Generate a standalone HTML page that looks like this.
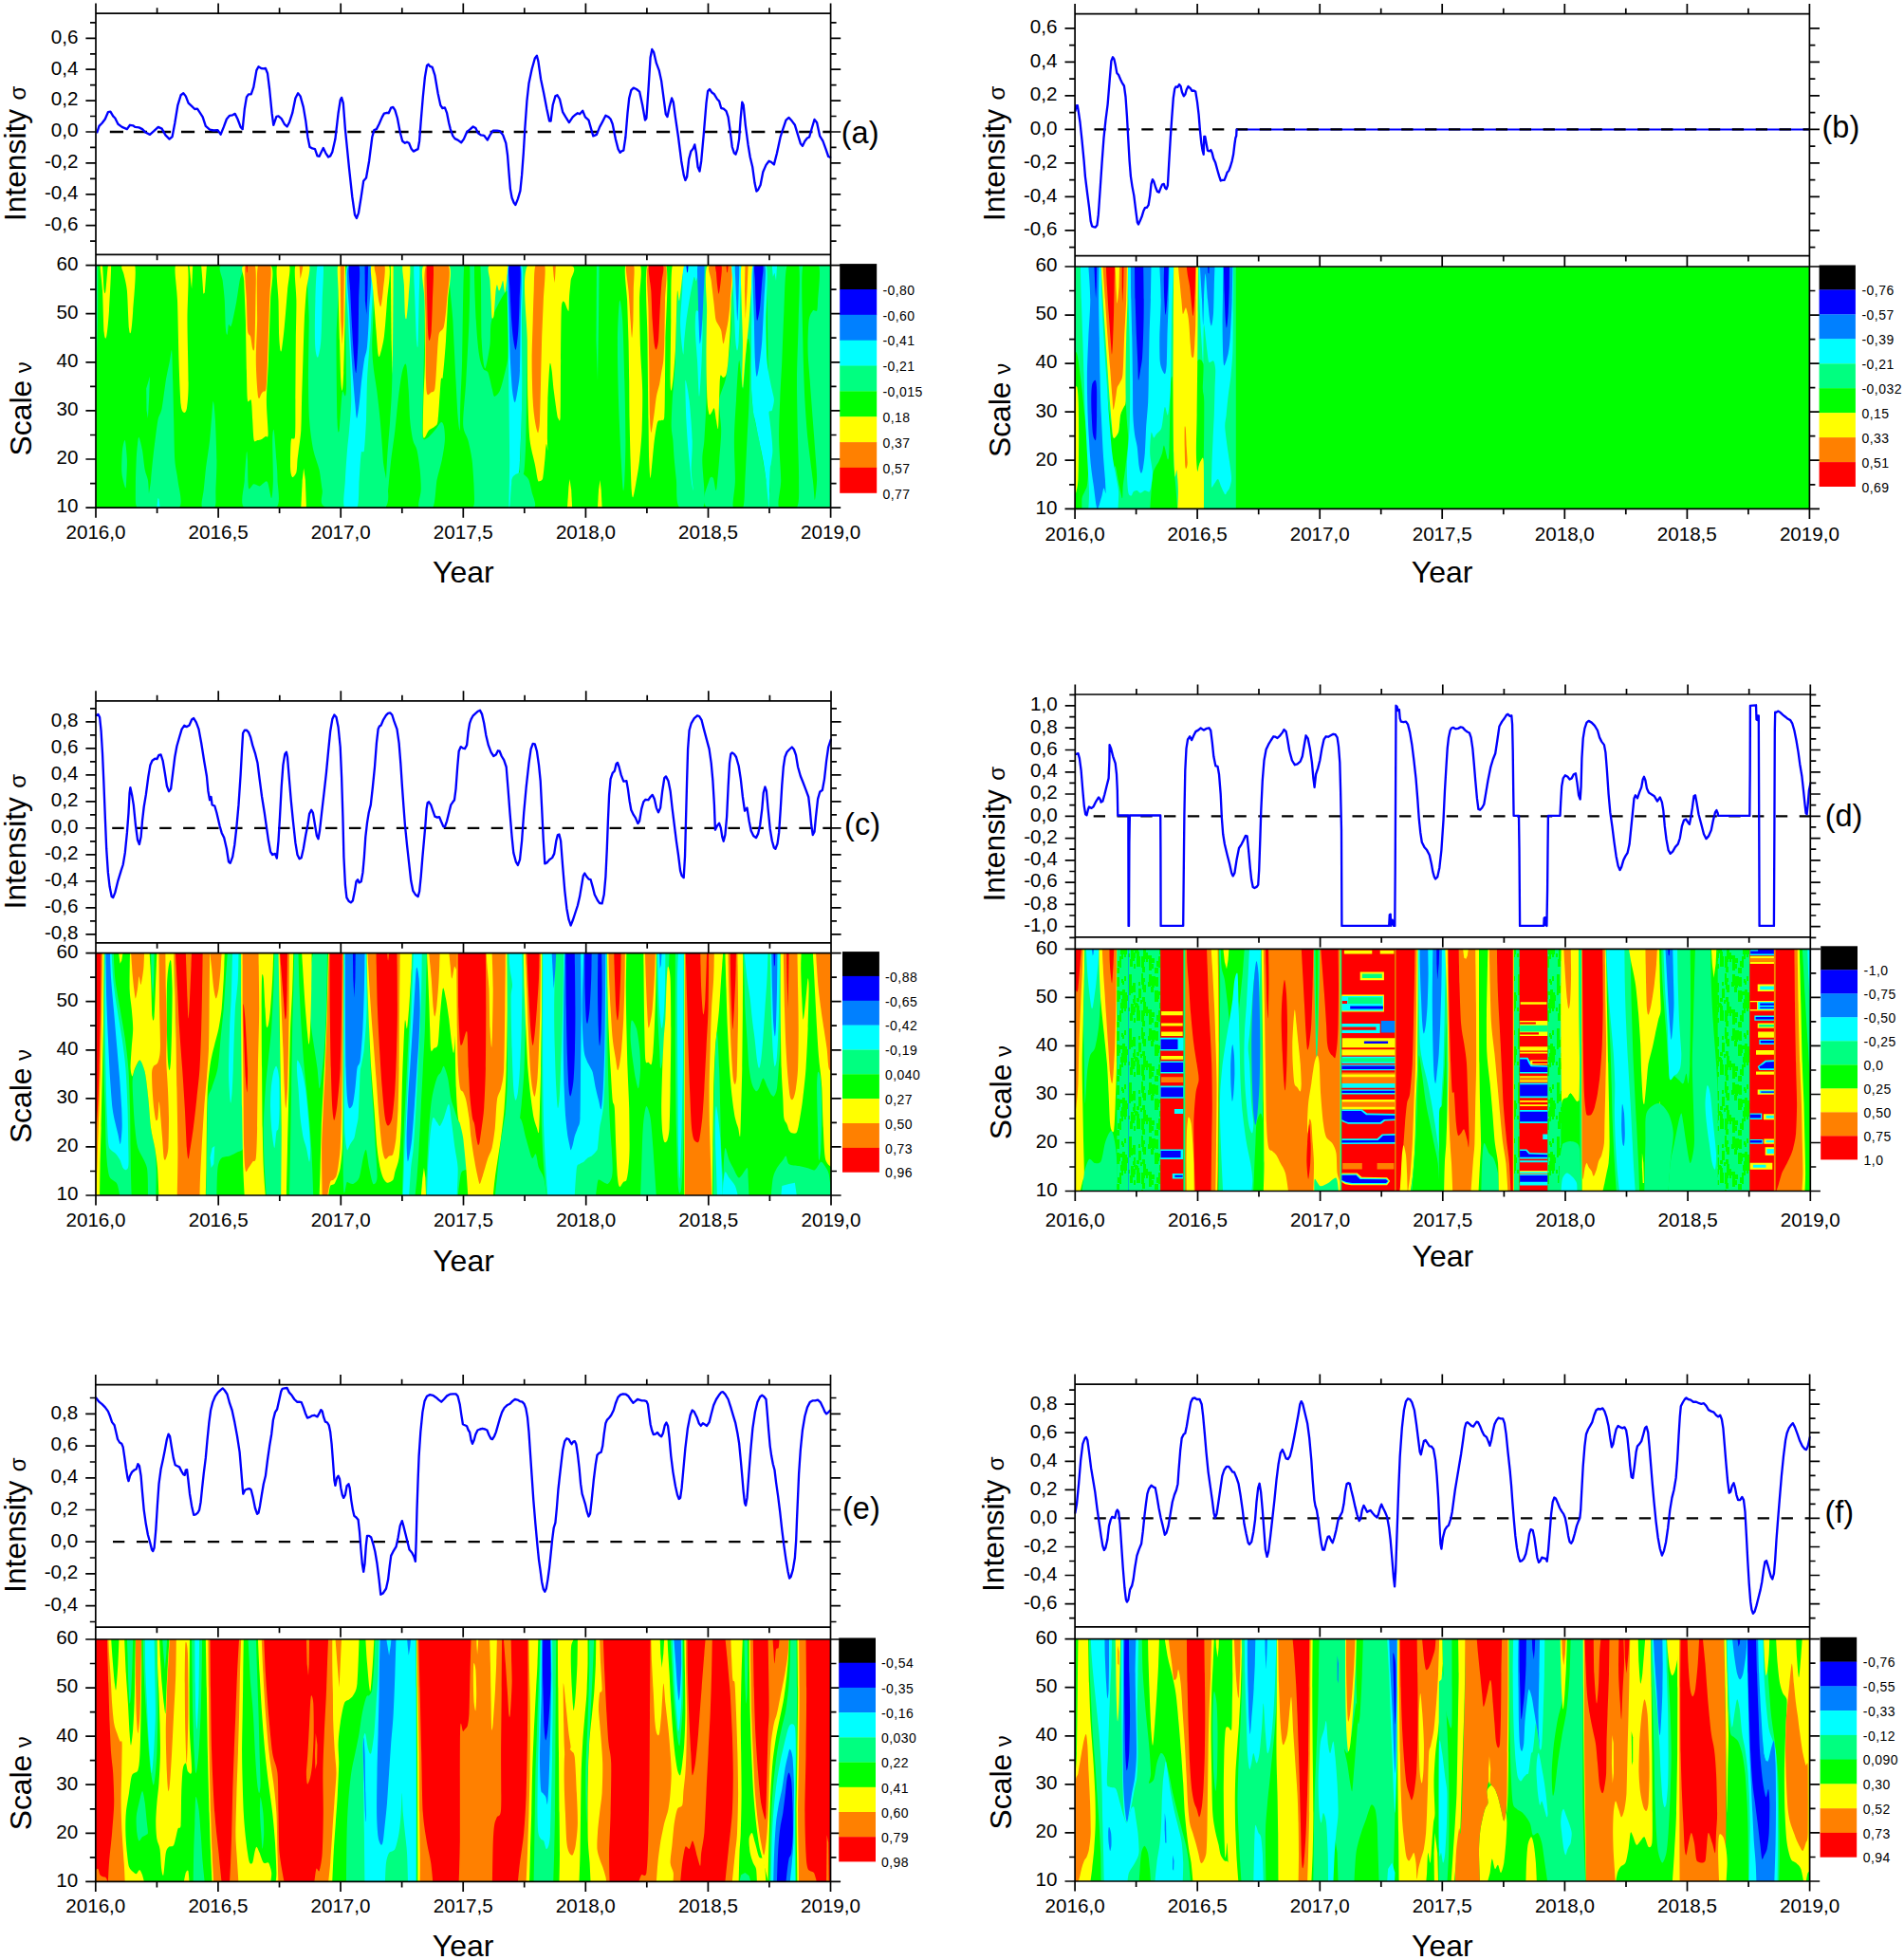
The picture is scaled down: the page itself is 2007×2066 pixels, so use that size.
<!DOCTYPE html>
<html><head><meta charset="utf-8"><title>Wavelet panels</title>
<style>html,body{margin:0;padding:0;background:#fff}svg{display:block}text{font-family:'Liberation Sans', Arial, sans-serif;fill:#000}</style>
</head><body>
<svg width="2007" height="2066" viewBox="0 0 2007 2066">
<rect width="2007" height="2066" fill="#fff"/>
<g id="panel-a">
<clipPath id="cha"><rect x="101" y="279.6" width="774.6" height="255.5"/></clipPath>
<g clip-path="url(#cha)">
<rect x="101" y="279.6" width="774.6" height="255.5" fill="#00FF00"/>
<path d="M100.9 280.3L103.4 280.3L103 338L101.3 401.1L100.9 401.1Z" fill="#00FF80"/>
<path d="M154.2 409.5L158 396.8L157 422.1L155.9 441L154.5 432.6Z" fill="#00FF80"/>
<path d="M181.1 369.5C181.6 372.5 181.9 390.8 182.2 401.1C182.5 411.3 182.9 431.3 183.2 443.1C183.5 454.8 183.7 476.3 184.3 485.1C184.9 493.9 186.8 499.2 187.4 506.1C188.1 513 193.2 530.7 189.1 534.7C185 538.7 162.2 538.7 158 534.7C153.8 530.7 158.5 514.5 159.1 506.1C159.7 497.7 161.2 483.4 162.2 474.6C163.3 465.8 165.3 449.2 166.4 443.1C167.6 436.9 169.5 436.3 170.6 430.5C171.8 424.6 173.7 408.1 174.8 401.1C176 394 178.2 384.5 179 380C179.9 375.6 180.7 366.6 181.1 369.5Z" fill="#00FF80"/>
<path d="M131.8 464.1C132.4 465.5 133.7 479.2 133.9 485.1C134.1 491 133.4 502 133.2 506.1C133 510.2 132.9 514.5 132.4 514.5C131.9 514.5 130.3 508.7 129.7 506.1C129.1 503.4 128.3 500 128.2 495.6C128.1 491.2 128.5 479 129 474.6C129.5 470.2 131.1 462.6 131.8 464.1Z" fill="#00FF80"/>
<path d="M146.5 460.9C147.2 461.8 149.2 469.7 150 474.6C150.9 479.4 151.9 491.2 152.8 495.6C153.6 500 155.3 502.6 155.9 506.1C156.5 509.6 156.7 516.8 157 520.8C157.3 524.8 159.8 532.7 158 534.7C156.3 536.6 146.5 537.2 144.4 534.7C142.3 532.1 143 523.5 142.9 516.6C142.8 509.7 143.4 491.8 143.7 485.1C144 478.3 144.6 471.7 145 468.3C145.4 464.9 145.8 460 146.5 460.9Z" fill="#00FF80"/>
<path d="M165.4 534.7L168.5 534.7L167.5 526.1L166.4 525Z" fill="#00FFFF"/>
<path d="M224.8 423.1C225.4 423.7 226.4 434.4 226.9 443.1C227.4 451.7 228.3 474.8 228.4 485.1C228.5 495.4 227.6 509.7 227.4 516.6C227.1 523.5 228.3 532.1 226.3 534.7C224.3 537.2 214.7 537.2 213.1 534.7C211.4 532.1 214.2 522.1 214.7 516.6C215.3 511.1 216 502.9 216.8 495.6C217.7 488.2 220.2 472 221.1 464.1C221.9 456.1 222.6 444.6 223.2 438.9C223.7 433.1 224.3 422.5 224.8 423.1Z" fill="#00FF80"/>
<path d="M232.6 280.3C235.5 278 252.9 278 255.7 280.3C258.5 282.5 253.4 290.9 252.6 296C251.7 301.2 250.4 311.1 249.4 317C248.4 322.9 246.1 334.2 245.2 338C244.3 341.8 243.7 343.7 243.1 344.3C242.5 344.9 241.5 341.1 241 342.2C240.5 343.4 240 352.1 239.5 352.7C239.1 353.3 238.2 351.4 237.9 346.4C237.5 341.4 237.2 324.1 236.8 317C236.4 310 235.3 301.2 234.7 296C234.1 290.9 229.7 282.5 232.6 280.3Z" fill="#00FF80"/>
<path d="M259.9 476.7C260.4 473.7 260.7 479.8 261 485.1C261.3 490.4 261.1 511 262 514.5C262.9 518 265.7 510.6 267.3 510.3C268.9 510 272.1 512.5 273.6 512.4C275 512.2 276.6 509.8 277.8 509.2C278.9 508.7 280.8 506 282 508.2C283.2 510.4 285.4 525.3 286.2 525C287 524.7 287.7 514.6 287.9 506.1C288 497.6 287.1 471.4 287.2 464.1C287.3 456.7 288.1 450.6 288.7 453.6C289.3 456.5 290.9 477.7 291.4 485.1C292 492.4 292.5 499.2 292.5 506.1C292.5 513 296.4 530.7 291.4 534.7C286.5 538.7 261.9 538.7 257.2 534.7C252.5 530.7 257.4 514.2 257.8 506.1C258.2 498 259.5 479.6 259.9 476.7Z" fill="#00FF80"/>
<path d="M326.1 280.3C330.3 272.2 351.5 269.2 355.5 280.3C359.5 291.3 354.5 336.2 354.5 359C354.5 381.8 355.1 429.8 355.5 443.1C355.9 456.3 356.9 457.7 357.6 453.6C358.3 449.5 359.7 419.8 360.8 413.7C361.8 407.5 364.2 428.1 365 409.5C365.7 390.8 362 298.3 366 280.3C370 262.2 389.6 267.8 393.3 280.3C397 292.8 391.7 350.9 392.3 369.5C392.9 388.2 396.3 403.4 397.5 413.7C398.7 423.9 399.8 433.1 400.7 443.1C401.6 453.1 403.1 472.3 403.8 485.1C404.6 497.9 414.3 527.7 405.9 534.7C397.5 541.6 353.2 537.2 343.9 534.7C334.7 532.1 340.8 522.1 339.7 516.6C338.7 511.1 337.9 501.5 336.6 495.6C335.3 489.7 331.8 481.9 330.3 474.6C328.8 467.2 326.8 453.4 326.1 443.1C325.4 432.8 325.1 415.8 325 401.1C325 386.3 325.5 354.9 325.7 338C325.8 321.1 321.9 288.3 326.1 280.3Z" fill="#00FF80"/>
<path d="M415.4 280.3C420 263.3 441.8 272.2 446.3 280.3C450.8 288.3 447.5 321.1 447.5 338C447.5 354.9 446.6 384.3 446.3 401.1C446 417.8 444.9 449.2 445.4 457.8C445.9 466.3 448.2 462.6 450 462C451.9 461.4 456.4 455.9 458.4 453.6C460.5 451.2 463.4 445.8 464.7 445.2C466.1 444.6 467.3 446.7 467.9 449.4C468.5 452 469.2 459.1 468.9 464.1C468.7 469.1 467 479.2 465.8 485.1C464.6 491 461.9 499.2 460.5 506.1C459.2 513 459 530.7 456.3 534.7C453.7 538.7 443.4 537.2 441.6 534.7C439.9 532.1 443.6 522.1 443.7 516.6C443.9 511.1 443.3 501.5 442.7 495.6C442.1 489.7 440.6 479 439.5 474.6C438.5 470.2 436.4 468.5 435.3 464.1C434.3 459.7 432.8 450.4 432.2 443.1C431.5 435.7 431.3 419.8 430.7 411.6C430.1 403.3 429 386.9 428 384.2C427 381.6 425 387.4 423.8 392.6C422.6 397.9 420.6 413.5 419.6 422.1C418.6 430.6 417.5 444.7 416.4 453.6C415.4 462.4 413.3 476.3 412.2 485.1C411.2 493.9 409.8 509.7 409.1 516.6C408.3 523.5 407.4 532.1 407 534.7C406.5 537.2 405.8 541.6 405.9 534.7C406.1 527.7 407.3 497.9 408 485.1C408.8 472.3 410.4 454.8 411.2 443.1C411.9 431.3 412.7 423.8 413.3 401.1C413.9 378.3 410.8 297.2 415.4 280.3Z" fill="#00FF80"/>
<path d="M474.2 280.3C476.7 272.2 492.1 254.5 495 280.3C497.9 306 496 440.7 495 464.1C494 487.5 489.3 448.7 487.9 447.3C486.4 445.8 485.4 454.7 484.7 453.6C484 452.4 483.2 446.2 482.6 438.9C482 431.5 481.2 415.2 480.5 401.1C479.8 386.9 478.2 354.9 477.4 338C476.5 321.1 471.7 288.3 474.2 280.3Z" fill="#00FF80"/>
<path d="M334.5 280.3C335.7 275.1 340.1 275.1 340.8 280.3C341.5 285.4 340.1 306 339.7 317C339.4 328 338.9 350.8 338.3 359C337.7 367.3 336.2 373.8 335.5 375.8C334.9 377.9 333.9 376.1 333.4 373.7C332.9 371.4 332.1 367 332 359C331.8 351.1 332 328 332.4 317C332.7 306 333.3 285.4 334.5 280.3Z" fill="#00FFFF"/>
<path d="M366 280.3C369.4 272.2 388.1 272.2 391.6 280.3C395.2 288.3 391.6 325.5 391.2 338C390.9 350.5 389.7 360.7 389.1 369.5C388.5 378.4 387.5 390.8 387 401.1C386.6 411.3 386.4 432.8 386 443.1C385.5 453.4 384.6 469.7 383.9 474.6C383.1 479.4 381.4 473.3 380.7 477.7C380 482.1 379.2 498.1 378.6 506.1C378 514.1 378.7 530.7 376.5 534.7C374.3 538.7 364.6 538.7 362.9 534.7C361.1 530.7 363.5 514.5 363.9 506.1C364.3 497.7 365.4 481.9 366 474.6C366.6 467.2 367.5 460.9 368.1 453.6C368.7 446.2 370.1 432.4 370.2 422.1C370.4 411.8 369.6 391.8 369.2 380C368.7 368.3 367.5 352 367.1 338C366.6 324.1 362.6 288.3 366 280.3Z" fill="#00FFFF"/>
<path d="M367.1 280.3C370.1 273.6 387.1 273.6 390.2 280.3C393.3 286.9 389.6 315.6 389.1 327.5C388.7 339.4 387.8 358 387 365.3C386.3 372.7 384.7 374.5 383.9 380C383 385.6 381.4 398.8 380.7 405.3C380 411.7 379.3 421.3 378.6 426.3C378 431.3 376.7 441 376.1 441C375.5 441 374.9 431.8 374.4 426.3C373.9 420.7 372.9 409 372.3 401.1C371.7 393.1 370.8 379.8 370.2 369.5C369.6 359.2 368.6 340 368.1 327.5C367.7 315 364 286.9 367.1 280.3Z" fill="#0080FF"/>
<path d="M368.1 280.3C369.4 276.6 377.2 275.1 378.6 280.3C380 285.4 378.3 306 378.2 317C378 328 377.9 348.4 377.6 359C377.2 369.6 376.1 389.7 375.5 392.6C374.9 395.6 373.9 386.2 373.4 380C372.8 373.9 371.8 358.8 371.3 348.5C370.7 338.2 369.6 316.1 369.2 306.5C368.7 297 366.8 283.9 368.1 280.3Z" fill="#0000FF"/>
<path d="M384.5 280.3L388.1 280.3L387.4 306.5L386.4 331.7L384.9 317Z" fill="#0000FF"/>
<path d="M436.4 280.3C437 275.1 441.3 275.1 442.1 280.3C442.8 285.4 441.8 305.4 441.6 317C441.4 328.6 440.9 357.4 440.6 363.2C440.2 369.1 439.6 365.5 439.1 359C438.7 352.6 437.8 328 437.4 317C437.1 306 435.7 285.4 436.4 280.3Z" fill="#00FFFF"/>
<path d="M105.5 280.3C105.5 276.6 107.4 276.6 108 280.3C108.6 283.9 109.2 302.8 109.7 306.5C110.2 310.2 110.8 310.2 111.4 306.5C112 302.8 113.1 283.9 113.9 280.3C114.7 276.6 116.9 273.6 117.1 280.3C117.2 286.9 115.6 317.1 115 327.5C114.3 338 113 351.6 112.2 354.8C111.5 358.1 110.3 357.4 109.7 350.6C109.1 343.9 108.6 316.4 108 306.5C107.4 296.7 105.5 283.9 105.5 280.3Z" fill="#FFFF00"/>
<path d="M128.6 280.3C130.2 278.9 140.7 273.6 142.3 280.3C143.9 286.9 140.8 317.8 140.2 327.5C139.6 337.2 138.7 346.9 138.1 349.6C137.5 352.2 136.6 352.5 136 346.4C135.4 340.4 134.6 314.5 133.9 306.5C133.1 298.6 131.4 293.4 130.7 289.7C130 286 127 281.6 128.6 280.3Z" fill="#FFFF00"/>
<path d="M184.9 280.3C186.4 275.1 196.2 272.2 197.9 280.3C199.7 288.3 197.4 320.5 197.5 338C197.6 355.5 198.7 392.3 198.6 405.3C198.5 418.2 197.6 426.3 196.9 430.5C196.2 434.6 194.6 435.3 193.7 434.7C192.9 434.1 191.3 433.9 190.6 426.3C189.9 418.6 189 395.3 188.5 380C188 364.7 187.5 331 187 317C186.5 303 183.4 285.4 184.9 280.3Z" fill="#FFFF00"/>
<path d="M199.6 280.3L203.2 280.3L202.1 304.4L201.1 296Z" fill="#FFFF00"/>
<path d="M212.2 280.3L217.9 280.3L215.8 308.6L214.3 309.7L213.1 291.8Z" fill="#FFFF00"/>
<path d="M256.8 280.3C260.8 278 281.8 275.1 285.8 280.3C289.7 285.4 285.5 303 285.1 317C284.7 331 283.6 365.3 283 380C282.4 394.7 281 411.2 280.9 422.1C280.9 432.9 282.8 452.5 282.6 457.8C282.5 463.1 280.8 459.1 279.9 459.9C278.9 460.6 276.8 462.4 275.7 463C274.5 463.6 272.6 463.9 271.5 464.1C270.4 464.2 268.4 467 267.7 464.1C267 461.1 266.6 448.9 266.2 443.1C265.8 437.2 265.5 425 264.7 422.1C264 419.1 261.6 426.5 261 422.1C260.3 417.6 260.2 402.3 259.9 390.5C259.6 378.8 259.2 351.3 258.9 338C258.5 324.8 257.5 304.1 257.2 296C256.9 287.9 252.8 282.5 256.8 280.3Z" fill="#FFFF00"/>
<path d="M258.4 280.3C259.7 275.1 267.4 275.1 268.9 280.3C270.5 285.4 269.5 305.1 269.4 317C269.3 328.9 268.8 358.3 268.3 365.3C267.9 372.4 266.8 368.9 266.2 367.4C265.6 366 264.9 357.5 264.1 354.8C263.4 352.2 261.6 353.8 261 348.5C260.4 343.2 260.3 326.6 259.9 317C259.6 307.5 257.2 285.4 258.4 280.3Z" fill="#FF8000"/>
<path d="M271.9 280.3C273.9 272.2 283.4 275.1 285.1 280.3C286.8 285.4 284.5 303 284.1 317C283.6 331 282.5 367.1 282 380C281.5 393 281.1 404.9 280.5 409.5C279.9 414 278.4 411.9 277.8 412.6C277.1 413.3 276.3 413.7 275.7 414.7C275 415.7 273.7 420.1 273.2 420C272.6 419.8 271.9 419.2 271.5 413.7C271 408.1 269.8 390.6 269.8 380C269.7 369.5 270.8 352 271.1 338C271.3 324.1 269.9 288.3 271.9 280.3Z" fill="#FF8000"/>
<path d="M259.5 280.3L261 280.3L260.5 287.6L259.9 286.6Z" fill="#FF0000"/>
<path d="M292.1 280.3C293.7 275.1 303.6 276.6 305.1 280.3C306.6 283.9 303.7 297.5 303 306.5C302.2 315.5 300.7 335.8 299.8 344.3C299 352.9 297.7 363.9 297.1 367.4C296.5 371 296 371.3 295.6 369.5C295.2 367.8 294.5 362.2 294.2 354.8C293.9 347.5 293.8 327.5 293.5 317C293.2 306.6 290.4 285.4 292.1 280.3Z" fill="#FFFF00"/>
<path d="M311.4 280.3C313.3 275.1 324.5 276.6 326.1 280.3C327.7 283.9 323.7 298.4 322.9 306.5C322.2 314.6 321.3 327.7 320.8 338C320.3 348.3 319.8 368.3 319.4 380C319 391.8 318.4 411.8 318.1 422.1C317.8 432.4 317.8 445.9 317.3 453.6C316.8 461.2 315.1 472.3 314.5 476.7C314 481.1 313.8 482.1 313.5 485.1C313.2 488 313.2 495.2 312.4 497.7C311.7 500.2 309.1 503.5 308.2 502.9C307.4 502.4 306.3 498.9 306.1 493.5C305.9 488 306.1 468.8 306.8 464.1C307.4 459.4 310.3 465.8 311 459.9C311.6 454 311.3 436.2 311.4 422.1C311.5 407.9 311.7 373.7 311.8 359C312 344.3 312.5 328 312.4 317C312.4 306 309.5 285.4 311.4 280.3Z" fill="#FFFF00"/>
<path d="M315.6 280.3L319.4 280.3L318.1 287.6L316.6 293.9Z" fill="#FF8000"/>
<path d="M317.3 534.7L322.9 534.7L321.9 506.1L320.2 493.5L318.7 506.1Z" fill="#FFFF00"/>
<path d="M356.1 280.3C357.2 276.6 362.9 272.2 363.9 280.3C364.9 288.3 363.7 322.3 363.5 338C363.3 353.8 362.6 382.4 362.2 392.6C361.8 402.9 361.2 410.4 360.8 411.6C360.3 412.7 359.7 408.4 359.3 401.1C358.9 393.7 358.4 372.3 358 359C357.6 345.8 356.8 317.5 356.6 306.5C356.3 295.5 355.1 283.9 356.1 280.3Z" fill="#FFFF00"/>
<path d="M358.7 280.3L362.9 280.3L362.2 338L360.8 363.2L359.3 338Z" fill="#FF8000"/>
<path d="M391.6 280.3C394 276.6 407.8 275.1 410.1 280.3C412.4 285.4 408.8 306.6 408 317C407.3 327.5 405.9 346.9 404.9 354.8C403.8 362.8 401.6 371.1 400.7 373.7C399.8 376.4 399.2 377.3 398.6 373.7C398 370.2 397.2 357.9 396.5 348.5C395.7 339.1 394 316.1 393.3 306.5C392.6 297 389.3 283.9 391.6 280.3Z" fill="#FFFF00"/>
<path d="M395 280.3C396.3 278.6 404.3 276.6 405.5 280.3C406.7 283.9 404.4 300.5 403.8 306.5C403.2 312.5 402 322.4 401.3 323.3C400.6 324.2 399.2 317.2 398.6 312.8C397.9 308.4 397 296.4 396.5 291.8C396 287.2 393.7 281.9 395 280.3Z" fill="#FF8000"/>
<path d="M411.8 280.3L414.7 280.3L414.3 338L413.7 395.8L412.6 359Z" fill="#FFFF00"/>
<path d="M424.4 280.3C425.3 277.5 431.3 275.7 432.2 280.3C433.1 284.8 431.2 305.2 430.7 312.8C430.2 320.5 429.1 332.2 428.6 334.9C428.1 337.5 427.3 336.6 426.9 331.7C426.6 326.9 426.2 307.4 425.9 300.2C425.5 293 423.5 283 424.4 280.3Z" fill="#FFFF00"/>
<path d="M446.3 280.3C449.9 275.1 470 275.1 473.6 280.3C477.2 285.4 472.6 306 472.1 317C471.6 328 470.7 347.9 470 359C469.3 370.2 467.6 391 466.8 396.8C466.1 402.7 465.5 394.6 464.7 401.1C464 407.5 462.5 436.3 461.6 443.1C460.7 449.8 459.8 447.9 458.4 449.4C457.1 450.8 453.6 452 452.1 453.6C450.7 455.2 448.8 460.3 447.9 460.9C447.1 461.5 446.1 463.2 445.8 457.8C445.6 452.3 446 432.9 446.3 422.1C446.6 411.2 447.8 394.7 447.9 380C448.1 365.3 447.8 331 447.5 317C447.3 303 442.6 285.4 446.3 280.3Z" fill="#FFFF00"/>
<path d="M449 280.3C452.4 272.2 469.6 275.1 472.7 280.3C475.8 285.4 471.7 308 471.1 317C470.4 326 469.1 339.3 467.9 344.3C466.7 349.3 463.7 347.7 462.6 352.7C461.6 357.7 461.1 372.1 460.5 380C460 388 459.3 404.7 458.4 409.5C457.6 414.2 455.4 412.8 454.2 413.7C453.1 414.5 451.2 417.5 450.5 415.8C449.7 414 449.3 411.9 449 401.1C448.7 390.2 448.6 354.9 448.6 338C448.6 321.1 445.6 288.3 449 280.3Z" fill="#FF8000"/>
<path d="M450 280.3C451 276.6 455.9 275.1 456.8 280.3C457.6 285.4 456.2 307.5 455.9 317C455.6 326.6 455.1 342.6 454.7 348.5C454.2 354.4 453.1 359 452.6 359C452.1 359 451.4 355.9 451.1 348.5C450.7 341.2 450.2 316.1 450 306.5C449.9 297 449.1 283.9 450 280.3Z" fill="#FF0000"/>
<path d="M485 280.3L537.5 280.3L537.5 534.7L485 534.7Z" fill="#00FF80"/>
<path d="M489.2 280.3C490.3 266.3 494.3 272.2 495.1 280.3C495.8 288.3 495 321.1 494.5 338C493.9 354.9 492.2 385.8 491.3 401.1C490.4 416.3 487.9 438.4 488.2 447.3C488.4 456.1 492.1 458.8 493.4 464.1C494.7 469.4 496.7 477.7 497.6 485.1C498.5 492.4 499.6 509.7 499.7 516.6C499.9 523.5 500.7 532.1 498.7 534.7C496.6 537.2 486.9 548.1 485 534.7C483.1 521.3 484.7 460.5 485 438.9C485.3 417.2 486.5 402.2 487.1 380C487.7 357.8 488.1 294.2 489.2 280.3Z" fill="#00FF00"/>
<path d="M500.1 280.3C500.8 272.2 505.4 269.2 506.4 280.3C507.5 291.3 507 343.9 507.7 359C508.4 374.2 510 387.9 511.3 388.4C512.5 389 515.5 370.6 516.5 363.2C517.5 355.9 516.1 343.9 518.6 335.9C521.1 328 532 306.2 534.4 306.5C536.8 306.8 535.7 328.3 535.8 338C536 347.7 535.9 368.2 535.4 375.8C534.9 383.5 533.4 387.6 532.3 392.6C531.1 397.6 528.6 408 527 411.6C525.5 415.1 522.3 418.2 521.1 417.9C520 417.6 519.6 413 518.6 409.5C517.7 405.9 515.7 395.6 514.4 392.6C513.1 389.7 510.5 391.1 509.2 388.4C507.8 385.8 506 380.8 505 373.7C503.9 366.7 502.5 351.1 501.8 338C501.1 324.9 499.5 288.3 500.1 280.3Z" fill="#00FF00"/>
<path d="M550.5 280.3C551.4 263.3 555.7 272.2 556.4 280.3C557.2 288.3 556.2 321.1 556 338C555.9 354.9 555.6 383.4 555.4 401.1C555.1 418.7 554.7 450.8 554.3 464.1C553.9 477.3 553.2 490.3 552.6 495.6C552.1 500.9 550.8 501.6 550.1 501.9C549.5 502.2 548.1 505.9 548 497.7C548 489.5 549.4 456.6 549.7 443.1C550.1 429.5 550.4 423.8 550.5 401.1C550.7 378.3 549.7 297.2 550.5 280.3Z" fill="#00FF80"/>
<path d="M540 504C541.4 498.8 546 498 548 497.7C550 497.4 553 500.7 554.3 501.9C555.7 503.1 556.6 503.7 557.5 506.1C558.4 508.4 559.8 514.7 560.6 518.7C561.4 522.7 566.2 532.4 563.2 534.7C560.1 536.9 541.8 539 538.6 534.7C535.3 530.4 538.7 509.2 540 504Z" fill="#00FF80"/>
<path d="M653.1 317C653.8 314.1 655.5 326.3 656.2 338C657 349.8 657.9 383.4 658.3 401.1C658.8 418.7 659.4 449.4 659.4 464.1C659.4 478.8 658.7 498.7 658.3 506.1C658 513.4 657.3 519.5 656.8 516.6C656.3 513.7 655.4 498.3 654.7 485.1C654.1 471.8 652.5 439.7 652 422.1C651.5 404.4 650.8 373.7 651 359C651.1 344.3 652.3 320 653.1 317Z" fill="#00FF80"/>
<path d="M628.9 280.3L631.6 280.3L631 338L630 401.1L628.5 359Z" fill="#00FF80"/>
<path d="M714 317C715.3 303 716.9 285.4 721.3 280.3C725.8 275.1 742.2 269.2 745.5 280.3C748.8 291.3 745.2 339.2 745.1 359C744.9 378.9 744.8 407.4 744.5 422.1C744.1 436.8 742.9 455.3 742.4 464.1C741.8 472.9 740.4 475.2 740.3 485.1C740.1 495 744.7 527.7 741.3 534.7C737.9 541.6 720.1 538.7 716.1 534.7C712.1 530.7 713.7 513 712.9 506.1C712.2 499.2 711.3 491 710.8 485.1C710.3 479.2 709.8 469.1 709.4 464.1C708.9 459.1 707.8 455.3 707.7 449.4C707.6 443.5 708.2 431.8 708.7 422.1C709.3 412.4 711.2 394.7 711.9 380C712.6 365.3 712.7 331 714 317Z" fill="#00FF80"/>
<path d="M758.1 422.1C758.8 414.1 763.7 407.1 765.5 396.8C767.2 386.6 769.8 364.9 770.7 348.5C771.6 332.2 768.5 289.8 771.8 280.3C775 270.7 791 272.2 793.8 280.3C796.7 288.3 792.4 321.1 792.1 338C791.8 354.9 791.5 387.8 791.7 401.1C792 414.3 792.6 423.7 793.8 432.6C795 441.4 798.2 453.8 800.1 464.1C802 474.4 806 496.2 807.5 506.1C808.9 516 819.3 530.7 810.6 534.7C802 538.7 754.3 538.7 745.5 534.7C736.7 530.7 746.7 510.4 747.6 506.1C748.5 501.8 750.8 502.5 751.8 504C752.8 505.5 754.1 519.2 755 516.6C755.8 513.9 757.4 493.9 758.1 485.1C758.8 476.3 760.2 462.4 760.2 453.6C760.2 444.7 757.4 430 758.1 422.1Z" fill="#00FF80"/>
<path d="M779.1 380C780.1 378.3 782.1 412.4 783.3 409.5C784.5 406.5 786.5 364.6 787.5 359C788.6 353.4 790.4 360.7 790.7 369.5C791 378.4 790.1 408.8 789.6 422.1C789.2 435.3 788.1 452.3 787.5 464.1C786.9 475.8 786 496.2 785.4 506.1C784.8 516 785.1 530.7 783.3 534.7C781.6 538.7 774 538.7 772.8 534.7C771.6 530.7 774.8 516 774.9 506.1C775.1 496.2 773.7 475.8 773.9 464.1C774 452.3 775.2 433.8 776 422.1C776.7 410.3 778.1 381.8 779.1 380Z" fill="#00FF00"/>
<path d="M808.1 280.3L875.8 280.3L875.8 534.7L811.7 534.7Z" fill="#00FF80"/>
<path d="M829.5 280.3C831.7 273.6 840.4 272.2 842.1 280.3C843.8 288.3 842 321.1 841.7 338C841.4 354.9 840.1 383.4 840 401.1C840 418.7 840.8 449.4 841.1 464.1C841.4 478.8 842.3 496.2 842.1 506.1C842 516 843 530.7 840 534.7C837.1 538.7 823.5 538.7 821.1 534.7C818.8 530.7 823.2 516 823.2 506.1C823.2 496.2 821.3 475.8 821.1 464.1C821 452.3 821.7 433.8 822.2 422.1C822.6 410.3 823.7 393.3 824.3 380C824.9 366.8 825.7 341.5 826.4 327.5C827.1 313.6 827.3 286.9 829.5 280.3Z" fill="#00FF00"/>
<path d="M846.3 280.3C848.7 269.2 860.9 275.1 863.2 280.3C865.4 285.4 862.4 310.4 862.1 317C861.8 323.6 861.8 326.1 861.1 327.5C860.3 329 858 326.1 856.8 327.5C855.7 329 853.4 332.1 852.6 338C851.9 343.9 851.4 360.7 851.6 369.5C851.7 378.4 853 390.8 853.7 401.1C854.4 411.3 856 431.3 856.8 443.1C857.7 454.8 859.4 476.3 860 485.1C860.6 493.9 861.2 500.2 861.1 506.1C860.9 512 859.5 527.1 858.9 527.1C858.4 527.1 857.9 514.9 856.8 506.1C855.8 497.3 852.8 475.8 851.6 464.1C850.4 452.3 849.2 436.8 848.4 422.1C847.7 407.4 846.6 378.9 846.3 359C846.1 339.2 844 291.3 846.3 280.3Z" fill="#00FF00"/>
<path d="M515.5 280.3C518.1 278 532.4 278.6 535 280.3C537.6 281.9 534.8 287.8 534.4 291.8C534 295.8 532.9 308 532.3 308.6C531.7 309.2 530.8 296.9 530.2 296C529.6 295.1 528.7 300.8 528.1 302.3C527.5 303.8 526.6 306.8 526 306.5C525.4 306.2 524.4 299.9 523.9 300.2C523.4 300.5 522.8 304.2 522.4 308.6C522 313 521.2 328 520.7 331.7C520.2 335.4 519.1 336.9 518.6 334.9C518.2 332.8 517.9 322.5 517.6 317C517.3 311.6 516.8 301.2 516.5 296C516.2 290.9 512.9 282.5 515.5 280.3Z" fill="#FFFF00"/>
<path d="M535.4 280.3C537.5 269.2 548.5 272.2 550.5 280.3C552.6 288.3 550.1 321.1 550.1 338C550.1 354.9 550.6 386.3 550.5 401.1C550.5 415.8 550.1 431.3 549.7 443.1C549.4 454.8 548.4 477.4 548 485.1C547.6 492.7 547.6 495.6 547 497.7C546.4 499.7 544.8 498.9 543.8 499.8C542.9 500.7 540.8 501.6 540 504C539.3 506.3 538.9 512.3 538.6 516.6C538.2 520.9 537.8 532.1 537.5 534.7C537.2 537.2 536.5 541.6 536.5 534.7C536.4 527.7 537.1 500.8 537.1 485.1C537.1 469.3 536.6 439.7 536.5 422.1C536.3 404.4 536 378.9 535.8 359C535.7 339.2 533.4 291.3 535.4 280.3Z" fill="#00FFFF"/>
<path d="M536.1 280.3C537.8 272.2 547.3 272.2 549.1 280.3C550.8 288.3 548.8 322.6 548.7 338C548.5 353.5 548.4 380.5 548 390.5C547.6 400.5 546.7 404.7 545.9 409.5C545.2 414.2 543.6 423.9 542.8 424.2C541.9 424.5 540.7 417.7 540 411.6C539.4 405.4 538.4 390.3 537.9 380C537.5 369.7 536.9 352 536.7 338C536.4 324.1 534.3 288.3 536.1 280.3Z" fill="#0080FF"/>
<path d="M536.7 280.3C538.2 276.6 546.5 275.1 548 280.3C549.6 285.4 547.8 307.5 547.6 317C547.4 326.6 546.9 341.3 546.3 348.5C545.8 355.7 544.5 367 543.8 368.5C543.1 370 541.9 363.3 541.3 359C540.7 354.8 539.7 345.4 539.2 338C538.7 330.7 537.9 314.6 537.5 306.5C537.2 298.4 535.2 283.9 536.7 280.3Z" fill="#0000FF"/>
<path d="M556 280.3C562.6 269.2 596.3 278 602.6 280.3C609 282.5 601.9 291.4 601.6 296C601.2 300.6 600.4 308.4 600.1 312.8C599.8 317.2 599.9 325.9 599.5 327.5C599.1 329.1 598 325.5 597.4 324.4C596.8 323.2 595.9 320 595.3 319.1C594.7 318.2 593.7 316.9 593.2 318.1C592.7 319.2 592 318.8 591.7 327.5C591.4 336.2 591.2 364.5 591.1 380C590.9 395.6 591.1 430.3 590.7 438.9C590.3 447.4 588.9 441.6 588.4 441C587.8 440.4 587.5 438.8 586.9 434.7C586.2 430.5 584.5 417.7 583.7 411.6C583 405.4 582.2 394.4 581.6 390.5C581.1 386.7 580.1 379.8 579.5 384.2C578.9 388.7 577.8 410.9 577.4 422.1C577.1 433.2 577 456.7 577 464.1C577 471.4 577.6 474 577.4 474.6C577.3 475.2 576.2 466.8 575.8 468.3C575.3 469.7 574.8 480.1 574.3 485.1C573.8 490.1 572.9 500.9 572.2 504C571.4 507.1 569.8 506.8 569 507.1C568.3 507.4 567.7 508.6 566.9 506.1C566.2 503.6 565 495.2 563.8 489.3C562.6 483.4 559.6 473.5 558.5 464.1C557.5 454.7 556.8 436.8 556.4 422.1C556 407.4 555.9 378.9 555.8 359C555.7 339.2 549.4 291.3 556 280.3Z" fill="#FFFF00"/>
<path d="M564.4 280.3C566 276.6 573.1 275.1 574.3 280.3C575.5 285.4 573.3 306 572.8 317C572.4 328 571.5 347.3 571.1 359C570.8 370.8 570.4 389.3 570.1 401.1C569.8 412.8 569.4 435.4 569 443.1C568.7 450.7 567.8 454.2 567.4 455.7C566.9 457.1 566.4 455.3 565.9 453.6C565.4 451.8 564.4 447.5 563.8 443.1C563.2 438.7 562.1 430.9 561.7 422.1C561.2 413.2 560.6 391.8 560.6 380C560.6 368.3 561.4 348.3 561.7 338C562 327.7 562.3 314.6 562.7 306.5C563.1 298.4 562.8 283.9 564.4 280.3Z" fill="#FF8000"/>
<path d="M582.7 280.3L585.8 280.3L584.8 298.1L583.7 291.8Z" fill="#FF8000"/>
<path d="M598 534.7L603.1 534.7L602.2 516.6L600.5 505L599.5 512.4Z" fill="#FFFF00"/>
<path d="M630 534.7L634.6 534.7L633.7 516.6L632.5 506.1L631 516.6Z" fill="#FFFF00"/>
<path d="M659.4 280.3C661.3 275.1 673.1 275.1 675.1 280.3C677.2 285.4 674.1 304.5 674.1 317C674.1 329.5 674.7 356.3 675.1 369.5C675.6 382.8 677 399.8 677.2 411.6C677.4 423.3 677 443.3 676.6 453.6C676.2 463.9 674.9 477.7 674.1 485.1C673.3 492.4 671.9 500.7 670.9 506.1C670 511.5 668.1 522.5 667.4 523.9C666.6 525.4 666.1 522 665.7 516.6C665.3 511.2 664.9 495.4 664.6 485.1C664.3 474.8 663.8 454.8 663.6 443.1C663.4 431.3 663.3 412.8 663.2 401.1C663 389.3 662.8 370.8 662.5 359C662.2 347.3 661.5 328 661.1 317C660.6 306 657.4 285.4 659.4 280.3Z" fill="#FFFF00"/>
<path d="M660 280.3C660.8 276.6 667.1 276.6 668.2 280.3C669.3 283.9 667.9 298.4 667.8 306.5C667.7 314.6 667.6 331.1 667.4 338C667.1 344.9 666.5 355.9 666.1 355.9C665.7 355.9 665.1 344.9 664.6 338C664.1 331.1 663.2 314.6 662.5 306.5C661.9 298.4 659.2 283.9 660 280.3Z" fill="#FF8000"/>
<path d="M682.1 280.3C684.9 269.2 699.7 269.2 702.4 280.3C705.1 291.3 701.6 342.1 701.4 359C701.2 375.9 701.1 389.9 701 401.1C700.8 412.2 700.9 433 700.3 438.9C699.8 444.7 698.2 442.2 697.2 443.1C696.2 443.9 694 442.2 693 445.2C692 448.1 690.6 458.5 689.8 464.1C689.1 469.7 688.3 479.5 687.7 485.1C687.1 490.7 686.1 504 685.6 504C685.1 504 684.5 493.6 684.2 485.1C683.9 476.6 683.8 460.7 683.5 443.1C683.3 425.4 682.7 381.8 682.5 359C682.3 336.2 679.3 291.3 682.1 280.3Z" fill="#FFFF00"/>
<path d="M682.9 280.3C685.5 273.6 699.3 275.1 701.8 280.3C704.3 285.4 701.2 306 701 317C700.8 328 700.6 350.2 700.3 359C700.1 367.9 699.7 375.3 699.3 380C698.8 384.7 697.8 389.1 697.2 392.6C696.6 396.2 695.8 401.7 695.1 405.3C694.3 408.8 692.7 413.7 691.9 417.9C691.2 422 690.4 430.3 689.8 434.7C689.2 439.1 688.2 446.4 687.7 449.4C687.2 452.3 686.6 457.1 686.3 455.7C685.9 454.2 685.3 449.5 685 438.9C684.7 428.3 684.4 395.6 684.2 380C684 364.5 683.7 341.5 683.5 327.5C683.4 313.6 680.3 286.9 682.9 280.3Z" fill="#FF8000"/>
<path d="M684.2 280.3C685.9 276.6 697 278 698.9 280.3C700.7 282.5 698 290.9 697.6 296C697.2 301.2 696.5 311.1 696.1 317C695.8 322.9 695.4 332.1 695.1 338C694.8 343.9 694.5 354.8 694 359C693.6 363.3 692.5 367.9 691.9 368.5C691.3 369.1 690.4 367.5 689.8 363.2C689.2 359 688.2 346 687.7 338C687.2 330.1 686.8 314.6 686.3 306.5C685.8 298.4 682.4 283.9 684.2 280.3Z" fill="#FF0000"/>
<path d="M708.7 280.3C710.6 272.2 719.2 278.6 720.7 280.3C722.2 281.9 719.9 286.7 719.2 291.8C718.6 297 716.8 315 716.1 317C715.4 319.1 714.4 303.6 714 306.5C713.6 309.5 713.2 329.2 712.9 338C712.6 346.8 712.3 361.3 711.9 369.5C711.4 377.8 710.4 391 709.8 396.8C709.2 402.7 708.1 411 707.7 411.6C707.2 412.1 706.7 411.3 706.6 401.1C706.6 390.8 707 354.9 707.3 338C707.6 321.1 706.9 288.3 708.7 280.3Z" fill="#FFFF00"/>
<path d="M721.3 280.3C723.7 276.6 734.3 278 736.1 280.3C737.8 282.5 734.5 294.4 733.9 296C733.4 297.6 732.4 291.2 731.8 291.8C731.3 292.4 730.5 296.7 729.7 300.2C729 303.7 727.5 311.7 726.6 317C725.7 322.3 724.2 332.1 723.4 338C722.7 343.9 721.8 354 721.3 359C720.9 364 720.7 373.7 720.3 373.7C719.9 373.7 718.6 364 718.2 359C717.8 354 717 345.4 717.1 338C717.3 330.7 718.7 314.6 719.2 306.5C719.8 298.4 719 283.9 721.3 280.3Z" fill="#00FFFF"/>
<path d="M733.9 327.5C735 326.1 739.5 330.7 740.3 338C741 345.4 740.1 368.9 739.6 380C739.2 391.2 737.7 417.9 737.1 417.9C736.5 417.9 735.6 389.7 735 380C734.4 370.3 733 355.9 732.9 348.5C732.8 341.2 732.9 329 733.9 327.5Z" fill="#00FFFF"/>
<path d="M735.4 280.3C736.4 276.6 741.5 275.1 742.4 280.3C743.2 285.4 741.7 307.5 741.3 317C740.9 326.6 740.1 342.2 739.6 348.5C739.1 354.9 738.2 363.7 737.7 362.2C737.3 360.7 736.8 345.8 736.5 338C736.2 330.2 735.8 314.6 735.6 306.5C735.5 298.4 734.5 283.9 735.4 280.3Z" fill="#0080FF"/>
<path d="M723.4 280.3L725.5 280.3L724.9 287.6L724.1 286.6Z" fill="#0000FF"/>
<path d="M722.4 401.1C722.8 398.1 725.6 413.2 726.6 422.1C727.6 430.9 729.5 453.8 729.7 464.1C730 474.4 728.6 488.2 728.7 495.6C728.8 502.9 730.8 515.1 730.8 516.6C730.8 518.1 729.4 512 728.7 506.1C728 500.2 726.3 483.4 725.5 474.6C724.8 465.8 723.9 453.4 723.4 443.1C723 432.8 722 404 722.4 401.1Z" fill="#00FFFF"/>
<path d="M745.5 280.3C749.2 273.6 767.6 275.1 771.1 280.3C774.7 285.4 770.9 307.5 770.7 317C770.5 326.6 770.1 339.7 769.7 348.5C769.2 357.4 768.2 373.6 767.6 380C767 386.5 766.2 392.2 765.5 394.7C764.7 397.2 763.2 397.6 762.3 397.9C761.4 398.2 759.7 393.5 759.2 396.8C758.6 400.2 758.4 414.4 758.1 422.1C757.8 429.7 757.5 448.5 757.1 451.5C756.6 454.4 755.5 446 755 443.1C754.4 440.1 753.5 431.6 752.9 430.5C752.2 429.3 750.9 433.8 750.1 434.7C749.4 435.5 748.3 438.5 747.6 436.8C747 435 745.9 430 745.5 422.1C745.1 414.1 744.5 393.3 744.5 380C744.4 366.8 744.9 341.5 745.1 327.5C745.2 313.6 741.9 286.9 745.5 280.3Z" fill="#FFFF00"/>
<path d="M748 280.3C750.9 278 767.3 275.1 770.3 280.3C773.3 285.4 770 308.9 769.7 317C769.3 325.1 768.3 332.7 767.6 338C766.8 343.3 765.1 351.4 764.4 354.8C763.7 358.2 762.9 363.1 762.3 362.2C761.7 361.3 760.9 351.3 760.2 348.5C759.5 345.7 757.9 344 757.1 342.2C756.2 340.5 755 339.5 754.3 335.9C753.7 332.4 752.9 322.6 752.2 317C751.6 311.4 750.3 301.2 749.7 296C749.1 290.9 745.1 282.5 748 280.3Z" fill="#FF8000"/>
<path d="M754.3 280.3C755.1 279.2 759.9 278 760.6 280.3C761.4 282.5 760.2 291.9 759.8 296C759.4 300.1 758.2 309.1 757.7 309.7C757.2 310.3 756.4 303.3 756 300.2C755.6 297.1 755.2 290.4 755 287.6C754.7 284.8 753.5 281.3 754.3 280.3Z" fill="#FF0000"/>
<path d="M765.5 280.3L767.6 280.3L766.9 287.6L766.1 286.6Z" fill="#FF0000"/>
<path d="M771.8 280.3C773 278 780 275.1 781.2 280.3C782.4 285.4 780.5 306 780.2 317C779.8 328 779.1 351.7 778.7 359C778.3 366.4 777.5 369.5 777 369.5C776.5 369.5 775.8 364.9 775.3 359C774.9 353.2 774.3 336.3 773.9 327.5C773.5 318.7 772.7 302.6 772.4 296C772.1 289.4 770.5 282.5 771.8 280.3Z" fill="#00FFFF"/>
<path d="M774.9 280.3C775.4 278 778.6 276.6 779.1 280.3C779.6 283.9 778.9 298.4 778.7 306.5C778.5 314.6 777.8 336.6 777.4 338C777.1 339.5 776.5 322.9 776.2 317C775.9 311.1 775.5 301.2 775.3 296C775.2 290.9 774.4 282.5 774.9 280.3Z" fill="#0080FF"/>
<path d="M781.6 280.3C783.3 275.1 792 276.6 793.4 280.3C794.8 283.9 792.3 298.4 791.7 306.5C791.2 314.6 790.2 330.7 789.6 338C789 345.4 788.1 353.2 787.5 359C786.9 364.9 786 373.3 785.4 380C784.8 386.8 783.8 404.4 783.3 407.4C782.9 410.3 782.3 407.8 782.3 401.1C782.2 394.3 783 370.8 782.9 359C782.8 347.3 781.8 328 781.6 317C781.5 306 780 285.4 781.6 280.3Z" fill="#FFFF00"/>
<path d="M785.4 280.3L788.6 280.3L787.5 306.5L785.8 335.9L785 306.5Z" fill="#FF8000"/>
<path d="M793.4 280.3C795.6 272.2 806.1 272.2 808.1 280.3C810.1 288.3 807.4 324.1 807.5 338C807.5 352 807.9 371.2 808.5 380C809.1 388.9 810.9 396.3 811.7 401.1C812.5 405.8 813.8 410.7 814.4 413.7C815 416.6 816 419.4 815.9 422.1C815.8 424.7 814.5 430.8 813.8 432.6C813 434.3 810.8 431.7 810.6 434.7C810.5 437.6 812.2 448 812.7 453.6C813.3 459.2 814.4 469.6 814.4 474.6C814.4 479.6 813.1 486.3 812.7 489.3C812.3 492.2 812 489.2 811.7 495.6C811.4 501.9 810.9 530.3 810.6 534.7C810.3 539.1 810 531.1 809.6 527.1C809.1 523.1 808.2 512 807.5 506.1C806.7 500.2 805.4 491 804.3 485.1C803.3 479.2 801.3 470 800.1 464.1C798.9 458.2 796.8 447.5 795.9 443.1C795 438.7 794.4 438.4 793.8 432.6C793.2 426.7 792 414.3 791.7 401.1C791.5 387.8 791.9 354.9 792.1 338C792.4 321.1 791.2 288.3 793.4 280.3Z" fill="#00FFFF"/>
<path d="M813.8 280.3L819 280.3L818 296L816.5 287.6L814.8 291.8Z" fill="#00FFFF"/>
<path d="M794.2 280.3C795.9 272.2 804.9 275.1 806.4 280.3C808 285.4 805.8 306 805.4 317C804.9 328 804 349.3 803.3 359C802.5 368.7 800.9 381.1 800.1 386.3C799.3 391.6 798.2 397.7 797.6 396.8C797 396 796.3 388.3 795.9 380C795.5 371.8 795.1 352 794.9 338C794.6 324.1 792.6 288.3 794.2 280.3Z" fill="#0080FF"/>
<path d="M795.5 280.3C796.7 278 803.2 278 804.3 280.3C805.4 282.5 803.7 290 803.3 296C802.8 302 801.9 317.4 801.2 323.3C800.4 329.2 798.7 338.9 798 338C797.4 337.1 796.8 322.9 796.6 317C796.3 311.1 796.1 301.2 795.9 296C795.8 290.9 794.3 282.5 795.5 280.3Z" fill="#0000FF"/>
</g>
<clipPath id="cla"><rect x="100" y="14.2" width="776.6" height="254.1"/></clipPath>
<path d="M115.8 139H875.6" stroke="#000" stroke-width="2.3" stroke-dasharray="14.2 10.85" fill="none"/>
<path d="M102.4 139.4 L104.5 132.9 L107.6 129.7 L110.8 125.5 L113.9 118.2 L116.4 117.6 L119.2 122.4 L121.3 124.5 L124.4 130.8 L128.6 133.9 L133.9 136.1 L137 131.8 L140.2 132.3 L142.3 133.9 L146.5 134.4 L150 136.1 L153.8 139.8 L158 141.9 L162.2 138.2 L166.8 133.9 L170.6 135.6 L174.4 142.4 L178.6 146.6 L181.6 144 L184.3 129.7 L187.4 110.8 L190.6 100.3 L193.3 98.2 L195.8 101.4 L198.6 108.7 L202.1 111.9 L205.3 115 L208 114.6 L211 119.2 L213.7 123.4 L216.8 132.9 L221.1 136.7 L225.3 137.5 L229.5 137.1 L232.6 141.7 L235.8 133.9 L238.9 125.5 L242.1 121.8 L245.2 121.3 L247.7 119.9 L250.5 125.5 L253.6 133.9 L255.7 136.1 L257.8 115 L259.9 102.4 L262 99.3 L264.7 99.3 L267.3 91.9 L270.4 74.1 L272.5 70.3 L275.3 72 L277.8 72.4 L279.9 72 L282 77.2 L284.1 94 L286.6 119.2 L288.3 131.8 L291.4 122.8 L293.5 122.4 L296.7 125.1 L299.8 130.8 L302.6 133.5 L305.1 128.7 L308.2 119.2 L311.4 103.5 L314.1 98.2 L316.6 101.4 L319.8 112.9 L322.3 127.6 L324.4 144.5 L326.5 155 L329.2 156.4 L332 157.1 L334.5 164.4 L336.6 164.8 L338.7 160.2 L340.8 156 L343.3 161.3 L346.1 165.5 L348.2 164.4 L350.3 160.2 L353.4 146.6 L356.6 119.2 L358.7 105.6 L360.1 102.9 L361.8 108.7 L363.9 136.1 L368.1 178.1 L371.3 207.5 L374 226.4 L375.9 230 L378 224.3 L380.7 207.5 L383.2 190.7 L386 187.5 L389.1 169.7 L392.3 144.5 L394.4 137.1 L396.9 136.1 L399.6 130.8 L402.8 123.4 L404.9 119.7 L408 118.8 L409.7 119.2 L412.2 113.6 L414.3 112.9 L416.4 116.1 L418.9 124.5 L421.7 139.2 L424.2 148.7 L426.9 150.8 L429 149.7 L431.1 150.8 L433.7 157.1 L435.8 159.6 L438.5 158.1 L440.6 157.1 L442.1 148.7 L443.7 127.6 L445.8 102.4 L447.9 81.4 L450 69.2 L451.5 67.8 L453.2 69.9 L455.7 70.9 L458.4 79.3 L461.6 98.2 L464.3 110.8 L466.4 114 L468.9 113.4 L471.1 119.2 L473.2 129.7 L474.8 136.1 L477.4 143.4 L479.5 146.1 L482.6 147.6 L486.2 150.3 L488.9 146.6 L492.1 139.2 L495.1 136.7 L498.7 133.5 L501.4 135 L503.9 140.3 L507.1 142.4 L510.2 142.8 L513.8 147.6 L516.5 142.4 L519.7 137.7 L523.9 137.7 L527 138.2 L530.2 142.4 L533.3 150.8 L535 163.4 L536.5 182.3 L537.9 199.1 L539.6 208.5 L541.7 213.8 L543.4 215.9 L545.9 209.6 L548.4 201.2 L550.1 184.4 L551.8 161.3 L553.3 136.1 L555.4 106.6 L557.5 87.7 L560.6 73 L563.8 61.5 L565.9 58.7 L567.4 64.6 L570.1 83.5 L573.2 98.2 L576.4 115 L579.1 127.6 L580.6 127.6 L582.7 110.8 L585.4 101.4 L587.5 100.3 L590 104.5 L593.2 118.2 L596.3 123.4 L599.9 129.1 L603.7 123.4 L606.8 120.7 L608.9 119.2 L611.1 120.3 L614.2 116.7 L616.9 123.4 L620.5 126.6 L623.2 136.1 L625.3 143.4 L628.9 141.9 L632.1 133.9 L635.2 128.1 L638.4 121.8 L641.5 123.4 L643.6 125.5 L645.7 130.8 L648.9 146.6 L651.6 157.1 L653.7 160.8 L655.6 159.2 L657.3 158.7 L659.4 144.5 L661.5 119.2 L663.2 103.5 L665.3 95.1 L667.8 92.6 L670.9 94 L674.1 96.6 L677.2 110.8 L680 126.6 L681.4 124.5 L683.5 94 L685.6 60.4 L687.3 52 L689.2 55.2 L691.9 66.7 L694.7 74.1 L697.2 85.6 L699.7 104.5 L701.8 120.3 L703.5 123 L705.6 112.9 L708.1 103.5 L709.8 107.7 L711.9 123.4 L715 144.5 L718.2 169.7 L720.7 184.4 L722.4 190 L724.1 186.5 L726.2 167.6 L728.3 159.6 L730.4 157.1 L732.3 152.4 L733.9 161.3 L735.6 176 L737.5 180.6 L739.2 169.7 L741.7 142.4 L744.5 108.7 L746.1 96.1 L748 94 L750.1 97.2 L752.9 99.3 L756 104.5 L758.1 106.6 L760.2 114 L762.7 114.6 L765.5 117.1 L767.6 123.4 L769.7 138.2 L771.8 155 L773.9 161.3 L775.5 162.7 L777.4 157.1 L779.1 146.6 L780.8 123.4 L782.3 107.7 L783.7 110.8 L785.8 131.8 L788.6 152.9 L790.7 165.5 L793.2 176 L795.5 192.8 L797.4 201.6 L799.1 200.1 L801.6 194.9 L804.3 181.2 L807.5 173.9 L810.6 169.7 L812.7 170.7 L815.9 173.4 L819 161.3 L822.6 144.5 L825.3 136.1 L828.5 126.6 L831.6 123.9 L834.8 127.6 L837.9 131.8 L841.1 142.4 L843.8 151.2 L845.9 153.9 L848.4 148.7 L851 145.5 L853.1 144.5 L855.8 135 L858.5 126 L861.1 129.3 L864.2 143.4 L867.4 148.7 L870.5 157.1 L873.2 165 L875.3 165.9" stroke="#0000FF" stroke-width="2.35" fill="none" stroke-linejoin="round" stroke-linecap="round" clip-path="url(#cla)"/>
<path d="M101 14.2H875.6V268.3H101ZM101 3.6V545.7M875.6 3.6V545.7M90.4 279.6H886.2M90.4 535.1H886.2M101 14.2v-10.6M101 268.3v10.6M101 535.1v10.6M165.6 14.2v-6M165.6 268.3v6M165.6 535.1v6M230.1 14.2v-10.6M230.1 268.3v10.6M230.1 535.1v10.6M294.6 14.2v-6M294.6 268.3v6M294.6 535.1v6M359.2 14.2v-10.6M359.2 268.3v10.6M359.2 535.1v10.6M423.8 14.2v-6M423.8 268.3v6M423.8 535.1v6M488.3 14.2v-10.6M488.3 268.3v10.6M488.3 535.1v10.6M552.8 14.2v-6M552.8 268.3v6M552.8 535.1v6M617.4 14.2v-10.6M617.4 268.3v10.6M617.4 535.1v10.6M681.9 14.2v-6M681.9 268.3v6M681.9 535.1v6M746.5 14.2v-10.6M746.5 268.3v10.6M746.5 535.1v10.6M811 14.2v-6M811 268.3v6M811 535.1v6M875.6 14.2v-10.6M875.6 268.3v10.6M875.6 535.1v10.6M101 254.1h-6M875.6 254.1h6M101 237.7h-10.6M875.6 237.7h10.6M101 221.2h-6M875.6 221.2h6M101 204.8h-10.6M875.6 204.8h10.6M101 188.3h-6M875.6 188.3h6M101 171.9h-10.6M875.6 171.9h10.6M101 155.4h-6M875.6 155.4h6M101 139h-10.6M875.6 139h10.6M101 122.5h-6M875.6 122.5h6M101 106.1h-10.6M875.6 106.1h10.6M101 89.7h-6M875.6 89.7h6M101 73.2h-10.6M875.6 73.2h10.6M101 56.8h-6M875.6 56.8h6M101 40.3h-10.6M875.6 40.3h10.6M101 23.9h-6M875.6 23.9h6M101 509.6h-6M875.6 509.6h6M101 484h-10.6M875.6 484h10.6M101 458.5h-6M875.6 458.5h6M101 432.9h-10.6M875.6 432.9h10.6M101 407.4h-6M875.6 407.4h6M101 381.8h-10.6M875.6 381.8h10.6M101 356.2h-6M875.6 356.2h6M101 330.7h-10.6M875.6 330.7h10.6M101 305.2h-6M875.6 305.2h6" stroke="#000" stroke-width="1.7" fill="none" stroke-linecap="butt"/>
<g font-size="20.6" text-anchor="end">
<text x="82.4" y="45.6">0,6</text>
<text x="82.4" y="78.5">0,4</text>
<text x="82.4" y="111.4">0,2</text>
<text x="82.4" y="144.3">0,0</text>
<text x="82.4" y="177.2">-0,2</text>
<text x="82.4" y="210.1">-0,4</text>
<text x="82.4" y="243">-0,6</text>
<text x="82.4" y="540.4">10</text>
<text x="82.4" y="489.3">20</text>
<text x="82.4" y="438.2">30</text>
<text x="82.4" y="387.1">40</text>
<text x="82.4" y="336">50</text>
<text x="82.4" y="284.9">60</text>
</g>
<g font-size="20.6" text-anchor="middle">
<text x="101" y="567.8">2016,0</text>
<text x="230.1" y="567.8">2016,5</text>
<text x="359.2" y="567.8">2017,0</text>
<text x="488.3" y="567.8">2017,5</text>
<text x="617.4" y="567.8">2018,0</text>
<text x="746.5" y="567.8">2018,5</text>
<text x="875.6" y="567.8">2019,0</text>
</g>
<text x="488.3" y="613.9" font-size="32" text-anchor="middle">Year</text>
<text transform="translate(26.8 233.2) rotate(-90)" font-size="31.8">Intensity <tspan font-size="24" dx="0.5">σ</tspan></text>
<text transform="translate(33.1 480.4) rotate(-90)" font-size="31.8">Scale <tspan font-size="24" dx="-1.2">ν</tspan></text>
<text x="886.8" y="150.5" font-size="32.5">(a)</text>
<rect x="885.2" y="278.1" width="39" height="27.2" fill="#000000"/>
<rect x="885.2" y="305" width="39" height="27.2" fill="#0000FF"/>
<rect x="885.2" y="331.8" width="39" height="27.2" fill="#0080FF"/>
<rect x="885.2" y="358.7" width="39" height="27.2" fill="#00FFFF"/>
<rect x="885.2" y="385.5" width="39" height="27.2" fill="#00FF80"/>
<rect x="885.2" y="412.4" width="39" height="27.2" fill="#00FF00"/>
<rect x="885.2" y="439.2" width="39" height="27.2" fill="#FFFF00"/>
<rect x="885.2" y="466.1" width="39" height="27.2" fill="#FF8000"/>
<rect x="885.2" y="492.9" width="39" height="26.9" fill="#FF0000"/>
<g font-size="14" letter-spacing="0.45">
<text x="930.4" y="310.7">-0,80</text>
<text x="930.4" y="337.5">-0,60</text>
<text x="930.4" y="364.4">-0,41</text>
<text x="930.4" y="391.2">-0,21</text>
<text x="930.4" y="418.1">-0,015</text>
<text x="930.4" y="444.9">0,18</text>
<text x="930.4" y="471.8">0,37</text>
<text x="930.4" y="498.6">0,57</text>
<text x="930.4" y="525.5">0,77</text>
</g>
</g>
<g id="panel-b">
<clipPath id="chb"><rect x="1133.1" y="281" width="774.3" height="255.3"/></clipPath>
<g clip-path="url(#chb)">
<rect x="1133.1" y="281" width="774.3" height="255.3" fill="#00FF00"/>
<path d="M1132.4 280.4L1302.8 280.4L1302.8 537.3L1132.4 537.3Z" fill="#00FF80"/>
<path d="M1132.4 369.7C1132.4 369.7 1134.5 370.5 1135.1 372.4C1135.8 374.3 1136.4 377.9 1137.1 383.2C1137.9 388.5 1139.7 402.7 1140.5 410.2C1141.4 417.8 1142.5 429.7 1143.2 437.3C1144 444.8 1145.4 456.7 1145.9 464.3C1146.5 471.9 1147.3 484.7 1147.3 491.4C1147.3 498 1146.5 507.9 1145.9 511.6C1145.4 515.4 1144 516.5 1143.2 518.4C1142.5 520.3 1140.9 522.5 1140.5 525.2C1140.1 527.8 1140.5 537.3 1140.5 537.3L1132.4 537.3L1132.4 369.7Z" fill="#00FF00"/>
<path d="M1132.4 408.2C1132.4 408.2 1134.8 406 1135.4 408.2C1136 410.4 1136.5 415.9 1136.7 423.7C1137 431.6 1137.2 453 1137.1 464.3C1137.1 475.7 1136.8 497.3 1136.5 504.9C1136.1 512.5 1135 516.1 1134.4 518.4C1133.9 520.7 1132.4 521.1 1132.4 521.1L1132.4 408.2Z" fill="#FFFF00"/>
<path d="M1162.2 403.5C1162.4 401.6 1165.3 406.4 1166.2 410.2C1167.2 414 1168.2 424.8 1168.9 430.5C1169.7 436.2 1171 446.4 1171.6 450.8C1172.3 455.1 1172.6 461 1173.7 461.6C1174.7 462.2 1178 458.3 1179.1 454.9C1180.1 451.4 1180.3 440.9 1181.1 437.3C1181.8 433.7 1183.7 431.1 1184.5 429.2C1185.2 427.3 1186 421.7 1186.5 423.7C1187 425.8 1187.5 438.4 1187.9 444C1188.2 449.7 1189.4 457.7 1189.2 464.3C1189 470.9 1187.3 484.7 1186.5 491.4C1185.7 498 1184.3 506.9 1183.8 511.6C1183.3 516.4 1183.5 524.2 1183.1 525.2C1182.7 526.1 1181.8 521.2 1181.1 518.4C1180.4 515.6 1179.1 508.7 1178.4 504.9C1177.6 501.1 1176.4 492.3 1175.7 491.4C1174.9 490.4 1173.7 500 1173 498.1C1172.2 496.2 1171 484.5 1170.3 477.8C1169.5 471.2 1168.4 458.4 1167.6 450.8C1166.7 443.2 1164.9 430.4 1164.2 423.7C1163.4 417.1 1161.9 405.4 1162.2 403.5Z" fill="#00FF00"/>
<path d="M1227.1 469.7C1227.9 470.7 1230.4 484.4 1231.1 484.6C1231.9 484.8 1232.1 481.5 1232.5 471.1C1232.9 460.7 1233.5 420.6 1233.8 410.2C1234.2 399.8 1234.8 396.7 1235.2 396.7C1235.6 396.7 1236.3 398.9 1236.5 410.2C1236.8 421.6 1236.6 465.5 1236.8 477.8C1237 490.1 1237.5 493.4 1237.9 498.1C1238.2 502.9 1238.8 506.2 1239.2 511.6C1239.7 517.1 1241.3 537.3 1241.3 537.3L1212.2 537.3C1212.2 537.3 1213.1 523.9 1213.5 518.4C1214 512.9 1214.4 502.7 1215.6 498.1C1216.7 493.6 1220.3 488.8 1221.7 486C1223 483.1 1224.3 480.1 1225 477.8C1225.8 475.6 1226.2 468.8 1227.1 469.7Z" fill="#00FF00"/>
<path d="M1261.6 383.2C1262.6 375.6 1267.4 379.4 1268.3 383.2C1269.2 387 1267.8 404.5 1267.9 410.2C1268 415.9 1269.1 413.1 1269.3 423.7C1269.4 434.4 1269.2 477.2 1268.7 486C1268.2 494.7 1266.3 485.2 1265.6 486C1264.9 486.7 1264.1 489.8 1263.6 491.4C1263.1 492.9 1262.6 496.8 1262.2 496.8C1261.8 496.8 1261 499.7 1260.9 491.4C1260.7 483 1261.1 452.4 1261.1 437.3C1261.2 422.1 1260.5 390.8 1261.6 383.2Z" fill="#00FF00"/>
<path d="M1138.9 280.4L1160.8 280.4C1160.8 280.4 1161.1 305 1161.5 315.6C1161.9 326.2 1162.8 344.8 1163.5 356.1C1164.2 367.5 1165.5 385.3 1166.2 396.7C1167 408.1 1168.1 425.9 1168.9 437.3C1169.8 448.6 1171.4 469.3 1172.3 477.8C1173.2 486.4 1174.7 492.4 1175.7 498.1C1176.6 503.8 1178.7 512.9 1179.1 518.4C1179.4 523.9 1178.4 537.3 1178.4 537.3L1147.3 537.3C1147.3 537.3 1148.1 526.7 1148 518.4C1147.8 510.1 1146.5 489.2 1145.9 477.8C1145.4 466.5 1144.4 448.6 1143.9 437.3C1143.4 425.9 1142.9 408.1 1142.6 396.7C1142.2 385.3 1141.6 367.5 1141.2 356.1C1140.8 344.8 1140.2 326.2 1139.8 315.6C1139.5 305 1138.9 280.4 1138.9 280.4Z" fill="#00FFFF"/>
<path d="M1147.3 280.4L1158.4 280.4C1158.4 280.4 1158 305 1158.1 315.6C1158.2 326.2 1158.6 344.8 1158.8 356.1C1159 367.5 1159.2 385.3 1159.5 396.7C1159.7 408.1 1160.3 425.9 1160.8 437.3C1161.3 448.6 1162.3 468.4 1162.8 477.8C1163.4 487.3 1164.5 499 1164.9 504.9C1165.2 510.8 1165.7 518.4 1165.5 519.8C1165.4 521.1 1164.1 514 1163.5 514.4C1162.9 514.7 1162.1 520 1161.5 522.5C1160.8 524.9 1159.4 529.8 1158.8 531.9C1158.1 534 1156.7 537.3 1156.7 537.3C1156.7 537.3 1156 535.5 1155.4 531.9C1154.8 528.3 1153.5 517.3 1152.7 511.6C1151.9 506 1150.7 498 1150 491.4C1149.3 484.7 1148.4 471.9 1148 464.3C1147.5 456.7 1146.9 446.7 1146.6 437.3C1146.3 427.8 1145.8 408.1 1145.9 396.7C1146 385.3 1146.8 367.5 1147.3 356.1C1147.8 344.8 1149.3 326.2 1149.3 315.6C1149.3 305 1147.3 280.4 1147.3 280.4Z" fill="#0080FF"/>
<path d="M1153.4 280.4L1156.1 280.4L1155.8 302L1155.1 314.9L1154.3 302Z" fill="#0000FF"/>
<path d="M1154.7 400.8C1155.4 401.5 1155.9 405.1 1156.1 410.2C1156.3 415.3 1156.2 430.1 1156.1 437.3C1156 444.5 1155.7 457.9 1155.4 461.6C1155.1 465.3 1154.5 464.2 1154 463.6C1153.6 463.1 1152.5 461.2 1152 457.6C1151.5 453.9 1150.9 443 1150.7 437.3C1150.4 431.6 1150.2 421.5 1150.3 417C1150.4 412.4 1150.7 407.1 1151.3 404.8C1152 402.5 1154.1 400 1154.7 400.8Z" fill="#0000FF"/>
<path d="M1160.8 280.4L1188.9 280.4C1188.9 280.4 1188.8 305 1188.5 315.6C1188.3 326.2 1187.5 344.8 1187.2 356.1C1186.9 367.5 1186.6 387.2 1186.5 396.7C1186.4 406.2 1186.8 419.2 1186.5 423.7C1186.2 428.3 1185.2 427.3 1184.5 429.2C1183.7 431.1 1181.8 433.7 1181.1 437.3C1180.3 440.9 1180.1 451.4 1179.1 454.9C1178 458.3 1174.7 463.1 1173.7 461.6C1172.6 460.1 1172.3 451.2 1171.6 444C1171 436.8 1169.7 420.6 1168.9 410.2C1168.2 399.8 1167 381 1166.2 369.7C1165.5 358.3 1164.1 338.6 1163.5 329.1C1162.9 319.6 1162.3 308.9 1161.9 302C1161.5 295.2 1160.8 280.4 1160.8 280.4Z" fill="#FFFF00"/>
<path d="M1162.4 280.4L1187.9 280.4C1187.9 280.4 1187.6 305 1187.2 315.6C1186.8 326.2 1185.7 345.2 1185.1 356.1C1184.6 367.1 1184.2 387.4 1183.5 394C1182.9 400.6 1181.2 401.5 1180.4 403.5C1179.6 405.5 1178.3 406.3 1177.7 408.2C1177.1 410.1 1176.9 413.7 1176.4 417C1175.8 420.3 1174.2 431.9 1173.7 431.9C1173.1 431.9 1172.8 422.9 1172.3 417C1171.8 411.1 1170.9 398.5 1170.3 389.9C1169.6 381.4 1168.3 366.5 1167.6 356.1C1166.8 345.7 1165.6 326.2 1164.9 315.6C1164.1 305 1162.4 280.4 1162.4 280.4Z" fill="#FF8000"/>
<path d="M1165.9 280.4L1175 280.4C1175 280.4 1174.7 295.2 1174.6 302C1174.5 308.9 1174.2 321.5 1174.1 329.1C1173.9 336.7 1173.5 349.9 1173.2 356.1C1173 362.4 1172.4 373.7 1172 373.7C1171.7 373.7 1171 362.4 1170.5 356.1C1170.1 349.9 1169.2 336.7 1168.6 329.1C1168.1 321.5 1167.3 308.9 1166.9 302C1166.5 295.2 1165.9 280.4 1165.9 280.4Z" fill="#FF0000"/>
<path d="M1175.4 280.4L1180 280.4C1180 280.4 1179.8 296.6 1179.5 302C1179.1 307.5 1178.1 318.7 1177.7 319.6C1177.3 320.6 1177 313.2 1176.8 308.8C1176.5 304.5 1176.1 292.5 1176 288.5C1175.8 284.5 1175.4 280.4 1175.4 280.4Z" fill="#FFFF00"/>
<path d="M1182.7 280.4L1184.5 280.4L1184.1 302L1183.1 319.6L1182.7 302Z" fill="#FF0000"/>
<path d="M1189.2 280.4L1237.2 280.4C1237.2 280.4 1235.6 316.6 1235.2 329.1C1234.8 341.6 1234.7 358.3 1234.5 369.7C1234.3 381 1234.3 400.8 1233.8 410.2C1233.4 419.7 1232 434.6 1231.1 437.3C1230.3 439.9 1228.7 427.3 1227.7 429.2C1226.8 431.1 1225.6 446.8 1224.4 450.8C1223.1 454.8 1220.1 456 1219 457.6C1217.8 459.1 1217 461.8 1216.2 461.6C1215.5 461.4 1214.1 453.9 1213.5 456.2C1213 458.5 1212 472 1212.2 477.8C1212.4 483.7 1214.7 493.4 1214.9 498.1C1215.1 502.9 1214 508.8 1213.5 511.6C1213.1 514.5 1212.5 517.7 1211.5 518.4C1210.6 519.2 1208.1 516.9 1206.8 517.1C1205.5 517.2 1203.2 519.8 1202.1 519.8C1200.9 519.8 1199.7 517.2 1198.7 517.1C1197.6 516.9 1195.5 517.7 1194.6 518.4C1193.8 519.2 1193.3 522.5 1192.6 522.5C1191.8 522.5 1189.9 522.8 1189.2 518.4C1188.5 514.1 1187.7 500.8 1187.9 491.4C1188 481.9 1190.1 462.2 1190.6 450.8C1191 439.4 1191.2 423.5 1191.2 410.2C1191.2 397 1190.8 369.4 1190.6 356.1C1190.3 342.9 1189.7 326.2 1189.5 315.6C1189.3 305 1189.2 280.4 1189.2 280.4Z" fill="#00FFFF"/>
<path d="M1191.9 280.4L1213.5 280.4C1213.5 280.4 1213.2 305 1212.9 315.6C1212.6 326.2 1211.8 344.8 1211.5 356.1C1211.2 367.5 1211 387.2 1210.8 396.7C1210.7 406.2 1210.5 416.2 1210.2 423.7C1209.8 431.3 1208.6 443.2 1208.1 450.8C1207.7 458.4 1207.3 471.8 1206.8 477.8C1206.3 483.9 1205.3 491.1 1204.8 494.1C1204.2 497 1203.3 499.2 1202.7 498.8C1202.2 498.4 1201.3 495.2 1200.7 491.4C1200.1 487.5 1199.3 475.8 1198.7 471.1C1198 466.3 1196.6 462.3 1196 457.6C1195.4 452.8 1194.6 445.8 1194.3 437.3C1194.1 428.8 1194.1 408.1 1193.9 396.7C1193.8 385.3 1193.5 367.5 1193.3 356.1C1193 344.8 1192.5 326.2 1192.3 315.6C1192.1 305 1191.9 280.4 1191.9 280.4Z" fill="#0080FF"/>
<path d="M1196 280.4L1205.2 280.4C1205.2 280.4 1205.7 306.9 1205.7 315.6C1205.7 324.3 1205.7 334.1 1205.4 342.6C1205.2 351.1 1204.6 369.8 1204.1 376.4C1203.6 383 1202.6 386.5 1202.1 389.9C1201.5 393.4 1200.4 401.7 1200 400.8C1199.6 399.8 1199.6 389.4 1199.3 383.2C1199.1 376.9 1198.4 365.6 1198 356.1C1197.6 346.7 1196.9 326.2 1196.6 315.6C1196.4 305 1196 280.4 1196 280.4Z" fill="#0000FF"/>
<path d="M1222.3 280.4L1232.5 280.4C1232.5 280.4 1232.1 305 1231.8 315.6C1231.5 326.2 1230.7 346.7 1230.4 356.1C1230.2 365.6 1230.1 377.9 1229.8 383.2C1229.5 388.5 1228.8 393.1 1228.1 394C1227.5 394.9 1225.8 391.8 1225 389.9C1224.3 388 1223.1 385.2 1222.7 380.5C1222.4 375.7 1222.2 365.2 1222.3 356.1C1222.5 347 1223.7 326.2 1223.7 315.6C1223.7 305 1222.3 280.4 1222.3 280.4Z" fill="#0080FF"/>
<path d="M1227.1 280.4L1231.8 280.4C1231.8 280.4 1231.4 296.2 1231.1 302C1230.8 307.9 1230.2 318.2 1229.8 322.3C1229.4 326.5 1228.8 332.7 1228.4 331.8C1228.1 330.8 1227.6 320.7 1227.3 315.6C1227.1 310.5 1226.8 300.2 1226.8 295.3C1226.8 290.4 1227.1 280.4 1227.1 280.4Z" fill="#0000FF"/>
<path d="M1237.2 280.4L1262.9 280.4C1262.9 280.4 1262.7 314.7 1262.6 329.1C1262.5 343.5 1262.4 368 1262.2 383.2C1262.1 398.3 1261.7 424 1261.6 437.3C1261.4 450.5 1260.8 469.5 1260.9 477.8C1261 486.2 1261.8 494.9 1262.2 496.8C1262.6 498.7 1263.1 492.9 1263.6 491.4C1264.1 489.8 1264.9 486.7 1265.6 486C1266.3 485.2 1268.2 478.8 1268.7 486C1269.2 493.1 1269 537.3 1269 537.3L1241.3 537.3C1241.3 537.3 1241.9 523 1241.9 518.4C1241.9 513.9 1241.5 508.1 1241.3 504.9C1241 501.7 1240.7 495.8 1240.3 495.4C1239.9 495 1239 504.6 1238.6 502.2C1238.1 499.7 1237.5 490.7 1237.2 477.8C1236.9 465 1236.6 429.2 1236.5 410.2C1236.5 391.3 1236.7 360.8 1236.8 342.6C1236.9 324.4 1237.2 280.4 1237.2 280.4Z" fill="#FFFF00"/>
<path d="M1241.9 280.4L1260.9 280.4C1260.9 280.4 1260.7 306.9 1260.6 315.6C1260.5 324.3 1260.4 336 1260.2 342.6C1260 349.2 1259.5 358.3 1259.3 362.9C1259 367.5 1258.6 373.9 1258.2 375.7C1257.7 377.5 1256.6 377.5 1256.1 375.7C1255.7 373.9 1255.2 367.5 1254.8 362.9C1254.4 358.3 1253.8 347 1253.4 342.6C1253.1 338.3 1252.6 334.4 1252.1 331.8C1251.6 329.2 1250.6 324.7 1250.1 324.4C1249.5 324 1248.5 328.2 1248 329.1C1247.6 329.9 1247.1 332.3 1246.7 330.4C1246.3 328.5 1245.8 320.5 1245.3 315.6C1244.8 310.6 1243.8 300.2 1243.3 295.3C1242.8 290.4 1241.9 280.4 1241.9 280.4Z" fill="#FF8000"/>
<path d="M1250.7 280.4L1260.2 280.4C1260.2 280.4 1260 296.2 1259.8 302C1259.6 307.9 1259.2 318 1258.8 322.3C1258.5 326.7 1257.9 333.1 1257.5 333.1C1257.1 333.1 1256.6 326.7 1256.1 322.3C1255.7 318 1254.7 306.4 1254.1 302C1253.5 297.7 1252.6 294.3 1252.1 291.2C1251.6 288.2 1250.7 280.4 1250.7 280.4Z" fill="#FF0000"/>
<path d="M1248.7 450.8C1248.9 448.1 1249.5 449.3 1249.8 452.1C1250.1 455 1250.5 466.2 1250.7 471.1C1251 476 1251.7 484.2 1251.7 487.3C1251.7 490.4 1251.1 492.8 1250.7 493.4C1250.4 494 1249.7 494.5 1249.4 491.4C1249.1 488.2 1248.8 476.8 1248.7 471.1C1248.6 465.4 1248.6 453.4 1248.7 450.8Z" fill="#FF8000"/>
<path d="M1263.6 280.4L1300.1 280.4C1300.1 280.4 1299.9 316.6 1299.8 329.1C1299.7 341.6 1299.8 360.2 1299.4 369.7C1299.1 379.1 1298 390.1 1297.4 396.7C1296.7 403.3 1295.3 411.3 1294.7 417C1294 422.7 1293.1 432.5 1292.7 437.3C1292.2 442 1291 445.1 1291.3 450.8C1291.6 456.5 1293.9 472.2 1294.7 477.8C1295.4 483.5 1296.2 487.6 1296.7 491.4C1297.2 495.1 1298.2 501.7 1298.1 504.9C1298 508.1 1296.7 512.5 1296 514.4C1295.4 516.2 1294 517.5 1293.3 518.4C1292.7 519.4 1292.2 521.9 1291.3 521.1C1290.4 520.4 1288.3 515.3 1287.2 513C1286.2 510.7 1284.9 505.3 1283.9 504.9C1282.8 504.5 1280.8 509.2 1279.8 510.3C1278.9 511.4 1277.4 515.6 1277.1 513C1276.8 510.3 1277.2 498.2 1277.4 491.4C1277.6 484.5 1278.1 471.9 1278.5 464.3C1278.8 456.7 1279.5 444.8 1279.8 437.3C1280.1 429.7 1280.3 416.9 1280.5 410.2C1280.7 403.6 1281.3 394.1 1281.2 389.9C1281 385.8 1280.1 381.6 1279.1 380.5C1278.2 379.3 1275.3 383.3 1274.4 381.8C1273.5 380.3 1273.1 375.1 1272.4 369.7C1271.6 364.2 1269.6 340.7 1269 342.6C1268.4 344.5 1268.7 381.3 1268.3 383.2C1267.9 385.1 1266.9 365.6 1266.3 356.1C1265.7 346.7 1264.6 326.2 1264.3 315.6C1263.9 305 1263.6 280.4 1263.6 280.4Z" fill="#00FFFF"/>
<path d="M1264.9 280.4L1280.5 280.4C1280.5 280.4 1280 295.2 1279.8 302C1279.6 308.9 1279.5 323.3 1279.1 329.1C1278.8 334.9 1277.7 342.3 1277.1 343.3C1276.5 344.2 1275.6 339.7 1275.1 335.9C1274.5 332 1273.7 322.2 1273 315.6C1272.4 308.9 1271.2 288.5 1270.6 288.5C1270 288.5 1269.3 308 1269 315.6C1268.7 323.1 1268.6 342.6 1268.3 342.6C1268 342.6 1267.4 324.3 1267 315.6C1266.5 306.9 1264.9 280.4 1264.9 280.4Z" fill="#0080FF"/>
<path d="M1289.3 280.4L1299.4 280.4C1299.4 280.4 1299.1 305 1298.7 315.6C1298.4 326.2 1297.3 348.2 1296.7 356.1C1296.1 364.1 1295.5 368.3 1294.7 372.4C1293.8 376.4 1291.4 384.6 1290.6 385.2C1289.9 385.8 1289.6 382.4 1289.3 376.4C1289 370.5 1288.6 352.1 1288.6 342.6C1288.6 333.1 1288.9 317.5 1289 308.8C1289.1 300.1 1289.3 280.4 1289.3 280.4Z" fill="#0080FF"/>
<path d="M1289.9 280.4L1296 280.4C1296 280.4 1296 295.2 1295.8 302C1295.6 308.9 1295.1 323 1294.7 329.1C1294.3 335.1 1293.5 344.4 1293.1 345.3C1292.6 346.3 1292 341 1291.7 335.9C1291.4 330.7 1290.9 316.6 1290.6 308.8C1290.4 301 1289.9 280.4 1289.9 280.4Z" fill="#0000FF"/>
<path d="M1273 280.4L1274.7 280.4L1274.4 288.5L1273.5 287.8Z" fill="#0000FF"/>
</g>
<clipPath id="clb"><rect x="1132.1" y="14.7" width="776.3" height="254.9"/></clipPath>
<path d="M1303.5 136.4H1907.4" stroke="#0000FF" stroke-width="2" fill="none"/>
<path d="M1153.5 136.4H1907.4" stroke="#000" stroke-width="2.3" stroke-dasharray="12.3 12.6" fill="none"/>
<path d="M1133.5 116.8 L1134.4 111.4 L1135.8 111.1 L1136.7 116.8 L1138.5 129 L1140.5 147.9 L1142.6 169.6 L1143.9 185.8 L1145.9 202 L1148 218.2 L1149.7 233.1 L1151.1 238.5 L1152.7 239.2 L1154.7 239.6 L1156.5 237.2 L1157.8 226.4 L1159.5 202 L1161.5 172.3 L1163.5 145.2 L1165.5 126.3 L1167.6 110.1 L1169.6 85.7 L1171.4 64.1 L1173 60.3 L1174.3 62.1 L1175.7 68.1 L1177.3 76.9 L1179.1 79 L1181.1 83.7 L1182.7 87.1 L1184.9 90.5 L1186.5 102 L1187.9 122.2 L1189.2 145.2 L1190.6 169.6 L1191.9 185.8 L1193.5 196.6 L1195.3 206.1 L1197.3 222.3 L1198.9 234.5 L1200 236.5 L1201.6 233.1 L1203.8 227.7 L1205.4 222.3 L1207.1 218.9 L1208.8 218.9 L1210.6 216.2 L1212.2 206.1 L1213.5 193.9 L1214.9 189.2 L1216.2 191.2 L1218.3 198 L1220 202 L1221.7 202.7 L1223.3 198.6 L1225 194.6 L1226.8 193.9 L1228.1 198 L1229.5 199.3 L1230.9 195.3 L1232.2 172.3 L1233.8 145.2 L1235.2 124.9 L1236.8 103.3 L1238.2 93.8 L1239.5 91.4 L1241.3 91.8 L1243 89.1 L1244.6 91.1 L1246 97.2 L1247.8 101.3 L1249.4 99.2 L1250.7 94.5 L1252.5 91.1 L1254.8 93.2 L1256.5 95.9 L1258.4 95.5 L1260.2 96.5 L1262 107.4 L1263.6 120.9 L1264.9 137.1 L1266.3 150.6 L1267.6 158.7 L1268.7 162.8 L1269.3 143.9 L1270.3 143.9 L1271.7 152 L1273 158.7 L1274.7 159.4 L1276.4 158.1 L1277.8 161.5 L1279.1 166.9 L1281.2 171.6 L1283.2 179 L1285.2 185.8 L1286.8 190.5 L1288.6 189.9 L1290.6 189.9 L1292.2 185.8 L1293.6 181.7 L1295.4 179.7 L1297.1 175 L1298.7 169.6 L1300.1 162.8 L1301.4 152 L1302.4 145.2 L1303.2 143.2 L1303.5 136.6" stroke="#0000FF" stroke-width="2.35" fill="none" stroke-linejoin="round" stroke-linecap="round" clip-path="url(#clb)"/>
<path d="M1133.1 14.7H1907.4V269.6H1133.1ZM1133.1 4.1V546.9M1907.4 4.1V546.9M1122.5 281H1918M1122.5 536.3H1918M1133.1 14.7v-10.6M1133.1 269.6v10.6M1133.1 536.3v10.6M1197.6 14.7v-6M1197.6 269.6v6M1197.6 536.3v6M1262.1 14.7v-10.6M1262.1 269.6v10.6M1262.1 536.3v10.6M1326.7 14.7v-6M1326.7 269.6v6M1326.7 536.3v6M1391.2 14.7v-10.6M1391.2 269.6v10.6M1391.2 536.3v10.6M1455.7 14.7v-6M1455.7 269.6v6M1455.7 536.3v6M1520.2 14.7v-10.6M1520.2 269.6v10.6M1520.2 536.3v10.6M1584.8 14.7v-6M1584.8 269.6v6M1584.8 536.3v6M1649.3 14.7v-10.6M1649.3 269.6v10.6M1649.3 536.3v10.6M1713.8 14.7v-6M1713.8 269.6v6M1713.8 536.3v6M1778.4 14.7v-10.6M1778.4 269.6v10.6M1778.4 536.3v10.6M1842.9 14.7v-6M1842.9 269.6v6M1842.9 536.3v6M1907.4 14.7v-10.6M1907.4 269.6v10.6M1907.4 536.3v10.6M1133.1 260.6h-6M1907.4 260.6h6M1133.1 242.9h-10.6M1907.4 242.9h10.6M1133.1 225.2h-6M1907.4 225.2h6M1133.1 207.4h-10.6M1907.4 207.4h10.6M1133.1 189.7h-6M1907.4 189.7h6M1133.1 171.9h-10.6M1907.4 171.9h10.6M1133.1 154.2h-6M1907.4 154.2h6M1133.1 136.4h-10.6M1907.4 136.4h10.6M1133.1 118.7h-6M1907.4 118.7h6M1133.1 100.9h-10.6M1907.4 100.9h10.6M1133.1 83.2h-6M1907.4 83.2h6M1133.1 65.4h-10.6M1907.4 65.4h10.6M1133.1 47.7h-6M1907.4 47.7h6M1133.1 29.9h-10.6M1907.4 29.9h10.6M1133.1 510.8h-6M1907.4 510.8h6M1133.1 485.2h-10.6M1907.4 485.2h10.6M1133.1 459.7h-6M1907.4 459.7h6M1133.1 434.2h-10.6M1907.4 434.2h10.6M1133.1 408.6h-6M1907.4 408.6h6M1133.1 383.1h-10.6M1907.4 383.1h10.6M1133.1 357.6h-6M1907.4 357.6h6M1133.1 332.1h-10.6M1907.4 332.1h10.6M1133.1 306.5h-6M1907.4 306.5h6" stroke="#000" stroke-width="1.7" fill="none" stroke-linecap="butt"/>
<g font-size="20.6" text-anchor="end">
<text x="1114.5" y="35.2">0,6</text>
<text x="1114.5" y="70.7">0,4</text>
<text x="1114.5" y="106.2">0,2</text>
<text x="1114.5" y="141.7">0,0</text>
<text x="1114.5" y="177.2">-0,2</text>
<text x="1114.5" y="212.7">-0,4</text>
<text x="1114.5" y="248.2">-0,6</text>
<text x="1114.5" y="541.6">10</text>
<text x="1114.5" y="490.5">20</text>
<text x="1114.5" y="439.5">30</text>
<text x="1114.5" y="388.4">40</text>
<text x="1114.5" y="337.4">50</text>
<text x="1114.5" y="286.3">60</text>
</g>
<g font-size="20.6" text-anchor="middle">
<text x="1133.1" y="569.9">2016,0</text>
<text x="1262.1" y="569.9">2016,5</text>
<text x="1391.2" y="569.9">2017,0</text>
<text x="1520.2" y="569.9">2017,5</text>
<text x="1649.3" y="569.9">2018,0</text>
<text x="1778.3" y="569.9">2018,5</text>
<text x="1907.4" y="569.9">2019,0</text>
</g>
<text x="1520.2" y="614.3" font-size="32" text-anchor="middle">Year</text>
<text transform="translate(1059 233.2) rotate(-90)" font-size="31.8">Intensity <tspan font-size="24" dx="0.5">σ</tspan></text>
<text transform="translate(1065.3 482) rotate(-90)" font-size="31.8">Scale <tspan font-size="24" dx="-1.2">ν</tspan></text>
<text x="1920.5" y="144.8" font-size="32.5">(b)</text>
<rect x="1917.6" y="279.5" width="38.3" height="26.2" fill="#000000"/>
<rect x="1917.6" y="305.4" width="38.3" height="26.2" fill="#0000FF"/>
<rect x="1917.6" y="331.4" width="38.3" height="26.2" fill="#0080FF"/>
<rect x="1917.6" y="357.3" width="38.3" height="26.2" fill="#00FFFF"/>
<rect x="1917.6" y="383.3" width="38.3" height="26.2" fill="#00FF80"/>
<rect x="1917.6" y="409.2" width="38.3" height="26.2" fill="#00FF00"/>
<rect x="1917.6" y="435.2" width="38.3" height="26.2" fill="#FFFF00"/>
<rect x="1917.6" y="461.1" width="38.3" height="26.2" fill="#FF8000"/>
<rect x="1917.6" y="487.1" width="38.3" height="25.9" fill="#FF0000"/>
<g font-size="14" letter-spacing="0.45">
<text x="1962.5" y="311.1">-0,76</text>
<text x="1962.5" y="337.1">-0,57</text>
<text x="1962.5" y="363">-0,39</text>
<text x="1962.5" y="389">-0,21</text>
<text x="1962.5" y="414.9">-0,032</text>
<text x="1962.5" y="440.9">0,15</text>
<text x="1962.5" y="466.8">0,33</text>
<text x="1962.5" y="492.8">0,51</text>
<text x="1962.5" y="518.7">0,69</text>
</g>
</g>
<g id="panel-c">
<clipPath id="chc"><rect x="101" y="1004.6" width="775" height="255.4"/></clipPath>
<g clip-path="url(#chc)">
<rect x="101" y="1004.6" width="775" height="255.4" fill="#00FF00"/>
<path d="M100.9 1003.2L110.1 1003.2C110.1 1003.2 109.6 1045.8 109.3 1063C109 1080.2 108.4 1108.4 108 1126.1C107.6 1143.7 106.9 1174.4 106.6 1189.1C106.2 1203.8 105.7 1220.9 105.5 1231.1C105.3 1241.2 105.1 1261.6 105.1 1261.6L100.9 1261.6L100.9 1003.2Z" fill="#FFFF00"/>
<path d="M100.9 1003.2L108 1003.2C108 1003.2 107.5 1045.8 107.2 1063C106.9 1080.2 106.3 1111.3 105.9 1126.1C105.5 1140.8 104.9 1156.3 104.5 1168.1C104 1179.8 103.3 1201.3 103 1210.1C102.7 1218.9 102.6 1227.6 102.4 1231.1C102.1 1234.6 101.1 1267.2 100.9 1235.3C100.7 1203.4 100.9 1003.2 100.9 1003.2Z" fill="#FF8000"/>
<path d="M100.9 1003.2L106.6 1003.2C106.6 1003.2 106.2 1045.8 105.9 1063C105.6 1080.2 104.9 1111.3 104.5 1126.1C104 1140.8 103.5 1160.1 103 1168.1C102.5 1176 101.2 1205.9 100.9 1182.8C100.6 1159.7 100.9 1003.2 100.9 1003.2Z" fill="#FF0000"/>
<path d="M109.7 1003.2L119.8 1003.2C119.8 1003.2 120.3 1023.1 121.3 1031.5C122.2 1039.9 125 1054.2 126.5 1063C128 1071.8 130.5 1085.7 131.8 1094.5C133 1103.4 134.6 1115.8 135.3 1126.1C136.1 1136.3 136.7 1156.3 137 1168.1C137.3 1179.8 137.5 1199.8 137.6 1210.1C137.8 1220.4 137.9 1234.4 138.1 1241.6C138.2 1248.8 138.7 1261.6 138.7 1261.6L126.5 1261.6C126.5 1261.6 124.8 1250.7 123.4 1247.9C121.9 1245.1 117.4 1243.9 116 1241.6C114.6 1239.2 114.1 1235.5 113.5 1231.1C112.9 1226.7 112.2 1218.9 111.8 1210.1C111.4 1201.3 111.1 1179.8 110.8 1168.1C110.4 1156.3 109.5 1140.8 109.3 1126.1C109.1 1111.3 109.2 1080.2 109.3 1063C109.3 1045.8 109.7 1003.2 109.7 1003.2Z" fill="#00FF80"/>
<path d="M110.8 1003.2L117.7 1003.2C117.7 1003.2 118.4 1023.1 119.2 1031.5C120 1039.9 122 1054.2 123.4 1063C124.7 1071.8 127.3 1085.7 128.6 1094.5C129.9 1103.4 131.6 1115.8 132.4 1126.1C133.2 1136.3 134.1 1156.3 134.5 1168.1C134.9 1179.8 135.2 1201.6 135.3 1210.1C135.5 1218.6 135.7 1225.8 135.3 1229C135 1232.2 133.6 1232.9 132.8 1233.2C132 1233.5 130.5 1232.6 129.7 1231.1C128.8 1229.6 127.5 1224.7 126.5 1222.7C125.5 1220.6 123.6 1217.9 122.3 1216.4C121 1214.9 118.2 1213.7 117.1 1212.2C115.9 1210.7 114.9 1210.6 114.3 1205.9C113.7 1201.2 113.3 1189.7 112.9 1178.6C112.4 1167.4 111.7 1142.2 111.4 1126.1C111.1 1109.9 110.6 1080.2 110.5 1063C110.5 1045.8 110.8 1003.2 110.8 1003.2Z" fill="#00FFFF"/>
<path d="M111.4 1003.2L116 1003.2C116 1003.2 116.5 1023.1 117.1 1031.5C117.6 1039.9 118.9 1052.7 119.8 1063C120.7 1073.3 122.5 1094.7 123.4 1105C124.2 1115.3 125.4 1127.7 126.1 1136.6C126.8 1145.4 127.8 1160.7 128.2 1168.1C128.5 1175.4 128.8 1183.8 128.6 1189.1C128.4 1194.4 127.5 1205 126.9 1205.9C126.3 1206.8 125.2 1198.6 124.4 1195.4C123.6 1192.1 122.1 1186.6 121.3 1182.8C120.4 1178.9 119.3 1174.5 118.5 1168.1C117.8 1161.6 116.7 1146.8 116 1136.6C115.4 1126.3 114.4 1106.3 113.9 1094.5C113.4 1082.8 112.6 1065.3 112.2 1052.5C111.9 1039.7 111.4 1003.2 111.4 1003.2Z" fill="#0080FF"/>
<path d="M125 1003.2L129.7 1003.2L128.2 1012.6L126.5 1015.8Z" fill="#FFFF00"/>
<path d="M140.2 1134.5C141.2 1128.9 145.8 1118.2 147.5 1117.6C149.3 1117.1 151.5 1124.7 152.8 1130.3C154 1135.8 155.5 1149.3 156.3 1157.6C157.2 1165.8 158.1 1181.7 159.1 1189.1C160 1196.4 162.5 1204.2 163.3 1210.1C164.1 1216 164.6 1223.9 164.7 1231.1C164.9 1238.3 164.3 1261.6 164.3 1261.6L155.9 1261.6C155.9 1261.6 156.3 1238.3 154.9 1231.1C153.4 1223.9 147.2 1216 145.4 1210.1C143.7 1204.2 143 1196.4 142.3 1189.1C141.5 1181.7 140.5 1165.2 140.2 1157.6C139.9 1149.9 139.1 1140 140.2 1134.5Z" fill="#00FF80"/>
<path d="M137 1003.2L157.6 1003.2C157.6 1003.2 158.7 1022 159.1 1031.5C159.5 1041.1 160 1065.8 160.5 1071.4C161 1077 162.1 1077 162.6 1071.4C163.2 1065.8 163.9 1041.1 164.3 1031.5C164.7 1022 165.4 1003.2 165.4 1003.2L183.2 1003.2C183.2 1003.2 183.9 1045.8 184.3 1063C184.6 1080.2 185.4 1108.4 185.8 1126.1C186.1 1143.7 186.8 1170.1 187 1189.1C187.3 1208 187.4 1261.6 187.4 1261.6L167.5 1261.6C167.5 1261.6 166.6 1238.3 166 1231.1C165.4 1223.9 164.2 1216 163.3 1210.1C162.3 1204.2 160 1196.4 159.1 1189.1C158.1 1181.7 157.2 1165.8 156.3 1157.6C155.5 1149.3 154 1135.8 152.8 1130.3C151.5 1124.7 149 1118.2 147.5 1117.6C146.1 1117.1 143.4 1123.7 142.3 1126.1C141.2 1128.4 140.2 1134.5 139.5 1134.5C138.9 1134.5 137.8 1130.2 137.6 1126.1C137.5 1121.9 138.3 1110.9 138.7 1105C139.1 1099.2 140.2 1089.9 140.2 1084C140.2 1078.2 139.2 1068.9 138.7 1063C138.2 1057.1 136.8 1050.4 136.6 1042C136.4 1033.6 137 1003.2 137 1003.2Z" fill="#FFFF00"/>
<path d="M159.1 1003.2L162.6 1003.2L162.2 1031.5L161.2 1052.5L159.7 1031.5Z" fill="#00FF80"/>
<path d="M177.4 1021C177.9 1016.9 179.5 1009.7 180.1 1012.6C180.7 1015.5 181.4 1032 181.6 1042C181.7 1052 181.3 1073.4 181.1 1084C180.9 1094.6 180.4 1111.5 180.1 1117.6C179.7 1123.8 179.1 1128.2 178.6 1128.2C178.2 1128.2 177.3 1123.8 176.9 1117.6C176.6 1111.5 176 1094.6 175.9 1084C175.7 1073.4 175.7 1050.8 175.9 1042C176.1 1033.2 176.8 1025.1 177.4 1021Z" fill="#00FF00"/>
<path d="M138.1 1003.2L152.1 1003.2C152.1 1003.2 151.8 1016.2 151.3 1021C150.8 1025.9 149.2 1036.6 148.6 1037.8C147.9 1039 147 1028.8 146.5 1029.4C146 1030 145.5 1038.8 145 1042C144.5 1045.3 143.4 1052.5 142.9 1052.5C142.4 1052.5 141.7 1045.8 141.2 1042C140.7 1038.2 140 1030.7 139.5 1025.2C139.1 1019.8 138.1 1003.2 138.1 1003.2Z" fill="#FF8000"/>
<path d="M167.5 1003.2L174.4 1003.2C174.4 1003.2 174.6 1030.7 174.8 1042C175 1053.3 175.8 1073.4 175.9 1084C175.9 1094.6 175.1 1108.8 175.3 1117.6C175.4 1126.5 176.6 1138.5 176.9 1147.1C177.3 1155.6 177.9 1169.7 178 1178.6C178 1187.4 177.8 1204.1 177.4 1210.1C176.9 1216.1 175.5 1220.2 174.8 1221.6C174.2 1223.1 173.3 1223.7 172.7 1220.6C172.2 1217.5 171.6 1206.9 171.1 1199.6C170.5 1192.2 169 1173.4 168.5 1168.1C168 1162.8 167.8 1160.3 167.5 1161.8C167.2 1163.2 166.9 1175.9 166.4 1178.6C166 1181.2 164.9 1182.1 164.3 1180.7C163.7 1179.2 162.8 1172.8 162.2 1168.1C161.7 1163.4 160.8 1152.4 160.5 1147.1C160.3 1141.8 159.9 1133.5 160.1 1130.3C160.3 1127 160.9 1125.4 161.8 1123.9C162.7 1122.5 165.4 1122.4 166.4 1119.7C167.4 1117.1 168.7 1113 168.9 1105C169.2 1097.1 168.3 1077.3 168.1 1063C167.9 1048.8 167.5 1003.2 167.5 1003.2Z" fill="#FF8000"/>
<path d="M183.2 1003.2L236.8 1003.2C236.8 1003.2 236.2 1023.1 235.8 1031.5C235.3 1039.9 234.4 1055.7 233.7 1063C232.9 1070.4 231.5 1078.7 230.5 1084C229.5 1089.3 227.3 1096.7 226.3 1100.8C225.3 1105 223.9 1109.9 223.2 1113.4C222.4 1117 221.6 1121.3 221.1 1126.1C220.5 1130.8 219.4 1138.2 218.9 1147.1C218.5 1155.9 218.1 1177.3 217.9 1189.1C217.7 1200.8 217.6 1220.9 217.5 1231.1C217.3 1241.2 216.8 1261.6 216.8 1261.6L186.8 1261.6C186.8 1261.6 185.8 1162.2 185.3 1126.1C184.8 1089.9 183.2 1003.2 183.2 1003.2Z" fill="#FFFF00"/>
<path d="M183.2 1003.2L221.1 1003.2C221.1 1003.2 220.8 1048.8 220.6 1063C220.5 1077.3 220.4 1094.7 220 1105C219.6 1115.3 218.6 1127.7 217.9 1136.6C217.2 1145.4 215.9 1157.8 215.2 1168.1C214.4 1178.4 213.2 1199.8 212.6 1210.1C212.1 1220.4 211.3 1234.4 211 1241.6C210.7 1248.8 210.5 1261.6 210.5 1261.6L186.8 1261.6C186.8 1261.6 187.5 1226.1 187.4 1210.1C187.4 1194.1 186.7 1164.7 186.4 1147.1C186.1 1129.4 185.6 1098.7 185.3 1084C185 1069.3 184.6 1053.3 184.3 1042C184 1030.7 183.2 1003.2 183.2 1003.2Z" fill="#FF8000"/>
<path d="M221.1 1003.2L233.7 1003.2C233.7 1003.2 233 1015.6 232.6 1021C232.2 1026.4 231.2 1037.6 230.5 1042C229.8 1046.4 228.5 1052.5 227.8 1052.5C227 1052.5 225.9 1046.4 225.3 1042C224.6 1037.6 223.7 1026.4 223.2 1021C222.6 1015.6 221.1 1003.2 221.1 1003.2Z" fill="#FF8000"/>
<path d="M184.9 1003.2L195.8 1003.2C195.8 1003.2 197.1 1042.7 197.5 1052.5C197.9 1062.4 198.2 1073.5 198.6 1073.5C198.9 1073.5 199.5 1062.4 200 1052.5C200.5 1042.7 202.1 1003.2 202.1 1003.2L213.7 1003.2C213.7 1003.2 213.3 1030.7 213.1 1042C212.9 1053.3 212.6 1072.3 212.2 1084C211.9 1095.8 211.2 1115.8 210.5 1126.1C209.9 1136.3 208.3 1148.7 207.4 1157.6C206.5 1166.4 204.9 1181.1 203.8 1189.1C202.8 1197 200.8 1209.7 200 1214.3C199.3 1218.8 198.8 1222.2 198.4 1221.6C197.9 1221.1 197.4 1217.6 196.9 1210.1C196.4 1202.6 195.5 1179.8 194.8 1168.1C194.1 1156.3 192.9 1137.8 192.1 1126.1C191.3 1114.3 189.8 1095.8 189.1 1084C188.4 1072.3 187.6 1053.3 187 1042C186.4 1030.7 184.9 1003.2 184.9 1003.2Z" fill="#FF0000"/>
<path d="M240 1003.2L255.1 1003.2C255.1 1003.2 255.5 1045.8 255.7 1063C255.9 1080.2 256.2 1108.4 256.3 1126.1C256.5 1143.7 256.8 1177.3 256.8 1189.1C256.8 1200.8 257.2 1206.6 256.3 1210.1C255.5 1213.6 252.5 1213.1 250.5 1214.3C248.5 1215.5 244.4 1217.6 242.1 1218.5C239.7 1219.4 235.4 1218.8 233.7 1220.6C231.9 1222.4 230.2 1225.4 229.5 1231.1C228.7 1236.8 228.4 1261.6 228.4 1261.6L217.3 1261.6C217.3 1261.6 217.7 1241.2 217.9 1231.1C218.1 1220.9 218.3 1199.4 218.5 1189.1C218.7 1178.8 218.7 1163.4 219.4 1157.6C220 1151.7 221.7 1151.5 223.2 1147.1C224.6 1142.6 228.1 1133.4 229.5 1126.1C230.8 1118.7 231.7 1103.4 232.6 1094.5C233.5 1085.7 235 1071.8 235.8 1063C236.5 1054.2 237.3 1039.9 237.9 1031.5C238.4 1023.1 240 1003.2 240 1003.2Z" fill="#00FF80"/>
<path d="M245.2 1003.2L251.5 1003.2C251.5 1003.2 251.2 1025.2 250.9 1031.5C250.6 1037.8 249.8 1043.9 249.4 1048.3C249 1052.7 248.3 1056.6 247.9 1063C247.6 1069.5 247 1085.7 246.7 1094.5C246.4 1103.4 246.1 1118.1 245.8 1126.1C245.5 1134 245 1146.1 244.6 1151.3C244.2 1156.4 243.5 1163.4 243.1 1162.8C242.7 1162.2 241.9 1152.2 241.6 1147.1C241.3 1141.9 240.9 1134.9 241 1126.1C241.1 1117.2 241.7 1094.3 242.1 1084C242.4 1073.7 243.4 1061.3 243.7 1052.5C244.1 1043.7 244.4 1027.9 244.6 1021C244.8 1014.1 245.2 1003.2 245.2 1003.2Z" fill="#00FFFF"/>
<path d="M223.6 1210.1L226.3 1208L225.3 1226.9L222.7 1231.1L221.5 1220.6Z" fill="#00FFFF"/>
<path d="M254.2 1003.2L288.3 1003.2C288.3 1003.2 287.7 1023.1 287.2 1031.5C286.8 1039.9 285.7 1056.3 285.1 1063C284.5 1069.8 283.6 1077.2 283 1079.8C282.4 1082.5 281.4 1084.3 280.9 1081.9C280.4 1079.6 279.9 1070.1 279.5 1063C279 1056 278.2 1036.2 277.8 1031.5C277.3 1026.8 276.4 1025 276.1 1029.4C275.8 1033.8 275.7 1049.5 275.7 1063C275.7 1076.6 275.9 1108.4 276.1 1126.1C276.2 1143.7 276.5 1174.4 276.7 1189.1C277 1203.8 277.3 1220.9 277.8 1231.1C278.2 1241.2 279.9 1261.6 279.9 1261.6L257.8 1261.6C257.8 1261.6 256.7 1244.2 256.3 1231.1C256 1218 255.4 1188.7 255.1 1168.1C254.8 1147.5 254.4 1107.1 254.2 1084C254.1 1060.9 254.2 1003.2 254.2 1003.2Z" fill="#FFFF00"/>
<path d="M255.7 1003.2L272.5 1003.2C272.5 1003.2 273.2 1045.8 273.2 1063C273.1 1080.2 272.2 1108.4 271.9 1126.1C271.6 1143.7 271.3 1175.8 271.1 1189.1C270.8 1202.3 270.5 1215.6 269.8 1220.6C269.1 1225.6 267.3 1223.3 266.2 1224.8C265.1 1226.3 263 1229.8 262 1231.1C261 1232.4 259.5 1237.2 258.9 1234.2C258.2 1231.3 257.5 1225.2 257.2 1210.1C256.8 1194.9 256.6 1146.6 256.3 1126.1C256.1 1105.5 255.8 1080.2 255.7 1063C255.6 1045.8 255.7 1003.2 255.7 1003.2Z" fill="#FF8000"/>
<path d="M256.3 1058.8C256.5 1055.9 257.8 1064.1 258.4 1073.5C259.1 1082.9 260.7 1115.2 261 1126.1C261.3 1136.9 260.8 1149.8 260.5 1151.3C260.3 1152.7 259.3 1144.5 258.9 1136.6C258.4 1128.6 257.5 1105.4 257.2 1094.5C256.8 1083.7 256.2 1061.8 256.3 1058.8Z" fill="#FF0000"/>
<path d="M289.3 1003.2L294.6 1003.2C294.6 1003.2 294 1045.8 294.2 1063C294.3 1080.2 295.3 1108.4 295.6 1126.1C296 1143.7 296.5 1174.4 296.7 1189.1C296.9 1203.8 297.1 1220.9 297.1 1231.1C297.1 1241.2 296.7 1261.6 296.7 1261.6L280.9 1261.6C280.9 1261.6 279.3 1241.2 278.8 1231.1C278.4 1220.9 277.6 1200.8 277.8 1189.1C277.9 1177.3 279.1 1157.4 279.9 1147.1C280.6 1136.8 282.1 1124.4 283 1115.5C283.9 1106.7 285.4 1094.3 286.2 1084C286.9 1073.7 287.8 1053.3 288.3 1042C288.7 1030.7 289.3 1003.2 289.3 1003.2Z" fill="#00FF80"/>
<path d="M291.4 1123.9C292.3 1124.8 293.7 1130.4 294.2 1136.6C294.6 1142.7 294.7 1160.7 294.6 1168.1C294.5 1175.4 294 1185.5 293.5 1189.1C293.1 1192.6 292 1190.3 291.4 1193.3C290.8 1196.2 290 1210.1 289.3 1210.1C288.7 1210.1 287.2 1199.2 286.6 1193.3C286 1187.4 285.2 1174.5 285.1 1168.1C285 1161.6 285.3 1152.4 285.8 1147.1C286.2 1141.8 287.5 1133.5 288.3 1130.3C289.1 1127 290.6 1123.1 291.4 1123.9Z" fill="#00FFFF"/>
<path d="M293.5 1003.2L309.3 1003.2C309.3 1003.2 308.7 1030.7 308.2 1042C307.8 1053.3 306.6 1072.3 306.1 1084C305.7 1095.8 305.4 1114.3 305.1 1126.1C304.8 1137.8 304.3 1156.3 304 1168.1C303.7 1179.8 303.3 1197 303 1210.1C302.7 1223.2 301.9 1261.6 301.9 1261.6L296.3 1261.6C296.3 1261.6 296.8 1208 296.7 1189.1C296.6 1170.1 295.9 1143.7 295.6 1126.1C295.3 1108.4 294.9 1080.2 294.6 1063C294.3 1045.8 293.5 1003.2 293.5 1003.2Z" fill="#FFFF00"/>
<path d="M294.6 1003.2L305.1 1003.2C305.1 1003.2 304.8 1048.8 304.7 1063C304.5 1077.3 304.3 1093.3 304 1105C303.8 1116.8 303.4 1138.2 303 1147.1C302.6 1155.9 301.7 1168.1 301.3 1168.1C300.9 1168.1 300.2 1155.9 299.8 1147.1C299.4 1138.2 298.8 1116.8 298.4 1105C297.9 1093.3 297.1 1073.3 296.7 1063C296.3 1052.7 295.9 1039.9 295.6 1031.5C295.3 1023.1 294.6 1003.2 294.6 1003.2Z" fill="#FF8000"/>
<path d="M295 1003.2L303 1003.2C303 1003.2 302.7 1032.8 302.6 1042C302.4 1051.3 302.2 1064.9 301.9 1069.3C301.6 1073.7 300.9 1075.9 300.5 1073.5C300 1071.2 299.3 1059.3 298.8 1052.5C298.3 1045.8 297.2 1032.1 296.7 1025.2C296.2 1018.3 295 1003.2 295 1003.2Z" fill="#FF0000"/>
<path d="M310.3 1003.2L314.5 1003.2C314.5 1003.2 315.1 1030.7 315.6 1042C316 1053.3 317 1072.3 317.7 1084C318.4 1095.8 319.8 1114.3 320.8 1126.1C321.9 1137.8 324 1156.3 325 1168.1C326.1 1179.8 327.6 1201.3 328.2 1210.1C328.8 1218.9 328.9 1223.9 329.2 1231.1C329.5 1238.3 330.3 1261.6 330.3 1261.6L305.1 1261.6C305.1 1261.6 305.8 1226.1 306.1 1210.1C306.4 1194.1 306.9 1164.7 307.2 1147.1C307.5 1129.4 307.9 1098.7 308.2 1084C308.5 1069.3 309 1053.3 309.3 1042C309.6 1030.7 310.3 1003.2 310.3 1003.2Z" fill="#00FF80"/>
<path d="M330.3 1003.2L345 1003.2C345 1003.2 344.4 1048.8 343.9 1063C343.5 1077.3 342.6 1094.7 341.8 1105C341.1 1115.3 339.4 1130.7 338.7 1136.6C338 1142.4 337.2 1148.5 336.6 1147.1C336 1145.6 335.2 1131.9 334.5 1126.1C333.8 1120.2 332.2 1110.9 331.3 1105C330.5 1099.2 328.9 1089.9 328.2 1084C327.5 1078.2 326.5 1068.9 326.1 1063C325.7 1057.1 324.9 1047.9 325 1042C325.2 1036.1 326.4 1026.4 327.1 1021C327.9 1015.6 330.3 1003.2 330.3 1003.2Z" fill="#00FF80"/>
<path d="M318.1 1003.2L328.6 1003.2C328.6 1003.2 328.4 1030.7 328.2 1042C328 1053.3 327.5 1075.8 327.1 1084C326.8 1092.3 326.1 1100.3 325.7 1100.8C325.2 1101.4 324.5 1093.5 324 1088.2C323.5 1082.9 322.5 1071 321.9 1063C321.3 1055.1 320.3 1039.9 319.8 1031.5C319.3 1023.1 318.1 1003.2 318.1 1003.2Z" fill="#FFFF00"/>
<path d="M313.5 1117.6C314.1 1117.1 316.5 1121.9 317.7 1126.1C318.9 1130.2 320.9 1139.7 321.9 1147.1C322.9 1154.4 324.3 1169.7 325 1178.6C325.8 1187.4 327 1203.6 327.1 1210.1C327.3 1216.6 326.7 1224.8 326.1 1224.8C325.5 1224.8 323.8 1213.6 322.9 1210.1C322.1 1206.6 320.7 1204 319.8 1199.6C318.9 1195.2 317.4 1185.9 316.6 1178.6C315.9 1171.2 315 1153.8 314.5 1147.1C314 1140.3 313.2 1134.4 313.1 1130.3C312.9 1126.1 312.8 1118.2 313.5 1117.6Z" fill="#00FFFF"/>
<path d="M346.1 1003.2L362.9 1003.2C362.9 1003.2 362.4 1060.9 362.2 1084C362.1 1107.1 362 1150.4 361.8 1168.1C361.6 1185.7 361.2 1201.3 360.8 1210.1C360.3 1218.9 359.4 1226.7 358.7 1231.1C357.9 1235.5 356.4 1239.2 355.5 1241.6C354.6 1243.9 353.4 1246.7 352.4 1247.9C351.3 1249.1 349 1248.1 348.2 1250C347.3 1251.9 346.1 1261.6 346.1 1261.6L336.6 1261.6C336.6 1261.6 337.4 1241.2 337.6 1231.1C337.9 1220.9 338.3 1200.8 338.7 1189.1C339.1 1177.3 340.2 1158.8 340.8 1147.1C341.4 1135.3 342.4 1116.8 342.9 1105C343.4 1093.3 344.1 1077.3 344.6 1063C345 1048.8 346.1 1003.2 346.1 1003.2Z" fill="#FFFF00"/>
<path d="M346.7 1003.2L361.8 1003.2C361.8 1003.2 361.6 1060.9 361.4 1084C361.2 1107.1 360.5 1150.4 360.1 1168.1C359.7 1185.7 359.2 1201.6 358.7 1210.1C358.2 1218.6 357.1 1224.9 356.6 1229C356 1233.1 355.2 1237.4 354.5 1239.5C353.7 1241.6 352.2 1242.8 351.3 1243.7C350.4 1244.6 349 1243.3 348.2 1245.8C347.3 1248.3 345 1261.6 345 1261.6L339.7 1261.6C339.7 1261.6 339 1223.2 339.1 1210.1C339.3 1197 340.3 1179.8 340.8 1168.1C341.3 1156.3 342.3 1140.8 342.9 1126.1C343.5 1111.3 344.5 1080.2 345 1063C345.5 1045.8 346.7 1003.2 346.7 1003.2Z" fill="#FF8000"/>
<path d="M347.5 1003.2L360.8 1003.2C360.8 1003.2 360.4 1045.8 360.1 1063C359.8 1080.2 359.3 1111.9 358.7 1126.1C358 1140.2 356.4 1156.2 355.5 1163.9C354.6 1171.5 353.1 1180.1 352.4 1180.7C351.6 1181.3 350.8 1175.7 350.3 1168.1C349.8 1160.4 349.1 1140.8 348.8 1126.1C348.4 1111.3 347.9 1080.2 347.7 1063C347.6 1045.8 347.5 1003.2 347.5 1003.2Z" fill="#FF0000"/>
<path d="M362.2 1003.2L387.4 1003.2C387.4 1003.2 388.3 1047.3 388.7 1063C389.1 1078.8 389.5 1100.8 390.2 1115.5C390.8 1130.3 392.5 1154.8 393.3 1168.1C394.1 1181.3 395.3 1199.8 395.8 1210.1C396.4 1220.4 397.9 1236.3 397.5 1241.6C397.2 1246.9 394.5 1249.4 393.3 1247.9C392.1 1246.4 390.1 1236.1 389.1 1231.1C388.1 1226.1 386.8 1213.7 386 1212.2C385.1 1210.7 383.8 1216.5 382.8 1220.6C381.8 1224.7 380.1 1237.8 378.6 1241.6C377.1 1245.4 374.1 1247.3 372.3 1247.9C370.5 1248.5 367.5 1246.7 366 1245.8C364.5 1244.9 362.3 1275.6 361.8 1241.6C361.3 1207.6 362.2 1003.2 362.2 1003.2Z" fill="#00FF80"/>
<path d="M362.9 1003.2L386 1003.2C386 1003.2 386.9 1048.8 386.6 1063C386.3 1077.3 384.6 1096.8 383.9 1105C383.1 1113.3 381.7 1118.3 381.1 1121.8C380.5 1125.4 380 1125.3 379.7 1130.3C379.3 1135.3 378.9 1150.8 378.6 1157.6C378.3 1164.3 378 1174.2 377.6 1178.6C377.1 1183 376.1 1186.1 375.5 1189.1C374.9 1192 374.2 1197.2 373.4 1199.6C372.5 1201.9 370.2 1204.1 369.2 1205.9C368.1 1207.6 366.7 1213.1 366 1212.2C365.3 1211.3 364.3 1205.8 363.9 1199.6C363.5 1193.4 363 1195.6 362.9 1168.1C362.7 1140.6 362.9 1003.2 362.9 1003.2Z" fill="#00FFFF"/>
<path d="M363.9 1003.2L384.5 1003.2C384.5 1003.2 384.2 1030.7 383.9 1042C383.6 1053.3 383 1073.4 382.4 1084C381.8 1094.6 380.5 1111.8 379.7 1117.6C378.8 1123.5 377.2 1121.9 376.5 1126.1C375.8 1130.2 375.1 1141.8 374.4 1147.1C373.8 1152.4 372.8 1160.9 371.9 1163.9C371 1166.8 368.9 1168.9 368.1 1168.1C367.3 1167.2 366.5 1163.4 366 1157.6C365.5 1151.7 364.8 1139.3 364.5 1126.1C364.2 1112.8 364 1080.2 363.9 1063C363.8 1045.8 363.9 1003.2 363.9 1003.2Z" fill="#0080FF"/>
<path d="M371.9 1003.2L374.8 1003.2L374.4 1031.5L373.4 1051.5L372.3 1031.5Z" fill="#0000FF"/>
<path d="M386.6 1003.2L435.3 1003.2C435.3 1003.2 433.8 1023.1 433.2 1031.5C432.6 1039.9 431.7 1055.7 431.1 1063C430.5 1070.4 429.6 1082.3 429 1084C428.4 1085.8 427.5 1072.7 426.9 1075.6C426.4 1078.6 425.7 1095 425.3 1105C424.8 1115 424.1 1135.3 423.8 1147.1C423.4 1158.8 423.2 1178.8 422.7 1189.1C422.3 1199.4 421.5 1214.1 420.6 1220.6C419.7 1227.1 417.3 1232.1 416.4 1235.3C415.5 1238.5 415.5 1242.1 414.3 1243.7C413.2 1245.3 409.5 1247.1 408 1246.8C406.6 1246.6 404.9 1243.8 403.8 1241.6C402.8 1239.4 401.6 1235.5 400.7 1231.1C399.8 1226.7 398.4 1218.9 397.5 1210.1C396.6 1201.3 395.3 1179.8 394.4 1168.1C393.5 1156.3 392 1137.8 391.2 1126.1C390.5 1114.3 389.6 1095.8 389.1 1084C388.6 1072.3 387.8 1053.3 387.4 1042C387.1 1030.7 386.6 1003.2 386.6 1003.2Z" fill="#FFFF00"/>
<path d="M387.4 1003.2L421.7 1003.2C421.7 1003.2 421.2 1045.8 421.1 1063C420.9 1080.2 420.8 1111.3 420.6 1126.1C420.4 1140.8 420 1157.8 419.6 1168.1C419.1 1178.4 418.2 1192.8 417.5 1199.6C416.7 1206.3 415.4 1213.7 414.3 1216.4C413.3 1219 411.3 1217.8 410.1 1218.5C408.9 1219.2 407 1222.8 405.9 1221.6C404.9 1220.5 403.7 1216.1 402.8 1210.1C401.9 1204.1 400.5 1188.9 399.6 1178.6C398.7 1168.3 397.4 1148.3 396.5 1136.6C395.6 1124.8 394.2 1106.3 393.3 1094.5C392.4 1082.8 391 1065.3 390.2 1052.5C389.3 1039.7 387.4 1003.2 387.4 1003.2Z" fill="#FF8000"/>
<path d="M396.5 1003.2L408 1003.2C408 1003.2 408.8 1012.6 409.1 1012.6C409.4 1012.6 410.1 1003.2 410.1 1003.2L418.5 1003.2C418.5 1003.2 419 1048.8 418.9 1063C418.9 1077.3 418.5 1093.3 418.1 1105C417.8 1116.8 417.1 1136.8 416.4 1147.1C415.8 1157.4 414.3 1173 413.3 1178.6C412.2 1184.1 410.1 1186.6 409.1 1186.6C408 1186.6 406.8 1184.1 405.9 1178.6C405 1173 403.6 1157.4 402.8 1147.1C401.9 1136.8 400.7 1116.8 400 1105C399.4 1093.3 398.4 1077.3 397.9 1063C397.4 1048.8 396.5 1003.2 396.5 1003.2Z" fill="#FF0000"/>
<path d="M434.3 1003.2L450 1003.2C450 1003.2 449.3 1030.7 449 1042C448.7 1053.3 448.4 1072.3 447.9 1084C447.5 1095.8 446.4 1114.3 445.8 1126.1C445.3 1137.8 444.3 1156.3 443.7 1168.1C443.2 1179.8 442.2 1199.8 441.6 1210.1C441.1 1220.4 440.1 1234.4 439.5 1241.6C438.9 1248.8 437.4 1261.6 437.4 1261.6L423.8 1261.6C423.8 1261.6 424.5 1241.2 424.8 1231.1C425.1 1220.9 425.4 1200.8 425.9 1189.1C426.3 1177.3 427.4 1158.8 428 1147.1C428.6 1135.3 429.5 1116.8 430.1 1105C430.7 1093.3 431.6 1077.3 432.2 1063C432.8 1048.8 434.3 1003.2 434.3 1003.2Z" fill="#00FF80"/>
<path d="M435.8 1003.2L444.8 1003.2C444.8 1003.2 444.5 1030.7 444.2 1042C443.9 1053.3 443.2 1072.3 442.7 1084C442.2 1095.8 441.2 1114.3 440.6 1126.1C440 1137.8 439.2 1156.3 438.5 1168.1C437.8 1179.8 436.5 1201.3 435.8 1210.1C435 1218.9 433.9 1223.9 433.2 1231.1C432.6 1238.3 431.1 1261.6 431.1 1261.6L424.8 1261.6C424.8 1261.6 426 1223.2 426.5 1210.1C427 1197 428 1181.3 428.6 1168.1C429.3 1154.8 430.5 1128.8 431.1 1115.5C431.8 1102.3 432.7 1085.3 433.2 1073.5C433.8 1061.8 434.6 1041.4 434.9 1031.5C435.3 1021.7 435.8 1003.2 435.8 1003.2Z" fill="#00FFFF"/>
<path d="M439.1 1020C439.7 1018.5 441.1 1025.5 441.6 1031.5C442.1 1037.5 442.7 1054.2 442.7 1063C442.7 1071.8 442.1 1085.7 441.6 1094.5C441.2 1103.4 440.2 1116.3 439.5 1126.1C438.9 1135.8 437.8 1153.6 437 1163.9C436.3 1174.2 435.1 1191.6 434.3 1199.6C433.5 1207.5 431.8 1217.4 431.1 1220.6C430.5 1223.8 429.8 1225.6 429.5 1222.7C429.1 1219.7 428.5 1208.7 428.6 1199.6C428.7 1190.5 429.6 1167.9 430.1 1157.6C430.6 1147.3 431.5 1136.3 432.2 1126.1C432.9 1115.8 434.2 1095.8 434.9 1084C435.7 1072.3 436.8 1051 437.4 1042C438 1033 438.5 1021.4 439.1 1020Z" fill="#0080FF"/>
<path d="M450 1003.2L482.6 1003.2C482.6 1003.2 481.8 1051.7 481.6 1063C481.3 1074.3 480.9 1077.6 480.5 1084C480.1 1090.5 479 1106.9 478.4 1109.2C477.8 1111.6 477 1105.8 476.3 1100.8C475.6 1095.8 474 1080.3 473.2 1073.5C472.3 1066.8 470.9 1056.9 470 1052.5C469.1 1048.1 467.7 1039.1 466.8 1042C466 1045 464.4 1065.3 463.7 1073.5C463 1081.8 462.5 1096.4 461.6 1100.8C460.7 1105.3 458.4 1104.2 457.4 1105C456.4 1105.9 454.8 1110.1 454.2 1107.1C453.7 1104.2 453.5 1091.7 453.2 1084C452.9 1076.4 452.6 1063.8 452.1 1052.5C451.7 1041.2 450 1003.2 450 1003.2Z" fill="#FFFF00"/>
<path d="M452.1 1003.2L463.7 1003.2C463.7 1003.2 463.1 1023.7 462.6 1031.5C462.2 1039.3 461.1 1053.2 460.5 1058.8C460 1064.4 459 1070.8 458.4 1071.4C457.9 1072 457.3 1068.6 456.8 1063C456.2 1057.4 455.3 1039.9 454.7 1031.5C454 1023.1 452.1 1003.2 452.1 1003.2Z" fill="#FF8000"/>
<path d="M473.2 1003.2L481.6 1003.2C481.6 1003.2 481.5 1018.8 481.1 1021C480.8 1023.2 479.7 1017.4 479 1018.9C478.4 1020.4 476.9 1031.5 476.3 1031.5C475.7 1031.5 475.3 1022.9 474.8 1018.9C474.4 1014.9 473.2 1003.2 473.2 1003.2Z" fill="#FF8000"/>
<path d="M467.9 1123.9C468.9 1124.8 471.1 1131.8 472.1 1136.6C473.1 1141.3 474.4 1153.2 475.3 1157.6C476.1 1162 477.2 1164.5 478.4 1168.1C479.6 1171.6 482 1179.8 483.7 1182.8C485.3 1185.7 488.4 1187.6 490 1189.1C491.5 1190.5 494.3 1187.4 495 1193.3C495.7 1199.2 495.7 1225.5 495 1231.1C494.3 1236.7 491.3 1232.3 490 1233.2C488.7 1234.1 486.8 1233.4 485.8 1237.4C484.7 1241.4 482.6 1261.6 482.6 1261.6L447.9 1261.6C447.9 1261.6 449.5 1241.2 450 1231.1C450.6 1220.9 451.4 1199.4 452.1 1189.1C452.9 1178.8 454.1 1164.9 455.3 1157.6C456.5 1150.2 459.2 1140.4 460.5 1136.6C461.9 1132.7 463.7 1132 464.7 1130.3C465.8 1128.5 466.9 1123.1 467.9 1123.9Z" fill="#00FF80"/>
<path d="M473.2 1163.9C474.3 1164.7 475.4 1178.4 476.3 1184.9C477.2 1191.3 478.6 1203.6 479.5 1210.1C480.3 1216.6 482.3 1223.9 482.6 1231.1C482.9 1238.3 481.6 1261.6 481.6 1261.6L450 1261.6C450 1261.6 450.7 1239.8 451.1 1231.1C451.5 1222.4 452.5 1206.9 453.2 1199.6C453.9 1192.2 455.3 1180.9 456.3 1178.6C457.4 1176.2 459.5 1181.6 460.5 1182.8C461.6 1183.9 462.7 1187.6 463.7 1187C464.7 1186.4 466.6 1181.8 467.9 1178.6C469.2 1175.3 472 1163 473.2 1163.9Z" fill="#00FFFF"/>
<path d="M443.7 1261.6L449 1261.6L448.4 1241.6L446.9 1231.1L445.4 1241.6Z" fill="#FFFF00"/>
<path d="M479.7 1084C479.9 1063.9 481.8 1003.2 481.8 1003.2L535.4 1003.2C535.4 1003.2 535.2 1045.8 535 1063C534.8 1080.2 534.2 1111.3 533.7 1126.1C533.3 1140.8 532.4 1157.8 531.6 1168.1C530.8 1178.4 529 1192.2 528.1 1199.6C527.1 1206.9 525.8 1214.7 524.9 1220.6C524 1226.5 522.5 1235.9 521.8 1241.6C521 1247.3 519.7 1261.6 519.7 1261.6L493.4 1261.6C493.4 1261.6 492 1239.8 491.3 1231.1C490.6 1222.4 489 1206.1 488.2 1199.6C487.3 1193.1 485.7 1187.8 485 1184.9C484.3 1181.9 483.5 1183.9 482.9 1178.6C482.3 1173.3 481.2 1160.3 480.8 1147.1C480.4 1133.8 479.6 1104.2 479.7 1084Z" fill="#FFFF00"/>
<path d="M481.2 1003.2L532.9 1003.2C532.9 1003.2 532.5 1045.8 532.3 1063C532 1080.2 531.8 1114.3 531.2 1126.1C530.6 1137.8 529.1 1142.4 528.1 1147.1C527 1151.8 524.7 1153.8 523.9 1159.7C523 1165.5 522.5 1182 521.8 1189.1C521 1196.1 519.6 1205.7 518.6 1210.1C517.6 1214.5 515.4 1217.6 514.4 1220.6C513.4 1223.5 512.1 1228.2 511.3 1231.1C510.4 1234 508.9 1239.2 508.1 1241.6C507.3 1243.9 506.3 1248.5 505.6 1247.9C504.9 1247.3 503.7 1241.2 502.9 1237.4C502 1233.6 500.6 1225.9 499.7 1220.6C498.8 1215.3 497.3 1205.5 496.6 1199.6C495.8 1193.7 495.2 1184.2 494.5 1178.6C493.7 1173 492.2 1163.5 491.3 1159.7C490.4 1155.8 489 1153 488.2 1151.3C487.3 1149.5 485.7 1150.6 485 1147.1C484.3 1143.5 483.3 1134.9 482.9 1126.1C482.5 1117.2 482.1 1101.2 481.8 1084C481.6 1066.8 481.2 1003.2 481.2 1003.2Z" fill="#FF8000"/>
<path d="M482.9 1003.2L511.9 1003.2C511.9 1003.2 512.3 1045.8 512.3 1063C512.3 1080.2 512.2 1111.3 511.9 1126.1C511.6 1140.8 510.8 1159.2 510.2 1168.1C509.6 1176.9 508.3 1184.1 507.7 1189.1C507 1194.1 506.1 1201.3 505.6 1203.8C505.1 1206.3 504.4 1207.5 503.9 1206.9C503.4 1206.3 502.8 1202.7 502.2 1199.6C501.7 1196.5 500.7 1187.8 500.1 1184.9C499.5 1181.9 498.7 1182.4 498 1178.6C497.4 1174.7 496.1 1164.9 495.5 1157.6C494.9 1150.2 494.3 1135.8 493.8 1126.1C493.4 1116.3 493 1092.6 492.4 1088.2C491.7 1083.8 489.9 1092.8 489.2 1094.5C488.5 1096.3 487.7 1100.3 487.1 1100.8C486.5 1101.4 485.5 1104 485 1098.7C484.5 1093.4 483.6 1076.4 483.3 1063C483 1049.6 482.9 1003.2 482.9 1003.2Z" fill="#FF0000"/>
<path d="M512.7 1003.2L518.6 1003.2C518.6 1003.2 519.6 1030.7 519.7 1042C519.7 1053.3 519.2 1075.4 519 1084C518.8 1092.7 518.5 1104 518.2 1104C517.8 1104 516.9 1092.7 516.5 1084C516.1 1075.4 515.9 1051.4 515.5 1042C515 1032.6 513.7 1022.2 513.4 1016.8C513 1011.4 512.7 1003.2 512.7 1003.2Z" fill="#FFFF00"/>
<path d="M534.4 1003.2L555.4 1003.2C555.4 1003.2 554.7 1045.8 554.3 1063C553.9 1080.2 553.3 1111.9 552.6 1126.1C552 1140.2 550.5 1155 549.7 1163.9C548.9 1172.7 547.6 1181.1 547 1189.1C546.4 1197 545.9 1210.4 545.5 1220.6C545.1 1230.7 544.2 1261.6 544.2 1261.6L521.8 1261.6C521.8 1261.6 523.1 1248.8 523.9 1241.6C524.6 1234.4 526.1 1217.4 527 1210.1C527.9 1202.7 529.3 1195 530.2 1189.1C531.1 1183.2 532.6 1176.9 533.3 1168.1C534 1159.2 534.9 1149.1 535 1126.1C535.1 1103 534.4 1003.2 534.4 1003.2Z" fill="#00FF80"/>
<path d="M530.2 1210.1C531.1 1204.2 532.9 1193.5 535.4 1189.1C537.9 1184.7 545.4 1177.1 548 1178.6C550.7 1180 552.6 1193.7 554.3 1199.6C556.1 1205.5 559.2 1218.2 560.6 1220.6C562.1 1222.9 563.8 1214.9 564.8 1216.4C565.9 1217.9 566.8 1227.6 568 1231.1C569.2 1234.6 572.1 1237.3 573.2 1241.6C574.4 1245.9 576.4 1261.6 576.4 1261.6L528.1 1261.6C528.1 1261.6 528.4 1238.3 528.7 1231.1C529 1223.9 529.2 1216 530.2 1210.1Z" fill="#00FF80"/>
<path d="M536.5 1003.2L550.1 1003.2C550.1 1003.2 550.6 1020.2 550.5 1031.5C550.5 1042.8 550.1 1070.8 549.7 1084C549.4 1097.3 548.6 1116.6 548 1126.1C547.5 1135.5 546.6 1146.6 545.9 1151.3C545.3 1156 544.1 1160.3 543.4 1159.7C542.8 1159.1 541.8 1154.7 541.3 1147.1C540.8 1139.4 540 1118.3 539.6 1105C539.2 1091.8 538.5 1061.9 538.6 1052.5C538.6 1043.1 540.2 1042.2 540 1037.8C539.9 1033.4 538 1025.9 537.5 1021C537 1016.2 536.5 1003.2 536.5 1003.2Z" fill="#00FFFF"/>
<path d="M551.8 1003.2L571.6 1003.2C571.6 1003.2 571.3 1045.8 571.1 1063C570.9 1080.2 570.4 1111.3 570.1 1126.1C569.8 1140.8 569.3 1158.7 569 1168.1C568.7 1177.5 568.4 1190.3 568 1193.3C567.5 1196.2 566.6 1191.1 565.9 1189.1C565.1 1187 563.6 1183 562.7 1178.6C561.8 1174.2 560.5 1164.9 559.6 1157.6C558.7 1150.2 557.2 1136.3 556.4 1126.1C555.7 1115.8 554.9 1095.8 554.3 1084C553.8 1072.3 553 1053.3 552.6 1042C552.3 1030.7 551.8 1003.2 551.8 1003.2Z" fill="#FFFF00"/>
<path d="M553.9 1003.2L570.1 1003.2C570.1 1003.2 569.7 1048.8 569.5 1063C569.2 1077.3 568.4 1094.7 568 1105C567.6 1115.3 567.1 1129.5 566.5 1136.6C565.9 1143.6 564.5 1154 563.8 1155.5C563 1156.9 561.7 1151.2 561.1 1147.1C560.4 1142.9 559.5 1134.9 558.9 1126.1C558.4 1117.2 557.3 1095.8 556.8 1084C556.3 1072.3 555.8 1053.3 555.4 1042C555 1030.7 553.9 1003.2 553.9 1003.2Z" fill="#FF8000"/>
<path d="M555.4 1003.2L568.6 1003.2C568.6 1003.2 568.4 1023.1 568 1031.5C567.6 1039.9 566.5 1055.1 565.9 1063C565.3 1071 564.4 1082.8 563.8 1088.2C563.2 1093.7 562.3 1101.9 561.7 1101.9C561.1 1101.9 560.2 1095.1 559.6 1088.2C559 1081.3 558 1061.9 557.5 1052.5C557 1043.1 556.3 1027.9 556 1021C555.7 1014.1 555.4 1003.2 555.4 1003.2Z" fill="#FF0000"/>
<path d="M571.6 1003.2L641.5 1003.2C641.5 1003.2 641 1048.8 640.9 1063C640.7 1077.3 640.4 1093.3 640.5 1105C640.6 1116.8 641.2 1136.8 641.5 1147.1C641.8 1157.4 642.1 1169.7 642.6 1178.6C643 1187.4 644.2 1202.7 644.7 1210.1C645.1 1217.4 645.7 1226.7 645.7 1231.1C645.7 1235.5 645.4 1239.2 644.7 1241.6C643.9 1243.9 642.2 1247.6 640.5 1247.9C638.7 1248.2 633.5 1244 632.1 1243.7C630.6 1243.4 630.5 1243.3 630 1245.8C629.4 1248.3 627.9 1261.6 627.9 1261.6L576.4 1261.6C576.4 1261.6 574 1241.2 573.2 1231.1C572.5 1220.9 571.5 1203.8 571.1 1189.1C570.8 1174.4 570.7 1143.7 570.7 1126.1C570.7 1108.4 571 1080.2 571.1 1063C571.3 1045.8 571.6 1003.2 571.6 1003.2Z" fill="#00FF80"/>
<path d="M572.2 1003.2L639.4 1003.2C639.4 1003.2 639 1045.8 638.8 1063C638.6 1080.2 638.3 1111.9 637.9 1126.1C637.6 1140.2 636.8 1156.5 636.3 1163.9C635.7 1171.2 634.7 1175 634.2 1178.6C633.6 1182.1 632.6 1184.7 632.1 1189.1C631.5 1193.5 630.5 1206.6 630 1210.1C629.4 1213.6 628.7 1213.1 627.9 1214.3C627 1215.5 624.8 1217.6 623.7 1218.5C622.5 1219.4 620.6 1219.7 619.5 1220.6C618.3 1221.5 616.4 1223.9 615.3 1224.8C614.1 1225.7 612.1 1226 611.1 1226.9C610 1227.8 608.6 1226.2 607.9 1231.1C607.2 1235.9 605.8 1261.6 605.8 1261.6L577.4 1261.6C577.4 1261.6 575.9 1241.2 575.3 1231.1C574.7 1220.9 573.7 1203.8 573.2 1189.1C572.8 1174.4 572.3 1152.1 572.2 1126.1C572 1100 572.2 1003.2 572.2 1003.2Z" fill="#00FFFF"/>
<path d="M585.4 1003.2L594.2 1003.2C594.2 1003.2 593.6 1045.8 593.2 1063C592.8 1080.2 591.6 1112.8 591.1 1126.1C590.6 1139.3 590.1 1151.7 589.6 1157.6C589.2 1163.4 588.4 1169.5 587.9 1168.1C587.5 1166.6 586.7 1155.9 586.3 1147.1C585.8 1138.2 585.1 1116.8 584.8 1105C584.5 1093.3 584.1 1077.3 584.2 1063C584.2 1048.8 585.4 1003.2 585.4 1003.2Z" fill="#00FF80"/>
<path d="M595.3 1003.2L612.1 1003.2C612.1 1003.2 612.7 1045.8 612.7 1063C612.7 1080.2 612.3 1109.9 612.1 1126.1C611.9 1142.2 611.9 1169.7 611.5 1178.6C611 1187.4 609.7 1186.4 608.9 1189.1C608.2 1191.7 606.5 1195 605.8 1197.5C605.1 1200 604.3 1204.9 603.7 1206.9C603.1 1209 602.1 1212.3 601.6 1212.2C601.1 1212 600.6 1207.9 600.1 1205.9C599.7 1203.8 599 1201.3 598.4 1197.5C597.9 1193.7 596.9 1185.6 596.3 1178.6C595.8 1171.5 595 1157.4 594.7 1147.1C594.3 1136.8 593.9 1118.3 593.8 1105C593.8 1091.8 594 1066.8 594.2 1052.5C594.4 1038.3 595.3 1003.2 595.3 1003.2Z" fill="#0080FF"/>
<path d="M596.3 1003.2L605.8 1003.2C605.8 1003.2 606.4 1048.8 606.4 1063C606.5 1077.3 606.2 1094.7 606 1105C605.8 1115.3 605.2 1130.1 604.7 1136.6C604.3 1143 603.2 1148.6 602.6 1151.3C602.1 1153.9 601.4 1156.1 601 1155.5C600.5 1154.9 599.9 1152.6 599.5 1147.1C599.1 1141.5 598.4 1127.3 598 1115.5C597.6 1103.8 597 1078.8 596.8 1063C596.5 1047.3 596.3 1003.2 596.3 1003.2Z" fill="#0000FF"/>
<path d="M615.3 1003.2L638.4 1003.2C638.4 1003.2 638.1 1048.8 637.9 1063C637.8 1077.3 637.6 1093.3 637.3 1105C637 1116.8 636.3 1138.1 635.8 1147.1C635.3 1156 634.4 1167.4 633.7 1169.1C633.1 1170.9 631.8 1162.8 631 1159.7C630.2 1156.6 628.7 1151.2 627.9 1147.1C627 1142.9 625.6 1133.5 624.7 1130.3C623.8 1127 622.4 1125.7 621.6 1123.9C620.7 1122.2 619.3 1120.3 618.4 1117.6C617.5 1115 615.9 1112.7 615.3 1105C614.6 1097.4 613.6 1077.3 613.6 1063C613.6 1048.8 615.3 1003.2 615.3 1003.2Z" fill="#0080FF"/>
<path d="M616.3 1003.2L623.7 1003.2C623.7 1003.2 623.5 1023.1 623.2 1031.5C622.9 1039.9 622.1 1056.5 621.6 1063C621 1069.6 620 1076.7 619.5 1078.2C618.9 1079.6 618.2 1078.6 617.8 1073.5C617.4 1068.5 616.7 1051.9 616.5 1042C616.3 1032.2 616.3 1003.2 616.3 1003.2Z" fill="#0000FF"/>
<path d="M630.4 1003.2L634.2 1003.2C634.2 1003.2 634.6 1030.7 634.6 1042C634.5 1053.3 634.1 1075.6 633.7 1084C633.4 1092.5 632.5 1102.5 632.1 1102.5C631.6 1102.5 631.1 1092.5 630.8 1084C630.5 1075.6 630 1053.3 630 1042C629.9 1030.7 630.4 1003.2 630.4 1003.2Z" fill="#0000FF"/>
<path d="M581.6 1003.2L586.3 1003.2L585.4 1021L583.7 1042L582.5 1021Z" fill="#0080FF"/>
<path d="M640 1003.2L660.4 1003.2C660.4 1003.2 659.8 1030.7 659.8 1042C659.8 1053.3 660.2 1072.3 660.4 1084C660.7 1095.8 661.1 1114.3 661.5 1126.1C661.9 1137.8 662.9 1156.3 663.2 1168.1C663.4 1179.8 663.7 1201.3 663.6 1210.1C663.5 1218.9 663 1226.4 662.5 1231.1C662.1 1235.8 661.2 1241.6 660.4 1243.7C659.7 1245.8 658.3 1244.8 657.3 1245.8C656.2 1246.8 653.9 1251.6 653.1 1251.1C652.2 1250.5 651.5 1247.3 651 1241.6C650.4 1235.9 649.7 1220.4 649.3 1210.1C648.8 1199.8 648.3 1175.1 647.8 1168.1C647.3 1161 646.3 1165.5 645.7 1159.7C645.1 1153.8 644.2 1136.6 643.6 1126.1C643 1115.5 642 1095.8 641.5 1084C641.1 1072.3 640.7 1053.3 640.5 1042C640.3 1030.7 640 1003.2 640 1003.2Z" fill="#FFFF00"/>
<path d="M641.5 1003.2L658.9 1003.2C658.9 1003.2 658.6 1032.2 658.3 1042C658.1 1051.9 657.7 1064.7 657.3 1073.5C656.8 1082.4 655.8 1098.3 655.2 1105C654.6 1111.8 653.7 1118.6 653.1 1121.8C652.5 1125.1 651.6 1129 651 1128.2C650.4 1127.3 649.6 1120.3 648.9 1115.5C648.1 1110.8 646.4 1101.9 645.7 1094.5C645 1087.2 644.1 1071.8 643.6 1063C643.1 1054.2 642.4 1039.9 642.1 1031.5C641.8 1023.1 641.5 1003.2 641.5 1003.2Z" fill="#FF8000"/>
<path d="M647.2 1003.2L654.7 1003.2C654.7 1003.2 654.4 1023.1 654.1 1031.5C653.8 1039.9 653.1 1056.8 652.6 1063C652.2 1069.2 651.4 1075.6 651 1075.6C650.5 1075.6 649.7 1069.2 649.3 1063C648.9 1056.8 648.3 1039.9 648 1031.5C647.7 1023.1 647.2 1003.2 647.2 1003.2Z" fill="#FF0000"/>
<path d="M678.3 1003.2L691.9 1003.2C691.9 1003.2 691.6 1030.7 691.3 1042C691 1053.3 690.2 1074.6 689.8 1084C689.4 1093.4 688.8 1103.9 688.4 1109.2C687.9 1114.5 687.4 1120.4 686.7 1121.8C686 1123.3 684.4 1120.3 683.5 1119.7C682.6 1119.2 681 1122.6 680.4 1117.6C679.8 1112.6 679.6 1094.6 679.3 1084C679.1 1073.4 678.8 1053.3 678.7 1042C678.6 1030.7 678.3 1003.2 678.3 1003.2Z" fill="#FFFF00"/>
<path d="M680 1003.2L690.9 1003.2C690.9 1003.2 690.3 1023.1 689.8 1031.5C689.4 1039.9 688.3 1056.7 687.7 1063C687.1 1069.3 686.2 1073.9 685.6 1076.7C685 1079.5 684 1084.9 683.5 1083C683 1081.1 682.4 1070.2 682.1 1063C681.7 1055.8 681.1 1039.9 680.8 1031.5C680.5 1023.1 680 1003.2 680 1003.2Z" fill="#FF8000"/>
<path d="M665.7 1075.6C666.6 1074.2 669.7 1079.9 670.9 1084C672.1 1088.2 673.5 1099.2 674.1 1105C674.7 1110.9 675.3 1120.2 675.1 1126.1C675 1131.9 673.8 1145.6 673 1147.1C672.3 1148.5 670.8 1141 669.9 1136.6C669 1132.1 667.5 1121.4 666.7 1115.5C666 1109.7 664.8 1100.1 664.6 1094.5C664.5 1088.9 664.8 1077.1 665.7 1075.6Z" fill="#00FF80"/>
<path d="M681.4 1166C682.4 1166 684.7 1172.4 685.6 1178.6C686.6 1184.7 687.8 1202.7 688.4 1210.1C688.9 1217.4 689.3 1223.9 689.8 1231.1C690.3 1238.3 691.9 1261.6 691.9 1261.6L675.1 1261.6C675.1 1261.6 675.9 1239.8 676.2 1231.1C676.5 1222.4 676.9 1206.9 677.2 1199.6C677.6 1192.2 678.1 1183.3 678.7 1178.6C679.3 1173.9 680.5 1166 681.4 1166Z" fill="#00FF80"/>
<path d="M691.9 1003.2L705.6 1003.2C705.6 1003.2 705 1023.1 704.5 1031.5C704.1 1039.9 703 1054.2 702.4 1063C701.8 1071.8 700.9 1086.9 700.3 1094.5C699.7 1102.2 698.8 1113.2 698.2 1117.6C697.6 1122.1 696.6 1127.8 696.1 1126.1C695.7 1124.3 695.5 1113.9 695.1 1105C694.6 1096.2 693.4 1077.3 693 1063C692.5 1048.8 691.9 1003.2 691.9 1003.2Z" fill="#00FF80"/>
<path d="M693 1003.2L701.4 1003.2C701.4 1003.2 701.2 1032.8 701 1042C700.7 1051.3 700.2 1063.4 699.7 1069.3C699.2 1075.2 698.2 1084 697.6 1084C697 1084 696 1075.2 695.5 1069.3C695 1063.4 694.4 1051.3 694 1042C693.7 1032.8 693 1003.2 693 1003.2Z" fill="#00FFFF"/>
<path d="M695.1 1003.2L697.6 1003.2L696.8 1016.8L695.7 1021Z" fill="#0080FF"/>
<path d="M703.9 1018.9C704.5 1017.4 706.2 1022.4 706.6 1031.5C707.1 1040.6 707.3 1067.9 707.3 1084C707.3 1100.2 706.9 1132.4 706.6 1147.1C706.4 1161.8 706 1181.4 705.6 1189.1C705.1 1196.7 704.2 1199.6 703.5 1201.7C702.8 1203.7 701.1 1205 700.3 1203.8C699.6 1202.6 698.7 1198.3 698.2 1193.3C697.8 1188.3 697.2 1177.5 697.2 1168.1C697.2 1158.7 697.9 1136.3 698.2 1126.1C698.6 1115.8 699.3 1101.9 699.7 1094.5C700.1 1087.2 701 1080.9 701.4 1073.5C701.8 1066.2 702.1 1049.7 702.4 1042C702.8 1034.4 703.3 1020.4 703.9 1018.9Z" fill="#FFFF00"/>
<path d="M711.9 1003.2L722 1003.2C722 1003.2 721.8 1097.1 721.6 1126.1C721.3 1155 720.8 1192.4 720.3 1210.1C719.8 1227.7 718.9 1246.2 718.2 1252.1C717.5 1258 715.8 1260.9 715 1252.1C714.3 1243.3 713.4 1209.7 712.9 1189.1C712.5 1168.5 712 1131.1 711.9 1105C711.7 1079 711.9 1003.2 711.9 1003.2Z" fill="#00FF80"/>
<path d="M715 1003.2L720.7 1003.2C720.7 1003.2 720.4 1045.8 720.3 1063C720.2 1080.2 720.1 1108.4 719.9 1126.1C719.6 1143.7 719 1174.4 718.6 1189.1C718.2 1203.8 717.5 1223.7 717.1 1231.1C716.8 1238.4 716.4 1244.5 716.1 1241.6C715.8 1238.7 715.3 1223.3 715 1210.1C714.8 1196.8 714.6 1164.7 714.4 1147.1C714.3 1129.4 714.1 1100.2 714 1084C713.9 1067.9 713.8 1042.8 714 1031.5C714.1 1020.2 715 1003.2 715 1003.2Z" fill="#00FFFF"/>
<path d="M721.3 1003.2L762.3 1003.2C762.3 1003.2 760.8 1023.1 760.2 1031.5C759.6 1039.9 758.7 1055.7 758.1 1063C757.5 1070.4 756.6 1078.2 756 1084C755.4 1089.9 754.4 1096.2 753.9 1105C753.4 1113.9 752.6 1132.4 752.2 1147.1C751.9 1161.8 751.6 1194.1 751.4 1210.1C751.2 1226.1 750.8 1261.6 750.8 1261.6L721.3 1261.6L721.3 1003.2Z" fill="#FFFF00"/>
<path d="M722 1003.2L752.9 1003.2C752.9 1003.2 752.6 1023.1 752.2 1031.5C751.8 1039.9 750.6 1052.7 750.1 1063C749.6 1073.3 749 1093.3 748.7 1105C748.3 1116.8 747.7 1135.3 747.6 1147.1C747.5 1158.8 747.8 1177.3 748 1189.1C748.3 1200.8 749 1220.9 749.3 1231.1C749.6 1241.2 750.1 1261.6 750.1 1261.6L722 1261.6L722 1003.2Z" fill="#FF8000"/>
<path d="M722.8 1003.2L738.2 1003.2C738.2 1003.2 738.8 1032.8 739.2 1042C739.6 1051.3 740.7 1067.9 741.3 1069.3C741.9 1070.8 742.9 1061.8 743.4 1052.5C743.9 1043.3 745.1 1003.2 745.1 1003.2L747.2 1003.2C747.2 1003.2 746.9 1048.8 746.6 1063C746.2 1077.3 745 1093.3 744.5 1105C743.9 1116.8 742.9 1136.8 742.4 1147.1C741.8 1157.4 741 1170.9 740.3 1178.6C739.5 1186.2 738 1198.2 737.1 1201.7C736.2 1205.2 734.8 1204.1 733.9 1203.8C733.1 1203.5 731.5 1202.2 730.8 1199.6C730.1 1196.9 729.2 1192.2 728.7 1184.9C728.2 1177.5 727.5 1158.2 727 1147.1C726.6 1135.9 726 1118.3 725.5 1105C725.1 1091.8 724.5 1066.8 724.1 1052.5C723.7 1038.3 722.8 1003.2 722.8 1003.2Z" fill="#FF0000"/>
<path d="M756 1088.2C756.5 1091.2 757.7 1114.9 758.1 1126.1C758.6 1137.2 758.9 1156.3 759.2 1168.1C759.5 1179.8 759.8 1199.8 760.2 1210.1C760.7 1220.4 761.7 1234.4 762.3 1241.6C762.9 1248.8 764.4 1261.6 764.4 1261.6L751.8 1261.6C751.8 1261.6 751.7 1226.1 751.8 1210.1C752 1194.1 752.5 1161.8 752.9 1147.1C753.2 1132.4 753.9 1113.3 754.3 1105C754.8 1096.8 755.5 1085.3 756 1088.2Z" fill="#00FF80"/>
<path d="M755 1166C755.4 1166 756.5 1173.9 757.1 1178.6C757.6 1183.3 758.7 1192.2 759.2 1199.6C759.7 1206.9 760.2 1222.4 760.6 1231.1C761 1239.8 761.9 1261.6 761.9 1261.6L756 1261.6C756 1261.6 755.3 1239.8 755 1231.1C754.7 1222.4 754.1 1206.9 753.9 1199.6C753.8 1192.2 753.8 1183.3 753.9 1178.6C754.1 1173.9 754.5 1166 755 1166Z" fill="#00FFFF"/>
<path d="M764.4 1003.2L783.3 1003.2C783.3 1003.2 783 1045.8 782.9 1063C782.8 1080.2 782.5 1111.3 782.3 1126.1C782 1140.8 781.5 1158.1 781.2 1168.1C780.9 1178.1 780.6 1194.5 780.2 1197.5C779.7 1200.4 778.8 1191.7 778.1 1189.1C777.3 1186.4 775.8 1183 774.9 1178.6C774 1174.2 772.6 1164.9 771.8 1157.6C770.9 1150.2 769.7 1136.3 769 1126.1C768.4 1115.8 767.4 1095.8 766.9 1084C766.4 1072.3 765.8 1053.3 765.5 1042C765.1 1030.7 764.4 1003.2 764.4 1003.2Z" fill="#FFFF00"/>
<path d="M767.6 1003.2L777.4 1003.2C777.4 1003.2 778.1 1048.8 778.1 1063C778.1 1077.3 777.6 1095 777.4 1105C777.2 1115 776.9 1129.2 776.6 1134.5C776.2 1139.7 775.4 1142.6 774.9 1142.9C774.4 1143.2 773.4 1141.8 772.8 1136.6C772.2 1131.3 771.2 1115.3 770.7 1105C770.2 1094.7 769.4 1073.3 769 1063C768.7 1052.7 768.2 1039.9 768 1031.5C767.8 1023.1 767.6 1003.2 767.6 1003.2Z" fill="#FF8000"/>
<path d="M769.7 1003.2L776 1003.2C776 1003.2 775.6 1023.1 775.3 1031.5C775 1039.9 774.3 1055.5 773.9 1063C773.5 1070.5 772.8 1085.1 772.4 1085.1C772 1085.1 771.5 1070.5 771.1 1063C770.8 1055.5 770.3 1039.9 770.1 1031.5C769.9 1023.1 769.7 1003.2 769.7 1003.2Z" fill="#FF0000"/>
<path d="M783.3 1003.2L823.7 1003.2C823.7 1003.2 823.4 1048.8 823.2 1063C823 1077.3 822.5 1096.2 822.2 1105C821.8 1113.9 821.2 1120.2 820.7 1126.1C820.3 1131.9 819.7 1142.9 819 1147.1C818.4 1151.2 816.8 1154.6 815.9 1155.5C815 1156.3 813.8 1154.8 812.7 1153.4C811.7 1151.9 809.7 1147.3 808.5 1145C807.4 1142.6 805.5 1136.3 804.3 1136.6C803.2 1136.8 801.2 1145.1 800.1 1147.1C799.1 1149 798 1150.8 797 1150.2C795.9 1149.6 793.8 1146.2 792.8 1142.9C791.7 1139.5 790.4 1132.8 789.6 1126.1C788.9 1119.3 788.1 1103.4 787.5 1094.5C786.9 1085.7 785.9 1071.8 785.4 1063C785 1054.2 784.7 1039.9 784.4 1031.5C784.1 1023.1 783.3 1003.2 783.3 1003.2Z" fill="#00FF80"/>
<path d="M784.4 1003.2L809.6 1003.2C809.6 1003.2 809 1023.1 808.5 1031.5C808.1 1039.9 807 1054.2 806.4 1063C805.8 1071.8 804.9 1086.9 804.3 1094.5C803.7 1102.2 802.8 1113.2 802.2 1117.6C801.6 1122.1 800.7 1126.1 800.1 1126.1C799.5 1126.1 798.7 1122.1 798 1117.6C797.4 1113.2 796.2 1100.7 795.5 1094.5C794.8 1088.4 793.4 1079.4 792.8 1073.5C792.1 1067.6 791.4 1058.4 790.7 1052.5C789.9 1046.6 788.4 1038.4 787.5 1031.5C786.6 1024.6 784.4 1003.2 784.4 1003.2Z" fill="#00FFFF"/>
<path d="M811.7 1003.2L822.2 1003.2C822.2 1003.2 821.4 1050.2 821.1 1063C820.8 1075.8 820.4 1086.9 820.1 1094.5C819.7 1102.2 819.1 1113.5 818.6 1117.6C818.1 1121.8 817 1125.1 816.5 1123.9C816 1122.8 815.3 1116.3 814.8 1109.2C814.4 1102.2 813.5 1084.4 813.2 1073.5C812.8 1062.6 812.5 1041.4 812.3 1031.5C812.1 1021.7 811.7 1003.2 811.7 1003.2Z" fill="#00FFFF"/>
<path d="M813.2 1003.2L819.5 1003.2C819.5 1003.2 819.2 1031.3 819 1042C818.8 1052.8 818.3 1072.8 818 1079.8C817.7 1086.9 817.3 1092.4 816.9 1092.4C816.6 1092.4 815.7 1086.9 815.3 1079.8C814.8 1072.8 814.3 1052.8 814 1042C813.7 1031.3 813.2 1003.2 813.2 1003.2Z" fill="#0080FF"/>
<path d="M815.3 1003.2L817.4 1003.2L816.9 1016.8L815.9 1018.9Z" fill="#0000FF"/>
<path d="M764.4 1210.1C765.2 1208.9 767.4 1219.7 768.6 1222.7C769.8 1225.6 771.3 1228.4 772.8 1231.1C774.3 1233.7 777.1 1241.6 779.1 1241.6C781.2 1241.6 786.2 1231.1 787.5 1231.1C788.8 1231.1 788.3 1237.3 788.6 1241.6C788.9 1245.9 789.6 1261.6 789.6 1261.6L762.3 1261.6C762.3 1261.6 762.4 1238.3 762.7 1231.1C763 1223.9 763.6 1211.3 764.4 1210.1Z" fill="#00FF80"/>
<path d="M764.4 1235.3C765.3 1234.4 767.1 1239.5 768.6 1241.6C770.1 1243.7 773.6 1247.2 774.9 1250C776.2 1252.8 778.1 1261.6 778.1 1261.6L761.9 1261.6C761.9 1261.6 762 1251.6 762.3 1247.9C762.7 1244.2 763.5 1236.2 764.4 1235.3Z" fill="#00FFFF"/>
<path d="M819 1231.1C820.5 1228.4 824 1224.5 825.3 1222.7C826.7 1220.9 827.6 1217.9 828.5 1218.5C829.4 1219.1 829.7 1225.4 831.6 1226.9C833.6 1228.4 839.5 1228.4 842.1 1229C844.8 1229.6 848.2 1230.5 850.5 1231.1C852.9 1231.7 856.9 1234.1 858.9 1233.2C861 1232.3 863.8 1225.4 865.3 1224.8C866.7 1224.2 868.3 1227.2 869.5 1229C870.6 1230.8 872.6 1232.8 873.7 1237.4C874.7 1242 876.8 1261.6 876.8 1261.6L812.7 1261.6C812.7 1261.6 813.9 1245.9 814.8 1241.6C815.7 1237.3 817.6 1233.7 819 1231.1Z" fill="#00FF80"/>
<path d="M824.3 1250L831.6 1247.9L837.9 1246.8L840 1261.6L823.2 1261.6Z" fill="#00FFFF"/>
<path d="M862.1 1130.3C862.6 1128.8 864.2 1131.3 864.8 1136.6C865.4 1141.8 866.2 1157.8 866.3 1168.1C866.4 1178.4 865.7 1202.4 865.3 1210.1C864.8 1217.7 863.6 1225.6 863.2 1222.7C862.7 1219.7 862.4 1199.7 862.1 1189.1C861.8 1178.5 861.1 1155.3 861.1 1147.1C861.1 1138.8 861.6 1131.7 862.1 1130.3Z" fill="#00FF80"/>
<path d="M822.8 1003.2L844.7 1003.2C844.7 1003.2 844.2 1014.1 844.2 1021C844.3 1027.9 844.9 1045 845.3 1052.5C845.6 1060 846.2 1074.6 846.8 1074.6C847.4 1074.6 848.8 1058.6 849.5 1052.5C850.2 1046.5 851.2 1033 851.6 1031.5C852 1030 852.6 1034.7 852.6 1042C852.6 1049.4 852 1072.3 851.6 1084C851.2 1095.8 850.2 1115.8 849.5 1126.1C848.8 1136.3 847.2 1150.2 846.3 1157.6C845.5 1164.9 844.1 1173.6 843.2 1178.6C842.3 1183.6 841.2 1191.1 840 1193.3C838.9 1195.5 836 1194.6 834.8 1194.3C833.6 1194 832.4 1192.5 831.6 1191.2C830.9 1189.9 830.3 1186.6 829.5 1184.9C828.8 1183.1 827 1182.4 826.4 1178.6C825.8 1174.7 825.7 1164.9 825.3 1157.6C825 1150.2 824 1139.3 823.7 1126.1C823.3 1112.8 822.9 1080.2 822.8 1063C822.7 1045.8 822.8 1003.2 822.8 1003.2Z" fill="#FFFF00"/>
<path d="M825.8 1003.2L840.5 1003.2C840.5 1003.2 840.9 1030.7 841.1 1042C841.3 1053.3 841.7 1072.3 841.7 1084C841.7 1095.8 841.5 1117.2 841.1 1126.1C840.7 1134.9 839.6 1142.8 839 1147.1C838.4 1151.3 837.5 1154.8 836.9 1156.5C836.3 1158.2 835.4 1159.4 834.8 1159.2C834.2 1159.1 833.3 1158.6 832.7 1155.5C832.1 1152.3 831.2 1143.6 830.6 1136.6C830 1129.5 829 1115.3 828.5 1105C828 1094.7 827.4 1077.3 827 1063C826.6 1048.8 825.8 1003.2 825.8 1003.2Z" fill="#FF8000"/>
<path d="M829.1 1003.2L831.6 1003.2L831.2 1031.5L830.6 1063L829.5 1031.5Z" fill="#FF0000"/>
<path d="M856.8 1003.2L877.9 1003.2L877.9 1231.1C877.9 1231.1 873.8 1228.7 872.6 1226.9C871.4 1225.1 870.1 1223.8 869.5 1218.5C868.8 1213.2 868.2 1199.1 867.8 1189.1C867.3 1179.1 866.7 1155.3 866.3 1147.1C865.9 1138.8 865.3 1134.7 864.8 1130.3C864.4 1125.8 863.7 1122 863.2 1115.5C862.6 1109.1 861.6 1094.3 861.1 1084C860.5 1073.7 859.5 1053.3 858.9 1042C858.4 1030.7 856.8 1003.2 856.8 1003.2Z" fill="#FFFF00"/>
<path d="M860 1003.2L877.9 1003.2L877.9 1130.3C877.9 1130.3 874.5 1129.6 873.7 1126.1C872.8 1122.5 872.3 1110.9 871.6 1105C870.8 1099.2 869.3 1089.9 868.4 1084C867.5 1078.2 866 1068.9 865.3 1063C864.5 1057.1 863.3 1047.9 862.7 1042C862.1 1036.1 861.4 1026.4 861.1 1021C860.7 1015.6 860 1003.2 860 1003.2Z" fill="#FF8000"/>
</g>
<clipPath id="clc"><rect x="100" y="738.8" width="777" height="255"/></clipPath>
<path d="M118.2 872.9H876" stroke="#000" stroke-width="2.3" stroke-dasharray="12.5 12.47" fill="none"/>
<path d="M101.7 753.9 L103.4 752.9 L105.1 756 L106.6 770.7 L108 793.8 L109.3 823.2 L110.8 861.1 L112.2 894.7 L113.9 919.9 L115.6 934.6 L117.7 945.1 L119.2 946.1 L121.3 940.9 L124.4 928.3 L127.6 917.8 L129.7 911.5 L131.8 898.9 L133.9 877.9 L135.5 856.8 L136.6 835.8 L137.4 830.2 L139.1 837.9 L140.8 848.4 L142.9 869.5 L145 885.2 L146.9 890 L148.6 882.1 L150 865.3 L151.7 850.5 L153.8 837.9 L156.3 819 L158.4 806.4 L160.5 801.8 L163.3 799.7 L165.4 800.1 L167.5 795.9 L169.6 795.5 L171.7 802.2 L173.8 814.8 L175.9 828.5 L178 834.2 L180.1 831.6 L182.2 814.8 L184.3 798 L186.4 786.5 L189.1 777 L191.6 768.6 L194.2 764.8 L196.9 766.1 L199.6 764.4 L202.1 758.5 L204.2 757.1 L206.8 761.3 L209.5 768.6 L212.2 783.3 L215.2 802.2 L217.9 818 L219.4 833.7 L221.1 843.2 L222.5 840 L223.6 848.4 L226.3 849.5 L228.4 856.8 L231.6 870.5 L233.7 877.9 L236.2 883.1 L238.9 894.7 L241 908.3 L242.7 909.8 L245.2 903.1 L247.3 890.5 L249.4 871.6 L251.5 848.4 L253.6 816.9 L255.1 789.6 L256.1 772.8 L257.8 769.7 L259.9 769.7 L262 771.8 L264.1 777 L266.2 785.4 L268.9 793.8 L271.5 804.3 L273.6 821.1 L276.1 840 L278.8 856.8 L280.9 871.6 L283 886.3 L285.1 897.8 L287.2 901 L290 899.9 L291.8 904.7 L293.5 886.3 L295 861.1 L296.7 829.5 L298.4 806.4 L300.3 794.9 L301.9 792.8 L303 798 L304.7 819 L306.8 844.2 L308.9 865.3 L311.4 888.4 L313.5 901 L315.6 905.2 L317.7 904.1 L319.8 894.7 L322.3 880 L324.4 869.5 L326.1 857.9 L328.2 853.7 L329.9 856.8 L332 869.5 L333.9 881 L335.5 884.2 L337 875.8 L339.1 856.8 L341.8 833.7 L343.9 814.8 L346.1 791.7 L348.2 770.7 L350.3 758.1 L352.4 753.5 L354.5 756 L356.6 766.5 L358.7 787.5 L360.1 819 L361.4 861.1 L362.4 903.1 L363.9 932.5 L365.4 946.1 L367.5 949.7 L369.8 951.4 L371.9 949.3 L374 938.8 L375.5 929.3 L377.1 927.2 L378.6 930.4 L380.7 929.3 L382.4 919.9 L383.9 903.1 L385.3 882.1 L387 867.4 L388.7 856.8 L390.8 848.4 L392.9 829.5 L395 808.5 L396.9 783.3 L398.6 768.6 L400 765.5 L401.7 764.4 L403.8 759.2 L407 753.9 L409.1 751.8 L411.2 751.4 L413.3 753.5 L415.4 760.2 L418.5 768.6 L420.6 783.3 L422.3 804.3 L423.8 827.4 L425.3 848.4 L426.9 869.5 L429 890.5 L431.1 909.4 L433.2 928.3 L435.3 938.8 L437.9 943 L440.6 945.1 L442.1 939.8 L443.7 924.1 L445.4 903.1 L446.9 886.3 L448.4 869.5 L449.6 852.6 L450.7 846.3 L452.1 845.3 L454.2 848.4 L456.3 854.7 L458.4 860.6 L461 861.7 L463.1 861.1 L465.2 866.3 L467.3 871.1 L468.9 871.6 L471.1 865.3 L473.2 856.8 L475.3 848.4 L477.4 845.3 L479 843.2 L480.5 831.6 L482.2 808.5 L483.7 791.7 L485.8 787.1 L487.9 788.6 L490 789.2 L492.1 785.4 L493.7 770.7 L495.1 762.3 L496.6 758.1 L498.7 754.3 L501.4 751.8 L503.9 749.7 L506 748.7 L508.1 752.9 L510.2 762.3 L512.3 774.9 L514.8 785.4 L517.6 792.8 L520.3 797 L522.8 795.5 L524.9 791.3 L526.6 791.7 L528.7 797 L531.2 801.2 L533.7 808.5 L535.4 829.5 L537.5 856.8 L539.6 882.1 L541.3 898.9 L543.8 908.3 L545.9 911.9 L548 906.2 L550.1 886.3 L552.2 856.8 L554.7 829.5 L557.5 804.3 L559.6 789.6 L561.7 783.9 L563.8 784.4 L565.9 791.7 L568 806.4 L569.7 823.2 L571.1 850.5 L572.8 886.3 L574.3 910.4 L576.4 909.4 L579.1 906.2 L582.1 904.1 L584.2 899.9 L586.3 886.3 L587.9 880 L589.4 879.5 L591.1 886.3 L593.2 913.6 L595.3 938.8 L597.4 957.7 L599.5 969.2 L601.6 975.5 L603.7 970.3 L605.8 964 L608.9 954.5 L611.1 945.1 L613.2 932.5 L614.8 923 L616.3 920.5 L618.4 924.1 L620.5 926.6 L622.6 927.2 L624.7 934.6 L626.8 943 L630 949.3 L632.1 952 L634.6 952.4 L636.7 943 L638.4 924.1 L639.8 894.7 L640.9 865.3 L642.1 837.9 L643.6 821.1 L645.7 814.8 L647.8 812.7 L649.5 805.4 L651 803.9 L652.6 808.5 L654.7 816.9 L657.3 823.7 L660.4 823.2 L661.9 831.6 L663.6 844.2 L665.3 853.7 L667.8 858.9 L669.9 862.1 L672.4 868 L674.1 865.3 L676.2 852.6 L678.3 845.3 L680.4 842.8 L683.5 843.2 L685.6 840 L687.7 837.9 L689.8 842.1 L691.9 851.6 L694 856.4 L696.1 851.6 L698.2 833.7 L700.3 820.1 L702 818.4 L704.5 823.2 L706.6 833.7 L708.7 852.6 L710.8 869.5 L712.9 886.3 L715 901 L717.1 917.8 L718.6 923 L720.7 925.1 L722 903.1 L723 865.3 L724.1 823.2 L725.1 789.6 L726.6 769.7 L728.7 762.3 L731.8 757.1 L735 754.3 L737.1 755 L739.6 759.2 L741.7 767.6 L744.5 778.1 L747.6 789.6 L749.7 804.3 L751.4 823.2 L752.9 848.4 L753.9 874.7 L756 870.5 L758.1 867.8 L759.8 872.6 L761.3 882.1 L762.7 886.7 L764.4 880 L766.1 861.1 L767.6 829.5 L769 804.3 L770.3 794.9 L771.8 793.4 L773.9 794.9 L776 798 L778.7 807.5 L780.8 821.1 L782.9 840 L785 854.7 L787.5 851.6 L789.6 865.3 L791.7 875.8 L794.2 881 L797 883.1 L799.1 878.9 L801.2 869.5 L803.3 852.6 L804.7 835.8 L806.4 829.5 L807.9 833.7 L809.6 852.6 L811.7 873.7 L813.8 886.3 L815.9 893.6 L817.4 894.7 L819.5 889.4 L821.1 877.9 L822.8 852.6 L824.3 827.4 L825.8 808.5 L827.4 798 L829.5 792.8 L832.1 790 L834.8 787.5 L836.9 790 L839 795.9 L841.1 808.5 L843.8 818 L846.3 824.3 L849.5 832.7 L852.2 840 L853.7 852.6 L855.2 869.5 L856.8 880 L858.5 876.8 L860 861.1 L862.1 842.1 L864.2 834.8 L866.9 832.7 L869 821.1 L871.1 802.2 L873.2 787.5 L875.8 779.5" stroke="#0000FF" stroke-width="2.35" fill="none" stroke-linejoin="round" stroke-linecap="round" clip-path="url(#clc)"/>
<path d="M101 738.8H876V993.8H101ZM101 728.2V1270.6M876 728.2V1270.6M90.4 1004.6H886.6M90.4 1260H886.6M101 738.8v-10.6M101 993.8v10.6M101 1260v10.6M165.6 738.8v-6M165.6 993.8v6M165.6 1260v6M230.2 738.8v-10.6M230.2 993.8v10.6M230.2 1260v10.6M294.8 738.8v-6M294.8 993.8v6M294.8 1260v6M359.3 738.8v-10.6M359.3 993.8v10.6M359.3 1260v10.6M423.9 738.8v-6M423.9 993.8v6M423.9 1260v6M488.5 738.8v-10.6M488.5 993.8v10.6M488.5 1260v10.6M553.1 738.8v-6M553.1 993.8v6M553.1 1260v6M617.7 738.8v-10.6M617.7 993.8v10.6M617.7 1260v10.6M682.2 738.8v-6M682.2 993.8v6M682.2 1260v6M746.8 738.8v-10.6M746.8 993.8v10.6M746.8 1260v10.6M811.4 738.8v-6M811.4 993.8v6M811.4 1260v6M876 738.8v-10.6M876 993.8v10.6M876 1260v10.6M101 984.9h-10.6M876 984.9h10.6M101 970.9h-6M876 970.9h6M101 956.9h-10.6M876 956.9h10.6M101 942.9h-6M876 942.9h6M101 928.9h-10.6M876 928.9h10.6M101 914.9h-6M876 914.9h6M101 900.9h-10.6M876 900.9h10.6M101 886.9h-6M876 886.9h6M101 872.9h-10.6M876 872.9h10.6M101 858.9h-6M876 858.9h6M101 844.9h-10.6M876 844.9h10.6M101 830.9h-6M876 830.9h6M101 816.9h-10.6M876 816.9h10.6M101 802.9h-6M876 802.9h6M101 788.9h-10.6M876 788.9h10.6M101 774.9h-6M876 774.9h6M101 760.9h-10.6M876 760.9h10.6M101 746.9h-6M876 746.9h6M101 1234.5h-6M876 1234.5h6M101 1208.9h-10.6M876 1208.9h10.6M101 1183.4h-6M876 1183.4h6M101 1157.8h-10.6M876 1157.8h10.6M101 1132.3h-6M876 1132.3h6M101 1106.8h-10.6M876 1106.8h10.6M101 1081.2h-6M876 1081.2h6M101 1055.7h-10.6M876 1055.7h10.6M101 1030.1h-6M876 1030.1h6" stroke="#000" stroke-width="1.7" fill="none" stroke-linecap="butt"/>
<g font-size="20.6" text-anchor="end">
<text x="82.4" y="766.2">0,8</text>
<text x="82.4" y="794.2">0,6</text>
<text x="82.4" y="822.2">0,4</text>
<text x="82.4" y="850.2">0,2</text>
<text x="82.4" y="878.2">0,0</text>
<text x="82.4" y="906.2">-0,2</text>
<text x="82.4" y="934.2">-0,4</text>
<text x="82.4" y="962.2">-0,6</text>
<text x="82.4" y="990.2">-0,8</text>
<text x="82.4" y="1265.3">10</text>
<text x="82.4" y="1214.2">20</text>
<text x="82.4" y="1163.1">30</text>
<text x="82.4" y="1112.1">40</text>
<text x="82.4" y="1061">50</text>
<text x="82.4" y="1009.9">60</text>
</g>
<g font-size="20.6" text-anchor="middle">
<text x="101" y="1292.8">2016,0</text>
<text x="230.2" y="1292.8">2016,5</text>
<text x="359.3" y="1292.8">2017,0</text>
<text x="488.5" y="1292.8">2017,5</text>
<text x="617.7" y="1292.8">2018,0</text>
<text x="746.8" y="1292.8">2018,5</text>
<text x="876" y="1292.8">2019,0</text>
</g>
<text x="488.5" y="1340.1" font-size="32" text-anchor="middle">Year</text>
<text transform="translate(26.8 958.4) rotate(-90)" font-size="31.8">Intensity <tspan font-size="24" dx="0.5">σ</tspan></text>
<text transform="translate(32.9 1205.1) rotate(-90)" font-size="31.8">Scale <tspan font-size="24" dx="-1.2">ν</tspan></text>
<text x="890.1" y="879.6" font-size="32.5">(c)</text>
<rect x="888" y="1003.1" width="38.9" height="26.1" fill="#000000"/>
<rect x="888" y="1028.9" width="38.9" height="26.1" fill="#0000FF"/>
<rect x="888" y="1054.8" width="38.9" height="26.1" fill="#0080FF"/>
<rect x="888" y="1080.6" width="38.9" height="26.1" fill="#00FFFF"/>
<rect x="888" y="1106.5" width="38.9" height="26.1" fill="#00FF80"/>
<rect x="888" y="1132.3" width="38.9" height="26.1" fill="#00FF00"/>
<rect x="888" y="1158.2" width="38.9" height="26.1" fill="#FFFF00"/>
<rect x="888" y="1184" width="38.9" height="26.1" fill="#FF8000"/>
<rect x="888" y="1209.9" width="38.9" height="25.8" fill="#FF0000"/>
<g font-size="14" letter-spacing="0.45">
<text x="933" y="1034.6">-0,88</text>
<text x="933" y="1060.5">-0,65</text>
<text x="933" y="1086.3">-0,42</text>
<text x="933" y="1112.2">-0,19</text>
<text x="933" y="1138">0,040</text>
<text x="933" y="1163.9">0,27</text>
<text x="933" y="1189.7">0,50</text>
<text x="933" y="1215.6">0,73</text>
<text x="933" y="1241.4">0,96</text>
</g>
</g>
<g id="panel-d">
<defs><pattern id="nzd" width="41" height="57" patternUnits="userSpaceOnUse"><rect width="41" height="57" fill="#00FF80"/><rect x="25" y="41" width="3" height="5" fill="#00FF00"/><rect x="34" y="6" width="2" height="4" fill="#00FF00"/><rect x="3" y="32" width="3" height="10" fill="#00FF00"/><rect x="5" y="27" width="2" height="4" fill="#00FF00"/><rect x="15" y="5" width="3" height="4" fill="#00FF00"/><rect x="3" y="36" width="4" height="8" fill="#00FF00"/><rect x="37" y="3" width="2" height="5" fill="#00FF00"/><rect x="25" y="3" width="4" height="10" fill="#00FF00"/><rect x="35" y="8" width="2" height="4" fill="#00FF00"/><rect x="9" y="34" width="3" height="8" fill="#00FF00"/><rect x="19" y="35" width="2" height="10" fill="#00FF00"/><rect x="37" y="36" width="2" height="4" fill="#00FF00"/><rect x="6" y="35" width="2" height="6" fill="#00FF00"/><rect x="3" y="39" width="2" height="10" fill="#00FF00"/><rect x="34" y="27" width="2" height="8" fill="#00FF00"/><rect x="37" y="29" width="3" height="8" fill="#00FF00"/><rect x="15" y="50" width="3" height="6" fill="#00FF00"/><rect x="15" y="5" width="2" height="12" fill="#00FF00"/><rect x="33" y="31" width="4" height="6" fill="#00FF00"/><rect x="28" y="18" width="3" height="12" fill="#00FF00"/><rect x="7" y="32" width="4" height="4" fill="#00FF00"/><rect x="21" y="9" width="3" height="5" fill="#00FF00"/><rect x="2" y="42" width="3" height="8" fill="#00FF00"/><rect x="36" y="20" width="2" height="10" fill="#00FF00"/><rect x="22" y="38" width="3" height="12" fill="#00FF00"/><rect x="29" y="4" width="3" height="10" fill="#00FF00"/><rect x="30" y="44" width="2" height="6" fill="#00FF00"/><rect x="19" y="41" width="2" height="4" fill="#00FF00"/><rect x="28" y="18" width="4" height="12" fill="#00FF00"/><rect x="22" y="1" width="3" height="12" fill="#00FF00"/><rect x="10" y="39" width="3" height="6" fill="#00FF00"/><rect x="3" y="13" width="2" height="8" fill="#00FF00"/><rect x="15" y="25" width="3" height="5" fill="#00FF00"/><rect x="5" y="10" width="3" height="8" fill="#00FF00"/><rect x="35" y="17" width="3" height="8" fill="#00FF00"/><rect x="35" y="17" width="2" height="8" fill="#00FF00"/><rect x="24" y="14" width="3" height="6" fill="#00FF00"/><rect x="11" y="9" width="2" height="4" fill="#00FF00"/><rect x="14" y="0" width="2" height="12" fill="#00FF00"/><rect x="11" y="16" width="3" height="10" fill="#00FF00"/><rect x="9" y="26" width="3" height="4" fill="#00FF00"/><rect x="36" y="20" width="4" height="6" fill="#00FF00"/><rect x="32" y="39" width="2" height="12" fill="#00FF00"/><rect x="35" y="25" width="2" height="8" fill="#00FF00"/><rect x="25" y="6" width="3" height="8" fill="#00FF00"/><rect x="25" y="3" width="3" height="12" fill="#00FF00"/><rect x="13" y="28" width="2" height="4" fill="#00FF00"/><rect x="21" y="38" width="2" height="4" fill="#00FF00"/><rect x="0" y="36" width="2" height="4" fill="#00FF00"/><rect x="6" y="23" width="2" height="10" fill="#00FF00"/><rect x="4" y="13" width="4" height="4" fill="#00FF00"/><rect x="9" y="40" width="4" height="8" fill="#00FF00"/><rect x="38" y="23" width="3" height="6" fill="#00FF00"/><rect x="7" y="31" width="3" height="4" fill="#00FF00"/><rect x="30" y="19" width="3" height="8" fill="#00FF00"/><rect x="6" y="47" width="2" height="5" fill="#00FF00"/><rect x="16" y="30" width="3" height="12" fill="#00FF00"/><rect x="1" y="13" width="2" height="10" fill="#00FF00"/><rect x="9" y="44" width="4" height="6" fill="#00FF00"/><rect x="33" y="19" width="4" height="4" fill="#00FF00"/><rect x="16" y="33" width="2" height="12" fill="#00FF00"/><rect x="22" y="49" width="3" height="5" fill="#00FF00"/><rect x="34" y="32" width="2" height="10" fill="#00FF00"/><rect x="14" y="39" width="3" height="12" fill="#00FF00"/><rect x="25" y="47" width="2" height="5" fill="#00FF00"/><rect x="33" y="31" width="2" height="5" fill="#00FF00"/><rect x="1" y="1" width="3" height="12" fill="#00FF00"/><rect x="16" y="12" width="3" height="8" fill="#00FF00"/><rect x="28" y="51" width="4" height="6" fill="#00FF00"/><rect x="5" y="14" width="3" height="6" fill="#00FF00"/></pattern></defs>
<clipPath id="chd"><rect x="1133.3" y="1000.4" width="775" height="255.1"/></clipPath>
<g clip-path="url(#chd)">
<rect x="1133.3" y="1000.4" width="775" height="255.1" fill="#00FF00"/>
<path d="M1142.8 1236.6C1143.8 1231.7 1146.4 1223.4 1148 1221.9C1149.6 1220.4 1152.5 1225.8 1154.3 1226.1C1156.1 1226.4 1159.1 1226.9 1160.6 1224C1162.1 1221.1 1163.6 1209.2 1164.8 1205.1C1166 1201 1168 1196.3 1169 1194.6C1170 1192.8 1171.3 1191 1172.2 1192.5C1173.1 1193.9 1174.6 1200.4 1175.3 1205.1C1176.1 1209.8 1177.1 1218.9 1177.4 1226.1C1177.7 1233.3 1177.4 1256.6 1177.4 1256.6L1140.7 1256.6C1140.7 1256.6 1141.7 1241.4 1142.8 1236.6Z" fill="#00FF80"/>
<path d="M1133.3 998.2L1143.4 998.2C1143.4 998.2 1143 1025.7 1142.8 1037C1142.5 1048.3 1142 1067.3 1141.7 1079C1141.4 1090.8 1140.7 1109.3 1140.7 1121.1C1140.6 1132.8 1141.1 1151.3 1141.3 1163.1C1141.5 1174.8 1141.9 1194.8 1142.1 1205.1C1142.3 1215.4 1143 1230.7 1142.8 1236.6C1142.6 1242.5 1141.2 1244.3 1140.7 1247.1C1140.1 1249.9 1138.6 1256.6 1138.6 1256.6L1133.3 1256.6L1133.3 998.2Z" fill="#FFFF00"/>
<path d="M1133.3 998.2L1141.7 998.2C1141.7 998.2 1141 1018.1 1140.7 1026.5C1140.3 1034.9 1139.6 1047.7 1139.2 1058C1138.7 1068.3 1137.9 1088.3 1137.5 1100C1137.1 1111.8 1136.8 1133.5 1136.5 1142.1C1136.1 1150.6 1135.4 1158.6 1135 1161C1134.5 1163.3 1133.5 1181.7 1133.3 1158.9C1133.1 1136.1 1133.3 998.2 1133.3 998.2Z" fill="#FF8000"/>
<path d="M1133.3 998.2L1140 998.2C1140 998.2 1139.1 1010 1138.6 1016C1138.1 1022 1137 1037.1 1136.5 1041.2C1136 1045.3 1135.4 1046 1135 1045.4C1134.5 1044.8 1133.5 1043.6 1133.3 1037C1133.1 1030.4 1133.3 998.2 1133.3 998.2Z" fill="#FF0000"/>
<path d="M1143.4 998.2L1161.7 998.2C1161.7 998.2 1161.1 1025.7 1160.6 1037C1160.2 1048.3 1159.4 1069.6 1158.5 1079C1157.6 1088.4 1155.6 1099.5 1154.3 1104.2C1153 1108.9 1150.2 1108.8 1149.1 1112.6C1147.9 1116.5 1146.6 1124.5 1145.9 1131.6C1145.2 1138.6 1144.2 1164.5 1143.8 1163.1C1143.4 1161.6 1143 1132.8 1142.8 1121.1C1142.5 1109.3 1142.1 1090.8 1142.1 1079C1142.1 1067.3 1142.6 1048.3 1142.8 1037C1142.9 1025.7 1143.4 998.2 1143.4 998.2Z" fill="#00FF80"/>
<path d="M1144.9 998.2L1158.5 998.2C1158.5 998.2 1157.9 1010.6 1157.5 1016C1157 1021.4 1156.1 1030.8 1155.4 1037C1154.6 1043.2 1152.9 1056.6 1152.2 1060.1C1151.5 1063.7 1151.1 1064 1150.5 1062.2C1150 1060.5 1149 1052.5 1148.4 1047.5C1147.8 1042.5 1146.7 1031.5 1146.3 1026.5C1145.9 1021.5 1145.7 1015.8 1145.5 1011.8C1145.3 1007.8 1144.9 998.2 1144.9 998.2Z" fill="#00FFFF"/>
<path d="M1150.5 998.2L1153.3 998.2L1152.6 1005.5L1151.8 1007.6Z" fill="#0080FF"/>
<path d="M1158.5 998.2L1177.8 998.2C1177.8 998.2 1177.5 1040.8 1177.4 1058C1177.3 1075.2 1177.2 1106.3 1177 1121.1C1176.8 1135.8 1176.1 1153.4 1175.7 1163.1C1175.4 1172.8 1174.8 1186.3 1174.3 1190.4C1173.8 1194.5 1172.8 1193.4 1172.2 1192.5C1171.6 1191.6 1170.6 1189.7 1170.1 1184.1C1169.6 1178.5 1169 1161.4 1168.6 1152.6C1168.2 1143.7 1167.6 1129.9 1166.9 1121.1C1166.2 1112.2 1164.6 1098.4 1163.8 1089.5C1162.9 1080.7 1161.3 1066.8 1160.6 1058C1159.9 1049.2 1159.2 1034.9 1158.9 1026.5C1158.6 1018.1 1158.5 998.2 1158.5 998.2Z" fill="#FFFF00"/>
<path d="M1161.7 998.2L1177 998.2C1177 998.2 1176.6 1043.8 1176.4 1058C1176.1 1072.3 1175.7 1089.7 1175.3 1100C1174.9 1110.3 1174.1 1125.7 1173.6 1131.6C1173.2 1137.4 1172.7 1142.1 1172.2 1142.1C1171.7 1142.1 1170.7 1137.4 1170.1 1131.6C1169.5 1125.7 1168.6 1108.9 1168 1100C1167.4 1091.2 1166.4 1076.2 1165.9 1068.5C1165.4 1060.9 1164.8 1051.3 1164.4 1045.4C1164 1039.5 1163.5 1033.1 1163.1 1026.5C1162.8 1019.9 1161.7 998.2 1161.7 998.2Z" fill="#FF8000"/>
<path d="M1169.4 998.2L1174.3 998.2C1174.3 998.2 1173.9 1010.7 1173.6 1016C1173.3 1021.3 1172.6 1034.5 1172.2 1036C1171.8 1037.4 1171.1 1029.9 1170.7 1026.5C1170.3 1023.1 1169.8 1015.8 1169.6 1011.8C1169.5 1007.8 1169.4 998.2 1169.4 998.2Z" fill="#FF0000"/>
<path d="M1177.4 998.2L1223.2 998.2L1223.2 1256.6L1177.4 1256.6Z" fill="url(#nzd)"/>
<path d="M1189.2 998.2L1189.8 998.2L1189.8 1256.6L1189.2 1256.6Z" fill="#0080FF"/>
<path d="M1223.2 998.2L1247.6 998.2L1247.6 1256.6L1223.2 1256.6Z" fill="#FF0000"/>
<path d="M1224.1 1066L1246.7 1066L1246.7 1070.2L1224.1 1070.2Z" fill="#FFFF00"/>
<path d="M1224.1 1078.6L1246.7 1078.6L1246.7 1081.6L1224.1 1081.6Z" fill="#FFFF00"/>
<path d="M1224.1 1087.4L1246.7 1087.4L1246.7 1092.1L1224.1 1092.1Z" fill="#FFFF00"/>
<path d="M1223.2 1093.7L1247.8 1093.7L1247.8 1107.4L1223.2 1107.4Z" fill="#00FFFF"/>
<path d="M1223.6 1095.4L1241.5 1095.4L1241.5 1105.9L1223.6 1105.9Z" fill="#0000FF"/>
<path d="M1224.1 1113.1L1247.2 1113.1L1247.2 1116.8L1224.1 1116.8Z" fill="#FFFF00"/>
<path d="M1223.2 1118.5L1247.8 1118.5L1247.8 1131.6L1223.2 1131.6Z" fill="#00FFFF"/>
<path d="M1223.6 1120L1247.2 1120L1247.2 1130.1L1223.6 1130.1Z" fill="#0000FF"/>
<path d="M1224.1 1135.3L1247.2 1135.3L1247.2 1141L1224.1 1141Z" fill="#FF8000"/>
<path d="M1223.2 1144.6L1247.8 1144.6L1247.8 1157.8L1223.2 1157.8Z" fill="#00FFFF"/>
<path d="M1223.6 1146.3L1247.2 1146.3L1247.2 1156.3L1223.6 1156.3Z" fill="#0000FF"/>
<path d="M1237.9 1168.9L1247.2 1168.9L1247.2 1174L1237.9 1174Z" fill="#00FFFF"/>
<path d="M1223.2 1211.4L1247.2 1211.4L1247.2 1221.9L1223.2 1221.9Z" fill="#00FFFF"/>
<path d="M1223.6 1213.1L1244.6 1213.1L1244.6 1220.2L1223.6 1220.2Z" fill="#0000FF"/>
<path d="M1235.8 1237L1247.2 1237L1247.2 1242.5L1235.8 1242.5Z" fill="#00FFFF"/>
<path d="M1238.3 1238.7L1246.7 1238.7L1246.7 1240.8L1238.3 1240.8Z" fill="#0000FF"/>
<path d="M1247.6 998.2L1249.7 998.2L1249.7 1256.6L1247.6 1256.6Z" fill="#00FF80"/>
<path d="M1249.3 998.2L1284.6 998.2C1284.6 998.2 1285 1055.9 1285 1079C1285 1102.1 1284.7 1142.5 1284.6 1163.1C1284.4 1183.7 1284.3 1213 1284.1 1226.1C1284 1239.2 1283.5 1256.6 1283.5 1256.6L1249.3 1256.6L1249.3 998.2Z" fill="#FF8000"/>
<path d="M1250.9 998.2L1272 998.2C1272 998.2 1272.7 1018.1 1273 1026.5C1273.3 1034.9 1273.7 1049.2 1274.1 1058C1274.4 1066.8 1275.3 1080.7 1275.7 1089.5C1276.2 1098.4 1276.9 1110.8 1277.2 1121.1C1277.5 1131.3 1277.8 1151.3 1277.8 1163.1C1277.8 1174.8 1277.4 1192 1277.2 1205.1C1277 1218.2 1276.6 1256.6 1276.6 1256.6L1259.8 1256.6C1259.8 1256.6 1259.1 1236.2 1258.9 1226.1C1258.7 1215.9 1258.1 1194.4 1258.3 1184.1C1258.5 1173.8 1259.7 1159 1260.4 1152.6C1261.1 1146.1 1263.4 1142.3 1263.6 1137.9C1263.7 1133.4 1262.2 1126.3 1261.5 1121.1C1260.7 1115.8 1259.2 1107.4 1258.3 1100C1257.4 1092.7 1255.9 1077.4 1255.2 1068.5C1254.4 1059.7 1253.6 1044.4 1253.1 1037C1252.5 1029.7 1251.7 1021.4 1251.4 1016C1251.1 1010.6 1250.9 998.2 1250.9 998.2Z" fill="#FF0000"/>
<path d="M1276.6 998.2L1283.5 998.2C1283.5 998.2 1284 1022.8 1284.1 1037C1284.3 1051.3 1284.6 1082.4 1284.6 1100C1284.6 1117.7 1284.3 1145.4 1284.1 1163.1C1284 1180.7 1283.7 1213 1283.5 1226.1C1283.3 1239.2 1282.9 1256.6 1282.9 1256.6L1281.4 1256.6C1281.4 1256.6 1281.9 1221.1 1282 1205.1C1282.2 1189.1 1282.6 1156.8 1282.5 1142.1C1282.4 1127.4 1281.8 1111.8 1281.4 1100C1281.1 1088.3 1280.4 1068.3 1279.9 1058C1279.5 1047.7 1278.7 1034.9 1278.3 1026.5C1277.8 1018.1 1276.6 998.2 1276.6 998.2Z" fill="#FFFF00"/>
<path d="M1252.6 1177.8C1253.3 1176.3 1254.9 1180.3 1255.6 1184.1C1256.2 1187.9 1256.9 1199.2 1257.3 1205.1C1257.6 1211 1258.1 1218.9 1258.3 1226.1C1258.5 1233.3 1258.9 1256.6 1258.9 1256.6L1250.9 1256.6C1250.9 1256.6 1250.5 1234.8 1250.5 1226.1C1250.5 1217.4 1250.7 1201.3 1250.9 1194.6C1251.2 1187.8 1252 1179.2 1252.6 1177.8Z" fill="#FFFF00"/>
<path d="M1285 998.2L1329.7 998.2C1329.7 998.2 1330.2 1040.8 1330.4 1058C1330.5 1075.2 1330.7 1103.4 1330.8 1121.1C1330.9 1138.7 1331.1 1169.4 1331.2 1184.1C1331.3 1198.8 1331.9 1215.9 1331.8 1226.1C1331.8 1236.2 1330.8 1256.6 1330.8 1256.6L1284.6 1256.6C1284.6 1256.6 1284.8 1206 1285 1184.1C1285.1 1162.2 1285.4 1120.6 1285.6 1100C1285.8 1079.5 1286.3 1051.3 1286.2 1037C1286.2 1022.8 1285 998.2 1285 998.2Z" fill="#00FF80"/>
<path d="M1286.7 998.2L1311.9 998.2C1311.9 998.2 1310.5 1018.1 1309.8 1026.5C1309 1034.9 1307.5 1050.1 1306.6 1058C1305.7 1066 1304.4 1077.4 1303.5 1083.2C1302.6 1089.1 1301.2 1099.2 1300.3 1100C1299.4 1100.9 1298.1 1095.4 1297.2 1089.5C1296.3 1083.7 1294.9 1066 1294 1058C1293.1 1050.1 1291.7 1038.1 1290.9 1032.8C1290 1027.5 1288.3 1025.1 1287.7 1020.2C1287.1 1015.4 1286.7 998.2 1286.7 998.2Z" fill="#00FF00"/>
<path d="M1289.2 998.2L1295.5 998.2L1294.6 1011.8L1293 1021.3L1290.9 1013.9Z" fill="#FFFF00"/>
<path d="M1324.5 1184.1C1325.2 1179.7 1327.7 1173.6 1328.7 1173.6C1329.6 1173.6 1330.8 1176.7 1331.2 1184.1C1331.6 1191.4 1331.8 1215.9 1331.8 1226.1C1331.8 1236.2 1331.2 1256.6 1331.2 1256.6L1321.3 1256.6C1321.3 1256.6 1322.1 1233.3 1322.4 1226.1C1322.7 1218.9 1323.1 1211 1323.4 1205.1C1323.7 1199.2 1323.7 1188.5 1324.5 1184.1Z" fill="#00FF00"/>
<path d="M1301.4 1032.8C1302.1 1029 1303.9 1023 1304.5 1026.5C1305.1 1030 1305.3 1047.7 1305.6 1058C1305.9 1068.3 1306.3 1088.3 1306.6 1100C1306.9 1111.8 1307.2 1131.8 1307.7 1142.1C1308.1 1152.4 1308.9 1164.7 1309.8 1173.6C1310.7 1182.4 1312.8 1197.7 1314 1205.1C1315.2 1212.4 1317.3 1220.8 1318.2 1226.1C1319.1 1231.4 1320.1 1238.6 1320.3 1242.9C1320.4 1247.2 1319.2 1256.6 1319.2 1256.6L1289.2 1256.6C1289.2 1256.6 1288.1 1236.2 1287.7 1226.1C1287.3 1215.9 1286.4 1194.4 1286.2 1184.1C1286 1173.8 1285.9 1160.8 1286.2 1152.6C1286.5 1144.3 1287.6 1132.6 1288.3 1125.3C1289.1 1117.9 1290.8 1107.1 1291.9 1100C1293 1093 1295.1 1081.3 1296.1 1074.8C1297.1 1068.4 1298.5 1059.7 1299.3 1053.8C1300 1047.9 1300.6 1036.6 1301.4 1032.8Z" fill="#00FFFF"/>
<path d="M1317.1 998.2L1329.1 998.2C1329.1 998.2 1328.6 1018.1 1328.3 1026.5C1327.9 1034.9 1327 1056.6 1326.6 1058C1326.2 1059.5 1325.9 1042.6 1325.5 1037C1325.2 1031.4 1324.6 1018.1 1324.1 1018.1C1323.5 1018.1 1322 1030.5 1321.3 1037C1320.7 1043.5 1319.8 1057 1319.2 1064.3C1318.6 1071.7 1317.6 1083.9 1317.1 1089.5C1316.6 1095.1 1315.7 1099.8 1315.7 1104.2C1315.7 1108.7 1316.6 1112.8 1317.1 1121.1C1317.6 1129.3 1318.6 1154.2 1319.2 1163.1C1319.8 1171.9 1321.2 1179.7 1321.3 1184.1C1321.4 1188.5 1320.6 1194.6 1319.9 1194.6C1319.1 1194.6 1317 1190 1316.1 1184.1C1315.1 1178.2 1313.6 1161.4 1312.9 1152.6C1312.3 1143.7 1311.6 1129.9 1311.5 1121.1C1311.3 1112.2 1311.5 1098.4 1311.9 1089.5C1312.2 1080.7 1313.4 1066.8 1314 1058C1314.5 1049.2 1315.2 1034.9 1315.7 1026.5C1316.1 1018.1 1317.1 998.2 1317.1 998.2Z" fill="#00FFFF"/>
<path d="M1299.3 1101.1C1299.7 1101.7 1300.7 1108.4 1300.9 1112.6C1301.2 1116.9 1301.5 1126 1301.4 1131.6C1301.3 1137.1 1300.7 1148.4 1300.3 1152.6C1300 1156.7 1299.2 1161.8 1298.8 1161C1298.5 1160.1 1297.8 1151.3 1297.6 1146.3C1297.4 1141.3 1297.1 1130.5 1297.2 1125.3C1297.2 1120 1297.7 1111.8 1298 1108.4C1298.3 1105.1 1298.9 1100.5 1299.3 1101.1Z" fill="#0080FF"/>
<path d="M1324.5 1012.9C1325.1 1012.9 1326.1 1020.2 1326.6 1026.5C1327 1032.8 1327.4 1047.7 1327.6 1058C1327.9 1068.3 1328.3 1088.3 1328.3 1100C1328.3 1111.8 1328 1131.8 1327.6 1142.1C1327.2 1152.4 1326.1 1167.5 1325.5 1173.6C1324.9 1179.7 1324 1185.8 1323.4 1185.8C1322.8 1185.8 1321.8 1179.7 1321.3 1173.6C1320.8 1167.5 1320.2 1152.4 1319.9 1142.1C1319.6 1131.8 1319.2 1111.8 1319.2 1100C1319.3 1088.3 1319.8 1068.3 1320.3 1058C1320.7 1047.7 1321.8 1032.8 1322.4 1026.5C1323 1020.2 1323.9 1012.9 1324.5 1012.9Z" fill="#0080FF"/>
<path d="M1329.7 998.2L1413.8 998.2L1413.8 1256.6L1331.8 1256.6C1331.8 1256.6 1332.5 1239.2 1332.5 1226.1C1332.5 1213 1332.1 1183.7 1331.8 1163.1C1331.6 1142.5 1331.1 1102.1 1330.8 1079C1330.5 1055.9 1329.7 998.2 1329.7 998.2Z" fill="#FFFF00"/>
<path d="M1331.8 998.2L1412.7 998.2L1412.7 1256.6L1358.1 1256.6C1358.1 1256.6 1356.1 1240.9 1354.9 1236.6C1353.8 1232.3 1351 1228.7 1349.7 1226.1C1348.4 1223.4 1346.7 1219.5 1345.5 1217.7C1344.3 1215.9 1342.5 1214.7 1341.3 1213.5C1340.1 1212.3 1338 1213.4 1337.1 1209.3C1336.2 1205.2 1335.4 1196.4 1335 1184.1C1334.5 1171.7 1334.2 1138.7 1333.9 1121.1C1333.6 1103.4 1333.2 1075.2 1332.9 1058C1332.6 1040.8 1331.8 998.2 1331.8 998.2Z" fill="#FF8000"/>
<path d="M1364.8 1064.3C1365.3 1064.3 1366 1074 1366.5 1079C1367 1084 1368 1094.2 1368.6 1100C1369.2 1105.9 1370.3 1115.2 1370.7 1121.1C1371.1 1126.9 1371.7 1137.9 1371.7 1142.1C1371.7 1146.2 1371.3 1149.9 1370.7 1150.5C1370.1 1151.1 1368.4 1147.4 1367.5 1146.3C1366.7 1145.1 1365.1 1145.6 1364.4 1142.1C1363.7 1138.5 1363 1126.9 1362.7 1121.1C1362.4 1115.2 1362.2 1105.9 1362.3 1100C1362.4 1094.2 1363 1084 1363.3 1079C1363.7 1074 1364.4 1064.3 1364.8 1064.3Z" fill="#FFFF00"/>
<path d="M1388.6 1112.6C1389.3 1112.6 1390.2 1115.5 1390.7 1121.1C1391.2 1126.6 1391.5 1143.7 1392.1 1152.6C1392.7 1161.4 1394 1177.6 1394.9 1184.1C1395.7 1190.5 1396.7 1195.8 1398 1198.8C1399.3 1201.7 1402.8 1202.7 1404.3 1205.1C1405.8 1207.4 1407.8 1211.2 1408.5 1215.6C1409.2 1220 1409 1232.2 1409.6 1236.6C1410.2 1241 1412.3 1244.3 1412.7 1247.1C1413.2 1249.9 1412.7 1256.6 1412.7 1256.6L1384.4 1256.6C1384.4 1256.6 1385.1 1233.3 1385 1226.1C1384.9 1218.9 1384.1 1211 1383.7 1205.1C1383.3 1199.2 1382.8 1187.6 1382.3 1184.1C1381.8 1180.5 1380.7 1178.4 1380.2 1179.9C1379.7 1181.3 1379 1194 1378.7 1194.6C1378.4 1195.2 1378 1188.5 1378.1 1184.1C1378.1 1179.7 1378.5 1168.9 1379.1 1163.1C1379.7 1157.2 1381.4 1147.9 1382.3 1142.1C1383.1 1136.2 1384.5 1125.2 1385.4 1121.1C1386.3 1116.9 1387.8 1112.6 1388.6 1112.6Z" fill="#FFFF00"/>
<path d="M1385 998.2L1391.3 998.2C1391.3 998.2 1390.9 1025.7 1390.7 1037C1390.4 1048.3 1389.9 1069 1389.6 1079C1389.3 1089 1388.8 1103.7 1388.6 1108.4C1388.3 1113.2 1387.8 1116.8 1387.5 1112.6C1387.2 1108.5 1386.7 1089.6 1386.5 1079C1386.2 1068.4 1385.6 1048.3 1385.4 1037C1385.2 1025.7 1385 998.2 1385 998.2Z" fill="#00FF80"/>
<path d="M1386.5 998.2L1389.6 998.2L1389 1058L1388.1 1095.8L1387.1 1058Z" fill="#00FF00"/>
<path d="M1385.8 1242.9C1386.7 1242 1389.7 1249.7 1391.7 1250.3C1393.7 1250.8 1397.8 1248.3 1400.1 1247.1C1402.5 1245.9 1407 1240.5 1408.5 1241.8C1410 1243.2 1411 1256.6 1411 1256.6L1385.4 1256.6C1385.4 1256.6 1384.9 1243.8 1385.8 1242.9Z" fill="#00FF80"/>
<path d="M1371.7 998.2L1384.4 998.2C1384.4 998.2 1384 1025.7 1383.7 1037C1383.4 1048.3 1382.8 1070.2 1382.3 1079C1381.8 1087.9 1380.7 1096.2 1380.2 1100C1379.6 1103.9 1378.6 1107.8 1378.1 1106.3C1377.6 1104.9 1377 1096.3 1376.6 1089.5C1376.1 1082.8 1375.4 1066.8 1374.9 1058C1374.4 1049.2 1373.7 1034.9 1373.2 1026.5C1372.8 1018.1 1371.7 998.2 1371.7 998.2Z" fill="#FF0000"/>
<path d="M1392.1 998.2L1410.6 998.2C1410.6 998.2 1411 1025.7 1411 1037C1411 1048.3 1410.8 1070.2 1410.6 1079C1410.4 1087.9 1410 1095 1409.6 1100C1409.1 1105 1408.2 1113 1407.5 1114.7C1406.7 1116.5 1405.2 1113.5 1404.3 1112.6C1403.4 1111.8 1401.9 1110.2 1401.2 1108.4C1400.4 1106.7 1399.5 1104.2 1399.1 1100C1398.6 1095.9 1398.4 1086.4 1398 1079C1397.6 1071.7 1396.5 1055.8 1395.9 1047.5C1395.3 1039.3 1394.3 1027.1 1393.8 1020.2C1393.3 1013.3 1392.1 998.2 1392.1 998.2Z" fill="#FF0000"/>
<path d="M1353.9 1032.8C1354.5 1031.9 1355.6 1041.1 1356 1047.5C1356.4 1054 1357 1068.7 1357 1079C1357.1 1089.3 1356.7 1111.3 1356.4 1121.1C1356.1 1130.8 1355.4 1145.4 1354.9 1148.4C1354.5 1151.3 1353.9 1147.4 1353.5 1142.1C1353 1136.8 1352.2 1119.4 1351.8 1110.5C1351.4 1101.7 1350.8 1087 1350.7 1079C1350.7 1071.1 1350.9 1060.3 1351.4 1053.8C1351.8 1047.4 1353.2 1033.7 1353.9 1032.8Z" fill="#FF0000"/>
<path d="M1333.9 998.2L1337.1 998.2C1337.1 998.2 1337.6 1026.6 1337.5 1037C1337.4 1047.5 1337 1069.8 1336.7 1072.7C1336.4 1075.7 1335.7 1064.5 1335.4 1058C1335.1 1051.6 1334.8 1034.9 1334.6 1026.5C1334.4 1018.1 1333.9 998.2 1333.9 998.2Z" fill="#FF0000"/>
<path d="M1380.2 1185.1C1380.7 1185.1 1381.5 1199.3 1381.6 1205.1C1381.8 1210.8 1381.6 1220.8 1381.2 1226.1C1380.8 1231.4 1379.6 1242.9 1379.1 1242.9C1378.6 1242.9 1377.6 1231.4 1377.4 1226.1C1377.3 1220.8 1377.7 1210.8 1378.1 1205.1C1378.4 1199.3 1379.7 1185.1 1380.2 1185.1Z" fill="#FF0000"/>
<path d="M1412.7 998.2L1414.6 998.2L1414.6 1256.6L1412.7 1256.6Z" fill="#00FF80"/>
<path d="M1414.2 998.2L1470.7 998.2L1470.7 1256.6L1414.2 1256.6Z" fill="#FF0000"/>
<path d="M1416.9 1001.7L1446.3 1001.7L1446.3 1005.5L1416.9 1005.5Z" fill="#FFFF00"/>
<path d="M1454.7 1001.7L1469.4 1001.7L1469.4 1005.5L1454.7 1005.5Z" fill="#FFFF00"/>
<path d="M1433.7 1024.4L1458.9 1024.4L1458.9 1033.2L1433.7 1033.2Z" fill="#FFFF00"/>
<path d="M1435.8 1026.5L1456.8 1026.5L1456.8 1031.1L1435.8 1031.1Z" fill="#00FF80"/>
<path d="M1414.4 1048.6L1458.9 1048.6L1458.9 1066.4L1414.4 1066.4Z" fill="#FFFF00"/>
<path d="M1414.4 1050L1457.9 1050L1457.9 1065.4L1414.4 1065.4Z" fill="#00FFFF"/>
<path d="M1421.1 1051.3L1456.8 1051.3L1456.8 1058L1421.1 1058Z" fill="#00FF80"/>
<path d="M1423.2 1060.5L1457.9 1060.5L1457.9 1063.5L1423.2 1063.5Z" fill="#0000FF"/>
<path d="M1414.8 1054.9L1420.1 1054.9L1420.1 1058L1414.8 1058Z" fill="#FF0000"/>
<path d="M1414.4 1079L1454.7 1079L1454.7 1089.1L1414.4 1089.1Z" fill="#00FFFF"/>
<path d="M1414.4 1082.4L1450.5 1082.4L1450.5 1085.8L1414.4 1085.8Z" fill="#FF0000"/>
<path d="M1455.8 1075.9L1470.7 1075.9L1470.7 1088.5L1455.8 1088.5Z" fill="#0080FF"/>
<path d="M1414.8 1094.2L1470.7 1094.2L1470.7 1104.2L1414.8 1104.2Z" fill="#FFFF00"/>
<path d="M1437.9 1097.5L1463.1 1097.5L1463.1 1100L1437.9 1100Z" fill="#0000FF"/>
<path d="M1414.4 1106.3L1470.7 1106.3L1470.7 1112.6L1414.4 1112.6Z" fill="#FFFF00"/>
<path d="M1414.4 1113.7L1470.7 1113.7L1470.7 1121.1L1414.4 1121.1Z" fill="#00FFFF"/>
<path d="M1414.4 1115.2L1470.7 1115.2L1470.7 1119.4L1414.4 1119.4Z" fill="#00FF80"/>
<path d="M1414.4 1122.3L1470.7 1122.3L1470.7 1128.2L1414.4 1128.2Z" fill="#00FFFF"/>
<path d="M1414.4 1123.6L1470.7 1123.6L1470.7 1126.9L1414.4 1126.9Z" fill="#0000FF"/>
<path d="M1414.4 1130.5L1470.7 1130.5L1470.7 1142.1L1414.4 1142.1Z" fill="#FF8000"/>
<path d="M1414.4 1132.6L1470.7 1132.6L1470.7 1135.3L1414.4 1135.3Z" fill="#FFFF00"/>
<path d="M1414.4 1142.1L1470.7 1142.1L1470.7 1146.7L1414.4 1146.7Z" fill="#00FFFF"/>
<path d="M1414.4 1148.6L1470.7 1148.6L1470.7 1153.4L1414.4 1153.4Z" fill="#00FFFF"/>
<path d="M1414.4 1149.8L1470.7 1149.8L1470.7 1152.1L1414.4 1152.1Z" fill="#0000FF"/>
<path d="M1414.4 1158.9L1470.7 1158.9L1470.7 1169.4L1414.4 1169.4Z" fill="#FFFF00"/>
<path d="M1414.4 1161.4L1470.7 1161.4L1470.7 1166.8L1414.4 1166.8Z" fill="#FF8000"/>
<path d="M1414.4 1169.4L1435.8 1169.4L1441.1 1173.6L1470.7 1174L1470.7 1181.1L1460 1181.6L1455.8 1184.7L1421.1 1184.7L1414.4 1182Z" fill="#00FFFF"/>
<path d="M1414.4 1171.1L1434.8 1171.1L1440 1175.3L1470.7 1175.7L1470.7 1179.5L1458.9 1179.9L1454.7 1183L1421.1 1183L1418 1182L1414.4 1179.9Z" fill="#0000FF"/>
<path d="M1414.4 1200.3L1451.6 1200.3L1456.8 1195.4L1470.7 1195L1470.7 1205.7L1414.4 1206.1Z" fill="#00FFFF"/>
<path d="M1414.4 1201.9L1452.6 1201.9L1457.9 1197.1L1470.7 1196.7L1470.7 1204L1414.4 1204.5Z" fill="#0000FF"/>
<path d="M1415.2 1226.1L1435.8 1226.1L1435.8 1232.4L1415.2 1232.4Z" fill="#FF8000"/>
<path d="M1451.6 1226.1L1469.4 1226.1L1469.4 1232.4L1451.6 1232.4Z" fill="#FF8000"/>
<path d="M1414.4 1236.6L1430.6 1236.6L1435.4 1240.8L1462.1 1241.2L1465.2 1245L1462.1 1249.2L1424.3 1249.2L1418 1248.2L1414.4 1246.1Z" fill="#FFFF00"/>
<path d="M1414.4 1237.6L1429.9 1237.6L1434.4 1241.8L1461.5 1242.3L1464 1245L1461.5 1248.2L1424.9 1248.2L1418.6 1247.1L1414.4 1245Z" fill="#00FFFF"/>
<path d="M1414.4 1238.7L1429.5 1238.7L1433.7 1242.9L1461 1243.3L1463.1 1245L1461 1247.1L1425.3 1247.1L1419 1246.1L1414.4 1243.9Z" fill="#0000FF"/>
<path d="M1470.7 998.2L1495.7 998.2C1495.7 998.2 1495.3 1040.8 1495.1 1058C1494.9 1075.2 1494.6 1106.3 1494.2 1121.1C1493.9 1135.8 1492.9 1151.3 1492.5 1163.1C1492.2 1174.8 1491.9 1194.8 1491.5 1205.1C1491.1 1215.4 1490.1 1229.4 1489.4 1236.6C1488.7 1243.8 1486.7 1256.6 1486.7 1256.6L1470.7 1256.6L1470.7 998.2Z" fill="#FFFF00"/>
<path d="M1470.7 998.2L1493.6 998.2C1493.6 998.2 1493.2 1040.8 1493 1058C1492.8 1075.2 1492.5 1106.3 1492.1 1121.1C1491.8 1135.8 1490.9 1151.3 1490.4 1163.1C1490 1174.8 1489.3 1194.8 1488.8 1205.1C1488.2 1215.4 1487.3 1229.4 1486.7 1236.6C1486 1243.8 1484.1 1256.6 1484.1 1256.6L1470.7 1256.6L1470.7 998.2Z" fill="#FF8000"/>
<path d="M1471.5 998.2L1491.5 998.2C1491.5 998.2 1491.1 1025.7 1490.9 1037C1490.7 1048.3 1490.3 1067.3 1490 1079C1489.7 1090.8 1489.3 1110.8 1488.8 1121.1C1488.2 1131.3 1487 1146.7 1486.2 1152.6C1485.4 1158.4 1483.8 1158.7 1483.1 1163.1C1482.4 1167.5 1481.5 1178.2 1481 1184.1C1480.5 1190 1480 1199.2 1479.5 1205.1C1479.1 1211 1478.4 1219.3 1477.8 1226.1C1477.3 1232.9 1476.6 1249.6 1475.7 1253.8C1474.9 1258.1 1471.5 1256.6 1471.5 1256.6L1471.5 998.2Z" fill="#FF0000"/>
<path d="M1479.5 1207.2C1480.1 1207.2 1481.5 1213.6 1482 1217.7C1482.5 1221.8 1482.9 1231.2 1483.1 1236.6C1483.3 1242 1483.7 1256.6 1483.7 1256.6L1475.7 1256.6C1475.7 1256.6 1476.5 1242 1476.8 1236.6C1477.1 1231.2 1477.5 1221.8 1477.8 1217.7C1478.2 1213.6 1478.9 1207.2 1479.5 1207.2Z" fill="#FFFF00"/>
<path d="M1494.6 998.2L1530.4 998.2L1530.4 1256.6L1487.3 1256.6C1487.3 1256.6 1489.7 1236.2 1490.4 1226.1C1491.2 1215.9 1492 1198.8 1492.5 1184.1C1493.1 1169.4 1493.9 1147.1 1494.2 1121.1C1494.5 1095 1494.6 998.2 1494.6 998.2Z" fill="#00FF80"/>
<path d="M1495.7 1112.6C1496.3 1111.2 1497.8 1124.5 1498.8 1131.6C1499.9 1138.6 1501.9 1155.7 1503.1 1163.1C1504.2 1170.4 1506.1 1178.2 1507.3 1184.1C1508.4 1190 1510.3 1199.2 1511.5 1205.1C1512.6 1211 1514.8 1218.9 1515.7 1226.1C1516.5 1233.3 1517.8 1256.6 1517.8 1256.6L1488.3 1256.6C1488.3 1256.6 1490.8 1227.2 1491.5 1215.6C1492.2 1204 1493.2 1183.9 1493.6 1173.6C1494 1163.3 1494.4 1150.6 1494.6 1142.1C1494.9 1133.5 1495.1 1114.1 1495.7 1112.6Z" fill="#00FF00"/>
<path d="M1495.1 998.2L1524.1 998.2C1524.1 998.2 1523.4 1040.8 1523 1058C1522.7 1075.2 1522 1106.3 1521.5 1121.1C1521 1135.8 1519.4 1151.3 1519.4 1163.1C1519.5 1174.8 1521.5 1196.3 1522 1205.1C1522.5 1213.9 1523 1221.7 1523 1226.1C1523 1230.5 1522.5 1236.6 1522 1236.6C1521.4 1236.6 1519.7 1230.5 1518.8 1226.1C1517.9 1221.7 1516.5 1211 1515.7 1205.1C1514.8 1199.2 1513.5 1190.5 1512.5 1184.1C1511.5 1177.6 1509.5 1165.3 1508.3 1158.9C1507.1 1152.4 1505.3 1143.2 1504.1 1137.9C1502.9 1132.6 1500.9 1126.3 1499.9 1121.1C1498.9 1115.8 1497.3 1108.9 1496.7 1100C1496.2 1091.2 1495.9 1072.3 1495.7 1058C1495.5 1043.8 1495.1 998.2 1495.1 998.2Z" fill="#00FFFF"/>
<path d="M1496.7 998.2L1505.2 998.2C1505.2 998.2 1505.6 1018.1 1505.6 1026.5C1505.5 1034.9 1505.1 1050.7 1504.7 1058C1504.4 1065.4 1503.6 1074.6 1503.1 1079C1502.5 1083.4 1501.5 1089.5 1500.9 1089.5C1500.4 1089.5 1499.7 1084.9 1499.3 1079C1498.8 1073.2 1498.2 1056.3 1497.8 1047.5C1497.4 1038.7 1496.9 1022.9 1496.7 1016C1496.6 1009.1 1496.7 998.2 1496.7 998.2Z" fill="#0080FF"/>
<path d="M1510.4 998.2L1519.9 998.2C1519.9 998.2 1519.7 1025.7 1519.4 1037C1519.2 1048.3 1518.6 1068.7 1518.2 1079C1517.8 1089.3 1517.2 1103.2 1516.7 1110.5C1516.2 1117.9 1515.1 1127.1 1514.6 1131.6C1514.1 1136 1513.6 1142.1 1513.1 1142.1C1512.7 1142.1 1511.8 1137.4 1511.5 1131.6C1511.1 1125.7 1510.6 1110.3 1510.4 1100C1510.2 1089.7 1509.8 1068.3 1509.8 1058C1509.7 1047.7 1509.9 1034.9 1510 1026.5C1510.1 1018.1 1510.4 998.2 1510.4 998.2Z" fill="#0080FF"/>
<path d="M1514.2 998.2L1517.3 998.2L1516.7 1016L1515.2 1032.8L1514.4 1016Z" fill="#0000FF"/>
<path d="M1517 1175.7C1517.4 1162.6 1519.3 1170.7 1520.2 1163.1C1521 1155.4 1522.3 1132.8 1522.9 1121.1C1523.5 1109.3 1524.1 1076.1 1524.4 1079C1524.6 1082 1524.8 1124.4 1525 1142.1C1525.1 1159.7 1525.6 1193.3 1525.4 1205.1C1525.2 1216.8 1523.7 1218.9 1523.3 1226.1C1522.9 1233.3 1522.3 1256.6 1522.3 1256.6L1517 1256.6C1517 1256.6 1516.6 1188.8 1517 1175.7Z" fill="#00FF00"/>
<path d="M1523.3 998.2L1559 998.2C1559 998.2 1559 1040.8 1559 1058C1559.1 1075.2 1559.3 1106.3 1559.4 1121.1C1559.6 1135.8 1559.8 1151.3 1560.1 1163.1C1560.3 1174.8 1561.1 1196.3 1561.1 1205.1C1561.1 1213.9 1560.4 1218.9 1560.1 1226.1C1559.7 1233.3 1558.6 1256.6 1558.6 1256.6L1522.3 1256.6C1522.3 1256.6 1522.6 1233.3 1522.9 1226.1C1523.2 1218.9 1523.9 1213.9 1524.4 1205.1C1524.8 1196.3 1525.5 1174.8 1525.8 1163.1C1526.1 1151.3 1526.5 1135.8 1526.5 1121.1C1526.4 1106.3 1525.8 1075.2 1525.4 1058C1525 1040.8 1523.3 998.2 1523.3 998.2Z" fill="#FFFF00"/>
<path d="M1525.8 998.2L1555.2 998.2C1555.2 998.2 1555.7 1040.8 1555.9 1058C1556 1075.2 1556.2 1106.3 1556.1 1121.1C1556 1135.8 1555.5 1151.3 1555.2 1163.1C1555 1174.8 1554.7 1196.3 1554.4 1205.1C1554 1213.9 1553.2 1218.9 1552.7 1226.1C1552.2 1233.3 1550.6 1256.6 1550.6 1256.6L1531.3 1256.6C1531.3 1256.6 1530.4 1233.3 1530 1226.1C1529.6 1218.9 1529 1213.9 1528.6 1205.1C1528.1 1196.3 1527.2 1174.8 1527.1 1163.1C1526.9 1151.3 1527.6 1135.8 1527.5 1121.1C1527.4 1106.3 1526.7 1075.2 1526.5 1058C1526.2 1040.8 1525.8 998.2 1525.8 998.2Z" fill="#FF8000"/>
<path d="M1541.8 998.2L1548.1 998.2L1546.8 1007.6L1545.4 1010.8L1543.3 1009.7Z" fill="#FFFF00"/>
<path d="M1526.5 998.2L1537.6 998.2C1537.6 998.2 1538.1 1025.7 1538.4 1037C1538.8 1048.3 1539.4 1070.2 1540.1 1079C1540.8 1087.9 1542.4 1094.2 1543.3 1100C1544.1 1105.9 1545.4 1112.2 1546 1121.1C1546.6 1129.9 1547.1 1152.8 1547.5 1163.1C1547.8 1173.4 1548.4 1188.1 1548.5 1194.6C1548.6 1201.1 1548.4 1208.4 1548.1 1209.3C1547.8 1210.2 1547.1 1203.5 1546.4 1200.9C1545.7 1198.2 1544.1 1191.3 1543.3 1190.4C1542.4 1189.5 1541 1193.7 1540.1 1194.6C1539.2 1195.5 1537.7 1198.2 1537 1196.7C1536.2 1195.2 1535.4 1190.3 1534.9 1184.1C1534.3 1177.9 1533.3 1157.3 1532.8 1152.6C1532.2 1147.9 1531.2 1154.9 1530.7 1150.5C1530.2 1146.1 1529.6 1131.1 1529.2 1121.1C1528.8 1111.1 1528.2 1090.8 1527.9 1079C1527.6 1067.3 1527.3 1048.3 1527.1 1037C1526.9 1025.7 1526.5 998.2 1526.5 998.2Z" fill="#FF0000"/>
<path d="M1564.3 1205.1C1565.3 1203.6 1568.1 1213.2 1569.5 1215.6C1571 1217.9 1573.4 1218.9 1574.8 1221.9C1576.1 1224.8 1578.2 1231.7 1579 1236.6C1579.7 1241.4 1580 1256.6 1580 1256.6L1561.5 1256.6C1561.5 1256.6 1561.8 1233.3 1562.2 1226.1C1562.6 1218.9 1563.2 1206.6 1564.3 1205.1Z" fill="#00FF80"/>
<path d="M1568.5 998.2L1595.8 998.2L1595.8 1256.6L1580 1256.6C1580 1256.6 1579.6 1233.3 1579 1226.1C1578.4 1218.9 1576.6 1212.4 1575.8 1205.1C1575 1197.7 1574 1182.4 1573.3 1173.6C1572.6 1164.7 1571.4 1150.9 1570.6 1142.1C1569.7 1133.2 1567.9 1120.8 1567.4 1110.5C1566.9 1100.3 1566.9 1080.3 1567 1068.5C1567.1 1056.8 1567.6 1036.4 1567.8 1026.5C1568 1016.7 1568.5 998.2 1568.5 998.2Z" fill="#FFFF00"/>
<path d="M1569.9 998.2L1595.2 998.2L1595.2 1256.6L1589.5 1256.6C1589.5 1256.6 1588.1 1233.3 1587.4 1226.1C1586.6 1218.9 1585.1 1212.4 1584.2 1205.1C1583.3 1197.7 1581.9 1182.4 1581.1 1173.6C1580.3 1164.7 1579.1 1150.9 1578.3 1142.1C1577.6 1133.2 1576.3 1119.4 1575.4 1110.5C1574.5 1101.7 1572.7 1089.3 1572 1079C1571.4 1068.7 1570.9 1048.3 1570.6 1037C1570.3 1025.7 1569.9 998.2 1569.9 998.2Z" fill="#FF8000"/>
<path d="M1577.9 998.2L1594.7 998.2L1594.7 1256.6L1592.6 1256.6C1592.6 1256.6 1591.5 1233.3 1590.9 1226.1C1590.4 1218.9 1589.1 1211 1588.4 1205.1C1587.8 1199.2 1586.9 1190 1586.3 1184.1C1585.8 1178.2 1585.1 1170.4 1584.6 1163.1C1584.2 1155.7 1583.6 1140.4 1583.2 1131.6C1582.8 1122.7 1582.1 1108.9 1581.7 1100C1581.3 1091.2 1580.5 1077.4 1580 1068.5C1579.6 1059.7 1578.8 1046.9 1578.6 1037C1578.3 1027.2 1577.9 998.2 1577.9 998.2Z" fill="#FF0000"/>
<path d="M1596 998.2L1601.9 998.2L1601.9 1256.6L1596 1256.6Z" fill="url(#nzd)"/>
<path d="M1601.7 998.2L1631.5 998.2L1631.5 1256.6L1601.7 1256.6Z" fill="#FF0000"/>
<path d="M1602.7 1056.3L1630.4 1056.3L1630.4 1058.7L1602.7 1058.7Z" fill="#FFFF00"/>
<path d="M1602.1 1075.9L1631.5 1075.9L1631.5 1092.1L1602.1 1092.1Z" fill="#FFFF00"/>
<path d="M1602.1 1080.7L1631.5 1080.7L1631.5 1087.4L1602.1 1087.4Z" fill="#00FF80"/>
<path d="M1602.1 1077.4L1618.9 1077.4L1618.9 1079.5L1602.1 1079.5Z" fill="#FF0000"/>
<path d="M1602.1 1088.3L1622 1088.3L1622 1090.6L1602.1 1090.6Z" fill="#FF0000"/>
<path d="M1602.1 1103.2L1631.5 1103.2L1631.5 1107.6L1602.1 1107.6Z" fill="#FFFF00"/>
<path d="M1602.1 1108.7L1631.5 1108.7L1631.5 1110.5L1602.1 1110.5Z" fill="#FFFF00"/>
<path d="M1602.1 1114.7L1610.5 1114.7L1613.2 1119.4L1615.3 1122.5L1631.5 1123.2L1631.5 1131.6L1602.1 1131.6Z" fill="#00FFFF"/>
<path d="M1602.1 1116.4L1609.4 1116.4L1611.5 1121.1L1613.6 1124.2L1631.5 1124.8L1631.5 1129.9L1602.1 1129.9Z" fill="#0000FF"/>
<path d="M1613.2 1117.5L1631.5 1117.5L1631.5 1122.3L1613.2 1122.3Z" fill="#FFFF00"/>
<path d="M1615.3 1118.7L1631.5 1118.7L1631.5 1121.1L1615.3 1121.1Z" fill="#FF0000"/>
<path d="M1602.1 1134.3L1631.5 1134.3L1631.5 1140.4L1602.1 1140.4Z" fill="#FFFF00"/>
<path d="M1602.1 1135.8L1631.5 1135.8L1631.5 1138.7L1602.1 1138.7Z" fill="#FF8000"/>
<path d="M1602.1 1141.6L1631.5 1141.6L1631.5 1157.2L1602.1 1157.2Z" fill="#00FFFF"/>
<path d="M1602.1 1143.3L1631.5 1143.3L1631.5 1155.5L1602.1 1155.5Z" fill="#0000FF"/>
<path d="M1602.1 1160.1L1631.5 1160.1L1631.5 1166L1602.1 1166Z" fill="#FFFF00"/>
<path d="M1602.1 1161.8L1631.5 1161.8L1631.5 1164.3L1602.1 1164.3Z" fill="#FF0000"/>
<path d="M1602.1 1170L1631.5 1170L1631.5 1183.9L1602.1 1183.9Z" fill="#00FFFF"/>
<path d="M1602.1 1171.7L1631.5 1171.7L1631.5 1182.2L1602.1 1182.2Z" fill="#0000FF"/>
<path d="M1626.2 1195.6L1631.5 1195.6L1631.5 1200.9L1626.2 1200.9Z" fill="#00FFFF"/>
<path d="M1602.1 1211.4L1609.4 1211.4L1612.6 1215L1631.5 1215.6L1631.5 1221.5L1602.1 1221.5Z" fill="#00FFFF"/>
<path d="M1602.1 1213.1L1608.4 1213.1L1611.5 1216.6L1631.5 1217.3L1631.5 1219.8L1602.1 1219.8Z" fill="#0000FF"/>
<path d="M1602.1 1223.2L1631.5 1223.2L1631.5 1225.3L1602.1 1225.3Z" fill="#00FFFF"/>
<path d="M1602.1 1234.1L1631.5 1234.1L1631.5 1237L1602.1 1237Z" fill="#FFFF00"/>
<path d="M1602.1 1234.9L1631.5 1234.9L1631.5 1236.4L1602.1 1236.4Z" fill="#00FFFF"/>
<path d="M1602.1 1237.6L1631.5 1237.6L1631.5 1249.6L1602.1 1249.6Z" fill="#00FFFF"/>
<path d="M1602.1 1239.1L1631.5 1239.1L1631.5 1245.8L1602.1 1245.8Z" fill="#0000FF"/>
<path d="M1631.5 998.2L1646.2 998.2L1646.2 1256.6L1631.5 1256.6Z" fill="url(#nzd)"/>
<path d="M1645.6 998.2L1664.1 998.2C1664.1 998.2 1664.3 1040.8 1664.5 1058C1664.6 1075.2 1665.1 1106.3 1665.1 1121.1C1665.1 1135.8 1664.9 1157.5 1664.5 1163.1C1664 1168.7 1662.8 1161.6 1662 1161C1661.2 1160.4 1659.7 1160 1658.8 1158.9C1657.9 1157.7 1656.5 1152.9 1655.7 1152.6C1654.8 1152.3 1653.2 1155.3 1652.5 1156.8C1651.8 1158.2 1651.1 1161.3 1650.4 1163.1C1649.7 1164.8 1648.3 1169.4 1647.7 1169.4C1647.1 1169.4 1646.5 1169.8 1646.2 1163.1C1645.9 1156.3 1645.7 1135.8 1645.6 1121.1C1645.4 1106.3 1645.2 1075.2 1645.2 1058C1645.2 1040.8 1645.6 998.2 1645.6 998.2Z" fill="#FFFF00"/>
<path d="M1648.3 998.2L1655.7 998.2C1655.7 998.2 1656.1 1018.7 1656.1 1026.5C1656 1034.3 1655.6 1048.7 1655.2 1053.8C1654.9 1059 1654 1063.3 1653.6 1063.3C1653.1 1063.3 1652.4 1059 1651.9 1053.8C1651.3 1048.7 1650.3 1034.3 1649.8 1026.5C1649.3 1018.7 1648.3 998.2 1648.3 998.2Z" fill="#FF8000"/>
<path d="M1646.2 1163.1C1647.2 1155.7 1651.2 1158.2 1652.5 1156.8C1653.8 1155.3 1654.3 1152 1655.7 1152.6C1657 1153.2 1660.6 1159.5 1662 1161C1663.3 1162.4 1664.7 1156.9 1665.3 1163.1C1665.9 1169.2 1667.5 1199.5 1666.2 1205.1C1664.8 1210.7 1658.2 1203 1655.7 1203C1653.2 1203 1649.7 1204.2 1648.3 1205.1C1646.9 1206 1645.9 1215.2 1645.6 1209.3C1645.3 1203.4 1645.2 1170.4 1646.2 1163.1Z" fill="#00FF00"/>
<path d="M1648.3 1205.1C1649.6 1204.2 1653.4 1202.7 1655.7 1203C1657.9 1203.3 1662.6 1203.9 1664.1 1207.2C1665.5 1210.4 1665.4 1219.2 1665.7 1226.1C1666 1233 1666.2 1256.6 1666.2 1256.6L1643.1 1256.6C1643.1 1256.6 1643.7 1232.7 1644.1 1226.1C1644.5 1219.5 1645.6 1212.2 1646.2 1209.3C1646.8 1206.3 1647 1206 1648.3 1205.1Z" fill="#00FF80"/>
<path d="M1646.8 1242.9C1647.7 1240.1 1649.9 1236.9 1651.5 1236.6C1653 1236.3 1656.3 1239.3 1657.8 1240.8C1659.2 1242.3 1661.3 1244.9 1662 1247.1C1662.6 1249.3 1662.4 1256.6 1662.4 1256.6L1645.6 1256.6C1645.6 1256.6 1646 1245.7 1646.8 1242.9Z" fill="#00FFFF"/>
<path d="M1664.1 998.2L1667.4 998.2L1667.4 1256.6L1665.7 1256.6C1665.7 1256.6 1665.5 1187.9 1665.3 1163.1C1665.2 1138.2 1664.9 1102.1 1664.7 1079C1664.5 1055.9 1664.1 998.2 1664.1 998.2Z" fill="#00FF80"/>
<path d="M1667.2 998.2L1693.1 998.2C1693.1 998.2 1693.6 1040.8 1693.9 1058C1694.2 1075.2 1694.9 1106.3 1695.2 1121.1C1695.4 1135.8 1695.8 1151.3 1696 1163.1C1696.2 1174.8 1696.7 1196.3 1696.6 1205.1C1696.6 1213.9 1696 1221.7 1695.6 1226.1C1695.1 1230.5 1694.1 1233.7 1693.5 1236.6C1692.9 1239.5 1692 1244.3 1691.4 1247.1C1690.8 1249.9 1689.3 1256.6 1689.3 1256.6L1667.8 1256.6C1667.8 1256.6 1667.3 1199.2 1667.2 1163.1C1667.1 1126.9 1667.2 998.2 1667.2 998.2Z" fill="#FFFF00"/>
<path d="M1667.4 998.2L1691.8 998.2C1691.8 998.2 1692.2 1043.8 1692.4 1058C1692.6 1072.3 1693.1 1088.3 1693.1 1100C1693.1 1111.8 1692.7 1130.3 1692.4 1142.1C1692.2 1153.8 1691.6 1175.3 1691.4 1184.1C1691.2 1192.9 1691.4 1200.4 1690.9 1205.1C1690.5 1209.8 1689 1215 1688.2 1217.7C1687.4 1220.3 1685.8 1221.9 1685.1 1224C1684.3 1226.1 1683.7 1230.2 1683 1232.4C1682.2 1234.6 1680.6 1239.5 1679.8 1239.7C1679.1 1240 1678.4 1235.8 1677.7 1234.5C1677 1233.2 1675.3 1231.5 1674.6 1230.3C1673.8 1229.1 1673.1 1225.8 1672.5 1226.1C1671.9 1226.4 1670.9 1230 1670.4 1232.4C1669.8 1234.7 1669 1243.8 1668.7 1242.9C1668.3 1242 1668 1243.2 1667.8 1226.1C1667.7 1209 1667.5 1153 1667.4 1121.1C1667.4 1089.1 1667.4 998.2 1667.4 998.2Z" fill="#FF8000"/>
<path d="M1667.8 998.2L1689.3 998.2C1689.3 998.2 1689.7 1043.8 1689.7 1058C1689.6 1072.3 1689.3 1089.7 1688.8 1100C1688.4 1110.3 1687.4 1124.2 1686.7 1131.6C1686.1 1138.9 1684.8 1147.6 1684 1152.6C1683.2 1157.6 1681.7 1164.2 1680.9 1167.3C1680 1170.4 1678.6 1173.4 1677.7 1174.6C1676.8 1175.8 1675.4 1175.8 1674.6 1175.7C1673.8 1175.5 1672.7 1176.8 1672 1173.6C1671.4 1170.3 1670.4 1162.9 1669.9 1152.6C1669.5 1142.3 1669 1121.7 1668.7 1100C1668.4 1078.4 1667.8 998.2 1667.8 998.2Z" fill="#FF0000"/>
<path d="M1692.4 998.2L1718.7 998.2C1718.7 998.2 1719.3 1040.8 1719.7 1058C1720.2 1075.2 1721.1 1103.4 1721.8 1121.1C1722.6 1138.7 1724.2 1169.4 1725 1184.1C1725.7 1198.8 1726.6 1215.9 1727.1 1226.1C1727.5 1236.2 1728.1 1256.6 1728.1 1256.6L1704 1256.6C1704 1256.6 1702.5 1236.2 1701.9 1226.1C1701.3 1215.9 1700.2 1195.8 1699.8 1184.1C1699.3 1172.3 1699.1 1153.8 1698.7 1142.1C1698.4 1130.3 1697.8 1111.8 1697.3 1100C1696.8 1088.3 1695.8 1072.3 1695.2 1058C1694.5 1043.8 1692.4 998.2 1692.4 998.2Z" fill="#00FF80"/>
<path d="M1693.5 998.2L1712.4 998.2C1712.4 998.2 1712.6 1025.7 1712.8 1037C1713 1048.3 1713.6 1067.3 1714.1 1079C1714.5 1090.8 1715.5 1109.3 1716.2 1121.1C1716.8 1132.8 1718 1151.3 1718.7 1163.1C1719.3 1174.8 1720.3 1194.8 1720.8 1205.1C1721.3 1215.4 1722 1229.4 1722.5 1236.6C1722.9 1243.8 1723.9 1256.6 1723.9 1256.6L1707.1 1256.6C1707.1 1256.6 1705.6 1243.8 1705 1236.6C1704.4 1229.4 1703.4 1213.9 1702.9 1205.1C1702.5 1196.3 1702 1182.4 1701.9 1173.6C1701.8 1164.7 1702.4 1150.9 1702.3 1142.1C1702.1 1133.2 1701.4 1119.4 1700.8 1110.5C1700.2 1101.7 1698.8 1087.9 1698.1 1079C1697.4 1070.2 1696.2 1056.3 1695.6 1047.5C1695 1038.7 1694.2 1022.9 1693.9 1016C1693.6 1009.1 1693.5 998.2 1693.5 998.2Z" fill="#00FFFF"/>
<path d="M1709.9 1164.1C1710.2 1162.1 1711.5 1169.3 1712 1173.6C1712.4 1177.8 1712.8 1189.9 1712.8 1194.6C1712.8 1199.3 1712.3 1205.7 1712 1207.2C1711.6 1208.7 1710.7 1207.7 1710.3 1205.1C1709.9 1202.4 1709.3 1194 1709.2 1188.3C1709.2 1182.5 1709.5 1166.2 1709.9 1164.1Z" fill="#0080FF"/>
<path d="M1716.6 998.2L1749.1 998.2C1749.1 998.2 1749.6 1027.8 1749.8 1037C1750 1046.3 1750.8 1059 1750.6 1064.3C1750.4 1069.6 1748.9 1071.3 1748.1 1074.8C1747.3 1078.4 1745.8 1085.4 1744.9 1089.5C1744.1 1093.7 1742.8 1099.8 1741.8 1104.2C1740.8 1108.7 1738.5 1115.8 1737.6 1121.1C1736.7 1126.3 1736.1 1136.2 1735.5 1142.1C1734.9 1147.9 1733.9 1160.7 1733.4 1163.1C1732.9 1165.4 1732.1 1163.3 1731.7 1158.9C1731.3 1154.5 1730.6 1139.8 1730.2 1131.6C1729.9 1123.3 1729.6 1108.9 1729.2 1100C1728.7 1091.2 1727.8 1077.4 1727.1 1068.5C1726.3 1059.7 1725 1044.4 1723.9 1037C1722.9 1029.7 1720.8 1021.4 1719.7 1016C1718.7 1010.6 1716.6 998.2 1716.6 998.2Z" fill="#FFFF00"/>
<path d="M1734.4 998.2L1747 998.2C1747 998.2 1746.4 1010.6 1746 1016C1745.6 1021.4 1744.6 1031.1 1743.9 1037C1743.2 1042.9 1741.6 1053.5 1740.7 1058C1739.9 1062.6 1738.3 1069 1737.6 1069.6C1736.9 1070.2 1736.3 1066.8 1735.9 1062.2C1735.6 1057.7 1735.3 1046 1735.1 1037C1734.9 1028 1734.4 998.2 1734.4 998.2Z" fill="#FF8000"/>
<path d="M1749.1 1161C1749.3 1159.5 1750.3 1167.4 1750.6 1173.6C1750.9 1179.7 1751.2 1196.8 1751.2 1205.1C1751.2 1213.3 1750.8 1232.4 1750.6 1232.4C1750.4 1232.4 1750 1211.8 1749.8 1205.1C1749.6 1198.3 1749.2 1190.3 1749.1 1184.1C1749.1 1177.9 1748.9 1162.4 1749.1 1161Z" fill="#FFFF00"/>
<path d="M1730.9 1215.6L1732.3 1226.1L1733 1247.1L1731.7 1247.1L1730.9 1230.3Z" fill="#FFFF00"/>
<path d="M1787 998.2L1803.1 998.2C1803.1 998.2 1803.4 1025.7 1803.8 1037C1804.1 1048.3 1805.1 1067.3 1805.9 1079C1806.6 1090.8 1808.3 1109.3 1809 1121.1C1809.8 1132.8 1810.7 1151.3 1811.1 1163.1C1811.6 1174.8 1812.2 1192 1812.2 1205.1C1812.2 1218.2 1811.1 1256.6 1811.1 1256.6L1758.6 1256.6C1758.6 1256.6 1759.8 1233.3 1760.7 1226.1C1761.6 1218.9 1763.7 1211 1764.9 1205.1C1766.1 1199.2 1768.1 1188.5 1769.1 1184.1C1770.1 1179.7 1771.5 1173.6 1772.3 1173.6C1773 1173.6 1773.6 1179.7 1774.4 1184.1C1775.1 1188.5 1776.5 1199.2 1777.5 1205.1C1778.5 1211 1780.5 1226.1 1781.7 1226.1C1782.9 1226.1 1785.5 1213.9 1785.9 1205.1C1786.3 1196.3 1785.2 1174.8 1784.9 1163.1C1784.6 1151.3 1783.8 1132.8 1783.8 1121.1C1783.8 1109.3 1784.6 1090.8 1784.9 1079C1785.2 1067.3 1785.6 1048.3 1785.9 1037C1786.2 1025.7 1787 998.2 1787 998.2Z" fill="#00FF80"/>
<path d="M1735.5 1173.6C1737.4 1167.7 1744.9 1163.1 1748.1 1163.1C1751.3 1163.1 1756.4 1169.2 1758.6 1173.6C1760.8 1178 1763.6 1187.2 1763.8 1194.6C1764.1 1201.9 1761.4 1217.4 1760.7 1226.1C1760 1234.8 1758.6 1256.6 1758.6 1256.6L1733.4 1256.6C1733.4 1256.6 1734.1 1216.7 1734.4 1205.1C1734.7 1193.5 1733.6 1179.5 1735.5 1173.6Z" fill="#00FF80"/>
<path d="M1751.2 998.2L1781.7 998.2C1781.7 998.2 1782.2 1040.8 1782.1 1058C1782.1 1075.2 1781.6 1109.3 1781.3 1121.1C1780.9 1132.8 1780.1 1140.6 1779.6 1142.1C1779.1 1143.5 1778.2 1131.6 1777.5 1131.6C1776.8 1131.6 1775.5 1141.2 1774.4 1142.1C1773.2 1142.9 1770.6 1139 1769.1 1137.9C1767.6 1136.7 1765 1133.7 1763.8 1133.7C1762.7 1133.7 1761.4 1139.6 1760.7 1137.9C1760 1136.1 1759.2 1127.8 1758.6 1121.1C1758 1114.3 1757.1 1098.4 1756.5 1089.5C1755.8 1080.7 1754.6 1066.8 1754 1058C1753.3 1049.2 1752.3 1034.9 1751.9 1026.5C1751.5 1018.1 1751.2 998.2 1751.2 998.2Z" fill="#00FF80"/>
<path d="M1753.3 998.2L1768.1 998.2C1768.1 998.2 1768.4 1025.7 1768.7 1037C1769 1048.3 1769.7 1068.7 1770.2 1079C1770.7 1089.3 1772.1 1104.1 1772.3 1110.5C1772.4 1117 1771.8 1122.3 1771.2 1125.3C1770.6 1128.2 1768.9 1130.4 1768.1 1131.6C1767.2 1132.7 1765.8 1132.8 1764.9 1133.7C1764 1134.5 1762.5 1137.6 1761.7 1137.9C1761 1138.2 1760.1 1139.3 1759.6 1135.8C1759.2 1132.2 1758.9 1120.6 1758.6 1112.6C1758.3 1104.7 1758 1088.2 1757.5 1079C1757.1 1069.9 1755.9 1056.3 1755.4 1047.5C1754.9 1038.7 1754.3 1022.9 1754 1016C1753.7 1009.1 1753.3 998.2 1753.3 998.2Z" fill="#00FFFF"/>
<path d="M1755.4 998.2L1763.2 998.2C1763.2 998.2 1763.7 1018.1 1763.8 1026.5C1764 1034.9 1764.6 1050.1 1764.5 1058C1764.4 1066 1763.6 1077.9 1763.2 1083.2C1762.8 1088.5 1762.2 1095.8 1761.7 1095.8C1761.3 1095.8 1760.7 1088.5 1760.3 1083.2C1759.8 1077.9 1759.1 1066 1758.6 1058C1758.1 1050.1 1757.4 1034.9 1756.9 1026.5C1756.5 1018.1 1755.4 998.2 1755.4 998.2Z" fill="#0080FF"/>
<path d="M1758.2 998.2L1760.3 998.2L1759.6 1007.6L1758.6 1006.6Z" fill="#0000FF"/>
<path d="M1799.6 1144.2C1800.3 1142.7 1801.8 1147 1802.7 1152.6C1803.6 1158.2 1805 1175.3 1805.9 1184.1C1806.7 1192.9 1808.7 1208.8 1809 1215.6C1809.3 1222.4 1808.6 1230.9 1808 1232.4C1807.4 1233.9 1805.7 1229.9 1804.8 1226.1C1803.9 1222.3 1802.5 1211 1801.7 1205.1C1800.8 1199.2 1799.5 1190 1798.9 1184.1C1798.3 1178.2 1797.4 1168.7 1797.5 1163.1C1797.6 1157.5 1798.8 1145.6 1799.6 1144.2Z" fill="#00FFFF"/>
<path d="M1803.8 998.2L1809.4 998.2L1808.6 1016L1806.5 1030.7L1804.8 1016Z" fill="#FFFF00"/>
<path d="M1810.7 998.2L1844.7 998.2L1844.7 1256.6L1810.7 1256.6Z" fill="url(#nzd)"/>
<path d="M1844.3 998.2L1870.4 998.2L1870.4 1256.6L1844.3 1256.6Z" fill="#FF0000"/>
<path d="M1844.7 998.2L1870.4 998.2L1870.4 1007.2L1844.7 1007.2Z" fill="#00FFFF"/>
<path d="M1845.2 998.2L1869.9 998.2L1869.9 1005.5L1845.2 1005.5Z" fill="#0000FF"/>
<path d="M1845.2 1000.9L1853.1 1000.9L1853.1 1002.6L1845.2 1002.6Z" fill="#00FFFF"/>
<path d="M1844.7 1008L1870.4 1008L1870.4 1016L1844.7 1016Z" fill="#FFFF00"/>
<path d="M1844.7 1010.1L1870.4 1010.1L1870.4 1013.9L1844.7 1013.9Z" fill="#FF8000"/>
<path d="M1852.7 1037.6L1870.4 1037.6L1870.4 1045L1852.7 1045Z" fill="#FFFF00"/>
<path d="M1855.2 1039.5L1870.4 1039.5L1870.4 1043.3L1855.2 1043.3Z" fill="#00FFFF"/>
<path d="M1844.7 1054.9L1870.4 1054.9L1870.4 1065.4L1844.7 1065.4Z" fill="#FFFF00"/>
<path d="M1853.1 1055.9L1870.4 1055.9L1870.4 1064.3L1853.1 1064.3Z" fill="#00FFFF"/>
<path d="M1855.2 1057.6L1870.4 1057.6L1870.4 1059.7L1855.2 1059.7Z" fill="#0000FF"/>
<path d="M1855.2 1061.4L1870.4 1061.4L1870.4 1063.1L1855.2 1063.1Z" fill="#0000FF"/>
<path d="M1844.7 1056.3L1852.1 1056.3L1852.1 1063.9L1844.7 1063.9Z" fill="#FF0000"/>
<path d="M1849.4 1070.6L1870.4 1070.6L1870.4 1075.7L1849.4 1075.7Z" fill="#00FFFF"/>
<path d="M1850.6 1071.9L1870.4 1071.9L1870.4 1074.4L1850.6 1074.4Z" fill="#0000FF"/>
<path d="M1852.7 1078.6L1870.4 1078.6L1870.4 1083.7L1852.7 1083.7Z" fill="#FFFF00"/>
<path d="M1854.2 1079.9L1870.4 1079.9L1870.4 1082.4L1854.2 1082.4Z" fill="#00FF80"/>
<path d="M1853.1 1087.4L1870.4 1087.4L1870.4 1093.7L1853.1 1093.7Z" fill="#FFFF00"/>
<path d="M1854.4 1095.8L1870.4 1095.8L1870.4 1100.9L1854.4 1100.9Z" fill="#00FFFF"/>
<path d="M1855.7 1097.1L1870.4 1097.1L1870.4 1099.6L1855.7 1099.6Z" fill="#0000FF"/>
<path d="M1851 1107L1870.4 1107L1870.4 1111.8L1851 1111.8Z" fill="#FFFF00"/>
<path d="M1860.7 1117.7L1870.4 1117.3L1870.4 1128L1854.4 1128L1852.7 1124.2L1857.3 1120.6Z" fill="#00FFFF"/>
<path d="M1861.5 1119.4L1870.4 1118.9L1870.4 1126.3L1855.2 1126.3L1854.2 1124.2L1858.4 1122.1Z" fill="#0000FF"/>
<path d="M1851 1129.5L1870.4 1129.5L1870.4 1132.8L1851 1132.8Z" fill="#FFFF00"/>
<path d="M1852.7 1148.4L1870.4 1148.4L1870.4 1153.8L1852.7 1153.8Z" fill="#FFFF00"/>
<path d="M1854.8 1149.6L1870.4 1149.6L1870.4 1152.6L1854.8 1152.6Z" fill="#00FFFF"/>
<path d="M1856.3 1150.5L1870.4 1150.5L1870.4 1151.7L1856.3 1151.7Z" fill="#0000FF"/>
<path d="M1844.7 1173.6L1857.3 1173.6L1857.3 1179.9L1844.7 1179.9Z" fill="#00FFFF"/>
<path d="M1844.7 1174.8L1856.1 1174.8L1856.1 1178.6L1844.7 1178.6Z" fill="#0000FF"/>
<path d="M1859 1174.2L1870.4 1174.2L1870.4 1180.3L1859 1180.3Z" fill="#FFFF00"/>
<path d="M1861.5 1175.7L1870.4 1175.7L1870.4 1178.8L1861.5 1178.8Z" fill="#00FFFF"/>
<path d="M1844.7 1200.9L1858.4 1200.9L1858.4 1205.7L1844.7 1205.7Z" fill="#00FFFF"/>
<path d="M1844.7 1202.1L1857.3 1202.1L1857.3 1204.5L1844.7 1204.5Z" fill="#0000FF"/>
<path d="M1859.4 1200.5L1870.4 1200.5L1870.4 1205.7L1859.4 1205.7Z" fill="#FFFF00"/>
<path d="M1861.5 1201.9L1870.4 1201.9L1870.4 1204.2L1861.5 1204.2Z" fill="#00FFFF"/>
<path d="M1860.7 1209.3L1870.4 1209.3L1870.4 1217.7L1860.7 1217.7Z" fill="#FFFF00"/>
<path d="M1862.4 1211L1870.4 1211L1870.4 1216L1862.4 1216Z" fill="#00FFFF"/>
<path d="M1844.7 1225.7L1868.3 1225.7L1868.3 1232.8L1844.7 1232.8Z" fill="#FFFF00"/>
<path d="M1847.9 1227.8L1861.5 1227.8L1861.5 1230.7L1847.9 1230.7Z" fill="#00FFFF"/>
<path d="M1869.9 998.2L1871.6 998.2L1871.6 1256.6L1869.9 1256.6Z" fill="#FF8000"/>
<path d="M1871.6 998.2L1896.8 998.2C1896.8 998.2 1897.9 1040.8 1898.3 1058C1898.7 1075.2 1899.3 1106.3 1899.8 1121.1C1900.2 1135.8 1901.1 1151.3 1901.5 1163.1C1901.8 1174.8 1902.3 1194.8 1902.5 1205.1C1902.7 1215.4 1903.1 1229.4 1903.1 1236.6C1903.1 1243.8 1902.5 1256.6 1902.5 1256.6L1871.6 1256.6L1871.6 998.2Z" fill="#FFFF00"/>
<path d="M1871.6 998.2L1894.7 998.2C1894.7 998.2 1895.2 1040.8 1895.6 1058C1895.9 1075.2 1896.8 1106.3 1897.3 1121.1C1897.7 1135.8 1898.6 1151.3 1898.9 1163.1C1899.3 1174.8 1899.6 1194.8 1899.8 1205.1C1900 1215.4 1900.5 1229.4 1900.4 1236.6C1900.3 1243.8 1899.4 1256.6 1899.4 1256.6L1871.6 1256.6L1871.6 998.2Z" fill="#FF8000"/>
<path d="M1871.6 998.2L1891.4 998.2C1891.4 998.2 1891.8 1040.8 1892 1058C1892.2 1075.2 1892.8 1106.3 1893.1 1121.1C1893.3 1135.8 1894.1 1152.8 1894.1 1163.1C1894.1 1173.4 1893.6 1187.8 1893.1 1194.6C1892.5 1201.3 1890.9 1207.6 1889.9 1211.4C1888.9 1215.2 1886.9 1219.2 1885.7 1221.9C1884.5 1224.5 1882.5 1228.2 1881.5 1230.3C1880.5 1232.4 1879.2 1234.2 1878.3 1236.6C1877.5 1238.9 1875.9 1244.7 1875.2 1247.1C1874.5 1249.5 1873.6 1252.5 1873.1 1253.8C1872.6 1255.1 1871.6 1256.6 1871.6 1256.6L1871.6 998.2Z" fill="#FF0000"/>
<path d="M1899.8 998.2L1910.9 998.2L1910.9 1142.1C1910.9 1142.1 1908.5 1137.4 1907.8 1131.6C1907 1125.7 1906.4 1111.8 1905.7 1100C1904.9 1088.3 1903.3 1061.8 1902.5 1047.5C1901.7 1033.3 1899.8 998.2 1899.8 998.2Z" fill="#00FF80"/>
<path d="M1905.2 998.2L1910.9 998.2L1910.9 1058L1907.8 1053.8L1906.1 1026.5Z" fill="#00FFFF"/>
</g>
<clipPath id="cld"><rect x="1132.3" y="732" width="777" height="255.8"/></clipPath>
<path d="M1152.7 860.3H1908.3" stroke="#000" stroke-width="2.3" stroke-dasharray="12.3 12.5" fill="none"/>
<path d="M1134.4 794.8 L1136.5 794.2 L1137.9 799.4 L1139.6 812 L1141.3 833 L1142.8 849.8 L1144.2 858.3 L1145.5 859.3 L1147 853 L1148 850.5 L1150.5 851.9 L1152.6 850.3 L1155.4 844.6 L1158.1 840.4 L1159.6 842.5 L1160.6 845.6 L1162.3 844.6 L1164.4 837.2 L1166.5 828.8 L1168.6 820.4 L1169.4 801.5 L1169.6 785.1 L1171.1 788.9 L1173.2 797.3 L1175.7 804.7 L1177 816.2 L1177.8 833 L1178.3 859.5 L1189.4 859.5 L1189.4 887.7 L1189.6 975.9 L1190 975.9 L1190.4 887.7 L1190.9 859.5 L1223.2 859.5 L1223.4 896.1 L1223.6 975.9 L1247.2 975.9 L1248 896.1 L1248.4 859.5 L1249.3 812 L1250.5 788.9 L1252 779.5 L1254.1 776.3 L1256.2 780.1 L1258.3 775.3 L1260.4 771.1 L1263.1 769.6 L1265.7 767.5 L1268.8 769.6 L1272 767.9 L1274.5 767.3 L1276.2 770 L1277.8 782.6 L1279.3 797.3 L1281.4 807.4 L1283.5 807.8 L1285 816.2 L1286.7 837.2 L1287.9 862.5 L1289.2 879.3 L1290.9 889.8 L1293.4 900.3 L1296.1 910.8 L1298.2 920.2 L1299.7 923.4 L1301.4 920.2 L1303.5 906.6 L1306 894 L1308.7 889.8 L1310.8 885.6 L1312.9 880.9 L1314.6 881.4 L1316.1 896.1 L1317.8 915 L1319.2 927.6 L1320.7 934.9 L1322.4 936 L1324.5 934.9 L1326.2 932.8 L1327.2 917.1 L1328.3 885.6 L1329.3 854.1 L1330.8 822.5 L1332.5 801.5 L1334.6 790 L1337.1 784.7 L1339.6 780.5 L1342.3 776.3 L1344.4 776.7 L1346.5 778 L1349.3 775.3 L1351.8 772.1 L1353.5 769 L1355.6 771.1 L1357 778.4 L1359.1 791 L1361.9 801.5 L1364.8 806.2 L1367.5 805.3 L1370.7 802.6 L1372.8 797.3 L1374.9 784.7 L1376.6 775.3 L1378.7 778.4 L1380.8 788.9 L1382.9 803.6 L1384.4 820.4 L1385.6 829.9 L1387.1 816.2 L1389.2 809.9 L1391.3 801.5 L1393.4 788.9 L1395.5 779.5 L1397.6 776.3 L1400.1 776.7 L1402.6 775.3 L1405.4 773.8 L1407.5 774.2 L1409.6 777.4 L1411 786.8 L1412.3 803.6 L1413.1 833 L1414 875.1 L1414.4 975.9 L1464.2 975.9 L1464.8 964.3 L1465.7 963.7 L1466.1 975.9 L1467.8 969.6 L1469 975.9 L1470.3 975.9 L1470.7 917.1 L1471.1 833 L1471.5 743.8 L1472.6 744.8 L1473.6 749 L1474.9 748 L1475.7 757.4 L1476.8 760.6 L1479.5 761.2 L1482 760.6 L1484.1 763.7 L1486.2 772.1 L1488.3 784.7 L1490.4 801.5 L1492.5 820.4 L1494.2 841.4 L1495.7 862.5 L1497.2 877.2 L1498.8 887.7 L1501.4 892.9 L1504.1 896.1 L1506.8 901.3 L1508.9 910.8 L1510.4 919.2 L1511.9 924.4 L1513.1 926.5 L1515.2 924.4 L1517.3 915 L1519.4 896.1 L1521.5 864.6 L1523 833 L1524.5 807.8 L1525.7 788.9 L1527 777.4 L1528.6 770 L1530 767.5 L1531.7 766.9 L1534.2 768.3 L1537 767.9 L1539.7 766.4 L1541.8 766.9 L1544.3 769.6 L1546.8 771.5 L1548.9 772.5 L1550.6 777.4 L1552.3 788.9 L1553.8 805.7 L1555.2 822.5 L1556.9 841.4 L1558.4 853 L1560.1 853.6 L1562.2 851.5 L1564.3 847.7 L1566.4 835.1 L1568.5 822.5 L1571.2 808.9 L1573.7 800.5 L1576.2 794.2 L1578.3 780.5 L1580.4 765.8 L1583.2 760.6 L1585.9 757 L1588 753.6 L1589.5 752.8 L1591.6 754.9 L1593.3 754.3 L1594.1 763.7 L1594.7 791 L1595.2 833 L1595.6 859.9 L1601 859.9 L1601.5 896.1 L1602.1 975.9 L1627.3 975.9 L1627.7 967.5 L1628.8 967.1 L1629.2 974.8 L1630.4 975.9 L1631.1 938.1 L1631.5 896.1 L1631.9 859.9 L1644.5 859.9 L1645.2 845.6 L1646.2 828.8 L1647.7 820.4 L1649.8 817.3 L1652.5 818.8 L1654.6 821.5 L1656.7 820.4 L1658.8 816.2 L1660.9 815.2 L1662.4 824.6 L1664.1 838.3 L1665.7 842.5 L1666.6 828.8 L1667.4 799.4 L1668.7 778.4 L1670.4 767.9 L1672.5 761.6 L1674.6 759.9 L1677.7 761.6 L1680.9 764.8 L1684 770 L1686.1 777.4 L1688.2 781.6 L1690.9 785.1 L1692.4 793.1 L1693.9 812 L1695.6 837.2 L1697.3 856.2 L1699.4 870.9 L1701.5 887.7 L1703.6 902.4 L1705.7 912.9 L1707.5 917.1 L1709.2 913.9 L1711.3 906.6 L1713.4 902.4 L1715.5 899.2 L1717.6 889.8 L1719.1 875.1 L1720.8 858.3 L1722.5 841.4 L1723.9 838.3 L1726 841.4 L1728.1 835.1 L1730.2 829.9 L1731.7 821.5 L1733 818.8 L1734.4 822.5 L1735.9 830.9 L1738 835.6 L1740.7 837.2 L1743.9 839.3 L1747 844.6 L1749.8 840.4 L1751.9 845.6 L1753.3 854.1 L1754.8 870.9 L1756.5 884.5 L1758.6 896.1 L1760.7 899.8 L1763.2 897.7 L1765.9 892.9 L1768.7 889.8 L1770.8 883.5 L1772.9 870.9 L1775 864.6 L1777.1 863.5 L1779.2 866.7 L1780.9 868.8 L1782.1 862.5 L1783.8 851.9 L1785.5 839.3 L1787 838.3 L1788.4 845.6 L1790.5 858.3 L1793.3 868.8 L1796 879.3 L1798.5 884.1 L1801 881.4 L1803.8 875.1 L1805.9 864.6 L1808 856.2 L1809.4 854.1 L1810.7 857.2 L1811.1 859.9 L1844.3 859.9 L1844.7 812 L1844.9 743.8 L1851 743.3 L1851.5 758.5 L1852.5 759.1 L1852.9 754.3 L1853.8 754.3 L1854.2 859.9 L1854.6 975.9 L1869.9 975.9 L1870.4 875.1 L1870.8 770 L1871.2 750.7 L1872.5 750.7 L1874.1 749.6 L1876.7 751.1 L1879.4 753.6 L1882.1 755.7 L1884.6 757.8 L1887.2 759.1 L1889.3 762.7 L1891.4 770 L1893.5 780.5 L1895.6 793.1 L1897.3 805.7 L1899.4 818.3 L1901 833 L1902.5 847.7 L1903.6 857.2 L1904.6 858.3 L1905.7 847.7 L1906.9 833 L1908.6 825.1" stroke="#0000FF" stroke-width="2.35" fill="none" stroke-linejoin="round" stroke-linecap="round" clip-path="url(#cld)"/>
<path d="M1133.3 732H1908.3V987.8H1133.3ZM1133.3 721.4V1266.1M1908.3 721.4V1266.1M1122.7 1000.4H1918.9M1122.7 1255.5H1918.9M1133.3 732v-10.6M1133.3 987.8v10.6M1133.3 1255.5v10.6M1197.9 732v-6M1197.9 987.8v6M1197.9 1255.5v6M1262.5 732v-10.6M1262.5 987.8v10.6M1262.5 1255.5v10.6M1327 732v-6M1327 987.8v6M1327 1255.5v6M1391.6 732v-10.6M1391.6 987.8v10.6M1391.6 1255.5v10.6M1456.2 732v-6M1456.2 987.8v6M1456.2 1255.5v6M1520.8 732v-10.6M1520.8 987.8v10.6M1520.8 1255.5v10.6M1585.4 732v-6M1585.4 987.8v6M1585.4 1255.5v6M1650 732v-10.6M1650 987.8v10.6M1650 1255.5v10.6M1714.5 732v-6M1714.5 987.8v6M1714.5 1255.5v6M1779.1 732v-10.6M1779.1 987.8v10.6M1779.1 1255.5v10.6M1843.7 732v-6M1843.7 987.8v6M1843.7 1255.5v6M1908.3 732v-10.6M1908.3 987.8v10.6M1908.3 1255.5v10.6M1133.3 988.3h-6M1908.3 988.3h6M1133.3 976.6h-10.6M1908.3 976.6h10.6M1133.3 965h-6M1908.3 965h6M1133.3 953.4h-10.6M1908.3 953.4h10.6M1133.3 941.7h-6M1908.3 941.7h6M1133.3 930.1h-10.6M1908.3 930.1h10.6M1133.3 918.5h-6M1908.3 918.5h6M1133.3 906.8h-10.6M1908.3 906.8h10.6M1133.3 895.2h-6M1908.3 895.2h6M1133.3 883.6h-10.6M1908.3 883.6h10.6M1133.3 871.9h-6M1908.3 871.9h6M1133.3 860.3h-10.6M1908.3 860.3h10.6M1133.3 848.7h-6M1908.3 848.7h6M1133.3 837h-10.6M1908.3 837h10.6M1133.3 825.4h-6M1908.3 825.4h6M1133.3 813.8h-10.6M1908.3 813.8h10.6M1133.3 802.1h-6M1908.3 802.1h6M1133.3 790.5h-10.6M1908.3 790.5h10.6M1133.3 778.9h-6M1908.3 778.9h6M1133.3 767.2h-10.6M1908.3 767.2h10.6M1133.3 755.6h-6M1908.3 755.6h6M1133.3 743.9h-10.6M1908.3 743.9h10.6M1133.3 732.3h-6M1908.3 732.3h6M1133.3 1230h-6M1908.3 1230h6M1133.3 1204.5h-10.6M1908.3 1204.5h10.6M1133.3 1179h-6M1908.3 1179h6M1133.3 1153.5h-10.6M1908.3 1153.5h10.6M1133.3 1128h-6M1908.3 1128h6M1133.3 1102.4h-10.6M1908.3 1102.4h10.6M1133.3 1076.9h-6M1908.3 1076.9h6M1133.3 1051.4h-10.6M1908.3 1051.4h10.6M1133.3 1025.9h-6M1908.3 1025.9h6" stroke="#000" stroke-width="1.7" fill="none" stroke-linecap="butt"/>
<g font-size="20.6" text-anchor="end">
<text x="1114.7" y="749.2">1,0</text>
<text x="1114.7" y="772.5">0,8</text>
<text x="1114.7" y="795.8">0,6</text>
<text x="1114.7" y="819.1">0,4</text>
<text x="1114.7" y="842.3">0,2</text>
<text x="1114.7" y="865.6">0,0</text>
<text x="1114.7" y="888.9">-0,2</text>
<text x="1114.7" y="912.1">-0,4</text>
<text x="1114.7" y="935.4">-0,6</text>
<text x="1114.7" y="958.7">-0,8</text>
<text x="1114.7" y="981.9">-1,0</text>
<text x="1114.7" y="1260.8">10</text>
<text x="1114.7" y="1209.8">20</text>
<text x="1114.7" y="1158.8">30</text>
<text x="1114.7" y="1107.7">40</text>
<text x="1114.7" y="1056.7">50</text>
<text x="1114.7" y="1005.7">60</text>
</g>
<g font-size="20.6" text-anchor="middle">
<text x="1133.3" y="1293.3">2016,0</text>
<text x="1262.5" y="1293.3">2016,5</text>
<text x="1391.6" y="1293.3">2017,0</text>
<text x="1520.8" y="1293.3">2017,5</text>
<text x="1650" y="1293.3">2018,0</text>
<text x="1779.1" y="1293.3">2018,5</text>
<text x="1908.3" y="1293.3">2019,0</text>
</g>
<text x="1520.8" y="1334.6" font-size="32" text-anchor="middle">Year</text>
<text transform="translate(1059 950.5) rotate(-90)" font-size="31.8">Intensity <tspan font-size="24" dx="0.5">σ</tspan></text>
<text transform="translate(1065.9 1201.2) rotate(-90)" font-size="31.8">Scale <tspan font-size="24" dx="-1.2">ν</tspan></text>
<text x="1923.7" y="871.4" font-size="32.5">(d)</text>
<rect x="1919.2" y="997.3" width="38.8" height="25.3" fill="#000000"/>
<rect x="1919.2" y="1022.3" width="38.8" height="25.3" fill="#0000FF"/>
<rect x="1919.2" y="1047.3" width="38.8" height="25.3" fill="#0080FF"/>
<rect x="1919.2" y="1072.3" width="38.8" height="25.3" fill="#00FFFF"/>
<rect x="1919.2" y="1097.3" width="38.8" height="25.3" fill="#00FF80"/>
<rect x="1919.2" y="1122.4" width="38.8" height="25.3" fill="#00FF00"/>
<rect x="1919.2" y="1147.4" width="38.8" height="25.3" fill="#FFFF00"/>
<rect x="1919.2" y="1172.4" width="38.8" height="25.3" fill="#FF8000"/>
<rect x="1919.2" y="1197.4" width="38.8" height="25" fill="#FF0000"/>
<g font-size="14" letter-spacing="0.45">
<text x="1964.6" y="1028">-1,0</text>
<text x="1964.6" y="1053">-0,75</text>
<text x="1964.6" y="1078">-0,50</text>
<text x="1964.6" y="1103">-0,25</text>
<text x="1964.6" y="1128.1">0,0</text>
<text x="1964.6" y="1153.1">0,25</text>
<text x="1964.6" y="1178.1">0,50</text>
<text x="1964.6" y="1203.1">0,75</text>
<text x="1964.6" y="1228.1">1,0</text>
</g>
</g>
<g id="panel-e">
<clipPath id="che"><rect x="100.8" y="1728" width="774.7" height="255.4"/></clipPath>
<g clip-path="url(#che)">
<rect x="100.8" y="1728" width="774.7" height="255.4" fill="#FF0000"/>
<path d="M100.9 1972C101.2 1969.9 102.8 1969.3 103.4 1969.9C104.1 1970.5 104.8 1975 105.5 1976.2C106.2 1977.4 107.8 1977.9 108.7 1978.3C109.5 1978.7 111.1 1978.5 111.8 1979.4C112.5 1980.2 113.9 1984.6 113.9 1984.6L100.9 1984.6C100.9 1984.6 100.5 1974.1 100.9 1972Z" fill="#FF8000"/>
<path d="M112.9 1726.2L221.5 1726.2C221.5 1726.2 221.9 1768 222.1 1785C222.3 1802.1 222.6 1830.4 223.2 1848.1C223.7 1865.7 225.3 1896.4 226.3 1911.1C227.3 1925.8 229.5 1942.8 230.5 1953.1C231.5 1963.4 233.7 1984.6 233.7 1984.6L113.9 1984.6C113.9 1984.6 114.4 1970.9 115 1963.6C115.5 1956.2 117.4 1940.9 118.1 1932.1C118.8 1923.3 120.1 1909.4 120.2 1900.6C120.4 1891.7 119.6 1876.4 119.2 1869.1C118.7 1861.7 117.6 1855.4 117.1 1848.1C116.6 1840.7 116 1826.8 115.6 1816.5C115.2 1806.2 114.7 1787.2 114.3 1774.5C113.9 1761.9 112.9 1726.2 112.9 1726.2Z" fill="#FF8000"/>
<path d="M114.3 1726.2L219.4 1726.2C219.4 1726.2 219.8 1768 220 1785C220.2 1802.1 220.3 1830.4 220.6 1848.1C220.9 1865.7 221.7 1896.4 222.1 1911.1C222.5 1925.8 223.1 1942.8 223.6 1953.1C224 1963.4 225.3 1984.6 225.3 1984.6L131.8 1984.6C131.8 1984.6 131.2 1970.9 130.7 1963.6C130.3 1956.2 129.1 1940.9 128.6 1932.1C128.2 1923.3 127.6 1909.4 127.6 1900.6C127.5 1891.7 128 1877.9 128.2 1869.1C128.3 1860.2 128.8 1842.3 128.6 1837.5C128.4 1832.8 127.2 1836.9 126.5 1835.4C125.8 1834 124.2 1829.7 123.4 1827C122.5 1824.4 120.9 1820.9 120.2 1816.5C119.5 1812.1 118.6 1802.9 118.1 1795.5C117.6 1788.2 116.9 1771.4 116.4 1764C116 1756.7 115.3 1748.3 115 1743C114.7 1737.7 114.3 1726.2 114.3 1726.2Z" fill="#FFFF00"/>
<path d="M142.9 1726.2L149.2 1726.2C149.2 1726.2 148.8 1752.8 148.6 1764C148.3 1775.2 148 1797.2 147.5 1806C147.1 1814.9 145.9 1827 145.4 1827C144.9 1827 144.1 1814.9 143.7 1806C143.4 1797.2 143 1775.2 142.9 1764C142.8 1752.8 142.9 1726.2 142.9 1726.2Z" fill="#FF8000"/>
<path d="M179 1726.2L185.8 1726.2C185.8 1726.2 185.7 1752.8 185.3 1764C185 1775.2 183.8 1794.3 183.2 1806C182.6 1817.8 181.7 1837.8 181.1 1848.1C180.5 1858.3 179.6 1874 179 1879.6C178.5 1885.2 177.8 1889.4 177.4 1888C176.9 1886.5 176.2 1877.6 175.9 1869.1C175.5 1860.5 174.8 1838.8 174.8 1827C174.8 1815.3 175.5 1795.3 175.9 1785C176.2 1774.7 176.9 1761.7 177.4 1753.5C177.8 1745.3 179 1726.2 179 1726.2Z" fill="#FF8000"/>
<path d="M195.4 1732.5C195.9 1728.1 197.5 1732.7 197.9 1743C198.4 1753.3 198.5 1789.9 198.4 1806C198.2 1822.2 197.3 1855.6 196.9 1858.6C196.5 1861.5 195.7 1838.8 195.4 1827C195.1 1815.3 194.8 1787.8 194.8 1774.5C194.8 1761.3 195 1736.9 195.4 1732.5Z" fill="#FF8000"/>
<path d="M117.1 1726.2L125.5 1726.2C125.5 1726.2 124.9 1745.9 124.4 1753.5C124 1761.2 122.8 1778.2 122.3 1780.8C121.8 1783.5 121.2 1777.1 120.6 1772.4C120.1 1767.7 119 1753.7 118.5 1747.2C118 1740.7 117.1 1726.2 117.1 1726.2Z" fill="#00FF00"/>
<path d="M131.1 1726.2L142.9 1726.2C142.9 1726.2 142.4 1754.3 142.3 1764C142.1 1773.7 141.9 1787.3 141.6 1795.5C141.3 1803.8 140.7 1816.7 140.2 1822.8C139.7 1829 138.6 1839.1 138.1 1839.6C137.6 1840.2 137 1833.2 136.6 1827C136.2 1820.9 135.4 1804.4 134.9 1795.5C134.4 1786.7 133.3 1773.7 132.8 1764C132.3 1754.3 131.1 1726.2 131.1 1726.2Z" fill="#00FF00"/>
<path d="M133.9 1726.2L140.2 1726.2C140.2 1726.2 139.8 1745.3 139.5 1753.5C139.2 1761.7 138.5 1779.1 138.1 1785C137.7 1790.9 137 1797 136.6 1795.5C136.2 1794.1 135.6 1781.9 135.3 1774.5C135 1767.2 134.7 1749.8 134.5 1743C134.3 1736.2 133.9 1726.2 133.9 1726.2Z" fill="#00FF80"/>
<path d="M149.2 1726.2L165.4 1726.2C165.4 1726.2 165.7 1745.3 166 1753.5C166.3 1761.7 167.1 1776.2 167.5 1785C167.8 1793.8 168.3 1807.7 168.5 1816.5C168.7 1825.4 169.1 1839.2 168.9 1848.1C168.8 1856.9 168 1872.2 167.5 1879.6C167 1886.9 165.8 1894.7 165.4 1900.6C164.9 1906.5 164.3 1916.3 164.3 1921.6C164.3 1926.9 164.8 1934.6 165.4 1938.4C166 1942.2 167.9 1944.5 168.5 1948.9C169.2 1953.3 169.7 1966.1 170.2 1969.9C170.7 1973.7 171.7 1978.6 172.3 1976.2C173 1973.8 174 1957.2 174.8 1953.1C175.6 1949 176.8 1948 178 1946.8C179.2 1945.6 181.9 1947.3 183.2 1944.7C184.6 1942 186.4 1930.8 187.4 1927.9C188.5 1924.9 190.1 1929 190.6 1923.7C191.1 1918.4 190.9 1898.3 191.2 1890.1C191.5 1881.8 192 1869.3 192.7 1864.9C193.3 1860.4 195.1 1858.3 195.8 1858.6C196.6 1858.8 197.1 1865.8 197.9 1867C198.8 1868.1 201.8 1872.5 202.1 1867C202.4 1861.4 200.4 1838.5 200 1827C199.7 1815.6 199.6 1799.1 199.6 1785C199.6 1770.9 200 1726.2 200 1726.2L216.8 1726.2C216.8 1726.2 217.6 1768 217.9 1785C218.2 1802.1 218.6 1830.4 218.9 1848.1C219.3 1865.7 220.2 1896.4 220.6 1911.1C221.1 1925.8 221.7 1942.8 222.1 1953.1C222.5 1963.4 223.6 1984.6 223.6 1984.6L199.6 1984.6C199.6 1984.6 198.9 1973.5 198.4 1972C197.8 1970.5 196.5 1972.3 195.8 1974.1C195.2 1975.9 193.7 1984.6 193.7 1984.6L152.1 1984.6C152.1 1984.6 150.7 1978.1 150 1976.2C149.3 1974.3 148 1971.1 147.1 1970.9C146.2 1970.8 144.7 1974.9 143.7 1975.2C142.8 1975.4 141.3 1974.1 140.2 1973.1C139.1 1972 136.8 1970.6 136 1967.8C135.1 1965 134.4 1958.1 133.9 1953.1C133.4 1948.1 132.5 1938 132.4 1932.1C132.2 1926.2 132.3 1917 132.8 1911.1C133.3 1905.2 135.1 1895.7 136 1890.1C136.8 1884.5 137.8 1874.5 139.1 1871.2C140.4 1867.8 144.2 1869.1 145.4 1865.9C146.6 1862.7 147.1 1856.4 147.5 1848.1C148 1839.7 148.3 1817.8 148.6 1806C148.8 1794.3 149.1 1775.2 149.2 1764C149.3 1752.8 149.2 1726.2 149.2 1726.2Z" fill="#00FF00"/>
<path d="M168.1 1726.2L178.6 1726.2C178.6 1726.2 177.4 1745.3 176.9 1753.5C176.5 1761.7 175.6 1777.7 175.3 1785C174.9 1792.4 174.8 1804.6 174.4 1806C174.1 1807.5 173.3 1799.9 172.7 1795.5C172.2 1791.1 171.2 1781.3 170.6 1774.5C170.1 1767.8 169.3 1754 168.9 1747.2C168.6 1740.4 168.1 1726.2 168.1 1726.2Z" fill="#00FF00"/>
<path d="M150.7 1726.2L165.4 1726.2C165.4 1726.2 165.9 1752.8 166 1764C166.2 1775.2 166.5 1794.3 166.4 1806C166.3 1817.8 165.7 1839.2 165.4 1848.1C165 1856.9 164.4 1864.4 163.9 1869.1C163.4 1873.8 162.5 1881.7 161.8 1881.7C161.1 1881.7 159.8 1873.8 159.1 1869.1C158.4 1864.4 157.6 1855.4 157 1848.1C156.4 1840.7 155.5 1825.4 154.9 1816.5C154.3 1807.7 153.3 1793.8 152.8 1785C152.3 1776.2 151.6 1761.7 151.3 1753.5C151 1745.3 150.7 1726.2 150.7 1726.2Z" fill="#00FF80"/>
<path d="M152.8 1726.2L162.6 1726.2C162.6 1726.2 163.1 1752.8 163.3 1764C163.5 1775.2 164 1795.7 163.9 1806C163.8 1816.3 163 1830.2 162.6 1837.5C162.3 1844.9 161.6 1854.1 161.2 1858.6C160.8 1863 160.1 1869.9 159.7 1869.1C159.3 1868.2 158.5 1858.1 158 1852.3C157.6 1846.4 156.8 1835 156.3 1827C155.9 1819.1 155.3 1804.4 154.9 1795.5C154.5 1786.7 153.7 1773.7 153.4 1764C153.1 1754.3 152.8 1726.2 152.8 1726.2Z" fill="#00FFFF"/>
<path d="M150 1888C150.9 1888 152.1 1895.9 152.8 1900.6C153.4 1905.3 154.4 1917.2 154.9 1921.6C155.3 1926 156.1 1930.3 155.9 1932.1C155.8 1933.8 154.6 1933.6 153.8 1934.2C153 1934.8 151.1 1935.4 150 1936.3C149 1937.2 147.3 1941.1 146.5 1940.5C145.7 1939.9 144.8 1935.6 144.4 1932.1C144 1928.6 143.4 1919.7 143.7 1915.3C144 1910.9 145.6 1904.4 146.5 1900.6C147.4 1896.7 149.2 1888 150 1888Z" fill="#00FF80"/>
<path d="M202.1 1726.2L213.1 1726.2C213.1 1726.2 212.9 1752.8 212.6 1764C212.4 1775.2 211.9 1795.7 211.6 1806C211.2 1816.3 210.6 1830.2 210.1 1837.5C209.7 1844.9 209 1854.1 208.4 1858.6C207.9 1863 206.9 1870.5 206.3 1869.1C205.8 1867.6 205.1 1856.9 204.7 1848.1C204.2 1839.2 203.5 1817.8 203.2 1806C202.9 1794.3 202.7 1775.2 202.6 1764C202.4 1752.8 202.1 1726.2 202.1 1726.2Z" fill="#00FF80"/>
<path d="M205.3 1726.2L210.1 1726.2C210.1 1726.2 210 1745.3 209.9 1753.5C209.8 1761.7 209.7 1777.1 209.5 1785C209.3 1793 208.7 1804.9 208.4 1810.2C208.2 1815.5 207.7 1823.4 207.4 1822.8C207.1 1822.3 206.6 1812.8 206.3 1806C206.1 1799.3 205.9 1785.7 205.7 1774.5C205.6 1763.3 205.3 1726.2 205.3 1726.2Z" fill="#00FFFF"/>
<path d="M206.3 1894.3C206.9 1892.2 208.8 1901.6 209.5 1906.9C210.2 1912.2 211 1924.1 211.6 1932.1C212.2 1940 213.1 1956.2 213.7 1963.6C214.3 1970.9 215.8 1984.6 215.8 1984.6L203.8 1984.6C203.8 1984.6 204 1961.9 204.2 1953.1C204.4 1944.3 205 1929.8 205.3 1921.6C205.6 1913.3 205.8 1896.3 206.3 1894.3Z" fill="#00FF80"/>
<path d="M171.1 1726.2L176.1 1726.2L175.3 1743L173.8 1759.8L172.3 1743Z" fill="#00FF80"/>
<path d="M252.1 1726.2L278.2 1726.2C278.2 1726.2 279.2 1752.8 279.9 1764C280.6 1775.2 282 1794.3 283 1806C284.1 1817.8 285.9 1839.2 287.2 1848.1C288.6 1856.9 291.6 1860.2 292.5 1869.1C293.4 1877.9 293.2 1899.3 293.5 1911.1C293.8 1922.8 293.7 1942.8 294.6 1953.1C295.5 1963.4 299.8 1984.6 299.8 1984.6L242.1 1984.6C242.1 1984.6 242.8 1970.9 243.1 1963.6C243.4 1956.2 243.9 1942.4 244.2 1932.1C244.5 1921.8 244.9 1901.8 245.2 1890.1C245.6 1878.3 246.2 1859.8 246.7 1848.1C247.1 1836.3 247.9 1817.8 248.4 1806C248.8 1794.3 249.5 1775.2 250 1764C250.6 1752.8 252.1 1726.2 252.1 1726.2Z" fill="#FF8000"/>
<path d="M254.2 1726.2L275.7 1726.2C275.7 1726.2 276.8 1752.8 277.4 1764C277.9 1775.2 279 1794.3 279.9 1806C280.8 1817.8 282.5 1837.8 283.7 1848.1C284.8 1858.3 287.2 1870.7 288.3 1879.6C289.4 1888.4 290.8 1900.8 291.4 1911.1C292 1921.4 292.2 1942.8 292.5 1953.1C292.8 1963.4 293.5 1984.6 293.5 1984.6L251.5 1984.6C251.5 1984.6 249.9 1960.4 249.4 1953.1C249 1945.7 248.4 1940.9 248.4 1932.1C248.4 1923.3 249.1 1901.8 249.4 1890.1C249.8 1878.3 250.5 1859.8 250.9 1848.1C251.3 1836.3 251.8 1817.8 252.1 1806C252.4 1794.3 252.7 1775.2 253 1764C253.3 1752.8 254.2 1726.2 254.2 1726.2Z" fill="#FFFF00"/>
<path d="M256.8 1726.2L271.9 1726.2C271.9 1726.2 273 1752.8 273.6 1764C274.2 1775.2 275.3 1794.3 276.1 1806C276.9 1817.8 278.5 1837.8 279.5 1848.1C280.4 1858.3 281.9 1870.7 283 1879.6C284.1 1888.4 286.3 1902.3 287.2 1911.1C288.2 1919.9 289.4 1933.8 290 1942.6C290.5 1951.4 291.4 1968.2 291.4 1974.1C291.5 1980 290.4 1984.6 290.4 1984.6L285.1 1984.6C285.1 1984.6 286.5 1977 286.2 1974.1C285.9 1971.2 284.2 1965.1 283 1963.6C281.8 1962.1 279.1 1965.1 277.8 1963.6C276.4 1962.1 274.6 1955.4 273.6 1953.1C272.5 1950.7 271.2 1946.8 270.4 1946.8C269.7 1946.8 268.9 1950.7 268.3 1953.1C267.7 1955.4 267 1962.1 266.2 1963.6C265.5 1965.1 263.8 1965.1 263.1 1963.6C262.3 1962.1 261.6 1957.5 261 1953.1C260.3 1948.7 259 1938 258.4 1932.1C257.9 1926.2 257.1 1918.4 256.8 1911.1C256.4 1903.7 255.9 1888.4 255.7 1879.6C255.5 1870.7 255.1 1858.3 255.1 1848.1C255.1 1837.8 255.5 1817.8 255.7 1806C255.9 1794.3 256.2 1775.2 256.3 1764C256.5 1752.8 256.8 1726.2 256.8 1726.2Z" fill="#00FF00"/>
<path d="M261.4 1726.2L269.8 1726.2C269.8 1726.2 270.7 1752.8 271.1 1764C271.4 1775.2 272.2 1794.3 272.5 1806C272.9 1817.8 273.3 1837.8 273.6 1848.1C273.9 1858.3 274.7 1873.7 274.6 1879.6C274.6 1885.4 273.7 1890.1 273.2 1890.1C272.7 1890.1 271.6 1885.4 271.1 1879.6C270.5 1873.7 269.5 1858.3 268.9 1848.1C268.4 1837.8 267.5 1816.3 266.8 1806C266.2 1795.7 264.7 1782.8 264.1 1774.5C263.5 1766.3 263 1754 262.6 1747.2C262.3 1740.4 261.4 1726.2 261.4 1726.2Z" fill="#00FF80"/>
<path d="M274.6 1894.3C275.1 1894.3 276.9 1905.8 277.4 1911.1C277.9 1916.4 278.3 1926.8 278.2 1932.1C278.1 1937.4 277.1 1948.9 276.7 1948.9C276.3 1948.9 275.6 1937.4 275.3 1932.1C274.9 1926.8 274.1 1916.4 274 1911.1C273.9 1905.8 274.2 1894.3 274.6 1894.3Z" fill="#00FF80"/>
<path d="M322.9 1726.2L326.1 1726.2L325.7 1753.5L325 1766.1L323.6 1753.5Z" fill="#FF8000"/>
<path d="M328.2 1787.1C328.6 1787.1 329.9 1789.9 330.3 1795.5C330.6 1801.1 330.9 1818.2 330.7 1827C330.6 1835.9 329.7 1852.1 329.2 1858.6C328.7 1865 327.9 1870.2 327.1 1873.3C326.4 1876.3 324.6 1881.2 324 1880.6C323.4 1880 322.9 1873.6 322.9 1869.1C323 1864.5 324 1855.4 324.4 1848.1C324.9 1840.7 325.7 1823.9 326.1 1816.5C326.5 1809.2 326.8 1799.6 327.1 1795.5C327.4 1791.4 327.8 1787.1 328.2 1787.1Z" fill="#FF8000"/>
<path d="M332.8 1827L334.5 1839.6L334.1 1858.6L332.4 1864.9L332 1848.1Z" fill="#FF8000"/>
<path d="M346.1 1726.2L441.2 1726.2C441.2 1726.2 442.3 1768 442.7 1785C443.1 1802.1 443.7 1830.4 444.2 1848.1C444.6 1865.7 445 1897.8 445.8 1911.1C446.7 1924.3 448.9 1935.2 450 1942.6C451.2 1949.9 453.4 1957.7 454.2 1963.6C455.1 1969.5 456.3 1984.6 456.3 1984.6L331.3 1984.6C331.3 1984.6 332.7 1971.7 333.4 1969.9C334.2 1968.1 335.7 1974.4 336.6 1972C337.5 1969.6 339.2 1961.6 339.7 1953.1C340.3 1944.6 340.7 1922.8 340.8 1911.1C340.9 1899.3 340.2 1880.8 340.4 1869.1C340.5 1857.3 341.3 1838.8 341.8 1827C342.3 1815.3 343.5 1795.3 343.9 1785C344.4 1774.7 344.7 1761.7 345 1753.5C345.3 1745.3 346.1 1726.2 346.1 1726.2Z" fill="#FF8000"/>
<path d="M350.3 1726.2L439.5 1726.2C439.5 1726.2 440.3 1768 440.6 1785C440.9 1802.1 441.4 1830.4 441.6 1848.1C441.8 1865.7 441.9 1896.4 442.1 1911.1C442.2 1925.8 442.6 1942.8 442.7 1953.1C442.8 1963.4 442.7 1984.6 442.7 1984.6L346.1 1984.6C346.1 1984.6 347.6 1970.9 348.2 1963.6C348.7 1956.2 349.7 1940.9 350.3 1932.1C350.8 1923.3 351.8 1909.4 352.4 1900.6C352.9 1891.7 354.4 1876.4 354.5 1869.1C354.5 1861.7 353.4 1855.4 353 1848.1C352.5 1840.7 351.6 1825.4 351.3 1816.5C351 1807.7 351 1793.8 350.9 1785C350.7 1776.2 350.3 1761.7 350.3 1753.5C350.2 1745.3 350.3 1726.2 350.3 1726.2Z" fill="#FFFF00"/>
<path d="M353.4 1726.2L360.1 1726.2L359.3 1743L357.6 1778.7L355.5 1753.5Z" fill="#FF8000"/>
<path d="M350.3 1984.6C350.3 1984.6 351.2 1961.9 351.7 1953.1C352.2 1944.3 353.2 1930.4 353.8 1921.6C354.4 1912.8 355.5 1898.9 355.9 1890.1C356.4 1881.2 357.1 1865.9 357.2 1858.6C357.3 1851.2 356.3 1843.4 356.6 1837.5C356.8 1831.7 357.8 1822.4 358.7 1816.5C359.5 1810.7 361.5 1799.1 362.9 1795.5C364.2 1792 366.8 1792.5 368.1 1791.3C369.4 1790.2 371.1 1789.5 372.3 1787.1C373.5 1784.8 375.6 1783.1 376.5 1774.5C377.4 1766 378.6 1726.2 378.6 1726.2L385.3 1726.2C385.3 1726.2 386.3 1745.6 387 1753.5C387.7 1761.5 389.3 1782.9 390.2 1782.9C391 1782.9 392.3 1761.5 392.9 1753.5C393.5 1745.6 394.4 1726.2 394.4 1726.2L439.1 1726.2C439.1 1726.2 439.8 1811.9 440 1848.1C440.2 1884.2 440.6 1984.6 440.6 1984.6L350.3 1984.6Z" fill="#00FF00"/>
<path d="M365 1984.6C365 1984.6 365.3 1943.8 365.6 1932.1C365.9 1920.3 366.4 1909.4 367.1 1900.6C367.7 1891.7 369.2 1876.4 370.2 1869.1C371.2 1861.7 373.2 1853.9 374.4 1848.1C375.6 1842.2 377.6 1832.9 378.6 1827C379.6 1821.2 380.7 1811.3 381.8 1806C382.8 1800.7 384.9 1791.9 386 1789.2C387 1786.6 388.2 1788.3 389.1 1787.1C390 1785.9 391.5 1785.5 392.3 1780.8C393 1776.1 393.9 1761.2 394.4 1753.5C394.8 1745.9 395.4 1726.2 395.4 1726.2L438.7 1726.2C438.7 1726.2 439 1811.9 439.1 1848.1C439.2 1884.2 439.5 1984.6 439.5 1984.6L365 1984.6Z" fill="#00FF80"/>
<path d="M384.5 1984.6C384.5 1984.6 384 1945.3 383.9 1932.1C383.7 1918.8 383.4 1900.4 383.2 1890.1C383.1 1879.8 382.9 1865.9 382.8 1858.6C382.7 1851.2 382.1 1842 382.4 1837.5C382.7 1833.1 384.1 1826.2 384.9 1827C385.7 1827.9 387.2 1840.9 388.1 1843.8C388.9 1846.8 390.3 1850.4 391.2 1848.1C392.1 1845.7 393.6 1834.4 394.4 1827C395.1 1819.7 395.9 1804.4 396.5 1795.5C397.1 1786.7 398.1 1773.7 398.6 1764C399 1754.3 399.6 1726.2 399.6 1726.2L438.3 1726.2C438.3 1726.2 438.6 1811.9 438.7 1848.1C438.8 1884.2 438.7 1984.6 438.7 1984.6L430.1 1984.6C430.1 1984.6 429.5 1960.4 429 1953.1C428.6 1945.7 427.5 1938 426.9 1932.1C426.3 1926.2 425.3 1917 424.8 1911.1C424.4 1905.2 424.1 1890.1 423.8 1890.1C423.5 1890.1 423.2 1905.2 422.7 1911.1C422.3 1917 421.5 1926.8 420.6 1932.1C419.7 1937.4 417.9 1945.9 416.4 1948.9C415 1951.8 411.4 1951 410.1 1953.1C408.8 1955.2 407.6 1959.2 407 1963.6C406.4 1968 405.9 1984.6 405.9 1984.6L384.5 1984.6Z" fill="#00FFFF"/>
<path d="M400.7 1726.2L417.5 1726.2C417.5 1726.2 416.8 1752.8 416.4 1764C416 1775.2 415.3 1795.7 414.7 1806C414.2 1816.3 412.9 1828.7 412.2 1837.5C411.6 1846.4 410.7 1860.2 410.1 1869.1C409.5 1877.9 408.6 1893.2 408 1900.6C407.4 1907.9 406.5 1916 405.9 1921.6C405.3 1927.2 404.4 1937.3 403.8 1940.5C403.2 1943.7 402.5 1945.3 401.7 1944.7C401 1944.1 399.2 1941 398.6 1936.3C397.9 1931.6 397.2 1920.5 397.1 1911.1C397 1901.7 397.3 1880.8 397.5 1869.1C397.7 1857.3 398.3 1838.8 398.6 1827C398.9 1815.3 399.4 1795.3 399.6 1785C399.8 1774.7 399.9 1761.7 400 1753.5C400.2 1745.3 400.7 1726.2 400.7 1726.2Z" fill="#0080FF"/>
<path d="M383.2 1831.2C383.5 1831.2 384.2 1839.8 384.5 1848.1C384.8 1856.3 385.1 1880.1 385.3 1890.1C385.5 1900.1 386 1916.5 386 1919.5C385.9 1922.4 385.2 1916.7 384.9 1911.1C384.6 1905.5 384.2 1888.4 383.9 1879.6C383.6 1870.7 382.9 1854.8 382.8 1848.1C382.7 1841.3 383 1831.2 383.2 1831.2Z" fill="#0080FF"/>
<path d="M407 1726.2L412.6 1726.2L411.8 1734.6L410.1 1745.1L408.4 1734.6Z" fill="#00FFFF"/>
<path d="M429 1726.2L433.2 1726.2L432.2 1736.7L430.7 1745.1L429.7 1734.6Z" fill="#0080FF"/>
<path d="M488.9 1824.9C489.5 1822.6 491.2 1821.8 492.1 1820.7C492.9 1819.7 494.1 1818.2 495 1817.6C495.9 1817 497.9 1793.2 498.4 1816.5C498.8 1839.9 498.4 1984.6 498.4 1984.6L483.7 1984.6C483.7 1984.6 484.4 1963.4 484.7 1953.1C485 1942.8 485.5 1922.8 485.8 1911.1C486.1 1899.3 486.5 1879.4 486.8 1869.1C487.1 1858.8 487.6 1843.7 487.9 1837.5C488.2 1831.4 488.3 1827.3 488.9 1824.9Z" fill="#FF8000"/>
<path d="M496.6 1726.2L529.1 1726.2C529.1 1726.2 528.8 1768 528.7 1785C528.6 1802.1 528.2 1831 528.1 1848.1C528 1865.1 528.7 1897.5 528.1 1906.9C527.5 1916.3 524.8 1912.9 523.9 1915.3C522.9 1917.6 521.7 1919.9 521.1 1923.7C520.5 1927.5 520 1934.1 519.7 1942.6C519.4 1951.1 519 1984.6 519 1984.6L485 1984.6C485 1984.6 484.6 1849.4 485 1827C485.4 1804.7 487.1 1825.8 488.2 1824.9C489.2 1824.1 491.5 1823.4 492.4 1820.7C493.2 1818.1 494 1814 494.5 1806C494.9 1798.1 495.2 1775.2 495.5 1764C495.8 1752.8 496.6 1726.2 496.6 1726.2Z" fill="#FF8000"/>
<path d="M530.8 1726.2L538.6 1726.2C538.6 1726.2 539.1 1746.7 539.2 1753.5C539.3 1760.3 539.8 1767.2 539.6 1774.5C539.4 1781.9 538.4 1801.3 537.9 1806C537.5 1810.7 536.9 1811.1 536.5 1808.1C536.1 1805.2 535.5 1792.7 535 1785C534.5 1777.4 533.5 1761.7 532.9 1753.5C532.3 1745.3 530.8 1726.2 530.8 1726.2Z" fill="#FF8000"/>
<path d="M502.2 1726.2L504.3 1726.2L503.9 1734.6L503.1 1744.1L502.4 1734.6Z" fill="#FFFF00"/>
<path d="M499.3 1753.5C499.6 1751.5 501 1755.4 501.4 1759.8C501.8 1764.2 502.2 1779 502.2 1785C502.2 1791.1 501.7 1801.4 501.4 1802.9C501 1804.4 500.1 1799.5 499.7 1795.5C499.4 1791.6 498.9 1780.4 498.9 1774.5C498.8 1768.6 498.9 1755.6 499.3 1753.5Z" fill="#FFFF00"/>
<path d="M516.1 1726.2L523.9 1726.2C523.9 1726.2 523.5 1745.3 523.2 1753.5C522.9 1761.7 522.3 1776.2 521.8 1785C521.3 1793.8 520.2 1811.2 519.7 1816.5C519.2 1821.8 518.5 1825.8 518.2 1822.8C517.9 1819.9 517.7 1805.2 517.6 1795.5C517.4 1785.8 517.1 1763.2 516.9 1753.5C516.7 1743.8 516.1 1726.2 516.1 1726.2Z" fill="#FFFF00"/>
<path d="M556.4 1726.2L635.8 1726.2C635.8 1726.2 636.8 1752.8 637.3 1764C637.8 1775.2 638.8 1795.7 639.4 1806C640 1816.3 640.8 1830.2 641.5 1837.5C642.2 1844.9 643.9 1848.3 644.2 1858.6C644.5 1868.8 643.9 1897.8 643.6 1911.1C643.3 1924.3 642.3 1942.8 642.1 1953.1C642 1963.4 642.6 1984.6 642.6 1984.6L545.9 1984.6C545.9 1984.6 547.1 1970.9 548 1963.6C548.9 1956.2 551.3 1942.4 552.2 1932.1C553.2 1921.8 554.2 1904.8 554.7 1890.1C555.3 1875.4 555.8 1843.2 556 1827C556.2 1810.9 556.4 1788.6 556.4 1774.5C556.5 1760.4 556.4 1726.2 556.4 1726.2Z" fill="#FF8000"/>
<path d="M557.5 1726.2L632.1 1726.2C632.1 1726.2 632.8 1745.9 633.1 1753.5C633.5 1761.2 634.7 1776.4 634.6 1780.8C634.4 1785.2 632.6 1782.1 632.1 1785C631.6 1788 630.9 1795.9 631 1801.8C631.2 1807.7 632.5 1819.1 633.1 1827C633.7 1835 635 1849.7 635.2 1858.6C635.4 1867.4 635 1882.7 634.6 1890.1C634.1 1897.4 632.7 1905.2 632.1 1911.1C631.4 1917 630.3 1926.8 630 1932.1C629.6 1937.4 629.2 1945.1 629.5 1948.9C629.8 1952.7 631.3 1956.7 632.1 1959.4C632.9 1962 634.3 1965.2 635.2 1967.8C636.1 1970.4 637.8 1975.9 638.4 1978.3C638.9 1980.7 639.4 1984.6 639.4 1984.6L554.7 1984.6C554.7 1984.6 555.6 1963.4 556 1953.1C556.4 1942.8 557.1 1922.8 557.5 1911.1C557.8 1899.3 558.3 1883.8 558.5 1869.1C558.7 1854.4 559 1820.7 558.9 1806C558.9 1791.3 558.3 1775.2 558.1 1764C557.9 1752.8 557.5 1726.2 557.5 1726.2Z" fill="#FFFF00"/>
<path d="M595.3 1848.1C596 1843.1 598.5 1844.1 599.5 1843.8C600.5 1843.6 601.8 1844.8 602.6 1845.9C603.5 1847.1 605.1 1846.1 605.8 1852.3C606.5 1858.4 607.5 1880.4 607.9 1890.1C608.3 1899.8 609.1 1913.9 608.9 1921.6C608.8 1929.2 607.6 1940 606.8 1944.7C606.1 1949.4 604.6 1954 603.7 1955.2C602.8 1956.4 601 1954.9 600.1 1953.1C599.2 1951.3 598 1948.5 597.4 1942.6C596.8 1936.7 596.3 1919.9 595.9 1911.1C595.5 1902.3 594.8 1888.4 594.7 1879.6C594.6 1870.7 594.6 1853.1 595.3 1848.1Z" fill="#FF8000"/>
<path d="M593.8 1774.5C594.1 1771.6 595.6 1788.2 596.3 1795.5C597.1 1802.9 598.8 1820.6 599.5 1827C600.2 1833.5 601.7 1839.1 601.6 1841.7C601.4 1844.4 599.3 1845.1 598.4 1845.9C597.6 1846.8 595.9 1852.2 595.3 1848.1C594.7 1843.9 594.4 1826.8 594.2 1816.5C594 1806.2 593.5 1777.5 593.8 1774.5Z" fill="#FF8000"/>
<path d="M567.4 1726.2L587.9 1726.2C587.9 1726.2 588.2 1768 588.4 1785C588.5 1802.1 588.8 1830.4 589 1848.1C589.2 1865.7 589.5 1896.4 589.6 1911.1C589.8 1925.8 590 1942.8 590 1953.1C590 1963.4 589.6 1984.6 589.6 1984.6L558.1 1984.6C558.1 1984.6 558.7 1963.4 558.9 1953.1C559.2 1942.8 559.9 1922.8 560.2 1911.1C560.5 1899.3 560.7 1880.8 561.1 1869.1C561.4 1857.3 562.2 1838.8 562.7 1827C563.3 1815.3 564.3 1795.3 564.8 1785C565.4 1774.7 566.2 1761.7 566.5 1753.5C566.9 1745.3 567.4 1726.2 567.4 1726.2Z" fill="#00FF00"/>
<path d="M619.5 1726.2L628.3 1726.2C628.3 1726.2 628.2 1745.3 627.9 1753.5C627.6 1761.7 626.8 1777.1 626.2 1785C625.6 1793 624.4 1802.9 623.7 1810.2C622.9 1817.6 621.7 1829.3 621.1 1837.5C620.6 1845.8 620.1 1858.8 619.9 1869.1C619.6 1879.4 619.5 1900.8 619.5 1911.1C619.5 1921.4 619.6 1935.2 619.9 1942.6C620.2 1949.9 621.2 1957.7 621.6 1963.6C621.9 1969.5 622.6 1984.6 622.6 1984.6L610.6 1984.6C610.6 1984.6 611.3 1963.4 611.5 1953.1C611.7 1942.8 611.9 1922.8 612.1 1911.1C612.3 1899.3 612.4 1879.4 612.7 1869.1C613 1858.8 613.7 1845.8 614.2 1837.5C614.7 1829.3 615.7 1817.6 616.3 1810.2C616.9 1802.9 618 1793 618.4 1785C618.8 1777.1 619.3 1761.7 619.5 1753.5C619.6 1745.3 619.5 1726.2 619.5 1726.2Z" fill="#00FF00"/>
<path d="M602.2 1734.6C602.8 1730.8 605.8 1726.2 605.8 1726.2L608.9 1726.2C608.9 1726.2 608.8 1745.3 608.5 1753.5C608.2 1761.7 607.4 1778.1 606.8 1785C606.3 1791.9 605.3 1802.9 604.7 1802.9C604.2 1802.9 603.5 1791.9 603.1 1785C602.7 1778.1 601.9 1760.6 601.8 1753.5C601.7 1746.5 601.7 1738.4 602.2 1734.6Z" fill="#00FF00"/>
<path d="M569 1726.2L586.3 1726.2C586.3 1726.2 586 1768 585.8 1785C585.7 1802.1 585.5 1830.4 585.4 1848.1C585.3 1865.7 585.2 1896.4 585 1911.1C584.8 1925.8 584.4 1942.8 584.2 1953.1C583.9 1963.4 583.3 1984.6 583.3 1984.6L562.7 1984.6C562.7 1984.6 563 1963.4 563.2 1953.1C563.3 1942.8 563.6 1922.8 563.8 1911.1C564 1899.3 564.1 1880.8 564.4 1869.1C564.7 1857.3 565.5 1838.8 565.9 1827C566.3 1815.3 567 1795.3 567.4 1785C567.7 1774.7 568.4 1761.7 568.6 1753.5C568.8 1745.3 569 1726.2 569 1726.2Z" fill="#00FF80"/>
<path d="M621.1 1726.2L626.2 1726.2C626.2 1726.2 625.3 1751.4 624.7 1764C624.1 1776.7 622.7 1801.8 622 1816.5C621.2 1831.2 620 1854.4 619.5 1869.1C619 1883.8 618.7 1921.6 618.4 1921.6C618.1 1921.6 617.2 1883.8 617.4 1869.1C617.5 1854.4 618.9 1831.2 619.5 1816.5C620 1801.8 620.9 1776.7 621.1 1764C621.4 1751.4 621.1 1726.2 621.1 1726.2Z" fill="#00FF80"/>
<path d="M570.1 1726.2L582.1 1726.2C582.1 1726.2 582.7 1768 582.7 1785C582.7 1802.1 582.3 1833.3 582.1 1848.1C581.9 1862.8 581.5 1878.3 581.2 1890.1C580.9 1901.8 580.3 1924.4 580 1932.1C579.6 1939.7 579.1 1942.3 578.5 1944.7C577.9 1947 576.5 1949.5 575.8 1948.9C575 1948.3 574 1942 573.2 1940.5C572.4 1939 570.9 1939.6 570.1 1938.4C569.3 1937.2 567.9 1935.9 567.4 1932.1C566.9 1928.3 566.6 1919.9 566.5 1911.1C566.5 1902.3 566.7 1880.8 566.9 1869.1C567.1 1857.3 567.7 1838.8 568 1827C568.3 1815.3 568.7 1799.1 569 1785C569.3 1770.9 570.1 1726.2 570.1 1726.2Z" fill="#00FFFF"/>
<path d="M571.1 1726.2L580.6 1726.2C580.6 1726.2 581.2 1752.8 581.2 1764C581.2 1775.2 580.8 1794.3 580.6 1806C580.4 1817.8 579.8 1837.8 579.5 1848.1C579.2 1858.3 578.8 1872.1 578.5 1879.6C578.1 1887.1 577.5 1899.6 577 1901.6C576.6 1903.7 576 1895.9 575.3 1894.3C574.7 1892.7 572.9 1891.2 572.2 1890.1C571.4 1888.9 570.5 1890.3 570.1 1885.9C569.6 1881.5 569.1 1866.8 569 1858.6C568.9 1850.3 569.2 1837.3 569.5 1827C569.7 1816.7 570.5 1799.1 570.7 1785C570.9 1770.9 571.1 1726.2 571.1 1726.2Z" fill="#0080FF"/>
<path d="M572.2 1726.2L580 1726.2C580 1726.2 580.6 1754.3 580.6 1764C580.5 1773.7 580 1787.3 579.5 1795.5C579.1 1803.8 578 1817.4 577.4 1822.8C576.8 1828.3 575.9 1834.4 575.3 1834.4C574.8 1834.4 574 1828.3 573.7 1822.8C573.3 1817.4 573.1 1803.8 572.8 1795.5C572.6 1787.3 572.1 1773.7 572 1764C571.9 1754.3 572.2 1726.2 572.2 1726.2Z" fill="#0000FF"/>
<path d="M685.6 1726.2L724.5 1726.2C724.5 1726.2 724.7 1752.8 724.9 1764C725.2 1775.2 725.7 1794.3 726.2 1806C726.6 1817.8 727.8 1838.9 728.3 1848.1C728.8 1857.2 729.1 1869.7 729.7 1871.2C730.4 1872.6 732 1864.7 732.9 1858.6C733.8 1852.4 735.2 1837.3 736.1 1827C736.9 1816.7 738.3 1796.8 739.2 1785C740.1 1773.3 741.7 1751.2 742.4 1743C743 1734.8 743.8 1726.2 743.8 1726.2L750.8 1726.2C750.8 1726.2 750.4 1752.8 750.1 1764C749.8 1775.2 749.2 1794.3 748.7 1806C748.2 1817.8 747.1 1836.3 746.6 1848.1C746 1859.8 745 1878.3 744.5 1890.1C743.9 1901.8 743.1 1923.3 742.4 1932.1C741.6 1940.9 739.8 1948.2 739.2 1953.1C738.6 1957.9 738.7 1966.2 738.2 1966.7C737.6 1967.3 735.9 1960.4 735 1957.3C734.1 1954.2 732.6 1947 731.8 1944.7C731.1 1942.3 730.5 1939.9 729.7 1940.5C729 1941.1 727.6 1948 726.6 1948.9C725.6 1949.8 723.4 1944.7 722.4 1946.8C721.4 1948.8 720 1958.3 719.2 1963.6C718.5 1968.9 717.1 1984.6 717.1 1984.6L673 1984.6C673 1984.6 675 1977.7 676.2 1976.2C677.4 1974.7 680.4 1980.3 681.4 1974.1C682.5 1967.9 683.1 1946.8 683.5 1932.1C684 1917.4 684.4 1886.7 684.6 1869.1C684.8 1851.4 684.9 1826 685 1806C685.1 1786 685.6 1726.2 685.6 1726.2Z" fill="#FF8000"/>
<path d="M686.3 1726.2L722.8 1726.2C722.8 1726.2 723.1 1752.8 723.2 1764C723.4 1775.2 724 1794.3 724.1 1806C724.1 1817.8 723.7 1839.2 723.4 1848.1C723.2 1856.9 722.8 1863.2 722.4 1869.1C722 1874.9 720.7 1885.4 720.3 1890.1C719.9 1894.8 720.1 1900.3 719.2 1902.7C718.4 1905 715.2 1904.2 714 1906.9C712.8 1909.5 711.6 1916.6 710.8 1921.6C710.1 1926.6 709.3 1936.7 708.7 1942.6C708.2 1948.5 706.5 1959.2 706.6 1963.6C706.8 1968 709.4 1971.2 709.8 1974.1C710.2 1977 709.4 1984.6 709.4 1984.6L691.9 1984.6C691.9 1984.6 692.8 1969.5 693.4 1963.6C694 1957.7 695.2 1948.5 696.1 1942.6C697.1 1936.7 699.2 1926.6 700.3 1921.6C701.5 1916.6 703.7 1911.3 704.5 1906.9C705.4 1902.5 706.2 1895.4 706.6 1890.1C707.1 1884.8 707.7 1874.9 707.7 1869.1C707.7 1863.2 707.1 1854.5 706.6 1848.1C706.2 1841.6 705.3 1830.2 704.5 1822.8C703.8 1815.5 702.1 1802.3 701.4 1795.5C700.7 1788.8 699.9 1773.1 699.3 1774.5C698.7 1776 697.8 1798.7 697.2 1806C696.6 1813.4 695.7 1824 695.1 1827C694.4 1830.1 693.2 1829.6 692.6 1828.1C691.9 1826.6 691 1822.6 690.5 1816.5C689.9 1810.5 689.3 1793.8 688.8 1785C688.3 1776.2 687.5 1761.7 687.1 1753.5C686.7 1745.3 686.3 1726.2 686.3 1726.2Z" fill="#FFFF00"/>
<path d="M695.7 1726.2L700.3 1726.2L699.3 1743L697.6 1757.7L696.3 1743Z" fill="#00FF00"/>
<path d="M703.5 1726.2L721.3 1726.2C721.3 1726.2 721.8 1752.8 722 1764C722.1 1775.2 722.5 1795.7 722.4 1806C722.3 1816.3 721.8 1830.2 721.3 1837.5C720.9 1844.9 719.8 1853.8 719.2 1858.6C718.7 1863.3 717.8 1870 717.1 1871.2C716.5 1872.3 715.1 1869.6 714.4 1867C713.7 1864.3 712.6 1857.8 711.9 1852.3C711.2 1846.7 710 1835 709.4 1827C708.7 1819.1 707.8 1804.4 707.3 1795.5C706.7 1786.7 706 1771.4 705.6 1764C705.2 1756.7 704.6 1748.3 704.3 1743C704 1737.7 703.5 1726.2 703.5 1726.2Z" fill="#00FF00"/>
<path d="M706.6 1726.2L719.9 1726.2C719.9 1726.2 720.3 1754.3 720.3 1764C720.3 1773.7 720.1 1788.2 719.9 1795.5C719.6 1802.9 719.1 1810.4 718.6 1816.5C718.1 1822.7 717.1 1837.3 716.5 1839.6C715.9 1842 715.1 1837.5 714.4 1833.3C713.8 1829.2 712.5 1817 711.9 1810.2C711.2 1803.5 710.3 1793 709.8 1785C709.3 1777.1 708.6 1761.7 708.1 1753.5C707.7 1745.3 706.6 1726.2 706.6 1726.2Z" fill="#00FF80"/>
<path d="M708.7 1726.2L718.6 1726.2C718.6 1726.2 719.1 1754.3 719 1764C719 1773.7 718.5 1788.2 718.2 1795.5C717.8 1802.9 717 1812.4 716.5 1816.5C716.1 1820.7 715.5 1825.8 715 1824.9C714.6 1824.1 714.1 1815.8 713.6 1810.2C713.1 1804.6 712 1793 711.5 1785C710.9 1777.1 710.2 1761.7 709.8 1753.5C709.4 1745.3 708.7 1726.2 708.7 1726.2Z" fill="#00FFFF"/>
<path d="M710.2 1726.2L717.8 1726.2C717.8 1726.2 718.3 1746.2 718.2 1753.5C718.1 1760.9 717.5 1773.3 717.1 1778.7C716.8 1784.2 716.1 1792.4 715.7 1792.4C715.2 1792.4 714.5 1784.2 714 1778.7C713.5 1773.3 712.8 1760.9 712.3 1753.5C711.8 1746.2 710.2 1726.2 710.2 1726.2Z" fill="#0080FF"/>
<path d="M764.4 1726.2L849.5 1726.2C849.5 1726.2 850.1 1768 850.1 1785C850.1 1802.1 849.7 1830.4 849.5 1848.1C849.3 1865.7 848.4 1896.4 848.4 1911.1C848.4 1925.8 849.1 1944.9 849.5 1953.1C849.9 1961.3 850.4 1967 851.6 1969.9C852.8 1972.8 856.6 1972 857.9 1974.1C859.2 1976.2 861.1 1984.6 861.1 1984.6L764.4 1984.6C764.4 1984.6 766.5 1963.4 767.6 1953.1C768.6 1942.8 771 1922.8 771.8 1911.1C772.5 1899.3 772.8 1880.8 772.8 1869.1C772.8 1857.3 772.2 1838.8 771.8 1827C771.3 1815.3 770.4 1796.2 769.7 1785C768.9 1773.8 767.2 1755.4 766.5 1747.2C765.8 1739 764.4 1726.2 764.4 1726.2Z" fill="#FF8000"/>
<path d="M793.8 1726.2L809.6 1726.2C809.6 1726.2 810.1 1752.8 810.2 1764C810.4 1775.2 810.7 1797.2 810.6 1806C810.5 1814.9 809.9 1818.2 809.6 1827C809.3 1835.9 808.8 1857.3 808.5 1869.1C808.2 1880.8 807.8 1904.3 807.5 1911.1C807.2 1917.8 807.2 1918.8 806.4 1917.4C805.7 1915.9 803.3 1907.3 802.2 1900.6C801.2 1893.8 799.9 1879.4 799.1 1869.1C798.3 1858.8 796.9 1838.8 796.3 1827C795.8 1815.3 795.2 1799.1 794.9 1785C794.5 1770.9 793.8 1726.2 793.8 1726.2Z" fill="#FF0000"/>
<path d="M814.4 1726.2L821.6 1726.2C821.6 1726.2 821.2 1734.9 820.7 1736.7C820.2 1738.5 818.6 1736.5 818 1738.8C817.4 1741.2 816.9 1753.5 816.5 1753.5C816.1 1753.5 815.5 1742.6 815.3 1738.8C815 1735 814.4 1726.2 814.4 1726.2Z" fill="#FF0000"/>
<path d="M770.3 1726.2L790.7 1726.2C790.7 1726.2 791.1 1752.8 791.3 1764C791.5 1775.2 791.8 1794.3 792.1 1806C792.5 1817.8 793.3 1836.3 793.8 1848.1C794.4 1859.8 795.2 1879.8 795.9 1890.1C796.7 1900.4 798.2 1914.2 799.1 1921.6C800 1928.9 801.3 1937.9 802.2 1942.6C803.1 1947.3 804.5 1956.7 805.4 1955.2C806.3 1953.7 807.9 1939.7 808.5 1932.1C809.2 1924.4 809.9 1909.4 810.2 1900.6C810.6 1891.7 810.7 1877.9 811.1 1869.1C811.4 1860.2 812.1 1844.9 812.7 1837.5C813.4 1830.2 815 1820.9 815.9 1816.5C816.8 1812.1 818 1810.4 819 1806C820.1 1801.6 822.1 1790.9 823.2 1785C824.4 1779.1 826.4 1769.9 827.4 1764C828.5 1758.1 830 1748.3 830.6 1743C831.2 1737.7 831.6 1726.2 831.6 1726.2L842.1 1726.2C842.1 1726.2 842.6 1768 842.6 1785C842.6 1802.1 842.3 1830.4 842.1 1848.1C841.9 1865.7 841.2 1896.4 841.1 1911.1C841 1925.8 841.6 1942.8 841.7 1953.1C841.9 1963.4 842.1 1984.6 842.1 1984.6L771.8 1984.6C771.8 1984.6 774.2 1960.4 774.9 1953.1C775.7 1945.7 776.6 1940.9 777 1932.1C777.5 1923.3 778 1901.8 778.1 1890.1C778.1 1878.3 777.7 1859.8 777.4 1848.1C777.1 1836.3 776.4 1816.3 776 1806C775.6 1795.7 775 1779.5 774.5 1774.5C774 1769.5 772.9 1774.1 772.4 1770.3C771.9 1766.5 771.4 1753.4 771.1 1747.2C770.8 1741 770.3 1726.2 770.3 1726.2Z" fill="#FFFF00"/>
<path d="M782.9 1726.2L789.6 1726.2C789.6 1726.2 789.9 1752.8 790 1764C790.2 1775.2 790.4 1794.3 790.7 1806C791 1817.8 791.6 1836.3 792.1 1848.1C792.6 1859.8 793.6 1879.8 794.2 1890.1C794.9 1900.4 796.2 1913.9 797 1921.6C797.8 1929.2 799.3 1940 800.1 1944.7C800.9 1949.4 801.8 1951.7 802.6 1955.2C803.5 1958.7 805.4 1965.8 806.4 1969.9C807.5 1974 810.2 1984.6 810.2 1984.6L778.7 1984.6C778.7 1984.6 779.2 1960.4 779.5 1953.1C779.8 1945.7 780.5 1940.9 780.8 1932.1C781.1 1923.3 781.6 1901.8 781.6 1890.1C781.7 1878.3 781.3 1859.8 781.2 1848.1C781.1 1836.3 780.7 1817.8 780.8 1806C780.9 1794.3 781.3 1775.2 781.6 1764C781.9 1752.8 782.9 1726.2 782.9 1726.2Z" fill="#00FF00"/>
<path d="M792.8 1932.1C793.7 1932.7 794.9 1939.1 795.9 1942.6C797 1946.1 798.9 1954.9 800.1 1957.3C801.3 1959.6 803.4 1957.6 804.3 1959.4C805.2 1961.2 806 1966.4 806.4 1969.9C806.9 1973.4 807.5 1984.6 807.5 1984.6L798 1984.6C798 1984.6 797.6 1972.8 797 1969.9C796.4 1967 794.7 1965.9 793.8 1963.6C792.9 1961.2 791.3 1956.6 790.7 1953.1C790.1 1949.6 789.3 1941.3 789.6 1938.4C789.9 1935.4 791.9 1931.5 792.8 1932.1Z" fill="#FFFF00"/>
<path d="M784.4 1726.2L787.9 1726.2C787.9 1726.2 788.2 1745.3 788.2 1753.5C788.1 1761.7 787.8 1779.1 787.5 1785C787.3 1790.9 786.8 1797 786.5 1795.5C786.2 1794.1 785.7 1781.3 785.4 1774.5C785.2 1767.8 784.9 1754 784.8 1747.2C784.6 1740.4 784.4 1726.2 784.4 1726.2Z" fill="#00FF80"/>
<path d="M781.2 1976.2L785.4 1974.1L789.6 1977.3L791.7 1984.6L779.1 1984.6Z" fill="#00FF80"/>
<path d="M831.6 1726.2L840.5 1726.2C840.5 1726.2 841.1 1768 841.1 1785C841.1 1802.1 840.7 1830.4 840.5 1848.1C840.3 1865.7 839.7 1896.4 839.6 1911.1C839.6 1925.8 839.9 1942.8 840 1953.1C840.2 1963.4 840.5 1984.6 840.5 1984.6L809.6 1984.6C809.6 1984.6 810 1961.9 810.2 1953.1C810.4 1944.3 810.8 1930.4 811.1 1921.6C811.3 1912.8 811.8 1898.9 812.3 1890.1C812.8 1881.2 813.6 1866.8 814.4 1858.6C815.2 1850.3 816.9 1838 818 1831.2C819.1 1824.5 821 1816.1 822.2 1810.2C823.4 1804.4 825.4 1795.7 826.4 1789.2C827.4 1782.8 828.9 1770.5 829.5 1764C830.2 1757.5 830.9 1748.3 831.2 1743C831.5 1737.7 831.6 1726.2 831.6 1726.2Z" fill="#00FF00"/>
<path d="M833.3 1726.2L839.6 1726.2C839.6 1726.2 840 1768 840 1785C840 1802.1 839.8 1830.4 839.6 1848.1C839.4 1865.7 838.9 1896.4 838.8 1911.1C838.7 1925.8 838.9 1942.8 839 1953.1C839.1 1963.4 839.2 1984.6 839.2 1984.6L811.1 1984.6C811.1 1984.6 811.6 1952.9 811.9 1942.6C812.2 1932.3 812.7 1919.9 813.2 1911.1C813.6 1902.3 814.4 1888.4 815.3 1879.6C816.1 1870.7 817.9 1856 819 1848.1C820.2 1840.1 822.3 1829.3 823.7 1822.8C825 1816.4 827.4 1808.6 828.5 1801.8C829.6 1795.1 831 1782.2 831.6 1774.5C832.3 1766.9 832.7 1754 832.9 1747.2C833.1 1740.4 833.3 1726.2 833.3 1726.2Z" fill="#00FF80"/>
<path d="M833.7 1817.6C834.8 1817.3 837.2 1816.5 837.9 1820.7C838.6 1825 838.8 1835.4 838.8 1848.1C838.8 1860.7 838.1 1896.4 837.9 1911.1C837.8 1925.8 837.9 1942.8 837.9 1953.1C838 1963.4 838.4 1984.6 838.4 1984.6L812.7 1984.6C812.7 1984.6 813.2 1952.9 813.6 1942.6C813.9 1932.3 814.5 1919.9 815.3 1911.1C816 1902.3 817.6 1886.9 818.6 1879.6C819.6 1872.2 821.1 1864.1 822.2 1858.6C823.3 1853 825.2 1844.6 826.4 1839.6C827.6 1834.6 829.6 1825.9 830.6 1822.8C831.6 1819.8 832.7 1817.9 833.7 1817.6Z" fill="#00FFFF"/>
<path d="M832.7 1843.8C833.4 1844.1 834.8 1847.3 835.4 1852.3C836 1857.3 836.7 1871.3 836.9 1879.6C837.1 1887.8 836.8 1902.3 836.7 1911.1C836.6 1919.9 836.5 1935.2 836.3 1942.6C836 1949.9 835.3 1957.7 834.8 1963.6C834.3 1969.5 832.7 1984.6 832.7 1984.6L815.3 1984.6C815.3 1984.6 815.7 1961.9 816.1 1953.1C816.5 1944.3 817.3 1928.9 818 1921.6C818.7 1914.2 820.3 1905.6 821.1 1900.6C822 1895.6 823.4 1890.9 824.3 1885.9C825.2 1880.9 826.6 1869.9 827.4 1864.9C828.3 1859.9 829.9 1853.1 830.6 1850.2C831.3 1847.2 832 1843.6 832.7 1843.8Z" fill="#0080FF"/>
<path d="M831.6 1868.6C832.3 1868.9 833.6 1873 834.2 1877.5C834.7 1881.9 835.2 1892.9 835.4 1900.6C835.7 1908.2 836 1924.7 835.8 1932.1C835.7 1939.4 834.7 1949.3 834.2 1953.1C833.6 1956.9 832.2 1957 831.6 1959.4C831.1 1961.7 830.4 1966.4 830 1969.9C829.5 1973.4 828.5 1984.6 828.5 1984.6L819 1984.6C819 1984.6 819.6 1961 820.1 1953.1C820.5 1945.2 821.4 1933.8 822.2 1927.9C822.9 1922 824.5 1916.4 825.3 1911.1C826.1 1905.8 827.3 1895.1 827.9 1890.1C828.4 1885.1 829 1878.4 829.5 1875.4C830.1 1872.4 831 1868.3 831.6 1868.6Z" fill="#0000FF"/>
<path d="M871.6 1934.2L873.2 1942.6L873.7 1984.6L871.1 1984.6Z" fill="#FF8000"/>
</g>
<clipPath id="cle"><rect x="99.8" y="1459.7" width="776.7" height="255.5"/></clipPath>
<path d="M119 1625.2H875.5" stroke="#000" stroke-width="2.3" stroke-dasharray="12.3 12.67" fill="none"/>
<path d="M101.3 1473.5 L104.5 1477.7 L107.6 1480.2 L110.8 1483.4 L113.9 1487.6 L116 1492.8 L118.1 1499.1 L120.6 1502.3 L122.3 1509.6 L124 1517 L126.1 1520.5 L128.2 1521.8 L129.7 1525.4 L131.1 1534.8 L132.8 1547.4 L134.5 1557.9 L135.5 1561.1 L137 1555.8 L139.1 1551.6 L141.6 1549.5 L143.7 1548.5 L145.4 1543.2 L146.9 1545.3 L148.6 1555.8 L150 1572.6 L151.7 1591.6 L153.8 1606.3 L155.9 1617.8 L158 1625.2 L160.1 1633.6 L161.2 1635 L162.6 1631.5 L164.3 1612.6 L166 1585.3 L167.5 1564.2 L169.6 1548.5 L171.7 1539 L173.8 1528.5 L175.9 1517 L177.6 1511.7 L179 1513.8 L180.7 1524.3 L182.8 1536.9 L184.7 1544.3 L186.8 1545.3 L189.1 1546.4 L191.2 1550.6 L193.3 1554.2 L194.8 1554.8 L195.8 1549.5 L197.1 1549.1 L198.4 1560 L200 1574.7 L202.1 1587.4 L204.2 1596.8 L206.3 1596.4 L208.4 1594.7 L210.1 1591.6 L211.6 1583.2 L213.1 1568.4 L214.7 1553.7 L216.8 1536.9 L218.5 1518 L220.4 1499.1 L222.1 1486.5 L224.2 1478.1 L226.9 1471.8 L229.9 1467.6 L232.6 1465.1 L234.7 1463.4 L236.8 1465.5 L239.5 1469.7 L242.1 1479.2 L244.6 1486.5 L247.3 1499.1 L250 1513.8 L252.6 1530.6 L254.2 1549.5 L255.7 1568.4 L256.3 1574.7 L258.4 1570.5 L261 1569.5 L263.1 1569.1 L264.7 1570.5 L266.8 1578.9 L268.9 1589.5 L271.1 1595.8 L272.5 1594.7 L274 1587.4 L275.7 1576.8 L277.8 1564.2 L279.9 1555.8 L282 1539 L284.1 1524.3 L286.2 1511.7 L287.9 1497 L290 1488.6 L292.1 1485.5 L294.2 1476 L296.3 1466.6 L297.7 1463.8 L299.8 1463.4 L302.6 1463 L304.7 1467.6 L307.6 1470.8 L310.3 1475 L313.1 1477.7 L315.6 1477.7 L317.7 1478.1 L319.8 1483.4 L321.9 1489.7 L324 1494.5 L326.1 1493.9 L328.6 1492.4 L331.3 1491.8 L334.5 1493.4 L336.6 1489.7 L338.3 1486.1 L339.7 1487.6 L341.2 1493.9 L342.9 1498.7 L345 1499.5 L346.7 1502.3 L348.2 1509.6 L349.6 1522.2 L350.9 1539 L352.4 1560 L353.4 1565.9 L355.1 1557.9 L356.6 1555.8 L358 1559 L359.3 1568.4 L360.8 1575.8 L362.2 1578.9 L363.9 1575.8 L365.6 1566.3 L367.5 1564.2 L368.7 1568.4 L370.2 1581.1 L371.9 1591.6 L373.4 1597.9 L375.5 1599.5 L377.6 1602.1 L379 1614.7 L380.3 1631.5 L381.8 1648.3 L383.2 1656.7 L384.5 1648.3 L385.8 1629.4 L387 1618.9 L389.1 1618.9 L391.2 1620.5 L393.3 1627.3 L395.4 1635.7 L397.5 1648.3 L399.6 1665.1 L401.3 1680.8 L403.8 1679.4 L407 1674.5 L409.1 1665.1 L410.8 1650.4 L412.2 1639.9 L414.3 1635.7 L417.5 1630.4 L419.6 1621 L421.7 1608.4 L423.8 1603.1 L425.3 1608.4 L427.4 1616.8 L429.5 1625.2 L431.6 1633.6 L434.3 1636.7 L436.4 1640.9 L437.9 1645.8 L438.7 1623.1 L439.5 1591.6 L440.6 1560 L441.6 1534.8 L443.3 1509.6 L445.4 1488.6 L447.5 1477.1 L450 1471.8 L453.2 1470.1 L456.3 1470.8 L459.5 1472.9 L462.6 1475.6 L465.2 1477.7 L467.9 1475 L471.1 1471.4 L474.2 1469.7 L477.4 1469.3 L480.5 1469.3 L482.6 1471.8 L484.7 1480.2 L486.2 1490.7 L487.9 1501.2 L490 1502.3 L492.1 1503.3 L493.7 1507.5 L495.1 1509.6 L496.6 1518 L498 1521.8 L499.7 1518 L501.4 1511.7 L503.5 1507.5 L506 1506.5 L508.5 1505.8 L511.3 1506.5 L513.4 1507.5 L515.5 1512.8 L517.6 1516.6 L519 1517 L521.1 1513.8 L522.8 1509.6 L524.9 1502.3 L527 1494.9 L529.1 1488.6 L531.6 1484 L534.4 1481.3 L537.5 1479.8 L540 1477.1 L542.8 1475 L545.5 1475.6 L548 1477.1 L550.5 1477.7 L552.6 1479.8 L554.3 1484.4 L556 1493.9 L557.5 1509.6 L558.9 1530.6 L560.6 1555.8 L562.3 1581.1 L564.4 1606.3 L566.5 1629.4 L568 1644.1 L569.5 1654.6 L571.1 1667.2 L572.8 1675.2 L574.3 1677.7 L575.8 1674.5 L577.4 1665.1 L579.1 1652.5 L580.6 1637.8 L582.1 1623.1 L583.7 1610.5 L585.4 1605.2 L586.9 1589.5 L588.4 1570.5 L590 1555.8 L591.7 1541.1 L593.2 1528.5 L595.3 1519.1 L597.4 1516.3 L599.5 1517 L601.2 1520.1 L602.6 1522.2 L604.3 1519.7 L605.8 1519.1 L607.3 1522.2 L608.9 1532.7 L610.6 1547.4 L612.1 1564.2 L613.6 1574.7 L615.3 1580 L616.9 1585.3 L618.8 1593.7 L620.5 1598.5 L622 1595.8 L623.7 1581.1 L625.8 1560 L627.9 1543.2 L629.5 1533.8 L631.4 1531.7 L633.7 1530.6 L635.2 1524.3 L636.7 1511.7 L638.4 1500.2 L640 1496.6 L642.1 1494.5 L644.2 1491.8 L646.8 1486.5 L648.9 1479.2 L651.4 1472.9 L654.1 1470.1 L656.8 1469.3 L659.8 1469.7 L662.5 1471.8 L665.3 1476 L667.4 1478.7 L669.5 1477.1 L672 1475 L674.1 1475.6 L676.6 1476.4 L679.3 1476.4 L681.4 1477.1 L682.9 1480.2 L684.2 1490.7 L685.6 1501.2 L687.1 1507.5 L688.8 1512.1 L690.9 1511.7 L693 1510 L695.1 1512.8 L697.2 1514.2 L698.9 1510.7 L700.8 1502.3 L702.4 1499.5 L704.1 1503.3 L705.6 1515.9 L707.3 1534.8 L709.4 1551.6 L711.9 1566.3 L714 1575.8 L715.7 1580 L717.1 1578.9 L718.6 1568.4 L720.3 1549.5 L722.4 1526.4 L724.9 1505.4 L727.6 1491.8 L729.7 1486.5 L731.8 1488.2 L734.6 1493.9 L736.7 1500.2 L738.8 1502.9 L740.9 1500.2 L743 1501.6 L745.1 1502.9 L747.6 1499.1 L749.7 1490.7 L752.2 1481.3 L755 1475 L757.7 1470.8 L760.2 1467.6 L761.9 1467.2 L764.4 1469.7 L767.6 1475 L770.3 1483.4 L772.8 1491.8 L775.3 1500.2 L777.4 1510.7 L779.1 1521.2 L780.8 1539 L782.3 1555.8 L783.7 1572.6 L785 1584.2 L786.1 1586.9 L787.5 1578.9 L789.2 1555.8 L791.3 1528.5 L793.4 1505.4 L795.9 1488.6 L798.4 1478.1 L801.2 1472.2 L803.3 1470.8 L805.4 1472.2 L807.5 1475 L808.5 1486.5 L810.2 1507.5 L811.7 1524.3 L813.2 1534.8 L814.8 1543.2 L816.5 1549.5 L818 1562.1 L820.1 1576.8 L822.2 1593.7 L824.3 1612.6 L826.4 1629.4 L828.5 1644.1 L830.6 1656.7 L832.1 1663.6 L833.7 1661.9 L835.8 1654.6 L837.9 1642 L839.2 1623.1 L840 1602.1 L841.1 1576.8 L842.1 1553.7 L843.8 1528.5 L845.9 1507.5 L848.4 1492.8 L851 1483.4 L853.7 1478.1 L856.4 1476.4 L859.4 1476.4 L862.1 1475.6 L864.8 1478.1 L867.4 1483.4 L869.5 1488.2 L871.1 1490.3 L873.2 1488.6 L875.3 1486.5" stroke="#0000FF" stroke-width="2.35" fill="none" stroke-linejoin="round" stroke-linecap="round" clip-path="url(#cle)"/>
<path d="M100.8 1459.7H875.5V1715.2H100.8ZM100.8 1449.1V1994M875.5 1449.1V1994M90.2 1728H886.1M90.2 1983.4H886.1M100.8 1459.7v-10.6M100.8 1715.2v10.6M100.8 1983.4v10.6M165.4 1459.7v-6M165.4 1715.2v6M165.4 1983.4v6M229.9 1459.7v-10.6M229.9 1715.2v10.6M229.9 1983.4v10.6M294.5 1459.7v-6M294.5 1715.2v6M294.5 1983.4v6M359 1459.7v-10.6M359 1715.2v10.6M359 1983.4v10.6M423.6 1459.7v-6M423.6 1715.2v6M423.6 1983.4v6M488.2 1459.7v-10.6M488.2 1715.2v10.6M488.2 1983.4v10.6M552.7 1459.7v-6M552.7 1715.2v6M552.7 1983.4v6M617.3 1459.7v-10.6M617.3 1715.2v10.6M617.3 1983.4v10.6M681.8 1459.7v-6M681.8 1715.2v6M681.8 1983.4v6M746.4 1459.7v-10.6M746.4 1715.2v10.6M746.4 1983.4v10.6M810.9 1459.7v-6M810.9 1715.2v6M810.9 1983.4v6M875.5 1459.7v-10.6M875.5 1715.2v10.6M875.5 1983.4v10.6M100.8 1709.5h-6M875.5 1709.5h6M100.8 1692.6h-10.6M875.5 1692.6h10.6M100.8 1675.8h-6M875.5 1675.8h6M100.8 1658.9h-10.6M875.5 1658.9h10.6M100.8 1642h-6M875.5 1642h6M100.8 1625.2h-10.6M875.5 1625.2h10.6M100.8 1608.4h-6M875.5 1608.4h6M100.8 1591.5h-10.6M875.5 1591.5h10.6M100.8 1574.7h-6M875.5 1574.7h6M100.8 1557.8h-10.6M875.5 1557.8h10.6M100.8 1541h-6M875.5 1541h6M100.8 1524.1h-10.6M875.5 1524.1h10.6M100.8 1507.2h-6M875.5 1507.2h6M100.8 1490.4h-10.6M875.5 1490.4h10.6M100.8 1473.5h-6M875.5 1473.5h6M100.8 1957.9h-6M875.5 1957.9h6M100.8 1932.3h-10.6M875.5 1932.3h10.6M100.8 1906.8h-6M875.5 1906.8h6M100.8 1881.2h-10.6M875.5 1881.2h10.6M100.8 1855.7h-6M875.5 1855.7h6M100.8 1830.2h-10.6M875.5 1830.2h10.6M100.8 1804.6h-6M875.5 1804.6h6M100.8 1779.1h-10.6M875.5 1779.1h10.6M100.8 1753.5h-6M875.5 1753.5h6" stroke="#000" stroke-width="1.7" fill="none" stroke-linecap="butt"/>
<g font-size="20.6" text-anchor="end">
<text x="82.2" y="1495.7">0,8</text>
<text x="82.2" y="1529.4">0,6</text>
<text x="82.2" y="1563.1">0,4</text>
<text x="82.2" y="1596.8">0,2</text>
<text x="82.2" y="1630.5">0,0</text>
<text x="82.2" y="1664.2">-0,2</text>
<text x="82.2" y="1697.9">-0,4</text>
<text x="82.2" y="1988.7">10</text>
<text x="82.2" y="1937.6">20</text>
<text x="82.2" y="1886.5">30</text>
<text x="82.2" y="1835.5">40</text>
<text x="82.2" y="1784.4">50</text>
<text x="82.2" y="1733.3">60</text>
</g>
<g font-size="20.6" text-anchor="middle">
<text x="100.8" y="2016.2">2016,0</text>
<text x="229.9" y="2016.2">2016,5</text>
<text x="359" y="2016.2">2017,0</text>
<text x="488.2" y="2016.2">2017,5</text>
<text x="617.3" y="2016.2">2018,0</text>
<text x="746.4" y="2016.2">2018,5</text>
<text x="875.5" y="2016.2">2019,0</text>
</g>
<text x="488.1" y="2062.4" font-size="32" text-anchor="middle">Year</text>
<text transform="translate(26.8 1678.9) rotate(-90)" font-size="31.8">Intensity <tspan font-size="24" dx="0.5">σ</tspan></text>
<text transform="translate(32.8 1929.3) rotate(-90)" font-size="31.8">Scale <tspan font-size="24" dx="-1.2">ν</tspan></text>
<text x="888" y="1601" font-size="32.5">(e)</text>
<rect x="884.2" y="1726.5" width="38.8" height="26.5" fill="#000000"/>
<rect x="884.2" y="1752.7" width="38.8" height="26.5" fill="#0000FF"/>
<rect x="884.2" y="1778.9" width="38.8" height="26.5" fill="#0080FF"/>
<rect x="884.2" y="1805.1" width="38.8" height="26.5" fill="#00FFFF"/>
<rect x="884.2" y="1831.3" width="38.8" height="26.5" fill="#00FF80"/>
<rect x="884.2" y="1857.6" width="38.8" height="26.5" fill="#00FF00"/>
<rect x="884.2" y="1883.8" width="38.8" height="26.5" fill="#FFFF00"/>
<rect x="884.2" y="1910" width="38.8" height="26.5" fill="#FF8000"/>
<rect x="884.2" y="1936.2" width="38.8" height="26.2" fill="#FF0000"/>
<g font-size="14" letter-spacing="0.45">
<text x="929" y="1758.4">-0,54</text>
<text x="929" y="1784.6">-0,35</text>
<text x="929" y="1810.8">-0,16</text>
<text x="929" y="1837">0,030</text>
<text x="929" y="1863.3">0,22</text>
<text x="929" y="1889.5">0,41</text>
<text x="929" y="1915.7">0,60</text>
<text x="929" y="1941.9">0,79</text>
<text x="929" y="1968.1">0,98</text>
</g>
</g>
<g id="panel-f">
<clipPath id="chf"><rect x="1133.1" y="1727.6" width="774.5" height="255.4"/></clipPath>
<g clip-path="url(#chf)">
<rect x="1133.1" y="1727.6" width="774.5" height="255.4" fill="#00FF00"/>
<path d="M1148 1725.2L1203.7 1725.2C1203.7 1725.2 1204.1 1752.7 1204.7 1764C1205.3 1775.3 1207 1795.7 1207.9 1806C1208.8 1816.3 1210.3 1828.7 1211 1837.5C1211.8 1846.4 1213.1 1863.2 1213.1 1869.1C1213.1 1874.9 1210.6 1878.7 1211 1879.6C1211.5 1880.4 1215.1 1878.3 1216.3 1875.4C1217.5 1872.4 1218.4 1862.4 1219.4 1858.6C1220.5 1854.7 1222.5 1848.9 1223.6 1848.1C1224.8 1847.2 1226.7 1849.3 1227.8 1852.3C1229 1855.2 1230.9 1863.8 1232 1869.1C1233.2 1874.4 1234.9 1884.2 1236.2 1890.1C1237.6 1895.9 1240 1905.2 1241.5 1911.1C1243 1917 1245.4 1926.8 1246.7 1932.1C1248.1 1937.4 1250.1 1944.5 1250.9 1948.9C1251.8 1953.3 1252.5 1958.4 1253.1 1963.6C1253.6 1968.7 1255.2 1985.7 1255.2 1985.7L1160.6 1985.7C1160.6 1985.7 1160.5 1962.1 1160.2 1953.1C1159.9 1944.1 1159 1930.4 1158.5 1921.6C1158 1912.8 1157 1898.9 1156.4 1890.1C1155.8 1881.2 1155 1867.4 1154.3 1858.6C1153.7 1849.7 1152.4 1837.3 1151.8 1827C1151.1 1816.7 1150.2 1795.3 1149.7 1785C1149.2 1774.7 1148.7 1761.9 1148.4 1753.5C1148.2 1745.1 1148 1725.2 1148 1725.2Z" fill="#00FF80"/>
<path d="M1206.4 1945.7C1207.4 1945.7 1209.2 1949.7 1210 1953.1C1210.8 1956.5 1211.6 1965.3 1212.1 1969.9C1212.5 1974.5 1213.1 1985.7 1213.1 1985.7L1200.5 1985.7C1200.5 1985.7 1201.2 1974.5 1201.6 1969.9C1201.9 1965.3 1202.4 1956.5 1203.1 1953.1C1203.7 1949.7 1205.4 1945.7 1206.4 1945.7Z" fill="#00FF00"/>
<path d="M1149.7 1725.2L1172.2 1725.2C1172.2 1725.2 1171.8 1745.1 1171.5 1753.5C1171.2 1761.9 1170.4 1776.2 1170.1 1785C1169.7 1793.8 1169.3 1807.7 1169 1816.5C1168.7 1825.4 1168.3 1839.2 1168 1848.1C1167.7 1856.9 1166.6 1874.6 1166.9 1879.6C1167.2 1884.6 1168.7 1882.9 1170.1 1883.8C1171.4 1884.6 1174.9 1883.5 1176.4 1885.9C1177.8 1888.2 1179.4 1896.5 1180.6 1900.6C1181.7 1904.7 1183.7 1912.3 1184.8 1915.3C1185.8 1918.2 1186.9 1922.8 1187.9 1921.6C1189 1920.4 1191.1 1909.2 1192.1 1906.9C1193.2 1904.5 1194.5 1903.3 1195.3 1904.8C1196 1906.2 1196.8 1913.6 1197.4 1917.4C1198 1921.2 1199 1927.1 1199.5 1932.1C1199.9 1937.1 1201 1948.7 1200.5 1953.1C1200.1 1957.5 1197.8 1960.7 1196.3 1963.6C1194.9 1966.5 1191.1 1971 1190 1974.1C1188.9 1977.2 1188.3 1985.7 1188.3 1985.7L1163.8 1985.7C1163.8 1985.7 1163.3 1962.1 1163.1 1953.1C1162.9 1944.1 1162.5 1930.4 1162.3 1921.6C1162.1 1912.8 1161.9 1898.9 1161.7 1890.1C1161.4 1881.2 1161.1 1867.4 1160.6 1858.6C1160.2 1849.7 1159.2 1835.9 1158.5 1827C1157.8 1818.2 1156.2 1804.4 1155.4 1795.5C1154.5 1786.7 1152.9 1771.4 1152.2 1764C1151.5 1756.7 1150.9 1748.4 1150.5 1743C1150.2 1737.6 1149.7 1725.2 1149.7 1725.2Z" fill="#00FFFF"/>
<path d="M1182 1725.2L1200.1 1725.2C1200.1 1725.2 1199.7 1752.7 1199.5 1764C1199.3 1775.3 1198.8 1794.3 1198.8 1806C1198.8 1817.8 1199.5 1838.6 1199.5 1848.1C1199.4 1857.5 1198.9 1868 1198.4 1873.3C1197.9 1878.6 1196.6 1882 1195.9 1885.9C1195.2 1889.7 1194 1896.5 1193.2 1900.6C1192.4 1904.7 1190.8 1912.3 1190 1915.3C1189.2 1918.2 1188.2 1922.2 1187.5 1921.6C1186.8 1921 1185.4 1917 1184.8 1911.1C1184.2 1905.2 1183.6 1889.9 1183.3 1879.6C1183 1869.3 1182.8 1850.8 1182.7 1837.5C1182.5 1824.3 1182.1 1800.8 1182 1785C1182 1769.3 1182 1725.2 1182 1725.2Z" fill="#00FFFF"/>
<path d="M1228.9 1856.5C1229.4 1857 1230.3 1864.4 1231 1869.1C1231.7 1873.8 1233.1 1884.2 1234.1 1890.1C1235.2 1895.9 1237.2 1905.8 1238.3 1911.1C1239.5 1916.4 1241.5 1923.5 1242.5 1927.9C1243.6 1932.3 1245.1 1937.6 1245.7 1942.6C1246.3 1947.6 1247 1957.6 1247.2 1963.6C1247.3 1969.6 1246.7 1985.7 1246.7 1985.7L1217.3 1985.7C1217.3 1985.7 1218.7 1969.6 1219.4 1963.6C1220.2 1957.6 1221.9 1948.5 1222.6 1942.6C1223.2 1936.7 1223.8 1927.5 1224.1 1921.6C1224.4 1915.7 1224.5 1906.5 1224.7 1900.6C1224.9 1894.7 1225.4 1884.6 1225.7 1879.6C1226.1 1874.6 1227 1868.1 1227.4 1864.9C1227.9 1861.6 1228.4 1855.9 1228.9 1856.5Z" fill="#00FFFF"/>
<path d="M1164.4 1725.2L1169 1725.2C1169 1725.2 1169.1 1745.7 1169 1753.5C1169 1761.3 1168.8 1775.7 1168.6 1780.8C1168.4 1786 1167.7 1791.2 1167.3 1790.3C1167 1789.4 1166.4 1780.6 1166.1 1774.5C1165.7 1768.5 1165.1 1754.1 1164.8 1747.2C1164.6 1740.3 1164.4 1725.2 1164.4 1725.2Z" fill="#0080FF"/>
<path d="M1184.1 1725.2L1197.4 1725.2C1197.4 1725.2 1196.7 1752.7 1196.7 1764C1196.7 1775.3 1197.2 1794.3 1197.4 1806C1197.6 1817.8 1198.2 1838.6 1198 1848.1C1197.9 1857.5 1197 1867.4 1196.3 1873.3C1195.7 1879.1 1194.1 1884.8 1193.2 1890.1C1192.3 1895.4 1190.8 1906.8 1190 1911.1C1189.3 1915.3 1188.5 1921.1 1187.9 1920.5C1187.3 1919.9 1186.4 1912.6 1185.8 1906.9C1185.3 1901.1 1184.4 1889.3 1184.1 1879.6C1183.8 1869.9 1183.7 1850.8 1183.7 1837.5C1183.7 1824.3 1184.1 1800.8 1184.1 1785C1184.2 1769.3 1184.1 1725.2 1184.1 1725.2Z" fill="#0080FF"/>
<path d="M1185.4 1725.2L1190 1725.2C1190 1725.2 1190.3 1752.7 1190.4 1764C1190.6 1775.3 1191.1 1794.9 1191.1 1806C1191.1 1817.2 1190.7 1836.2 1190.4 1843.8C1190.2 1851.5 1189.4 1857.6 1189 1860.7C1188.6 1863.7 1187.9 1867.7 1187.5 1865.9C1187.1 1864.1 1186.5 1856.4 1186.2 1848.1C1185.9 1839.7 1185.6 1817.8 1185.4 1806C1185.2 1794.3 1185 1775.3 1185 1764C1185 1752.7 1185.4 1725.2 1185.4 1725.2Z" fill="#0000FF"/>
<path d="M1169 1925.8C1169.4 1925.8 1170.8 1929.4 1171.1 1932.1C1171.5 1934.7 1171.7 1942 1171.5 1944.7C1171.4 1947.3 1170.5 1951.3 1170.1 1951C1169.7 1950.7 1168.9 1945.2 1168.6 1942.6C1168.3 1939.9 1168.1 1934.4 1168.2 1932.1C1168.2 1929.7 1168.6 1925.8 1169 1925.8Z" fill="#0080FF"/>
<path d="M1227.8 1911.1L1229.1 1921.6L1229.5 1942.6L1228.3 1942.6L1227.6 1927.9Z" fill="#0080FF"/>
<path d="M1236.2 1955.2L1237.5 1961.5L1237.1 1972L1236 1969.9Z" fill="#0080FF"/>
<path d="M1175.7 1725.2L1181.2 1725.2C1181.2 1725.2 1180.8 1743.7 1180.6 1753.5C1180.3 1763.4 1179.9 1787 1179.5 1795.5C1179.2 1804.1 1178.4 1814.4 1178.1 1814.4C1177.7 1814.4 1177.3 1804.1 1177 1795.5C1176.7 1787 1176.3 1763.4 1176.2 1753.5C1176 1743.7 1175.7 1725.2 1175.7 1725.2Z" fill="#FFFF00"/>
<path d="M1178.1 1734.6L1179.5 1740.9L1179.5 1755.6L1178.3 1753.5Z" fill="#FF8000"/>
<path d="M1136.5 1725.2L1147 1725.2C1147 1725.2 1147.6 1761.7 1148 1774.5C1148.4 1787.3 1149.1 1805.7 1149.7 1816.5C1150.3 1827.4 1151.6 1842 1152.2 1852.3C1152.9 1862.5 1154 1880.4 1154.3 1890.1C1154.7 1899.8 1154.9 1913.3 1154.7 1921.6C1154.6 1929.8 1153.8 1942.1 1153.3 1948.9C1152.8 1955.7 1151.7 1964.8 1151.2 1969.9C1150.6 1975 1149.1 1985.7 1149.1 1985.7L1133.3 1985.7C1133.3 1985.7 1133.1 1905.1 1133.3 1885.9C1133.5 1866.6 1134.6 1862.2 1135 1848.1C1135.3 1833.9 1135.6 1802.2 1135.8 1785C1136 1767.8 1136.5 1725.2 1136.5 1725.2Z" fill="#FFFF00"/>
<path d="M1133.3 1885.9C1133.7 1869.5 1135.5 1874.4 1136.5 1869.1C1137.4 1863.8 1139.1 1853.1 1140 1848.1C1140.9 1843.1 1142.1 1836.1 1142.8 1833.3C1143.4 1830.6 1144.4 1827.2 1144.9 1828.1C1145.4 1829 1145.9 1833.9 1146.3 1839.6C1146.7 1845.4 1147.2 1860.5 1147.6 1869.1C1148 1877.6 1148.8 1891.7 1149.1 1900.6C1149.4 1909.4 1149.8 1925.3 1149.7 1932.1C1149.5 1938.8 1148.6 1945.4 1148 1948.9C1147.4 1952.4 1146.2 1955.5 1145.5 1957.3C1144.8 1959.1 1143.5 1959.7 1142.8 1961.5C1142 1963.3 1140.8 1967.2 1140 1969.9C1139.3 1972.6 1138.2 1978.6 1137.5 1980.8C1136.9 1983 1135.4 1985.7 1135.4 1985.7L1133.3 1985.7C1133.3 1985.7 1132.9 1902.2 1133.3 1885.9Z" fill="#FF8000"/>
<path d="M1210 1725.2L1222 1725.2C1222 1725.2 1221.5 1745.1 1221.1 1753.5C1220.8 1761.9 1220 1776.2 1219.4 1785C1218.9 1793.8 1217.9 1808.9 1217.3 1816.5C1216.7 1824.2 1215.8 1838.2 1215.2 1839.6C1214.7 1841.1 1214 1833.2 1213.6 1827C1213.1 1820.9 1212.5 1805.8 1212.1 1795.5C1211.7 1785.2 1210.9 1763.4 1210.6 1753.5C1210.3 1743.7 1210 1725.2 1210 1725.2Z" fill="#FFFF00"/>
<path d="M1227.4 1725.2L1279.9 1725.2C1279.9 1725.2 1279.1 1745.1 1278.7 1753.5C1278.3 1761.9 1277.5 1774.7 1277.2 1785C1276.9 1795.3 1276.6 1815.3 1276.6 1827C1276.6 1838.8 1277 1857.3 1277.2 1869.1C1277.4 1880.8 1277.7 1902.3 1278.3 1911.1C1278.8 1919.9 1280.5 1927.4 1281.4 1932.1C1282.3 1936.8 1283.8 1941.5 1284.6 1944.7C1285.3 1947.9 1285.8 1952.8 1286.7 1955.2C1287.5 1957.5 1289.7 1960.3 1290.9 1961.5C1292 1962.7 1293 1960.2 1295.1 1963.6C1297.1 1967 1305.6 1985.7 1305.6 1985.7L1257.7 1985.7C1257.7 1985.7 1256.2 1968.7 1255.6 1963.6C1254.9 1958.4 1253.7 1953.3 1253.1 1948.9C1252.4 1944.5 1251.5 1937.4 1250.9 1932.1C1250.4 1926.8 1249.4 1918.4 1248.8 1911.1C1248.3 1903.7 1247.7 1888.4 1247.2 1879.6C1246.6 1870.7 1245.7 1856.9 1245.1 1848.1C1244.4 1839.2 1243.3 1825.4 1242.5 1816.5C1241.8 1807.7 1240.4 1792.4 1239.4 1785C1238.4 1777.7 1236.4 1769.3 1235.2 1764C1234 1758.7 1232.1 1752.7 1231 1747.2C1229.9 1741.8 1227.4 1725.2 1227.4 1725.2Z" fill="#FFFF00"/>
<path d="M1231.6 1725.2L1277.2 1725.2C1277.2 1725.2 1276.5 1752.7 1276.2 1764C1275.8 1775.3 1274.8 1794.3 1274.5 1806C1274.1 1817.8 1273.8 1836.3 1273.6 1848.1C1273.4 1859.8 1273.2 1878.3 1273 1890.1C1272.8 1901.8 1272.6 1923.3 1272.4 1932.1C1272.2 1940.9 1272 1949 1271.5 1953.1C1271 1957.2 1269.6 1960 1268.8 1961.5C1268 1963 1266.4 1964.8 1265.7 1963.6C1264.9 1962.4 1263.9 1956 1263.1 1953.1C1262.4 1950.2 1261.2 1945.5 1260.4 1942.6C1259.6 1939.6 1258.1 1935 1257.3 1932.1C1256.4 1929.1 1254.8 1926 1254.1 1921.6C1253.4 1917.2 1252.5 1907.9 1252 1900.6C1251.5 1893.2 1251 1877.9 1250.5 1869.1C1250.1 1860.2 1249.4 1846.4 1248.8 1837.5C1248.3 1828.7 1247.3 1814.9 1246.7 1806C1246.2 1797.2 1245.3 1781 1244.6 1774.5C1244 1768.1 1242.7 1760.7 1242.1 1759.8C1241.5 1758.9 1241.1 1766.7 1240.4 1768.2C1239.8 1769.7 1238 1772.4 1237.3 1770.3C1236.6 1768.3 1235.8 1757.9 1235.2 1753.5C1234.6 1749.1 1233.6 1742.8 1233.1 1738.8C1232.6 1734.8 1231.6 1725.2 1231.6 1725.2Z" fill="#FF8000"/>
<path d="M1250.9 1725.2L1269.4 1725.2C1269.4 1725.2 1269.7 1752.7 1269.9 1764C1270 1775.3 1270.3 1794.3 1270.3 1806C1270.3 1817.8 1270.1 1837.8 1269.9 1848.1C1269.7 1858.3 1269.2 1872.2 1268.8 1879.6C1268.5 1886.9 1267.8 1896.2 1267.3 1900.6C1266.9 1905 1266.1 1909 1265.7 1911.1C1265.2 1913.1 1264.6 1915.9 1264 1915.3C1263.4 1914.7 1262.2 1908.9 1261.5 1906.9C1260.7 1904.8 1259.7 1903.5 1258.9 1900.6C1258.2 1897.6 1256.9 1891.7 1256.2 1885.9C1255.5 1880 1254.6 1868.3 1254.1 1858.6C1253.6 1848.8 1253 1828.3 1252.6 1816.5C1252.3 1804.8 1251.8 1787.3 1251.6 1774.5C1251.3 1761.7 1250.9 1725.2 1250.9 1725.2Z" fill="#FF0000"/>
<path d="M1279.9 1782.9C1280.5 1782.9 1282 1789.4 1282.5 1795.5C1283 1801.7 1283.5 1816.7 1283.5 1827C1283.6 1837.3 1283.2 1860.5 1282.9 1869.1C1282.6 1877.6 1281.9 1888 1281.4 1888C1280.9 1888 1279.8 1877.6 1279.3 1869.1C1278.9 1860.5 1278.3 1837.3 1278.3 1827C1278.2 1816.7 1278.4 1801.7 1278.7 1795.5C1278.9 1789.4 1279.4 1782.9 1279.9 1782.9Z" fill="#00FF80"/>
<path d="M1281.4 1725.2L1285 1725.2L1284.6 1736.7L1283.5 1747.2L1282 1736.7Z" fill="#FFFF00"/>
<path d="M1298.8 1725.2L1309.4 1725.2C1309.4 1725.2 1309 1745.1 1308.7 1753.5C1308.5 1761.9 1308.1 1776.2 1307.7 1785C1307.3 1793.8 1306.4 1809.2 1306 1816.5C1305.6 1823.9 1305 1830.2 1304.5 1837.5C1304 1844.9 1302.8 1860.2 1302.4 1869.1C1302 1877.9 1301.8 1891.7 1301.8 1900.6C1301.8 1909.4 1302.1 1923.3 1302.4 1932.1C1302.7 1940.9 1303.4 1956.1 1303.9 1963.6C1304.3 1971.1 1305.6 1985.7 1305.6 1985.7L1295.1 1985.7C1295.1 1985.7 1294.9 1969.6 1294.6 1963.6C1294.4 1957.6 1293.7 1944.1 1293.4 1942.6C1293.1 1941.1 1292.8 1951 1292.5 1953.1C1292.3 1955.2 1291.6 1960.2 1291.3 1957.3C1291 1954.4 1290.7 1941.5 1290.4 1932.1C1290.2 1922.7 1289.8 1901.8 1289.8 1890.1C1289.8 1878.3 1290.2 1857.5 1290.4 1848.1C1290.7 1838.6 1291.3 1826.7 1291.9 1822.8C1292.6 1819 1294.2 1820.7 1295.1 1820.7C1295.9 1820.7 1297.7 1826.4 1298.2 1822.8C1298.7 1819.3 1298.7 1803.8 1298.8 1795.5C1299 1787.3 1299.3 1773.9 1299.3 1764C1299.3 1754.2 1298.8 1725.2 1298.8 1725.2Z" fill="#FFFF00"/>
<path d="M1300.9 1725.2L1307.7 1725.2C1307.7 1725.2 1307.5 1745.1 1307.3 1753.5C1307 1761.9 1306.3 1780 1306 1785C1305.7 1790 1305.5 1790.7 1305.2 1789.2C1304.8 1787.8 1303.9 1780.4 1303.5 1774.5C1303 1768.6 1302.1 1754.1 1301.8 1747.2C1301.4 1740.3 1300.9 1725.2 1300.9 1725.2Z" fill="#FF8000"/>
<path d="M1308.7 1725.2L1346.5 1725.2C1346.5 1725.2 1346.3 1770.8 1345.9 1785C1345.5 1799.3 1344.3 1815.3 1343.4 1827C1342.4 1838.8 1340.2 1858.8 1339.2 1869.1C1338.2 1879.4 1336.8 1891.7 1336 1900.6C1335.3 1909.4 1334.1 1920.2 1333.9 1932.1C1333.7 1944 1334.6 1985.7 1334.6 1985.7L1308.7 1985.7C1308.7 1985.7 1307.7 1971.1 1307.3 1963.6C1306.8 1956.1 1306 1940.9 1305.6 1932.1C1305.2 1923.3 1304.6 1909.4 1304.5 1900.6C1304.5 1891.7 1304.9 1877.9 1305.2 1869.1C1305.4 1860.2 1306.2 1846.4 1306.6 1837.5C1307 1828.7 1307.7 1816.3 1308.1 1806C1308.5 1795.7 1309.3 1775.3 1309.4 1764C1309.4 1752.7 1308.7 1725.2 1308.7 1725.2Z" fill="#00FF80"/>
<path d="M1311.9 1725.2L1345.5 1725.2C1345.5 1725.2 1344.9 1752.7 1344.4 1764C1344 1775.3 1343.1 1795.7 1342.3 1806C1341.6 1816.3 1340.1 1831.7 1339.2 1837.5C1338.3 1843.4 1336.8 1849.5 1336 1848.1C1335.3 1846.6 1334.5 1834.4 1333.9 1827C1333.3 1819.7 1332.3 1797 1331.8 1795.5C1331.3 1794.1 1330.9 1809.2 1330.4 1816.5C1329.8 1823.9 1328.5 1842.2 1327.6 1848.1C1326.8 1853.9 1325.4 1858.6 1324.5 1858.6C1323.6 1858.6 1322.1 1848.1 1321.3 1848.1C1320.6 1848.1 1319.8 1856.2 1319.2 1858.6C1318.6 1860.9 1317.7 1866.3 1317.1 1864.9C1316.5 1863.4 1315.5 1856.3 1315 1848.1C1314.5 1839.8 1313.9 1817.8 1313.6 1806C1313.2 1794.3 1312.5 1775.3 1312.3 1764C1312.1 1752.7 1311.9 1725.2 1311.9 1725.2Z" fill="#00FFFF"/>
<path d="M1323.4 1923.7C1324 1923.1 1325.8 1930.3 1326.6 1932.1C1327.4 1933.8 1328.5 1933.3 1329.1 1936.3C1329.7 1939.2 1330.4 1946.2 1330.8 1953.1C1331.2 1960 1331.8 1985.7 1331.8 1985.7L1321.3 1985.7C1321.3 1985.7 1321.8 1960 1322 1953.1C1322.1 1946.2 1322.2 1940.4 1322.4 1936.3C1322.6 1932.2 1322.8 1924.3 1323.4 1923.7Z" fill="#00FFFF"/>
<path d="M1315 1725.2L1323.4 1725.2C1323.4 1725.2 1323.1 1745.1 1322.8 1753.5C1322.5 1761.9 1321.8 1776.8 1321.3 1785C1320.8 1793.3 1319.7 1806.3 1319.2 1812.3C1318.7 1818.4 1318.1 1828.1 1317.8 1828.1C1317.4 1828.1 1316.8 1818.4 1316.5 1812.3C1316.2 1806.3 1315.9 1793.3 1315.7 1785C1315.4 1776.8 1315.1 1761.9 1315 1753.5C1314.9 1745.1 1315 1725.2 1315 1725.2Z" fill="#0080FF"/>
<path d="M1333.3 1725.2L1336 1725.2L1335.4 1743L1334.6 1759.8L1333.7 1743Z" fill="#0080FF"/>
<path d="M1345.9 1725.2L1383.7 1725.2C1383.7 1725.2 1383.3 1767.8 1383.3 1785C1383.3 1802.2 1383.6 1830.4 1383.7 1848.1C1383.9 1865.7 1384.4 1896.4 1384.4 1911.1C1384.4 1925.8 1384 1942.7 1383.7 1953.1C1383.4 1963.5 1382.3 1985.7 1382.3 1985.7L1347.6 1985.7C1347.6 1985.7 1347.3 1945.5 1347.2 1932.1C1347 1918.7 1346.8 1901.8 1346.5 1890.1C1346.3 1878.3 1345.6 1862.8 1345.5 1848.1C1345.4 1833.3 1345.8 1802.2 1345.9 1785C1346 1767.8 1345.9 1725.2 1345.9 1725.2Z" fill="#FFFF00"/>
<path d="M1347.2 1725.2L1381.6 1725.2C1381.6 1725.2 1381.3 1767.8 1381.2 1785C1381.1 1802.2 1380.9 1830.4 1380.8 1848.1C1380.6 1865.7 1380.4 1896.4 1380.2 1911.1C1379.9 1925.8 1379.4 1942.7 1379.1 1953.1C1378.8 1963.5 1378.1 1985.7 1378.1 1985.7L1368.6 1985.7C1368.6 1985.7 1369 1962.1 1369 1953.1C1369 1944.1 1368.8 1930.4 1368.6 1921.6C1368.4 1912.8 1368 1898.9 1367.5 1890.1C1367.1 1881.2 1366 1867.4 1365.4 1858.6C1364.9 1849.7 1363.9 1836.7 1363.3 1827C1362.8 1817.3 1361.8 1792.2 1361.2 1789.2C1360.7 1786.3 1359.7 1800.7 1359.1 1806C1358.6 1811.3 1357.8 1822.6 1357 1827C1356.3 1831.5 1354.6 1836.1 1353.9 1837.5C1353.2 1839 1352.4 1840.5 1351.8 1837.5C1351.2 1834.6 1350.2 1825.4 1349.7 1816.5C1349.2 1807.7 1348.4 1787.3 1348 1774.5C1347.7 1761.7 1347.2 1725.2 1347.2 1725.2Z" fill="#FF8000"/>
<path d="M1362.3 1725.2L1380.2 1725.2C1380.2 1725.2 1379.9 1767.8 1379.7 1785C1379.6 1802.2 1379.3 1833.3 1379.1 1848.1C1378.9 1862.8 1378.4 1878.3 1378.1 1890.1C1377.7 1901.8 1377.1 1921.8 1376.6 1932.1C1376.1 1942.4 1375 1958.4 1374.5 1963.6C1373.9 1968.7 1373.2 1970.3 1372.8 1968.8C1372.4 1967.4 1372 1961.2 1371.7 1953.1C1371.5 1945 1371 1922.8 1370.7 1911.1C1370.4 1899.3 1369.9 1879.4 1369.6 1869.1C1369.4 1858.8 1368.9 1846.4 1368.6 1837.5C1368.3 1828.7 1367.9 1814.9 1367.5 1806C1367.2 1797.2 1366.6 1783.3 1366.1 1774.5C1365.6 1765.7 1364.5 1749.9 1364 1743C1363.4 1736.1 1362.3 1725.2 1362.3 1725.2Z" fill="#FF0000"/>
<path d="M1390.7 1725.2L1471.5 1725.2C1471.5 1725.2 1472 1767.8 1472 1785C1472 1802.2 1471.7 1830.4 1471.5 1848.1C1471.3 1865.7 1470.8 1896.4 1470.5 1911.1C1470.2 1925.8 1469.7 1942.7 1469.4 1953.1C1469.1 1963.5 1468.4 1985.7 1468.4 1985.7L1384.4 1985.7C1384.4 1985.7 1384.8 1945.5 1385 1932.1C1385.2 1918.7 1385.5 1901.8 1385.8 1890.1C1386.2 1878.3 1387 1859.8 1387.5 1848.1C1388 1836.3 1388.8 1817.8 1389.2 1806C1389.5 1794.3 1389.8 1775.3 1390 1764C1390.2 1752.7 1390.7 1725.2 1390.7 1725.2Z" fill="#00FF80"/>
<path d="M1445.3 1902.7C1446.6 1901.2 1448.6 1904.2 1449.5 1906.9C1450.4 1909.5 1451.1 1915.1 1451.6 1921.6C1452 1928.1 1452.3 1944.1 1452.6 1953.1C1452.9 1962.1 1453.7 1985.7 1453.7 1985.7L1427.4 1985.7C1427.4 1985.7 1428.5 1960.6 1429.5 1953.1C1430.6 1945.6 1433.3 1937.1 1434.8 1932.1C1436.2 1927.1 1438.6 1921.5 1440 1917.4C1441.5 1913.3 1444 1904.1 1445.3 1902.7Z" fill="#00FF00"/>
<path d="M1416.9 1843.8C1416.9 1845.3 1419.2 1853.6 1420.1 1858.6C1420.9 1863.6 1422.5 1875.4 1423.2 1879.6C1424 1883.7 1424.8 1889.4 1425.3 1888C1425.8 1886.5 1426.4 1876.1 1427 1869.1C1427.6 1862 1428.9 1846.4 1429.5 1837.5C1430.2 1828.7 1431.6 1811.9 1431.6 1806C1431.6 1800.2 1430.3 1794.1 1429.5 1795.5C1428.8 1797 1427.3 1810.7 1426.4 1816.5C1425.5 1822.4 1424.1 1833.1 1423.2 1837.5C1422.3 1842 1420.9 1847.2 1420.1 1848.1C1419.2 1848.9 1416.9 1842.4 1416.9 1843.8Z" fill="#00FF00"/>
<path d="M1429.5 1725.2L1436.9 1725.2C1436.9 1725.2 1436.3 1752.7 1435.8 1764C1435.4 1775.3 1434.3 1798.7 1433.7 1806C1433.1 1813.4 1432.2 1819.5 1431.6 1816.5C1431.1 1813.6 1430.2 1797.8 1429.9 1785C1429.6 1772.2 1429.5 1725.2 1429.5 1725.2Z" fill="#00FF00"/>
<path d="M1406.4 1932.1L1409.6 1953.1L1410.6 1985.7L1402.2 1985.7L1403.3 1953.1Z" fill="#00FF00"/>
<path d="M1392.1 1835.4C1392.9 1831.3 1395.1 1825.8 1395.9 1822.8C1396.7 1819.9 1397.4 1812.1 1398 1814.4C1398.6 1816.8 1399.5 1834.9 1400.1 1839.6C1400.7 1844.4 1401.5 1848.6 1402.2 1848.1C1402.9 1847.5 1404.6 1834.9 1405.4 1835.4C1406.1 1836 1406.9 1846.1 1407.5 1852.3C1408.1 1858.4 1409.1 1871.3 1409.6 1879.6C1410 1887.8 1410.8 1903.7 1410.6 1911.1C1410.5 1918.4 1409 1926.2 1408.5 1932.1C1408 1938 1407.3 1945.6 1406.8 1953.1C1406.4 1960.6 1405.4 1985.7 1405.4 1985.7L1400.1 1985.7C1400.1 1985.7 1400 1962.1 1399.7 1953.1C1399.4 1944.1 1398.7 1927.5 1398 1921.6C1397.3 1915.7 1395.6 1911.1 1394.9 1911.1C1394.1 1911.1 1393.3 1921.6 1392.8 1921.6C1392.2 1921.6 1391.1 1917 1390.7 1911.1C1390.2 1905.2 1389.6 1887.8 1389.6 1879.6C1389.6 1871.3 1390.3 1858.4 1390.7 1852.3C1391 1846.1 1391.4 1839.6 1392.1 1835.4Z" fill="#00FFFF"/>
<path d="M1409.6 1745.1L1411 1753.5L1410.6 1774.5L1409.6 1770.3Z" fill="#0080FF"/>
<path d="M1418 1725.2L1429.9 1725.2C1429.9 1725.2 1429.5 1745.1 1429.1 1753.5C1428.7 1761.9 1427.9 1776.2 1427.4 1785C1426.9 1793.8 1425.9 1808.9 1425.3 1816.5C1424.7 1824.2 1423.8 1835.5 1423.2 1839.6C1422.6 1843.8 1421.6 1847.7 1421.1 1845.9C1420.6 1844.2 1419.8 1835.6 1419.4 1827C1419 1818.5 1418.4 1799.3 1418.2 1785C1418 1770.8 1418 1725.2 1418 1725.2Z" fill="#FFFF00"/>
<path d="M1419 1725.2L1428.5 1725.2C1428.5 1725.2 1427.9 1745.1 1427.4 1753.5C1427 1761.9 1425.9 1777.7 1425.3 1785C1424.7 1792.4 1423.8 1801.9 1423.2 1806C1422.6 1810.2 1421.6 1815.9 1421.1 1814.4C1420.6 1813 1420.2 1804.1 1419.9 1795.5C1419.6 1787 1419.1 1763.4 1419 1753.5C1418.9 1743.7 1419 1725.2 1419 1725.2Z" fill="#FF8000"/>
<path d="M1462.1 1725.2L1473.6 1725.2C1473.6 1725.2 1473.4 1767.8 1473.2 1785C1473.1 1802.2 1472.8 1833.3 1472.6 1848.1C1472.4 1862.8 1471.8 1881.2 1471.5 1890.1C1471.2 1898.9 1470.8 1911.1 1470.5 1911.1C1470.1 1911.1 1469.5 1898.9 1469 1890.1C1468.6 1881.2 1467.8 1859.8 1467.3 1848.1C1466.9 1836.3 1466.1 1817.8 1465.7 1806C1465.2 1794.3 1464.7 1775.3 1464.2 1764C1463.7 1752.7 1462.1 1725.2 1462.1 1725.2Z" fill="#00FFFF"/>
<path d="M1464.2 1725.2L1472.6 1725.2C1472.6 1725.2 1472.5 1769.3 1472.4 1785C1472.2 1800.8 1471.8 1825.8 1471.5 1837.5C1471.3 1849.3 1471 1867.6 1470.7 1869.1C1470.4 1870.5 1469.8 1856.9 1469.4 1848.1C1469 1839.2 1468.3 1817.8 1467.8 1806C1467.2 1794.3 1466.2 1775.3 1465.7 1764C1465.2 1752.7 1464.2 1725.2 1464.2 1725.2Z" fill="#0080FF"/>
<path d="M1468.4 1743C1468.7 1740.1 1470.7 1747.6 1471.1 1753.5C1471.6 1759.4 1471.6 1776.2 1471.5 1785C1471.5 1793.8 1471.1 1813.6 1470.9 1816.5C1470.7 1819.5 1470.1 1811.9 1469.9 1806C1469.6 1800.2 1469.2 1783.3 1469 1774.5C1468.8 1765.7 1468.1 1745.9 1468.4 1743Z" fill="#0000FF"/>
<path d="M1463.1 1969.9L1467.3 1963.6L1470.5 1974.1L1469.9 1985.7L1462.1 1985.7Z" fill="#00FFFF"/>
<path d="M1473.2 1725.2L1520.3 1725.2C1520.3 1725.2 1519.8 1752.7 1519.4 1764C1519.1 1775.3 1518.3 1797.2 1517.8 1806C1517.2 1814.9 1516.3 1821.2 1515.7 1827C1515 1832.9 1513.7 1840.7 1513.1 1848.1C1512.5 1855.4 1511.5 1870.7 1511.5 1879.6C1511.4 1888.4 1512.6 1905.2 1512.5 1911.1C1512.4 1917 1511.5 1917.2 1511 1921.6C1510.6 1926 1509.8 1936.7 1509.4 1942.6C1508.9 1948.5 1508.3 1962.1 1507.7 1963.6C1507.1 1965.1 1505.7 1951.6 1505.2 1953.1C1504.7 1954.6 1504.4 1969.5 1504.1 1974.1C1503.8 1978.7 1503.1 1985.7 1503.1 1985.7L1474.7 1985.7C1474.7 1985.7 1474.3 1951.3 1474.1 1932.1C1473.9 1912.8 1473.3 1877 1473.2 1848.1C1473.1 1819.1 1473.2 1725.2 1473.2 1725.2Z" fill="#FFFF00"/>
<path d="M1512.5 1932.1L1515.2 1953.1L1516.1 1985.7L1511.9 1985.7L1511.5 1953.1Z" fill="#FFFF00"/>
<path d="M1474.7 1725.2L1517.3 1725.2C1517.3 1725.2 1516.5 1754.2 1516.1 1764C1515.6 1773.9 1514.6 1787.3 1514 1795.5C1513.3 1803.8 1512.2 1816.7 1511.5 1822.8C1510.7 1829 1509 1836.1 1508.3 1839.6C1507.6 1843.2 1506.6 1842.5 1506.2 1848.1C1505.8 1853.6 1505.4 1870.7 1505.2 1879.6C1504.9 1888.4 1504.4 1903.7 1504.1 1911.1C1503.8 1918.4 1503.5 1926.8 1503.1 1932.1C1502.6 1937.4 1501.7 1945.1 1500.9 1948.9C1500.2 1952.7 1498.6 1956.5 1497.8 1959.4C1497 1962.3 1495.7 1966.9 1495.1 1969.9C1494.5 1972.9 1493.9 1981.7 1493.6 1980.8C1493.2 1979.9 1493 1967.5 1492.5 1963.6C1492.1 1959.7 1491.1 1954 1490.4 1953.1C1489.8 1952.2 1488.7 1956.1 1487.9 1957.3C1487.2 1958.5 1486 1961.5 1485.2 1961.5C1484.4 1961.5 1483.1 1959.9 1482.5 1957.3C1481.8 1954.6 1480.9 1947.6 1480.4 1942.6C1479.8 1937.6 1478.8 1928.9 1478.3 1921.6C1477.8 1914.2 1477.1 1900.4 1476.8 1890.1C1476.4 1879.8 1476 1862.8 1475.7 1848.1C1475.5 1833.3 1475 1802.2 1474.9 1785C1474.8 1767.8 1474.7 1725.2 1474.7 1725.2Z" fill="#FF8000"/>
<path d="M1497.2 1785C1497.7 1785 1498.7 1798.7 1499.3 1806C1499.8 1813.4 1500.8 1829.3 1500.9 1837.5C1501.1 1845.8 1500.8 1859 1500.5 1864.9C1500.2 1870.7 1499.4 1879 1498.8 1879.6C1498.3 1880.2 1497.2 1874.9 1496.7 1869.1C1496.3 1863.2 1495.8 1846.4 1495.7 1837.5C1495.6 1828.7 1495.5 1813.4 1495.7 1806C1495.9 1798.7 1496.7 1785 1497.2 1785Z" fill="#FFFF00"/>
<path d="M1475.7 1725.2L1493.6 1725.2C1493.6 1725.2 1494.1 1752.7 1494.2 1764C1494.4 1775.3 1494.6 1795.7 1494.6 1806C1494.6 1816.3 1494.5 1828.7 1494.2 1837.5C1494 1846.4 1493.5 1861.7 1493 1869.1C1492.4 1876.4 1491.2 1886.1 1490.4 1890.1C1489.7 1894 1488.7 1897.4 1487.9 1897.4C1487.2 1897.4 1486 1892.6 1485.2 1890.1C1484.4 1887.6 1483.1 1884 1482.5 1879.6C1481.8 1875.2 1480.9 1865.9 1480.4 1858.6C1479.8 1851.2 1478.8 1837.3 1478.3 1827C1477.8 1816.7 1477.1 1799.3 1476.8 1785C1476.4 1770.8 1475.7 1725.2 1475.7 1725.2Z" fill="#FF0000"/>
<path d="M1498.8 1725.2L1513.6 1725.2C1513.6 1725.2 1513.1 1735.4 1512.5 1738.8C1511.9 1742.2 1510.2 1746.7 1509.4 1749.3C1508.5 1752 1507.1 1756.2 1506.2 1757.7C1505.3 1759.2 1503.8 1761.3 1503.1 1759.8C1502.3 1758.3 1501.5 1752.1 1500.9 1747.2C1500.4 1742.4 1498.8 1725.2 1498.8 1725.2Z" fill="#FF0000"/>
<path d="M1520.3 1725.2L1530.4 1725.2C1530.4 1725.2 1530.9 1804.3 1530.4 1816.5C1529.8 1828.7 1527.2 1815.3 1526.2 1812.3C1525.1 1809.4 1523.7 1802.3 1523 1795.5C1522.4 1788.8 1521.9 1773.9 1521.5 1764C1521.2 1754.2 1520.3 1725.2 1520.3 1725.2Z" fill="#00FF80"/>
<path d="M1518.2 1839.6C1518.8 1837.3 1521.1 1843.9 1522 1848.1C1522.8 1852.2 1523.9 1863.2 1524.1 1869.1C1524.2 1874.9 1523.6 1887.7 1523 1890.1C1522.4 1892.4 1520.6 1889.4 1519.9 1885.9C1519.1 1882.3 1518 1871.3 1517.8 1864.9C1517.5 1858.4 1517.6 1842 1518.2 1839.6Z" fill="#00FFFF"/>
<path d="M1517 1772.4C1517.7 1742.3 1521.1 1763.6 1522.3 1770.3C1523.4 1777.1 1524.7 1806.9 1525.4 1820.7C1526.1 1834.6 1526.8 1856.4 1527.1 1869.1C1527.4 1881.7 1527.5 1899.3 1527.5 1911.1C1527.5 1922.8 1527.4 1942.7 1527.1 1953.1C1526.8 1963.5 1525.4 1985.7 1525.4 1985.7L1517 1985.7C1517 1985.7 1516.3 1802.6 1517 1772.4Z" fill="#00FF80"/>
<path d="M1517 1839.6C1517.4 1825.5 1519.3 1843.3 1520.2 1848.1C1521 1852.8 1522.6 1867.4 1523.3 1873.3C1524 1879.1 1525.2 1883.3 1525.4 1890.1C1525.6 1896.8 1525.3 1912.8 1525 1921.6C1524.7 1930.4 1523.8 1947.2 1523.3 1953.1C1522.8 1959 1521.8 1963.6 1521.2 1963.6C1520.6 1963.6 1519.7 1955.2 1519.1 1953.1C1518.5 1951 1517.3 1964.8 1517 1948.9C1516.7 1933 1516.6 1853.8 1517 1839.6Z" fill="#00FFFF"/>
<path d="M1517 1725.2L1520.2 1725.2L1520.8 1753.5L1519.5 1770.3L1517 1772.4Z" fill="#FFFF00"/>
<path d="M1537 1725.2L1545.4 1725.2C1545.4 1725.2 1544.6 1752.7 1544.3 1764C1544 1775.3 1543.6 1794.3 1543.3 1806C1542.9 1817.8 1542.2 1836.3 1541.8 1848.1C1541.4 1859.8 1540.9 1878.3 1540.5 1890.1C1540.1 1901.8 1539.9 1921.8 1539.1 1932.1C1538.3 1942.4 1535.7 1956.1 1534.9 1963.6C1534 1971.1 1532.8 1985.7 1532.8 1985.7L1529.6 1985.7C1529.6 1985.7 1531.1 1962.1 1531.7 1953.1C1532.3 1944.1 1533.3 1930.4 1533.8 1921.6C1534.3 1912.8 1535.1 1900.4 1535.5 1890.1C1535.8 1879.8 1536.1 1859.8 1536.3 1848.1C1536.5 1836.3 1536.8 1817.8 1537 1806C1537.1 1794.3 1537.6 1775.3 1537.6 1764C1537.6 1752.7 1537 1725.2 1537 1725.2Z" fill="#FFFF00"/>
<path d="M1567.4 1888C1567.9 1885.3 1570.9 1882 1572 1881.7C1573.2 1881.4 1574.9 1884.1 1575.8 1885.9C1576.8 1887.6 1578.1 1891.3 1579 1894.3C1579.9 1897.2 1581.2 1903.3 1582.1 1906.9C1583 1910.4 1584.5 1918.9 1585.3 1919.5C1586 1920.1 1586.9 1910.8 1587.4 1911.1C1587.8 1911.4 1588.4 1917.2 1588.4 1921.6C1588.4 1926 1587.8 1936.7 1587.4 1942.6C1586.9 1948.5 1586 1959.2 1585.3 1963.6C1584.5 1968 1583 1973.8 1582.1 1974.1C1581.2 1974.4 1579.9 1966.3 1579 1965.7C1578.1 1965.1 1576.7 1970.8 1575.8 1969.9C1574.9 1969 1573.4 1958.8 1572.7 1959.4C1571.9 1960 1571.3 1970.4 1570.6 1974.1C1569.8 1977.8 1567.4 1985.7 1567.4 1985.7L1560.1 1985.7C1560.1 1985.7 1559 1960.6 1559 1953.1C1559 1945.6 1559.6 1936.8 1560.1 1932.1C1560.5 1927.4 1561.4 1923 1562.2 1919.5C1562.9 1915.9 1564.4 1909.5 1565.3 1906.9C1566.2 1904.2 1568.2 1903.2 1568.5 1900.6C1568.8 1897.9 1566.9 1890.6 1567.4 1888Z" fill="#FFFF00"/>
<path d="M1586.7 1725.2L1590.5 1725.2C1590.5 1725.2 1590.6 1767.8 1590.5 1785C1590.5 1802.2 1590.3 1833.3 1590.1 1848.1C1590 1862.8 1589.7 1881.2 1589.5 1890.1C1589.2 1898.9 1588.6 1917 1588.4 1911.1C1588.2 1905.2 1588.2 1865.7 1588 1848.1C1587.9 1830.4 1587.6 1802.2 1587.4 1785C1587.2 1767.8 1586.7 1725.2 1586.7 1725.2Z" fill="#FFFF00"/>
<path d="M1544.3 1725.2L1589.5 1725.2C1589.5 1725.2 1589.6 1767.8 1589.5 1785C1589.4 1802.2 1589 1833.3 1588.8 1848.1C1588.7 1862.8 1588.6 1881.2 1588.4 1890.1C1588.2 1898.9 1587.8 1907 1587.4 1911.1C1586.9 1915.2 1586 1920.1 1585.3 1919.5C1584.5 1918.9 1583 1910.4 1582.1 1906.9C1581.2 1903.3 1579.9 1897.2 1579 1894.3C1578.1 1891.3 1576.8 1887.6 1575.8 1885.9C1574.9 1884.1 1572.9 1882.8 1572 1881.7C1571.2 1880.5 1570.2 1876.6 1569.5 1877.5C1568.9 1878.3 1567.6 1884.7 1567.4 1888C1567.3 1891.2 1568.8 1897.9 1568.5 1900.6C1568.2 1903.2 1566.2 1904.2 1565.3 1906.9C1564.4 1909.5 1562.9 1915.9 1562.2 1919.5C1561.4 1923 1560.5 1927.4 1560.1 1932.1C1559.6 1936.8 1559 1945.6 1559 1953.1C1559 1960.6 1560.1 1985.7 1560.1 1985.7L1533.8 1985.7C1533.8 1985.7 1534.3 1961.2 1534.9 1953.1C1535.4 1945 1537.3 1930.8 1538 1927.9C1538.7 1924.9 1539.2 1935.9 1539.7 1932.1C1540.1 1928.3 1540.8 1910.9 1541.2 1900.6C1541.5 1890.3 1541.9 1870.3 1542.2 1858.6C1542.5 1846.8 1543 1828.3 1543.3 1816.5C1543.6 1804.8 1544.2 1787.3 1544.3 1774.5C1544.5 1761.7 1544.3 1725.2 1544.3 1725.2Z" fill="#FF8000"/>
<path d="M1556.5 1725.2L1583.2 1725.2C1583.2 1725.2 1582.7 1752.7 1582.5 1764C1582.4 1775.3 1582.3 1795.7 1582.1 1806C1581.9 1816.3 1581.5 1832.5 1581.1 1837.5C1580.6 1842.6 1579.6 1842.5 1579 1842.2C1578.4 1841.9 1577.4 1839 1576.9 1835.4C1576.4 1831.9 1575.8 1822.1 1575.4 1816.5C1575 1810.9 1574.2 1801.4 1573.7 1795.5C1573.3 1789.6 1572.5 1777.9 1572 1774.5C1571.6 1771.1 1571.1 1770.5 1570.6 1771.4C1570.1 1772.3 1569.1 1777.7 1568.5 1780.8C1567.8 1783.9 1566.4 1790.9 1565.7 1793.4C1565.1 1795.9 1564.1 1799.9 1563.6 1798.7C1563.1 1797.5 1562.7 1789.9 1562.2 1785C1561.7 1780.2 1560.7 1769.9 1560.1 1764C1559.5 1758.1 1558.5 1748.4 1558 1743C1557.5 1737.6 1556.5 1725.2 1556.5 1725.2Z" fill="#FF0000"/>
<path d="M1569.9 1851.2L1571.2 1864.9L1570.6 1881.7L1569.1 1877.5L1569.1 1864.9Z" fill="#FFFF00"/>
<path d="M1590.9 1725.2L1669.3 1725.2C1669.3 1725.2 1668.8 1767.8 1668.7 1785C1668.5 1802.2 1668.3 1830.4 1668.3 1848.1C1668.3 1865.7 1668.4 1896.4 1668.7 1911.1C1668.9 1925.8 1669.6 1942.7 1669.9 1953.1C1670.3 1963.5 1671.4 1985.7 1671.4 1985.7L1631.5 1985.7C1631.5 1985.7 1629.2 1969.6 1628.3 1963.6C1627.5 1957.6 1626.2 1947 1625.2 1942.6C1624.2 1938.2 1622.3 1933.3 1621 1932.1C1619.7 1930.9 1616.9 1935.7 1615.7 1934.2C1614.6 1932.7 1614.1 1924.8 1612.6 1921.6C1611.1 1918.3 1607.1 1913.1 1605.2 1911.1C1603.3 1909 1600.4 1908.3 1598.9 1906.9C1597.5 1905.4 1595.6 1905.9 1594.7 1900.6C1593.8 1895.3 1593.1 1879.4 1592.6 1869.1C1592.2 1858.8 1591.8 1840.3 1591.6 1827C1591.3 1813.8 1591 1788.8 1590.9 1774.5C1590.9 1760.3 1590.9 1725.2 1590.9 1725.2Z" fill="#00FF80"/>
<path d="M1651.5 1725.2L1655.7 1725.2C1655.7 1725.2 1655.2 1753.3 1654.6 1764C1654 1774.8 1652.6 1792.4 1651.5 1801.8C1650.3 1811.2 1647.5 1823.3 1646.2 1831.2C1644.9 1839.2 1643 1850.9 1642 1858.6C1641 1866.2 1639.6 1881.2 1638.8 1885.9C1638.1 1890.6 1637.2 1894.5 1636.7 1892.2C1636.3 1889.8 1635.6 1876.4 1635.7 1869.1C1635.8 1861.7 1636.9 1847.6 1637.8 1839.6C1638.7 1831.7 1640.7 1819.1 1642 1812.3C1643.3 1805.6 1646.1 1798.1 1647.3 1791.3C1648.4 1784.6 1649.8 1773.3 1650.4 1764C1651 1754.8 1651.5 1725.2 1651.5 1725.2Z" fill="#00FF00"/>
<path d="M1610.5 1944.7C1611.2 1940.9 1613.2 1936.3 1614.1 1936.3C1614.9 1936.3 1616.1 1940.9 1616.8 1944.7C1617.5 1948.5 1618.4 1957.9 1618.9 1963.6C1619.3 1969.3 1619.9 1985.7 1619.9 1985.7L1608.4 1985.7C1608.4 1985.7 1608.7 1969.3 1609 1963.6C1609.3 1957.9 1609.8 1948.5 1610.5 1944.7Z" fill="#FFFF00"/>
<path d="M1595.2 1725.2L1628.3 1725.2C1628.3 1725.2 1628.2 1752.7 1627.9 1764C1627.7 1775.3 1627 1795.4 1626.7 1806C1626.3 1816.6 1625.7 1834.4 1625.2 1839.6C1624.7 1844.9 1623.7 1845.6 1623.1 1843.8C1622.5 1842.1 1621.6 1830.9 1621 1827C1620.4 1823.2 1619.4 1815.9 1618.9 1816.5C1618.4 1817.1 1617.9 1827.1 1617.4 1831.2C1617 1835.4 1616.2 1843.6 1615.7 1845.9C1615.3 1848.3 1614.5 1846.3 1614.1 1848.1C1613.6 1849.8 1613 1855.6 1612.6 1858.6C1612.2 1861.5 1611.6 1867.4 1611.1 1869.1C1610.7 1870.7 1610.1 1869.5 1609.4 1870.1C1608.8 1870.7 1607.2 1872.2 1606.3 1873.3C1605.4 1874.3 1604 1877.5 1603.1 1877.5C1602.3 1877.5 1600.7 1875.9 1600 1873.3C1599.2 1870.6 1598.4 1863.6 1597.9 1858.6C1597.4 1853.6 1596.8 1844.9 1596.4 1837.5C1596 1830.2 1595.4 1816.3 1595.2 1806C1594.9 1795.7 1594.7 1775.3 1594.7 1764C1594.7 1752.7 1595.2 1725.2 1595.2 1725.2Z" fill="#00FFFF"/>
<path d="M1622 1848.1C1622.9 1849.8 1625.2 1863.2 1626.2 1869.1C1627.3 1874.9 1628.7 1884.2 1629.4 1890.1C1630.1 1895.9 1631.3 1907.5 1631.5 1911.1C1631.6 1914.6 1630.9 1915.9 1630.4 1915.3C1629.9 1914.7 1628.7 1909.2 1627.9 1906.9C1627.2 1904.5 1625.9 1899.1 1625.2 1898.5C1624.5 1897.9 1623.7 1903.8 1623.1 1902.7C1622.5 1901.5 1621.5 1894.8 1621 1890.1C1620.5 1885.4 1619.7 1873.8 1619.5 1869.1C1619.4 1864.4 1619.6 1859.4 1619.9 1856.5C1620.3 1853.5 1621.2 1846.3 1622 1848.1Z" fill="#00FFFF"/>
<path d="M1648.3 1906.9C1649 1907.5 1650.6 1912.9 1651.5 1915.3C1652.3 1917.6 1653.9 1921.3 1654.6 1923.7C1655.3 1926 1656.6 1929.4 1656.7 1932.1C1656.9 1934.7 1656.2 1940.2 1655.7 1942.6C1655.1 1944.9 1653.2 1947.1 1652.5 1948.9C1651.8 1950.7 1651 1955.2 1650.4 1955.2C1649.8 1955.2 1648.9 1952.1 1648.3 1948.9C1647.7 1945.7 1646.6 1935.9 1646.2 1932.1C1645.8 1928.3 1645.2 1924.5 1645.2 1921.6C1645.2 1918.6 1645.8 1913.1 1646.2 1911.1C1646.6 1909 1647.6 1906.3 1648.3 1906.9Z" fill="#00FFFF"/>
<path d="M1600.6 1725.2L1623.1 1725.2C1623.1 1725.2 1622.7 1752.7 1622.5 1764C1622.3 1775.3 1621.7 1797.2 1621.6 1806C1621.6 1814.9 1621.8 1822 1622 1827C1622.2 1832 1623.2 1841.7 1623.1 1841.7C1622.9 1841.7 1621.6 1830.9 1621 1827C1620.4 1823.2 1619.5 1818 1618.9 1814.4C1618.3 1810.9 1617.4 1805.4 1616.8 1801.8C1616.2 1798.3 1615.4 1792.2 1614.7 1789.2C1614 1786.3 1612.3 1779.9 1611.5 1780.8C1610.8 1781.7 1610 1790.5 1609.4 1795.5C1608.8 1800.5 1607.8 1810.7 1607.3 1816.5C1606.9 1822.4 1606.7 1833.4 1606.3 1837.5C1605.8 1841.7 1604.8 1845.7 1604.2 1845.9C1603.6 1846.2 1602.5 1843.8 1602.1 1839.6C1601.6 1835.5 1601.2 1824.2 1601 1816.5C1600.8 1808.9 1600.7 1793.8 1600.6 1785C1600.5 1776.2 1600.2 1761.9 1600.2 1753.5C1600.2 1745.1 1600.6 1725.2 1600.6 1725.2Z" fill="#0080FF"/>
<path d="M1601.5 1725.2L1609 1725.2C1609 1725.2 1608.8 1745.7 1608.6 1753.5C1608.4 1761.3 1607.8 1774.1 1607.3 1780.8C1606.9 1787.6 1605.8 1797.4 1605.2 1801.8C1604.7 1806.2 1603.9 1813.2 1603.6 1812.3C1603.2 1811.5 1602.9 1802.3 1602.7 1795.5C1602.5 1788.8 1602.1 1773.9 1601.9 1764C1601.7 1754.2 1601.5 1725.2 1601.5 1725.2Z" fill="#0000FF"/>
<path d="M1614.7 1725.2L1618.3 1725.2L1617.8 1738.8L1616.8 1749.3L1615.3 1738.8Z" fill="#0000FF"/>
<path d="M1644.7 1725.2L1651.9 1725.2C1651.9 1725.2 1651.4 1745.1 1651 1753.5C1650.7 1761.9 1649.8 1778.3 1649.4 1785C1648.9 1791.8 1648.1 1801.8 1647.7 1801.8C1647.2 1801.8 1646.6 1791.8 1646.2 1785C1645.8 1778.3 1645.4 1761.9 1645.2 1753.5C1644.9 1745.1 1644.7 1725.2 1644.7 1725.2Z" fill="#FFFF00"/>
<path d="M1646.2 1725.2L1650.6 1725.2L1649.8 1743L1648.3 1755.6L1646.8 1743Z" fill="#FF8000"/>
<path d="M1668.7 1725.2L1726.7 1725.2C1726.7 1725.2 1727.2 1746.6 1727.5 1753.5C1727.9 1760.4 1728.7 1773.1 1729.2 1774.5C1729.7 1776 1730.8 1768.4 1731.3 1764C1731.8 1759.6 1732.5 1748.4 1733 1743C1733.4 1737.6 1734.4 1725.2 1734.4 1725.2L1740.1 1725.2C1740.1 1725.2 1740.6 1767.8 1740.7 1785C1740.9 1802.2 1741.2 1830.4 1741.4 1848.1C1741.5 1865.7 1741.8 1897.8 1741.8 1911.1C1741.8 1924.3 1742 1937.6 1741.4 1942.6C1740.8 1947.6 1738.7 1947.7 1737.6 1946.8C1736.5 1945.9 1734.6 1937.2 1733.4 1936.3C1732.2 1935.4 1730.4 1939.3 1729.2 1940.5C1728 1941.7 1726.2 1945.6 1725 1944.7C1723.8 1943.8 1721.7 1935.9 1720.8 1934.2C1719.9 1932.4 1719.3 1930 1718.7 1932.1C1718.1 1934.1 1717.3 1944.5 1716.6 1948.9C1715.8 1953.3 1714.6 1960.9 1713.4 1963.6C1712.3 1966.2 1709.4 1966.3 1708.2 1967.8C1707 1969.3 1705.8 1971.6 1705 1974.1C1704.3 1976.6 1702.9 1985.7 1702.9 1985.7L1672 1985.7C1672 1985.7 1670.7 1933.3 1670.4 1911.1C1670 1888.9 1669.5 1853.1 1669.3 1827C1669.1 1801 1668.7 1725.2 1668.7 1725.2Z" fill="#FFFF00"/>
<path d="M1669.9 1725.2L1718.3 1725.2C1718.3 1725.2 1717.9 1752.7 1717.6 1764C1717.4 1775.3 1716.9 1794.3 1716.6 1806C1716.3 1817.8 1715.8 1836.3 1715.5 1848.1C1715.2 1859.8 1714.9 1881.8 1714.5 1890.1C1714 1898.3 1713.1 1903.3 1712.4 1906.9C1711.6 1910.4 1710.1 1915.3 1709.2 1915.3C1708.3 1915.3 1707 1909.2 1706.1 1906.9C1705.2 1904.5 1703.7 1897.9 1702.9 1898.5C1702.2 1899.1 1701.2 1906.4 1700.8 1911.1C1700.4 1915.8 1700.2 1926.2 1700.2 1932.1C1700.2 1938 1700.6 1947.8 1700.8 1953.1C1701.1 1958.4 1701.6 1965.3 1701.9 1969.9C1702.2 1974.5 1702.9 1985.7 1702.9 1985.7L1672 1985.7C1672 1985.7 1671.6 1948.4 1671.4 1932.1C1671.2 1915.8 1670.6 1886.7 1670.4 1869.1C1670.2 1851.4 1670 1826.2 1669.9 1806C1669.9 1785.9 1669.9 1725.2 1669.9 1725.2Z" fill="#FF8000"/>
<path d="M1733.4 1791.3C1734.3 1790.7 1735.9 1799.6 1736.5 1806C1737.2 1812.5 1737.7 1828.7 1738 1837.5C1738.3 1846.4 1738.7 1860.2 1738.6 1869.1C1738.6 1877.9 1738 1895 1737.6 1900.6C1737.1 1906.2 1736.2 1908.4 1735.5 1909C1734.8 1909.6 1733.2 1907.4 1732.3 1904.8C1731.5 1902.1 1729.9 1895.1 1729.2 1890.1C1728.5 1885.1 1727.7 1876.4 1727.5 1869.1C1727.4 1861.7 1727.8 1845.8 1728.1 1837.5C1728.5 1829.3 1729.5 1816.7 1730.2 1810.2C1731 1803.8 1732.5 1791.9 1733.4 1791.3Z" fill="#FF8000"/>
<path d="M1670.4 1725.2L1679.8 1725.2C1679.8 1725.2 1680 1754.2 1680.4 1764C1680.9 1773.9 1682.3 1794.1 1683 1795.5C1683.6 1797 1684.6 1781.9 1685.1 1774.5C1685.5 1767.2 1685.8 1749.9 1686.1 1743C1686.5 1736.1 1687.6 1725.2 1687.6 1725.2L1696.6 1725.2C1696.6 1725.2 1696.3 1752.7 1696 1764C1695.7 1775.3 1694.9 1795.7 1694.5 1806C1694.2 1816.3 1693.7 1828.7 1693.5 1837.5C1693.3 1846.4 1693.4 1862.3 1693.1 1869.1C1692.7 1875.8 1691.5 1882.9 1690.9 1885.9C1690.4 1888.8 1689.5 1890.7 1688.8 1890.1C1688.2 1889.5 1686.8 1886.1 1686.1 1881.7C1685.4 1877.3 1684.6 1864.7 1684 1858.6C1683.4 1852.4 1682.7 1842.5 1681.9 1837.5C1681.2 1832.5 1679.6 1827.3 1678.8 1822.8C1677.9 1818.4 1676.4 1811.3 1675.6 1806C1674.8 1800.7 1673.5 1792.4 1672.9 1785C1672.3 1777.7 1671.8 1761.9 1671.4 1753.5C1671.1 1745.1 1670.4 1725.2 1670.4 1725.2Z" fill="#FF0000"/>
<path d="M1706.5 1725.2L1711.3 1725.2C1711.3 1725.2 1712.1 1745.1 1712 1753.5C1711.8 1761.9 1710.7 1776.8 1710.3 1785C1709.9 1793.3 1709.6 1810.9 1709.2 1812.3C1708.9 1813.8 1708.2 1802.3 1707.8 1795.5C1707.3 1788.8 1706.3 1773.9 1706.1 1764C1705.9 1754.2 1706.5 1725.2 1706.5 1725.2Z" fill="#FF0000"/>
<path d="M1712.4 1725.2L1717.6 1725.2L1716.6 1743L1714.5 1764L1712.8 1747.2Z" fill="#FF0000"/>
<path d="M1699.4 1829.1L1700.8 1837.5L1701 1869.1L1699.8 1879.6L1698.9 1858.6Z" fill="#FFFF00"/>
<path d="M1719.7 1824.9L1721.2 1831.2L1721.2 1856.5L1720.2 1860.7Z" fill="#00FF00"/>
<path d="M1740.1 1725.2L1757.5 1725.2C1757.5 1725.2 1758.2 1752.7 1758.6 1764C1759 1775.3 1760.3 1794.3 1760.7 1806C1761.1 1817.8 1761.7 1836.3 1761.7 1848.1C1761.7 1859.8 1761.1 1878.3 1760.7 1890.1C1760.3 1901.8 1759.2 1923.3 1758.6 1932.1C1758 1940.9 1757.4 1948.7 1756.5 1953.1C1755.6 1957.5 1753.5 1963.6 1752.3 1963.6C1751.1 1963.6 1749 1957.5 1748.1 1953.1C1747.2 1948.7 1746.5 1940.9 1746 1932.1C1745.5 1923.3 1744.7 1901.8 1744.3 1890.1C1744 1878.3 1743.8 1859.8 1743.5 1848.1C1743.2 1836.3 1742.6 1817.8 1742.2 1806C1741.9 1794.3 1741.2 1775.3 1740.9 1764C1740.7 1752.7 1740.1 1725.2 1740.1 1725.2Z" fill="#00FF80"/>
<path d="M1741.4 1725.2L1756.1 1725.2C1756.1 1725.2 1756.6 1752.7 1756.9 1764C1757.2 1775.3 1757.9 1794.3 1758.2 1806C1758.4 1817.8 1758.6 1837.8 1758.6 1848.1C1758.6 1858.3 1758.5 1872.2 1758.2 1879.6C1757.9 1886.9 1757 1897 1756.5 1900.6C1756 1904.1 1755 1905.7 1754.4 1904.8C1753.8 1903.9 1752.8 1899.3 1752.3 1894.3C1751.8 1889.3 1751.1 1877 1750.6 1869.1C1750.2 1861.1 1749.6 1846.4 1749.1 1837.5C1748.6 1828.7 1747.7 1814.9 1747 1806C1746.4 1797.2 1745 1782.8 1744.3 1774.5C1743.6 1766.3 1742.6 1754.1 1742.2 1747.2C1741.8 1740.3 1741.4 1725.2 1741.4 1725.2Z" fill="#00FFFF"/>
<path d="M1742.8 1725.2L1752.3 1725.2C1752.3 1725.2 1752.7 1745.1 1752.7 1753.5C1752.7 1761.9 1752.5 1777.1 1752.3 1785C1752.1 1793 1751.6 1804.1 1751.2 1810.2C1750.9 1816.4 1750.2 1828.3 1749.8 1829.1C1749.3 1830 1748.6 1822.7 1748.1 1816.5C1747.6 1810.4 1746.9 1793.8 1746.4 1785C1745.9 1776.2 1744.8 1761.9 1744.3 1753.5C1743.8 1745.1 1742.8 1725.2 1742.8 1725.2Z" fill="#0080FF"/>
<path d="M1756.9 1725.2L1770.2 1725.2C1770.2 1725.2 1769.7 1738.2 1769.1 1743C1768.5 1747.9 1766.8 1756.6 1765.9 1759.8C1765.1 1763.1 1763.6 1766.1 1762.8 1766.1C1762 1766.1 1760.9 1763.1 1760.3 1759.8C1759.6 1756.6 1758.6 1747.9 1758.2 1743C1757.7 1738.2 1756.9 1725.2 1756.9 1725.2Z" fill="#FFFF00"/>
<path d="M1768.1 1725.2L1771.6 1725.2L1771.2 1985.7L1762.8 1985.7C1762.8 1985.7 1764.3 1963.5 1764.9 1953.1C1765.5 1942.7 1766.6 1925.8 1767 1911.1C1767.4 1896.4 1767.9 1865.7 1768.1 1848.1C1768.2 1830.4 1768.3 1802.2 1768.3 1785C1768.3 1767.8 1768.1 1725.2 1768.1 1725.2Z" fill="#FFFF00"/>
<path d="M1770.2 1725.2L1817.4 1725.2C1817.4 1725.2 1818.2 1767.8 1818.5 1785C1818.7 1802.2 1819 1830.4 1819.1 1848.1C1819.2 1865.7 1819.5 1896.4 1819.5 1911.1C1819.5 1925.8 1819.3 1942.7 1819.1 1953.1C1818.9 1963.5 1817.8 1985.7 1817.8 1985.7L1770.8 1985.7C1770.8 1985.7 1770.2 1884.5 1770.2 1848.1C1770.1 1811.6 1770.2 1725.2 1770.2 1725.2Z" fill="#FF8000"/>
<path d="M1771.6 1725.2L1778.6 1725.2C1778.6 1725.2 1779.2 1745.7 1779.6 1753.5C1780 1761.3 1781.1 1776 1781.7 1780.8C1782.4 1785.7 1783.5 1788.2 1784.2 1788.2C1785 1788.2 1786.2 1785.7 1787 1780.8C1787.7 1776 1789.1 1761.3 1789.7 1753.5C1790.3 1745.7 1791.2 1725.2 1791.2 1725.2L1794.7 1725.2C1794.7 1725.2 1796.6 1743.7 1797.5 1753.5C1798.3 1763.4 1799.7 1785.2 1800.6 1795.5C1801.5 1805.8 1802.9 1820.3 1803.8 1827C1804.6 1833.8 1806.2 1838 1806.9 1843.8C1807.7 1849.7 1808.6 1859.6 1809 1869.1C1809.5 1878.5 1810.1 1902.3 1810.1 1911.1C1810.1 1919.9 1809.3 1926.2 1809 1932.1C1808.7 1938 1808.6 1951.6 1808 1953.1C1807.4 1954.6 1805.8 1945.5 1804.8 1942.6C1803.8 1939.6 1801.5 1930.6 1800.6 1932.1C1799.7 1933.6 1799 1949 1798.5 1953.1C1798.1 1957.2 1798.1 1960 1797.5 1961.5C1796.9 1963 1795.3 1963.4 1794.3 1963.6C1793.3 1963.7 1791 1963.1 1790.1 1962.5C1789.2 1962 1788.6 1962.2 1788 1959.4C1787.4 1956.6 1786.6 1946.4 1785.9 1942.6C1785.2 1938.8 1783.6 1932.1 1782.8 1932.1C1781.9 1932.1 1780.8 1939.4 1780 1942.6C1779.3 1945.8 1778.1 1954.3 1777.5 1955.2C1776.9 1956.1 1776.3 1953.6 1775.8 1948.9C1775.4 1944.2 1774.8 1929.8 1774.4 1921.6C1773.9 1913.3 1773.3 1900.4 1772.9 1890.1C1772.5 1879.8 1771.9 1862.8 1771.6 1848.1C1771.4 1833.3 1771.2 1802.2 1771.2 1785C1771.2 1767.8 1771.6 1725.2 1771.6 1725.2Z" fill="#FF0000"/>
<path d="M1812.2 1934.2C1812.9 1931.8 1815.3 1934.2 1816.4 1936.3C1817.4 1938.3 1818.9 1945.1 1819.5 1948.9C1820.1 1952.7 1820.6 1958.4 1820.6 1963.6C1820.6 1968.7 1819.5 1985.7 1819.5 1985.7L1812.2 1985.7C1812.2 1985.7 1811.1 1960.3 1811.1 1953.1C1811.1 1945.9 1811.4 1936.5 1812.2 1934.2Z" fill="#FFFF00"/>
<path d="M1817.4 1725.2L1820.8 1725.2C1820.8 1725.2 1821 1770.8 1821.2 1785C1821.4 1799.3 1822 1815.3 1822 1827C1822 1838.8 1821.4 1857.3 1821.2 1869.1C1821 1880.8 1820.6 1914 1820.4 1911.1C1820.1 1908.1 1819.8 1865.7 1819.5 1848.1C1819.3 1830.4 1819 1802.2 1818.7 1785C1818.4 1767.8 1817.4 1725.2 1817.4 1725.2Z" fill="#FFFF00"/>
<path d="M1819.5 1725.2L1861.5 1725.2C1861.5 1725.2 1862.9 1752.7 1863.6 1764C1864.4 1775.3 1865.8 1795.7 1866.8 1806C1867.8 1816.3 1870 1828.7 1871 1837.5C1872 1846.4 1873.6 1858.8 1874.1 1869.1C1874.7 1879.4 1875 1899.3 1875.2 1911.1C1875.4 1922.8 1875.8 1942.7 1875.8 1953.1C1875.8 1963.5 1875.2 1985.7 1875.2 1985.7L1843.1 1985.7C1843.1 1985.7 1842.8 1944 1842.6 1932.1C1842.4 1920.2 1842 1909.4 1841.6 1900.6C1841.1 1891.7 1840.2 1876.4 1839.5 1869.1C1838.7 1861.7 1837.4 1852.8 1836.3 1848.1C1835.3 1843.3 1833.3 1837.8 1832.1 1835.4C1830.9 1833.1 1829 1832.4 1827.9 1831.2C1826.8 1830.1 1825 1830.6 1824.1 1827C1823.3 1823.5 1822.5 1814.9 1822 1806C1821.5 1797.2 1820.9 1775.3 1820.6 1764C1820.2 1752.7 1819.5 1725.2 1819.5 1725.2Z" fill="#00FF80"/>
<path d="M1820.6 1725.2L1858.4 1725.2C1858.4 1725.2 1859 1754.2 1859.4 1764C1859.9 1773.9 1860.8 1787.3 1861.5 1795.5C1862.3 1803.8 1863.7 1817.3 1864.7 1822.8C1865.7 1828.4 1867.9 1831.9 1868.9 1835.4C1869.9 1839 1871.4 1840.4 1872 1848.1C1872.7 1855.7 1873.4 1878.3 1873.7 1890.1C1874 1901.8 1874.1 1918.7 1874.1 1932.1C1874.1 1945.5 1873.7 1985.7 1873.7 1985.7L1843.7 1985.7C1843.7 1985.7 1844.2 1962.1 1844.3 1953.1C1844.5 1944.1 1844.8 1930.4 1844.7 1921.6C1844.6 1912.8 1844 1898 1843.7 1890.1C1843.3 1882.1 1842.8 1871.3 1842.2 1864.9C1841.6 1858.4 1840.3 1849.1 1839.5 1843.8C1838.7 1838.6 1837.1 1832.9 1836.3 1827C1835.5 1821.2 1834.5 1806.8 1833.8 1801.8C1833.1 1796.8 1831.8 1790.7 1831.1 1791.3C1830.3 1791.9 1829.1 1801.9 1828.3 1806C1827.6 1810.2 1826.5 1820.7 1825.8 1820.7C1825.2 1820.7 1824.3 1812.5 1823.7 1806C1823.2 1799.6 1822.4 1782.8 1822 1774.5C1821.7 1766.3 1821.2 1754.1 1821 1747.2C1820.8 1740.3 1820.6 1725.2 1820.6 1725.2Z" fill="#00FFFF"/>
<path d="M1825.8 1725.2L1841.6 1725.2C1841.6 1725.2 1841.1 1737.6 1840.5 1743C1839.9 1748.4 1838.3 1760.2 1837.4 1764C1836.5 1767.8 1835.1 1770.3 1834.2 1770.3C1833.3 1770.3 1831.9 1767.3 1831.1 1764C1830.3 1760.8 1829.1 1752.7 1828.3 1747.2C1827.6 1741.8 1825.8 1725.2 1825.8 1725.2Z" fill="#0080FF"/>
<path d="M1831.1 1725.2L1834.6 1725.2L1833.8 1732.5L1832.5 1735.7Z" fill="#0000FF"/>
<path d="M1841.6 1725.2L1853.1 1725.2C1853.1 1725.2 1853.7 1752.7 1854.2 1764C1854.6 1775.3 1855.7 1795.7 1856.3 1806C1856.9 1816.3 1857.8 1831.1 1858.4 1837.5C1859 1844 1859.8 1849.6 1860.5 1852.3C1861.2 1854.9 1862.8 1857.6 1863.6 1856.5C1864.5 1855.3 1865.9 1846.8 1866.8 1843.8C1867.7 1840.9 1869.3 1833.4 1869.9 1835.4C1870.6 1837.5 1871.3 1849.4 1871.6 1858.6C1871.9 1867.7 1872 1888.8 1872 1900.6C1872 1912.3 1871.9 1930.7 1871.6 1942.6C1871.4 1954.5 1870.4 1985.7 1870.4 1985.7L1851.5 1985.7C1851.5 1985.7 1851 1969.6 1850.6 1963.6C1850.3 1957.6 1849.4 1949.9 1848.9 1942.6C1848.5 1935.2 1847.7 1919.9 1847.3 1911.1C1846.8 1902.3 1846.2 1888.4 1845.8 1879.6C1845.4 1870.7 1844.7 1858.3 1844.3 1848.1C1843.9 1837.8 1843.3 1817.8 1843.1 1806C1842.8 1794.3 1842.4 1775.3 1842.2 1764C1842 1752.7 1841.6 1725.2 1841.6 1725.2Z" fill="#0080FF"/>
<path d="M1859 1827L1861.5 1839.6L1863.2 1852.3L1861.5 1856.5L1859.4 1848.1Z" fill="#00FFFF"/>
<path d="M1842.2 1725.2L1851 1725.2C1851 1725.2 1851.7 1752.7 1852.1 1764C1852.4 1775.3 1853.1 1794.3 1853.6 1806C1854 1817.8 1854.6 1837.8 1855.2 1848.1C1855.9 1858.3 1857.5 1873.1 1858.4 1879.6C1859.3 1886 1860.7 1893.4 1861.5 1894.3C1862.3 1895.2 1863.5 1885 1864.1 1885.9C1864.6 1886.7 1865.2 1894.1 1865.3 1900.6C1865.4 1907 1865.1 1925.3 1864.7 1932.1C1864.3 1938.8 1863.3 1945.7 1862.6 1948.9C1861.9 1952.1 1860.6 1953.7 1859.9 1955.2C1859.1 1956.7 1858 1961.2 1857.3 1959.4C1856.7 1957.6 1855.9 1947.9 1855.2 1942.6C1854.6 1937.3 1853.4 1927.5 1852.7 1921.6C1852 1915.7 1850.7 1906.5 1850 1900.6C1849.2 1894.7 1847.9 1886.9 1847.3 1879.6C1846.6 1872.2 1845.7 1858.3 1845.2 1848.1C1844.7 1837.8 1844 1817.8 1843.7 1806C1843.3 1794.3 1842.8 1775.3 1842.6 1764C1842.4 1752.7 1842.2 1725.2 1842.2 1725.2Z" fill="#0000FF"/>
<path d="M1859 1725.2L1865.3 1725.2C1865.3 1725.2 1865 1738.2 1864.7 1743C1864.4 1747.9 1863.7 1756.6 1863.2 1759.8C1862.8 1763.1 1861.9 1767 1861.5 1766.1C1861.1 1765.2 1860.6 1759.2 1860.3 1753.5C1859.9 1747.8 1859 1725.2 1859 1725.2Z" fill="#FFFF00"/>
<path d="M1872 1725.2L1893.1 1725.2C1893.1 1725.2 1893.7 1741.2 1894.1 1747.2C1894.5 1753.2 1895.6 1768.2 1896.2 1768.2C1896.8 1768.2 1897.8 1753.2 1898.3 1747.2C1898.8 1741.2 1899.8 1725.2 1899.8 1725.2L1910.9 1725.2L1910.9 1969.9C1910.9 1969.9 1906.7 1971.9 1905.7 1974.1C1904.6 1976.3 1903.6 1985.7 1903.6 1985.7L1901.5 1985.7C1901.5 1985.7 1899.5 1973 1898.3 1969.9C1897.1 1966.8 1894.5 1965.1 1893.1 1963.6C1891.6 1962.1 1889.1 1962.3 1887.8 1959.4C1886.5 1956.5 1884.5 1949.4 1883.6 1942.6C1882.7 1935.8 1881.9 1921.4 1881.5 1911.1C1881.1 1900.8 1880.8 1880.8 1880.9 1869.1C1881 1857.3 1881.7 1837.3 1882.1 1827C1882.5 1816.7 1883.5 1800.8 1883.6 1795.5C1883.7 1790.2 1883.1 1790.7 1882.5 1789.2C1882 1787.8 1880.3 1787.1 1879.4 1785C1878.5 1783 1877 1778.9 1876.2 1774.5C1875.4 1770.1 1874.3 1760.4 1873.7 1753.5C1873.1 1746.6 1872 1725.2 1872 1725.2Z" fill="#FFFF00"/>
<path d="M1888.8 1753.5C1889.5 1753.5 1890.4 1768.6 1890.9 1774.5C1891.5 1780.4 1892.5 1790.5 1893.1 1795.5C1893.6 1800.5 1894.6 1805.8 1895.2 1810.2C1895.7 1814.6 1896.5 1821.7 1897.3 1827C1898 1832.3 1899.5 1843.3 1900.4 1848.1C1901.3 1852.8 1902.8 1858.6 1903.6 1860.7C1904.3 1862.7 1905.4 1852.8 1905.7 1862.8C1905.9 1872.8 1905.9 1920.9 1905.7 1932.1C1905.4 1943.3 1904.3 1939.9 1903.6 1942.6C1902.8 1945.2 1901.3 1950.4 1900.4 1951C1899.5 1951.6 1898.1 1948.3 1897.3 1946.8C1896.4 1945.3 1895 1942.5 1894.1 1940.5C1893.2 1938.4 1891.9 1934.7 1890.9 1932.1C1890 1929.4 1888.1 1925.1 1887.2 1921.6C1886.3 1918.1 1885.2 1912.8 1884.6 1906.9C1884.1 1901 1883.3 1887.8 1883 1879.6C1882.6 1871.3 1882.2 1856.9 1882.1 1848.1C1882.1 1839.2 1882.3 1823.9 1882.5 1816.5C1882.8 1809.2 1883.7 1801.4 1884.2 1795.5C1884.8 1789.6 1885.7 1780.4 1886.3 1774.5C1887 1768.6 1888.2 1753.5 1888.8 1753.5Z" fill="#FF8000"/>
</g>
<clipPath id="clf"><rect x="1132.1" y="1459.2" width="776.5" height="255.6"/></clipPath>
<path d="M1153.5 1600.4H1907.6" stroke="#000" stroke-width="2.3" stroke-dasharray="12.3 12.67" fill="none"/>
<path d="M1133.3 1594.7 L1135 1585.3 L1137.1 1564.2 L1139.2 1539 L1141.3 1522.2 L1143.4 1516.3 L1144.9 1514.9 L1146.3 1518 L1148 1530.6 L1150.1 1547.4 L1152.2 1560 L1154.3 1572.6 L1156.4 1589.5 L1158.5 1604.2 L1160.6 1618.9 L1162.3 1629.4 L1163.8 1634 L1165.4 1631.5 L1167.3 1623.1 L1169 1608.4 L1170.7 1602.1 L1172.2 1598.9 L1173.6 1599.5 L1175.3 1600 L1176.6 1593.7 L1177.8 1591.6 L1179.1 1593.7 L1180.6 1606.3 L1182 1627.3 L1183.7 1652.5 L1185.4 1673.5 L1186.9 1686.1 L1187.9 1688.6 L1189.4 1686.1 L1191.1 1675.6 L1193.2 1671.4 L1194.6 1665.1 L1196.3 1652.5 L1198.4 1639.9 L1200.5 1633.6 L1203.1 1627.3 L1204.7 1614.7 L1206.4 1597.9 L1207.9 1585.3 L1209.4 1574.7 L1211 1569.5 L1213.6 1565.7 L1215.7 1567.4 L1217.8 1568.4 L1219.4 1576.8 L1221.5 1589.5 L1223.6 1600 L1225.7 1608.4 L1227.8 1617.8 L1229.5 1615.7 L1231.6 1608.4 L1233.7 1595.8 L1235.8 1583.2 L1237.9 1575.8 L1240 1570.5 L1241.5 1564.2 L1242.5 1549.5 L1244.2 1528.5 L1245.7 1515.9 L1247.8 1511.7 L1249.3 1510.7 L1250.9 1503.3 L1253.1 1489.7 L1255.2 1478.1 L1257.3 1473.9 L1259.4 1473.5 L1261.5 1475 L1264.6 1475 L1266.7 1480.2 L1268.2 1492.8 L1269.9 1511.7 L1271.5 1530.6 L1273.6 1551.6 L1275.7 1566.3 L1277.8 1581.1 L1279.5 1594.7 L1280.8 1600 L1282.5 1595.8 L1284.1 1585.3 L1286.2 1570.5 L1288.3 1555.8 L1290.4 1549.5 L1293 1545.8 L1295.1 1545.8 L1297.2 1548.5 L1299.3 1551.6 L1300.9 1551.6 L1303.5 1557.9 L1305.6 1564.2 L1307.7 1576.8 L1309.8 1591.6 L1311.5 1606.3 L1313.6 1616.8 L1315.7 1626.2 L1317.1 1627.9 L1319.2 1625.2 L1321.3 1614.7 L1323 1602.1 L1324.5 1583.2 L1326.2 1568.4 L1327.6 1563.8 L1329.1 1572.6 L1330.8 1591.6 L1332.5 1614.7 L1333.9 1633.6 L1335.6 1640.9 L1337.1 1635.7 L1339.2 1618.9 L1341.3 1600 L1343.4 1581.1 L1345.5 1560 L1347.6 1543.2 L1349.7 1531.7 L1351.8 1528.1 L1353.5 1531.7 L1355.6 1537.4 L1357.7 1538 L1359.8 1534.8 L1361.9 1526.4 L1364.4 1513.8 L1366.5 1502.3 L1368.6 1490.7 L1370.3 1480.2 L1371.7 1477.1 L1373.2 1479.8 L1375.3 1488.6 L1378.1 1500.2 L1380.2 1515.9 L1382.3 1539 L1383.7 1560 L1385.4 1581.1 L1386.5 1587.4 L1387.9 1591.6 L1389.6 1602.1 L1391.3 1616.8 L1392.8 1627.3 L1394.2 1633.6 L1395.9 1633.6 L1398 1625.2 L1399.7 1619.9 L1401.2 1619.5 L1403.3 1624.1 L1404.7 1626.2 L1406.4 1621 L1408.5 1612.6 L1410.6 1602.1 L1412.7 1597.9 L1414.8 1593.7 L1416.5 1585.3 L1418 1572.6 L1419.6 1564.2 L1421.1 1563.2 L1422.8 1563.8 L1424.3 1570.5 L1426.4 1578.9 L1428.5 1588.4 L1430.6 1596.8 L1432.7 1603.1 L1434.1 1601 L1435.8 1591.6 L1437.5 1586.9 L1439 1589.5 L1441.1 1593.7 L1443.2 1592.6 L1444.6 1592 L1446.7 1594.7 L1449.5 1597.9 L1451.6 1599.5 L1453.1 1595.8 L1454.7 1589.5 L1456.2 1585.7 L1457.9 1589.5 L1460 1593.7 L1462.1 1598.9 L1464.2 1610.5 L1465.7 1623.1 L1467.3 1642 L1469 1663 L1470.1 1672.4 L1471.1 1656.7 L1472.6 1614.7 L1474.1 1572.6 L1475.7 1534.8 L1477.8 1505.4 L1479.9 1486.5 L1482 1477.1 L1484.1 1474.3 L1486.2 1475 L1488.3 1478.1 L1490.9 1486.5 L1493 1501.2 L1495.1 1518 L1496.7 1530.6 L1497.8 1533.2 L1499.3 1526.4 L1500.9 1519.1 L1502.6 1518 L1504.7 1521.2 L1506.8 1524.3 L1508.9 1524.7 L1511 1527.5 L1513.1 1539 L1514.6 1555.8 L1516.1 1578.9 L1517.3 1606.3 L1518.4 1627.3 L1519.4 1632.5 L1520.9 1621 L1523 1612.6 L1525.1 1609.4 L1527 1607.9 L1529.2 1601 L1530.7 1593.7 L1532.1 1583.2 L1533.8 1570.5 L1535.9 1557.9 L1538 1545.3 L1540.1 1532.7 L1542.2 1518 L1543.9 1505.4 L1545.4 1500.2 L1546.8 1499.1 L1548.9 1500.8 L1551 1502.9 L1553.1 1503.7 L1554.8 1501.2 L1556.5 1498.7 L1558 1499.1 L1560.1 1503.3 L1562.2 1508.6 L1564.3 1512.8 L1567 1514.9 L1569.1 1520.1 L1570.4 1523.9 L1572 1518 L1573.7 1508.6 L1575.4 1501.2 L1577.5 1497 L1579.6 1494.5 L1581.7 1495.3 L1584.2 1495.3 L1585.9 1500.2 L1587.6 1511.7 L1589.5 1530.6 L1591.6 1549.5 L1593.1 1566.3 L1594.3 1583.2 L1595.8 1602.1 L1597.3 1618.9 L1598.9 1631.5 L1600.6 1640.9 L1602.3 1645.8 L1604.2 1645.1 L1606.3 1643 L1608.4 1637.8 L1610.5 1627.3 L1612 1616.8 L1613.6 1612.1 L1615.7 1613 L1617.4 1621 L1618.9 1631.5 L1620.4 1642 L1622 1646.8 L1623.7 1645.1 L1625.2 1641.6 L1627.3 1642.4 L1629.4 1643 L1630.7 1645.8 L1632.1 1633.6 L1633.6 1614.7 L1635.1 1595.8 L1636.7 1583.2 L1638.4 1578.5 L1639.9 1579.4 L1642 1584.2 L1644.1 1589.5 L1646.2 1593.2 L1648.3 1596.2 L1649.8 1600 L1651.5 1608.4 L1653.1 1618.9 L1654.6 1625.2 L1656.1 1626.8 L1657.8 1624.1 L1659.9 1616.8 L1662 1608.4 L1663.6 1604.2 L1665.3 1600 L1666.2 1591.6 L1667.2 1572.6 L1668.7 1545.3 L1670.4 1524.3 L1672 1511.7 L1674.1 1506.5 L1676.2 1502.9 L1678.3 1499.1 L1680.4 1491.8 L1682.5 1486.5 L1684.6 1485 L1687.2 1485.5 L1689.3 1484.4 L1691.4 1487.6 L1693.5 1493.9 L1695.6 1503.3 L1697.3 1515.9 L1698.9 1525.4 L1700.4 1522.2 L1701.9 1513.8 L1703.6 1506.5 L1705.7 1502.9 L1707.8 1504.4 L1710.3 1505.4 L1712.4 1504.4 L1714.1 1507.5 L1715.5 1515.9 L1717 1530.6 L1718.3 1545.3 L1719.7 1556.9 L1721.2 1557.9 L1722.9 1545.3 L1724.6 1530.6 L1726 1524.3 L1728.1 1522.2 L1730.2 1519.1 L1732.3 1511.7 L1734 1505.4 L1735.5 1503.7 L1737.2 1509.6 L1738.6 1524.3 L1740.1 1543.2 L1741.8 1564.2 L1743.5 1583.2 L1745.6 1604.2 L1747.7 1621 L1749.8 1632.5 L1751.9 1639.5 L1754 1634.6 L1756.1 1625.2 L1758.2 1610.5 L1760.3 1591.6 L1762.4 1578.9 L1764.5 1570.5 L1766.6 1557.9 L1768.1 1539 L1769.5 1513.8 L1770.8 1492.8 L1771.8 1482.3 L1773.7 1478.5 L1775.8 1475 L1777.5 1473.5 L1779.6 1475 L1782.1 1475.6 L1784.9 1477.7 L1788 1477.7 L1791.2 1479.2 L1793.3 1479.8 L1796 1479.2 L1798.5 1481.9 L1801 1486.1 L1803.8 1487.6 L1806.5 1488.6 L1809 1491.8 L1811.1 1493.4 L1813.2 1491.8 L1814.9 1496 L1816.4 1505.4 L1817.8 1522.2 L1819.5 1543.2 L1821.2 1562.1 L1822.7 1573.7 L1824.1 1572.6 L1825.8 1566.3 L1827.5 1563.2 L1829 1568.4 L1830.4 1575.8 L1832.1 1581.1 L1834.2 1581.1 L1836.3 1577.9 L1838 1581.1 L1839.5 1593.7 L1840.9 1618.9 L1842.2 1644.1 L1843.7 1669.3 L1845.2 1688.2 L1846.4 1696.6 L1847.9 1700.8 L1849.6 1698.7 L1851.5 1692.4 L1853.6 1684 L1855.7 1675.6 L1857.3 1667.2 L1859 1654.6 L1860.5 1646.2 L1862 1645.1 L1863.6 1650.4 L1865.3 1656.7 L1866.8 1661.9 L1868.3 1664.5 L1869.9 1658.8 L1871.2 1644.1 L1872.5 1623.1 L1874.1 1602.1 L1875.8 1581.1 L1877.9 1555.8 L1880 1534.8 L1882.1 1518 L1883.6 1510.7 L1885.7 1505.4 L1887.8 1502.3 L1889.9 1500.2 L1892 1504.4 L1894.7 1511.7 L1897.3 1519.1 L1899.8 1524.3 L1902.5 1527.5 L1904 1528.1 L1905.7 1524.3 L1907.8 1514.9" stroke="#0000FF" stroke-width="2.35" fill="none" stroke-linejoin="round" stroke-linecap="round" clip-path="url(#clf)"/>
<path d="M1133.1 1459.2H1907.6V1714.8H1133.1ZM1133.1 1448.6V1993.6M1907.6 1448.6V1993.6M1122.5 1727.6H1918.2M1122.5 1983H1918.2M1133.1 1459.2v-10.6M1133.1 1714.8v10.6M1133.1 1983v10.6M1197.6 1459.2v-6M1197.6 1714.8v6M1197.6 1983v6M1262.2 1459.2v-10.6M1262.2 1714.8v10.6M1262.2 1983v10.6M1326.7 1459.2v-6M1326.7 1714.8v6M1326.7 1983v6M1391.3 1459.2v-10.6M1391.3 1714.8v10.6M1391.3 1983v10.6M1455.8 1459.2v-6M1455.8 1714.8v6M1455.8 1983v6M1520.3 1459.2v-10.6M1520.3 1714.8v10.6M1520.3 1983v10.6M1584.9 1459.2v-6M1584.9 1714.8v6M1584.9 1983v6M1649.4 1459.2v-10.6M1649.4 1714.8v10.6M1649.4 1983v10.6M1714 1459.2v-6M1714 1714.8v6M1714 1983v6M1778.5 1459.2v-10.6M1778.5 1714.8v10.6M1778.5 1983v10.6M1843.1 1459.2v-6M1843.1 1714.8v6M1843.1 1983v6M1907.6 1459.2v-10.6M1907.6 1714.8v10.6M1907.6 1983v10.6M1133.1 1705.6h-6M1907.6 1705.6h6M1133.1 1690.6h-10.6M1907.6 1690.6h10.6M1133.1 1675.6h-6M1907.6 1675.6h6M1133.1 1660.5h-10.6M1907.6 1660.5h10.6M1133.1 1645.5h-6M1907.6 1645.5h6M1133.1 1630.5h-10.6M1907.6 1630.5h10.6M1133.1 1615.4h-6M1907.6 1615.4h6M1133.1 1600.4h-10.6M1907.6 1600.4h10.6M1133.1 1585.4h-6M1907.6 1585.4h6M1133.1 1570.3h-10.6M1907.6 1570.3h10.6M1133.1 1555.3h-6M1907.6 1555.3h6M1133.1 1540.3h-10.6M1907.6 1540.3h10.6M1133.1 1525.2h-6M1907.6 1525.2h6M1133.1 1510.2h-10.6M1907.6 1510.2h10.6M1133.1 1495.2h-6M1907.6 1495.2h6M1133.1 1480.2h-10.6M1907.6 1480.2h10.6M1133.1 1465.1h-6M1907.6 1465.1h6M1133.1 1957.5h-6M1907.6 1957.5h6M1133.1 1931.9h-10.6M1907.6 1931.9h10.6M1133.1 1906.4h-6M1907.6 1906.4h6M1133.1 1880.8h-10.6M1907.6 1880.8h10.6M1133.1 1855.3h-6M1907.6 1855.3h6M1133.1 1829.8h-10.6M1907.6 1829.8h10.6M1133.1 1804.2h-6M1907.6 1804.2h6M1133.1 1778.7h-10.6M1907.6 1778.7h10.6M1133.1 1753.1h-6M1907.6 1753.1h6" stroke="#000" stroke-width="1.7" fill="none" stroke-linecap="butt"/>
<g font-size="20.6" text-anchor="end">
<text x="1114.5" y="1485.5">0,8</text>
<text x="1114.5" y="1515.5">0,6</text>
<text x="1114.5" y="1545.6">0,4</text>
<text x="1114.5" y="1575.6">0,2</text>
<text x="1114.5" y="1605.7">0,0</text>
<text x="1114.5" y="1635.8">-0,2</text>
<text x="1114.5" y="1665.8">-0,4</text>
<text x="1114.5" y="1695.9">-0,6</text>
<text x="1114.5" y="1988.3">10</text>
<text x="1114.5" y="1937.2">20</text>
<text x="1114.5" y="1886.1">30</text>
<text x="1114.5" y="1835.1">40</text>
<text x="1114.5" y="1784">50</text>
<text x="1114.5" y="1732.9">60</text>
</g>
<g font-size="20.6" text-anchor="middle">
<text x="1133.1" y="2015.7">2016,0</text>
<text x="1262.2" y="2015.7">2016,5</text>
<text x="1391.3" y="2015.7">2017,0</text>
<text x="1520.3" y="2015.7">2017,5</text>
<text x="1649.4" y="2015.7">2018,0</text>
<text x="1778.5" y="2015.7">2018,5</text>
<text x="1907.6" y="2015.7">2019,0</text>
</g>
<text x="1520.3" y="2061.7" font-size="32" text-anchor="middle">Year</text>
<text transform="translate(1058.2 1678.1) rotate(-90)" font-size="31.8">Intensity <tspan font-size="24" dx="0.5">σ</tspan></text>
<text transform="translate(1065.8 1928.4) rotate(-90)" font-size="31.8">Scale <tspan font-size="24" dx="-1.2">ν</tspan></text>
<text x="1923.4" y="1605.4" font-size="32.5">(f)</text>
<rect x="1918.6" y="1725.8" width="38.6" height="26.1" fill="#000000"/>
<rect x="1918.6" y="1751.6" width="38.6" height="26.1" fill="#0000FF"/>
<rect x="1918.6" y="1777.3" width="38.6" height="26.1" fill="#0080FF"/>
<rect x="1918.6" y="1803.1" width="38.6" height="26.1" fill="#00FFFF"/>
<rect x="1918.6" y="1828.9" width="38.6" height="26.1" fill="#00FF80"/>
<rect x="1918.6" y="1854.6" width="38.6" height="26.1" fill="#00FF00"/>
<rect x="1918.6" y="1880.4" width="38.6" height="26.1" fill="#FFFF00"/>
<rect x="1918.6" y="1906.2" width="38.6" height="26.1" fill="#FF8000"/>
<rect x="1918.6" y="1931.9" width="38.6" height="25.8" fill="#FF0000"/>
<g font-size="14" letter-spacing="0.45">
<text x="1963.8" y="1757.3">-0,76</text>
<text x="1963.8" y="1783">-0,55</text>
<text x="1963.8" y="1808.8">-0,33</text>
<text x="1963.8" y="1834.6">-0,12</text>
<text x="1963.8" y="1860.3">0,090</text>
<text x="1963.8" y="1886.1">0,30</text>
<text x="1963.8" y="1911.9">0,52</text>
<text x="1963.8" y="1937.6">0,73</text>
<text x="1963.8" y="1963.4">0,94</text>
</g>
</g>
</svg></body></html>
